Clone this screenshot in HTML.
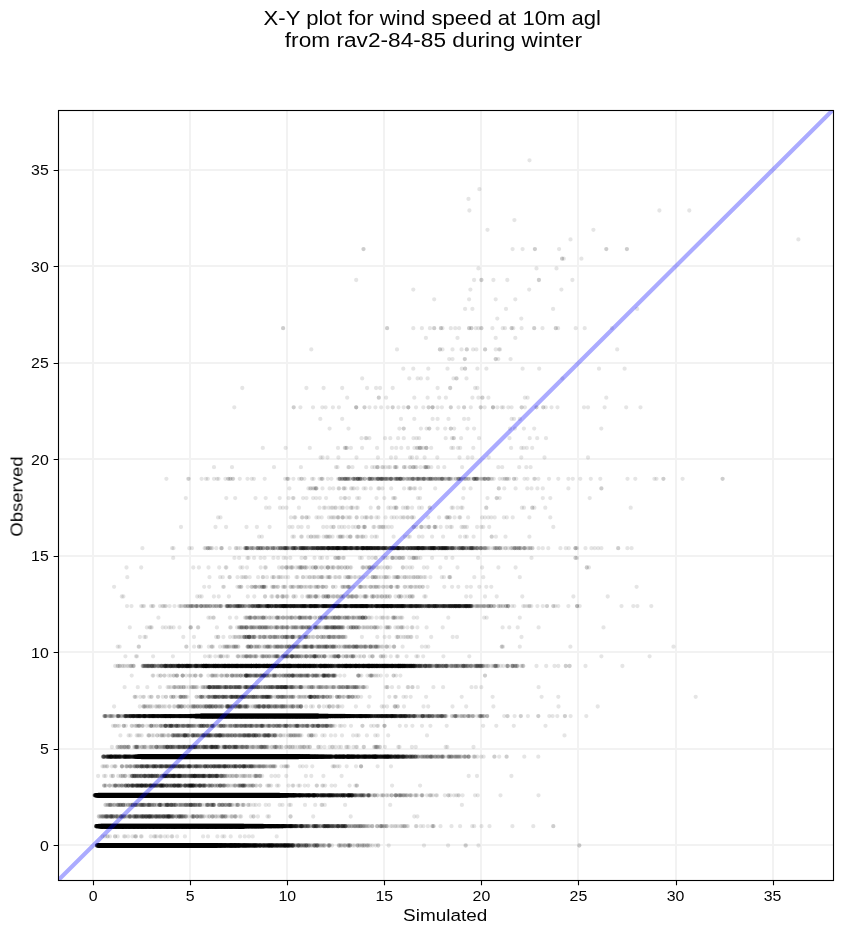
<!DOCTYPE html>
<html><head><meta charset="utf-8"><title>X-Y plot</title>
<style>html,body{margin:0;padding:0;background:#fff}svg{display:block}</style></head>
<body>
<svg width="843" height="934" viewBox="0 0 843 934">
<rect width="843" height="934" fill="#fff"/>
<clipPath id="c"><rect x="58.5" y="110.5" width="775.0" height="770.0"/></clipPath>
<g clip-path="url(#c)">
<path d="M93 110.5V880.5M190 110.5V880.5M287 110.5V880.5M384 110.5V880.5M481 110.5V880.5M578 110.5V880.5M676 110.5V880.5M773 110.5V880.5M58.5 845H833.5M58.5 749H833.5M58.5 652H833.5M58.5 556H833.5M58.5 459H833.5M58.5 363H833.5M58.5 266H833.5M58.5 170H833.5" stroke="#b0b0b0" stroke-opacity="0.16" stroke-width="2" fill="none"/>
<g fill="none" stroke="#000" stroke-linecap="round" stroke-width="4.3">
<path stroke-opacity="0.5" stroke-width="4.5" d="M97.1 845.5H238.6M96.3 826.2H282.3M96.2 795.3H295.0M136.2 756.7H328.5M190.4 716.1H344.9"/>
<path stroke-opacity="0.85" stroke-width="4.8" d="M99.4 845.5H216.1M98.8 826.2H263.0M97.2 795.3H287.2M139.0 756.7H308.5M195.7 716.1H327.9"/>
<path stroke-opacity="1" stroke-width="5.0" d="M101.6 845.5H193.1M101.3 826.2H243.3M98.5 795.3H279.2M141.5 756.7H298.2M201.4 716.1H317.7"/>
<g stroke-opacity="0.1">
<path d="M536.5 268.4h0m-55.1 59.8h0m-170.1 21.2h0m-69 38.6h0m150.4 19.3h0m-50.5 11.6h0m74.4 19.3h0m3.1 9.7h0m-23.9 9.6h0m-58.3 9.7h0m-135.9 11.6h0m143.7 0h0m27 0h0m24 0h0m27.3 0h0m29.5 0h0m37.7 0h0m-80.5 9.6h0m52.9 9.7h0m24.3 0h0m-131.1 9.6h0m55.6 9.7h0m-53.8 9.6h0m-30.4 9.7h0m-70.8 11.5h0m27.4 0h0m16.8 0h0m13.6 0h0m11.1 0h0m9.1 0h0m8.5 0h0m8.4 0h0m11 0h0m7.9 0h0m9.3 0h0m12.5 0h0m9.7 0h0m12.3 0h0m8.9 0h0m10.4 0h0m10.7 0h0m16 0h0m17.4 0h0m45.6 0h0m74.5 0h0m-333.5 9.7h0m151.6 0h0m-197 9.6h0m113.2 0h0m-11.4 9.7h0m83.6 0h0m-290.5 9.6h0m184.8 0h0m74.2 0h0m-63.8 9.7h0m55.4 0h0m-167.1 9.6h0m33.1 0h0m21.8 0h0m13.9 0h0m9.6 0h0m8.2 0h0m8.1 0h0m8.9 0h0m8 0h0m6.8 0h0m8.7 0h0m8.1 0h0m5.4 0h0m7.2 0h0m7.1 0h0m7 0h0m5.3 0h0m7.4 0h0m7.7 0h0m6.2 0h0m5.5 0h0m7.8 0h0m8.2 0h0m9.2 0h0m12.1 0h0m10.4 0h0m10.9 0h0m8.6 0h0m9.3 0h0m25.8 0h0m-249 11.6h0m44.6 0h0m38.7 0h0m34.7 0h0m-146 9.7h0m48.5 0h0m37.3 0h0m29.5 0h0m31.3 0h0m154.2 0h0m-273.2 9.6h0m32 0h0m34 0h0m93 0h0m-180.3 9.7h0m47.1 0h0m28.6 0h0m26.4 0h0m30.8 0h0m65.8 0h0m-157 9.6h0m27.2 0h0m25.1 0h0m41.8 0h0m-206.4 9.7h0m16.3 0h0m10.3 0h0m8.1 0h0m9.1 0h0m8 0h0m5.4 0h0m6.6 0h0m6.3 0h0m5.6 0h0m5.5 0h0m4.9 0h0m6.4 0h0m5.5 0h0m5.1 0h0m4.3 0h0m5.8 0h0m4.4 0h0m5 0h0m5.4 0h0m5.1 0h0m4.3 0h0m6.5 0h0m5.9 0h0m5.7 0h0m6.2 0h0m7.5 0h0m6.1 0h0m7.5 0h0m8.7 0h0m5.6 0h0m5.8 0h0m5 0h0m6.4 0h0m4 0h0m5 0h0m5.5 0h0m4.7 0h0m5.9 0h0m5.9 0h0m4.7 0h0m6 0h0m6.6 0h0m14.5 0h0m19.7 0h0m25.2 0h0m33.3 0h0m-312.7 9.6h0m51.4 0h0m18.3 0h0m27.4 0h0m24.2 0h0m41.5 0h0m-190.4 11.6h0m45.1 0h0m18.1 0h0m19.6 0h0m21.3 0h0m14.3 0h0m27.8 0h0m38.5 0h0m-189.5 9.6h0m50.8 0h0m18.6 0h0m15.6 0h0m19.2 0h0m26.5 0h0m30.2 0h0m-129.1 9.7h0m27.6 0h0m23 0h0m25.1 0h0m29.9 0h0m-191.2 9.6h0m20.5 0h0m8.1 0h0m6.6 0h0m7 0h0m6 0h0m6.1 0h0m4.9 0h0m4.9 0h0m6 0h0m4.8 0h0m5.1 0h0m5.3 0h0m3.4 0h0m5.2 0h0m4.9 0h0m4.3 0h0m4.4 0h0m5.5 0h0m5.4 0h0m5.1 0h0m4.4 0h0m4.8 0h0m4.4 0h0m4.9 0h0m4.9 0h0m5 0h0m4.8 0h0m7.1 0h0m4 0h0m4.7 0h0m5.1 0h0m4.3 0h0m5 0h0m3.7 0h0m5.3 0h0m5.2 0h0m4.8 0h0m5 0h0m5.6 0h0m4.4 0h0m4.7 0h0m4.6 0h0m4.6 0h0m4 0h0m3.9 0h0m5.6 0h0m4.9 0h0m5.6 0h0m8 0h0m7.6 0h0m7.8 0h0m8.5 0h0m9.4 0h0m18.6 0h0m26.9 0h0m-291.2 9.7h0m18.9 0h0m21.8 0h0m26.7 0h0m22.2 0h0m24.9 0h0m24.6 0h0m24.1 0h0m-206.2 9.6h0m63.5 0h0m19.5 0h0m16.5 0h0m23.9 0h0m19.5 0h0m30.9 0h0m270.3 0h0m-428.2 11.6h0m33.3 0h0m18.4 0h0m16.9 0h0m17.5 0h0m19.2 0h0m33.1 0h0m100.2 0h0m-266.7 9.7h0m7 0h0m8.7 0h0m5.8 0h0m6.9 0h0m4.5 0h0m5.9 0h0m3.9 0h0m4.5 0h0m4.9 0h0m4.6 0h0m5.2 0h0m4.6 0h0m3.6 0h0m4.6 0h0m4.7 0h0m4.5 0h0m5.8 0h0m3.8 0h0m3.8 0h0m5.1 0h0m5 0h0m4.7 0h0m3.7 0h0m4.5 0h0m5.2 0h0m5.1 0h0m5.7 0h0m5.5 0h0m4.7 0h0m4.3 0h0m4.5 0h0m4.2 0h0m4.1 0h0m5.2 0h0m4.3 0h0m4.2 0h0m4.1 0h0m4.9 0h0m4.9 0h0m4.2 0h0m4.4 0h0m4.1 0h0m3.6 0h0m4.5 0h0m5.4 0h0m6.1 0h0m6.4 0h0m4.8 0h0m4.8 0h0m4.2 0h0m5.5 0h0m6.2 0h0m5.5 0h0m5.5 0h0m5.9 0h0m6.6 0h0m7.1 0h0m8.9 0h0m12.8 0h0m32.6 0h0m-336.6 9.6h0m34.3 0h0m15.6 0h0m15.4 0h0m15.5 0h0m18.4 0h0m14.8 0h0m17.5 0h0m21.6 0h0m-129.6 9.7h0m16.6 0h0m14.6 0h0m11.3 0h0m13.9 0h0m11.6 0h0m13.8 0h0m42.7 0h0m-144.3 9.6h0m20.7 0h0m10.2 0h0m12.9 0h0m13.1 0h0m14.8 0h0m11.6 0h0m21.3 0h0m31.9 0h0m-156.1 9.7h0m6 0h0m5.1 0h0m4.1 0h0m5.1 0h0m5.3 0h0m4.1 0h0m4.8 0h0m3.8 0h0m4.2 0h0m3.7 0h0m4.6 0h0m3.9 0h0m4.7 0h0m5.8 0h0m4.7 0h0m4.3 0h0m4.7 0h0m4.4 0h0m3.8 0h0m4.5 0h0m5.3 0h0m3.7 0h0m4.7 0h0m4.5 0h0m5.4 0h0m4.5 0h0m5.2 0h0m4.1 0h0m4 0h0m4.8 0h0m3.9 0h0m4.9 0h0m5.3 0h0m4.6 0h0m3.8 0h0m3.9 0h0m5.2 0h0m5.3 0h0m3.8 0h0m3.8 0h0m4.2 0h0m4.7 0h0m5 0h0m4.8 0h0m5.3 0h0m6.2 0h0m5.6 0h0m8.1 0h0m8.1 0h0m9.5 0h0m8.9 0h0m10.9 0h0m36.2 0h0m-262.9 9.6h0m22.5 0h0m20.4 0h0m24 0h0m29.9 0h0m-109.4 11.6h0m21 0h0m14.7 0h0m14.3 0h0m27 0h0m93.3 0h0m-191.9 9.7h0m3.9 0h0m4.3 0h0m4 0h0m4.7 0h0m4.9 0h0m3.1 0h0m5.3 0h0m4.9 0h0m4.8 0h0m4.5 0h0m5.9 0h0m4.7 0h0m5.2 0h0m4.7 0h0m4.7 0h0m4.6 0h0m3.2 0h0m5.8 0h0m4.8 0h0m5.4 0h0m6.5 0h0m4.7 0h0m4.7 0h0m4.6 0h0m4.2 0h0m5 0h0m5.4 0h0m4.5 0h0m5 0h0m4 0h0m3.7 0h0m4 0h0m5 0h0m4.6 0h0m4.9 0h0m4.7 0h0m3.7 0h0m4.6 0h0m6.1 0h0m5.3 0h0m6.5 0h0m11.5 0h0m18.2 0h0m13.5 0h0m17.4 0h0m48.4 0h0m-153.9 10.2h0m-146.9 9.1h0m5.1 0h0m5 0h0m3.6 0h0m5.1 0h0m5.2 0h0m4.5 0h0m5.1 0h0m5.3 0h0m5.2 0h0m4.1 0h0m4.3 0h0m4.7 0h0m5.5 0h0m4.5 0h0m5.1 0h0m5 0h0m5.8 0h0m4.7 0h0m5.3 0h0m4.8 0h0m4.4 0h0m3.9 0h0m4 0h0m4.5 0h0m3.6 0h0m4.4 0h0m4.7 0h0m3.9 0h0m4.5 0h0m4.7 0h0m4.6 0h0m5.4 0h0m5.9 0h0m7.6 0h0m6.2 0h0m8.2 0h0m7.2 0h0m11.1 0h0m24.1 0h0m55.6 0h0"/>
<path d="M556.5 268.4h0m-64.1 59.8h0m-95.4 21.2h0m-90.6 38.6h0m92 19.3h0m2.6 11.6h0m18.1 19.3h0m.6 9.7h0m-9.6 9.6h0m-61.8 9.7h0m-142.4 11.6h0m139.5 0h0m27.1 0h0m24.1 0h0m27.1 0h0m32 0h0m36.3 0h0m-81.5 9.6h0m86.2 9.7h0m-139 9.6h0m56.1 9.7h0m-55.2 9.6h0m-29.4 9.7h0m-71.3 11.5h0m26.6 0h0m17 0h0m13.5 0h0m11.2 0h0m9.1 0h0m8.3 0h0m9.1 0h0m10.2 0h0m8 0h0m9.4 0h0m12.4 0h0m9.9 0h0m12.3 0h0m8.8 0h0m10.5 0h0m10.9 0h0m15.8 0h0m19.5 0h0m43.6 0h0m77.4 0h0m-328 9.7h0m144.6 0h0m-192.3 9.6h0m107.7 0h0m-12 9.7h0m83.3 0h0m-200.5 9.6h0m96.2 0h0m73.8 0h0m-63.9 9.7h0m54.9 0h0m-167.2 9.6h0m33.5 0h0m21.1 0h0m14 0h0m9.4 0h0m8.3 0h0m8.7 0h0m8.3 0h0m8.1 0h0m6.8 0h0m8.6 0h0m8.2 0h0m5.5 0h0m6.9 0h0m7.6 0h0m6.6 0h0m5.2 0h0m7.7 0h0m7.4 0h0m6.3 0h0m5.5 0h0m7.9 0h0m8.6 0h0m8.7 0h0m12 0h0m10.5 0h0m11.1 0h0m8.5 0h0m9.2 0h0m26.2 0h0m-248.1 11.6h0m43.9 0h0m39.5 0h0m33.3 0h0m-132.9 9.7h0m36.4 0h0m36.6 0h0m29.6 0h0m32.2 0h0m173.7 0h0m-293.6 9.6h0m32.5 0h0m35.4 0h0m92.5 0h0m-180.9 9.7h0m46.6 0h0m28.1 0h0m26.2 0h0m30.8 0h0m69.5 0h0m-159.5 9.6h0m25.9 0h0m26.6 0h0m42.1 0h0m-245.6 9.7h0m38.6 0h0m15.6 0h0m10 0h0m8 0h0m9.1 0h0m8.4 0h0m4.9 0h0m6.8 0h0m6.8 0h0m4.9 0h0m5.7 0h0m5.2 0h0m6 0h0m5.4 0h0m5.1 0h0m4.3 0h0m6.1 0h0m4.4 0h0m4.7 0h0m5.5 0h0m5.5 0h0m4 0h0m7 0h0m5.2 0h0m5.7 0h0m6.2 0h0m7.5 0h0m6.3 0h0m8.5 0h0m7.6 0h0m5.6 0h0m5.7 0h0m5.7 0h0m5.8 0h0m4 0h0m4.9 0h0m5.5 0h0m4.8 0h0m5.9 0h0m6 0h0m4.5 0h0m6.1 0h0m6.7 0h0m14.5 0h0m20.7 0h0m24.1 0h0m36.6 0h0m-315.3 9.6h0m50.7 0h0m19.5 0h0m26.4 0h0m24.1 0h0m41.4 0h0m-189.1 11.6h0m43.9 0h0m18 0h0m20.1 0h0m21 0h0m14.1 0h0m29.9 0h0m36.9 0h0m-187 9.6h0m48.8 0h0m17.5 0h0m16.4 0h0m18.7 0h0m27.1 0h0m29.6 0h0m-128.9 9.7h0m27.5 0h0m22.8 0h0m25.4 0h0m30.1 0h0m-191 9.6h0m20.2 0h0m7.5 0h0m6.8 0h0m7.3 0h0m5.5 0h0m6.2 0h0m4.9 0h0m4.9 0h0m6 0h0m4.9 0h0m4.9 0h0m5.3 0h0m3.5 0h0m5.2 0h0m4.8 0h0m4.3 0h0m4.4 0h0m5.6 0h0m5.4 0h0m5.2 0h0m4.5 0h0m4.6 0h0m4.3 0h0m5 0h0m4.9 0h0m4.9 0h0m5.1 0h0m6.8 0h0m4.2 0h0m4.5 0h0m5.2 0h0m4.3 0h0m4.9 0h0m3.7 0h0m5.4 0h0m5.1 0h0m5.1 0h0m4.9 0h0m5.5 0h0m4.5 0h0m4.7 0h0m4.7 0h0m4.3 0h0m4 0h0m3.9 0h0m5.6 0h0m5 0h0m5.7 0h0m7.9 0h0m7.6 0h0m7.8 0h0m8.5 0h0m9.4 0h0m18.7 0h0m27.4 0h0m-290.4 9.7h0m18 0h0m21.2 0h0m27.6 0h0m21.6 0h0m25.8 0h0m23.8 0h0m24 0h0m156.3 0h0m-354.6 9.6h0m55.4 0h0m19.6 0h0m16.4 0h0m24 0h0m19.9 0h0m31.6 0h0m-158.6 11.6h0m33.4 0h0m17.9 0h0m17.1 0h0m18.4 0h0m18.5 0h0m32.9 0h0m100.7 0h0m-267.6 9.7h0m7.3 0h0m8.7 0h0m5.5 0h0m7 0h0m4.6 0h0m5.8 0h0m3.9 0h0m4.7 0h0m4.7 0h0m4.5 0h0m5.3 0h0m4.5 0h0m3.6 0h0m4.6 0h0m4.7 0h0m4.5 0h0m5.9 0h0m3.8 0h0m3.8 0h0m5 0h0m5 0h0m4.7 0h0m3.9 0h0m4.4 0h0m5.3 0h0m4.9 0h0m5.8 0h0m5.6 0h0m4.6 0h0m4.3 0h0m4.6 0h0m4.2 0h0m4 0h0m5.1 0h0m4.3 0h0m4.4 0h0m4 0h0m5 0h0m5 0h0m4 0h0m4.5 0h0m3.9 0h0m3.7 0h0m4.7 0h0m5.1 0h0m6.3 0h0m6.2 0h0m4.9 0h0m4.7 0h0m4.2 0h0m5.6 0h0m6.1 0h0m5.8 0h0m5.3 0h0m5.9 0h0m6.5 0h0m7.5 0h0m8.5 0h0m14.6 0h0m31.3 0h0m-334.8 9.6h0m32.5 0h0m15.3 0h0m15.3 0h0m16.1 0h0m17.7 0h0m15 0h0m17.6 0h0m22.1 0h0m-129.9 9.7h0m16.5 0h0m14.8 0h0m11 0h0m14.4 0h0m11.3 0h0m13.7 0h0m42.6 0h0m-144.3 9.6h0m20.5 0h0m10.2 0h0m13.3 0h0m13.7 0h0m13.9 0h0m11.7 0h0m21.4 0h0m32.4 0h0m-157 9.7h0m6 0h0m5.3 0h0m4.1 0h0m4.9 0h0m5.6 0h0m3.9 0h0m4.8 0h0m4 0h0m4 0h0m3.7 0h0m4.6 0h0m4 0h0m4.5 0h0m6 0h0m4.5 0h0m4.4 0h0m4.7 0h0m4.4 0h0m3.7 0h0m4.6 0h0m5.3 0h0m3.8 0h0m4.7 0h0m4.4 0h0m5.3 0h0m4.5 0h0m5.2 0h0m4.3 0h0m3.9 0h0m5 0h0m3.9 0h0m4.7 0h0m5.3 0h0m4.5 0h0m3.8 0h0m4 0h0m5.2 0h0m5.3 0h0m3.7 0h0m3.9 0h0m4.1 0h0m4.9 0h0m5 0h0m4.8 0h0m5.2 0h0m6.1 0h0m5.7 0h0m8.2 0h0m8 0h0m9.8 0h0m8.5 0h0m11.5 0h0m36.1 0h0m-261.6 9.6h0m22.1 0h0m19.3 0h0m23.8 0h0m30.1 0h0m-109.5 11.6h0m20.9 0h0m14.7 0h0m14.5 0h0m27.4 0h0m115.2 0h0m-214.5 9.7h0m3.9 0h0m4.5 0h0m4.2 0h0m4.5 0h0m4.8 0h0m3 0h0m5.3 0h0m4.9 0h0m4.8 0h0m4.7 0h0m6 0h0m4.4 0h0m5.4 0h0m4.5 0h0m4.7 0h0m4.7 0h0m3.2 0h0m5.8 0h0m4.8 0h0m5.4 0h0m6.5 0h0m4.6 0h0m4.7 0h0m4.6 0h0m4.2 0h0m5 0h0m5.5 0h0m4.5 0h0m4.9 0h0m4.4 0h0m3.3 0h0m4.1 0h0m5 0h0m4.7 0h0m4.7 0h0m4.7 0h0m3.9 0h0m4.6 0h0m6 0h0m5.4 0h0m7 0h0m10.9 0h0m18.2 0h0m13.7 0h0m17.9 0h0m48.9 0h0m-151.4 10.2h0m-155.6 9.1h0m4.9 0h0m5.1 0h0m5.2 0h0m3.4 0h0m5.1 0h0m5.3 0h0m4.5 0h0m5.1 0h0m5.2 0h0m5.3 0h0m4.1 0h0m4.3 0h0m4.7 0h0m5.4 0h0m4.6 0h0m5 0h0m5 0h0m5.9 0h0m4.6 0h0m5.4 0h0m4.7 0h0m4.4 0h0m4 0h0m4 0h0m4.5 0h0m3.7 0h0m4.2 0h0m4.7 0h0m4 0h0m4.7 0h0m4.4 0h0m4.6 0h0m5.7 0h0m5.9 0h0m7.4 0h0m6.4 0h0m7.9 0h0m7.3 0h0m11.9 0h0m24.4 0h0m64.7 0h0"/>
<path d="M356.2 280h0m146.5 48.2h0m-62.8 21.2h0m-116.3 38.6h0m80.1 19.3h0m10.6 11.6h0m31.4 19.3h0m-25.4 9.7h0m-8.2 9.6h0m-63.1 9.7h0m-141.2 11.6h0m138.6 0h0m27.2 0h0m23.6 0h0m26.6 0h0m32.2 0h0m37.8 0h0m-79.9 9.6h0m82.8 9.7h0m-126 9.6h0m-152.6 9.7h0m210.1 0h0m-69.3 9.6h0m-28.9 9.7h0m-71.9 11.5h0m26.6 0h0m16.9 0h0m13.6 0h0m12.2 0h0m8.5 0h0m7.7 0h0m9.1 0h0m10.3 0h0m7.9 0h0m9.5 0h0m12.8 0h0m9.8 0h0m12 0h0m8.8 0h0m10.7 0h0m10.8 0h0m16.4 0h0m18.7 0h0m44.1 0h0m93.7 0h0m-340.1 9.7h0m142.4 0h0m-194.1 9.6h0m107.5 0h0m-11.8 9.7h0m84.5 0h0m-197.4 9.6h0m91.9 0h0m74.7 0h0m-65 9.7h0m54.8 0h0m-165 9.6h0m31.6 0h0m20.5 0h0m14.1 0h0m9.7 0h0m8 0h0m8.6 0h0m8.3 0h0m8.5 0h0m6.3 0h0m8.8 0h0m8.1 0h0m5.6 0h0m7 0h0m7.4 0h0m6.5 0h0m5.4 0h0m7.5 0h0m7.6 0h0m6.2 0h0m5.5 0h0m7.9 0h0m8.6 0h0m8.8 0h0m12.1 0h0m10.4 0h0m10.9 0h0m8.6 0h0m9.2 0h0m30.1 0h0m-251.9 11.6h0m44.9 0h0m38.5 0h0m33.2 0h0m-132.2 9.7h0m35.9 0h0m37 0h0m29.3 0h0m33.7 0h0m236.7 0h0m-357.1 9.6h0m31.2 0h0m36.2 0h0m93.7 0h0m-182.2 9.7h0m48.4 0h0m25.7 0h0m26.1 0h0m31.1 0h0m71.7 0h0m-302.9 9.6h0m141.3 0h0m25.9 0h0m26.4 0h0m45 0h0m-246.4 9.7h0m36.3 0h0m15.6 0h0m10 0h0m7.9 0h0m9.2 0h0m8.3 0h0m5 0h0m6.8 0h0m6.7 0h0m4.9 0h0m5.7 0h0m5.5 0h0m5.7 0h0m5.5 0h0m5.3 0h0m4.1 0h0m6.3 0h0m4.4 0h0m4.5 0h0m5.4 0h0m5.5 0h0m4.1 0h0m7 0h0m5.3 0h0m6 0h0m5.9 0h0m7.4 0h0m6.2 0h0m8.5 0h0m7.8 0h0m5.5 0h0m5.7 0h0m5.6 0h0m5.8 0h0m4 0h0m5 0h0m5.8 0h0m4.5 0h0m5.9 0h0m6.1 0h0m4.3 0h0m6.1 0h0m6.7 0h0m14.5 0h0m21.1 0h0m24.6 0h0m36.6 0h0m-311.8 9.6h0m46.4 0h0m19.5 0h0m26.3 0h0m24.4 0h0m41.5 0h0m-187.7 11.6h0m42.4 0h0m17.8 0h0m20.1 0h0m21.3 0h0m13.8 0h0m31.8 0h0m35.6 0h0m-187.5 9.6h0m48.7 0h0m17.8 0h0m16.6 0h0m18.2 0h0m30.7 0h0m27 0h0m-129.4 9.7h0m30 0h0m19.9 0h0m26.1 0h0m29.2 0h0m-190.7 9.6h0m20.1 0h0m7.4 0h0m6.8 0h0m7.3 0h0m5.5 0h0m6.3 0h0m4.7 0h0m5 0h0m5.9 0h0m5 0h0m4.9 0h0m5.2 0h0m3.6 0h0m5.2 0h0m4.7 0h0m4.4 0h0m4.4 0h0m5.6 0h0m5.5 0h0m5.1 0h0m4.5 0h0m4.5 0h0m4.4 0h0m4.9 0h0m5 0h0m4.9 0h0m5.1 0h0m7 0h0m4.1 0h0m4.5 0h0m5 0h0m4.3 0h0m5 0h0m3.6 0h0m5.5 0h0m5.2 0h0m5 0h0m4.9 0h0m5.4 0h0m4.6 0h0m4.7 0h0m4.7 0h0m4.3 0h0m3.9 0h0m4 0h0m5.6 0h0m4.9 0h0m6 0h0m7.7 0h0m7.8 0h0m7.5 0h0m8.5 0h0m9.6 0h0m19.1 0h0m26.9 0h0m-290.3 9.7h0m17.9 0h0m21.4 0h0m27.9 0h0m22.5 0h0m24.5 0h0m24.9 0h0m22.8 0h0m169.3 0h0m-365.8 9.6h0m53.8 0h0m19.6 0h0m16.4 0h0m24 0h0m19.7 0h0m31.7 0h0m-158.4 11.6h0m33 0h0m18 0h0m17.6 0h0m17.9 0h0m18.5 0h0m33.1 0h0m100.9 0h0m-267.7 9.7h0m7 0h0m8.6 0h0m5.8 0h0m6.8 0h0m4.6 0h0m5.8 0h0m4 0h0m4.7 0h0m4.7 0h0m4.4 0h0m5.3 0h0m4.4 0h0m3.7 0h0m4.6 0h0m4.7 0h0m4.5 0h0m5.8 0h0m3.9 0h0m3.7 0h0m5 0h0m5.1 0h0m4.6 0h0m3.9 0h0m4.5 0h0m5.2 0h0m5 0h0m5.9 0h0m5.5 0h0m4.7 0h0m4.3 0h0m4.4 0h0m4.3 0h0m4 0h0m5.1 0h0m4.2 0h0m4.6 0h0m3.9 0h0m5 0h0m5 0h0m3.9 0h0m4.5 0h0m3.9 0h0m3.7 0h0m4.7 0h0m5.3 0h0m6.2 0h0m6.3 0h0m4.9 0h0m4.5 0h0m4.3 0h0m5.6 0h0m6.2 0h0m5.7 0h0m5.3 0h0m5.9 0h0m6.5 0h0m7.5 0h0m8.4 0h0m14.7 0h0m31.6 0h0m-334.2 9.6h0m31.5 0h0m15.5 0h0m15.6 0h0m15.6 0h0m18.1 0h0m14.7 0h0m17.6 0h0m22.8 0h0m-130.2 9.7h0m16.5 0h0m14.5 0h0m10.9 0h0m14.5 0h0m11.2 0h0m13.7 0h0m42.6 0h0m-144.4 9.6h0m20.7 0h0m10.5 0h0m12.9 0h0m13.9 0h0m13.9 0h0m11.8 0h0m21.2 0h0m32.5 0h0m-157.2 9.7h0m5.9 0h0m5.3 0h0m4.3 0h0m4.8 0h0m5.6 0h0m4 0h0m4.7 0h0m4.1 0h0m3.9 0h0m3.6 0h0m4.6 0h0m4.1 0h0m4.7 0h0m5.8 0h0m4.5 0h0m4.3 0h0m4.7 0h0m4.6 0h0m3.7 0h0m4.4 0h0m5.3 0h0m3.9 0h0m4.7 0h0m4.3 0h0m5.4 0h0m4.5 0h0m5.1 0h0m4.3 0h0m3.9 0h0m5.1 0h0m4.1 0h0m4.4 0h0m5.4 0h0m4.6 0h0m3.8 0h0m3.8 0h0m5.3 0h0m5.3 0h0m3.6 0h0m3.9 0h0m4.3 0h0m4.8 0h0m5 0h0m4.7 0h0m5.3 0h0m6.1 0h0m5.8 0h0m8.1 0h0m7.9 0h0m9.8 0h0m8.8 0h0m11.4 0h0m36 0h0m-291 9.6h0m29.9 0h0m21.7 0h0m19.2 0h0m23.7 0h0m30.5 0h0m-131.7 11.6h0m21.8 0h0m21 0h0m15 0h0m14.8 0h0m28.2 0h0m151.2 0h0m-251.9 9.7h0m3.9 0h0m4.4 0h0m4.2 0h0m4.6 0h0m4.7 0h0m3.1 0h0m5.4 0h0m4.8 0h0m4.7 0h0m4.8 0h0m6 0h0m4.3 0h0m5.6 0h0m4.6 0h0m4.5 0h0m4.6 0h0m3.3 0h0m5.9 0h0m4.8 0h0m5.5 0h0m6.2 0h0m4.7 0h0m4.7 0h0m4.7 0h0m4.1 0h0m4.9 0h0m5.6 0h0m4.5 0h0m4.9 0h0m4.3 0h0m3.3 0h0m4.1 0h0m5.1 0h0m4.6 0h0m4.8 0h0m4.6 0h0m4 0h0m4.5 0h0m6.4 0h0m5.3 0h0m6.8 0h0m11 0h0m18.1 0h0m13.7 0h0m17.9 0h0m48.9 0h0m-127.5 10.2h0m-179.5 9.1h0m5.2 0h0m5.2 0h0m4.8 0h0m3.5 0h0m5 0h0m5.2 0h0m4.7 0h0m5 0h0m5.2 0h0m5.2 0h0m4.1 0h0m4.4 0h0m4.6 0h0m5.4 0h0m4.7 0h0m5 0h0m5 0h0m5.8 0h0m4.7 0h0m5.3 0h0m4.8 0h0m4.7 0h0m3.7 0h0m3.9 0h0m4.5 0h0m3.7 0h0m4.2 0h0m4.8 0h0m4.1 0h0m4.5 0h0m4.7 0h0m4.4 0h0m5.8 0h0m6.1 0h0m7.3 0h0m6.1 0h0m8.1 0h0m7.2 0h0m11.8 0h0m24.9 0h0m99.5 0h0"/>
<path d="M474.1 280h0m30.9 48.2h0m-65.1 21.2h0m-97.7 38.6h0m66.1 19.3h0m24.3 11.6h0m19.3 19.3h0m-30.5 9.7h0m-4.6 9.6h0m-64.3 9.7h0m-138.5 11.6h0m132.4 0h0m28.5 0h0m22.7 0h0m26.8 0h0m33.2 0h0m42.1 0h0m-84.4 9.6h0m84.4 9.7h0m-121.3 9.6h0m-157.9 9.7h0m218.6 0h0m-75.7 9.6h0m-30.8 9.7h0m-74.5 11.5h0m27 0h0m17 0h0m13.5 0h0m11.8 0h0m8.6 0h0m8 0h0m8.7 0h0m10.4 0h0m8 0h0m9.8 0h0m12.4 0h0m9.8 0h0m12.6 0h0m8.6 0h0m10.3 0h0m10.7 0h0m16.6 0h0m18.7 0h0m44.1 0h0m93.5 0h0m-334.6 9.7h0m148.5 0h0m-191.7 9.6h0m97.2 0h0m-14.6 9.7h0m85.8 0h0m-185.7 9.6h0m78.5 0h0m74.3 0h0m-63.4 9.7h0m53.6 0h0m-165.4 9.6h0m32.6 0h0m19.5 0h0m14.2 0h0m9.8 0h0m7.9 0h0m8.4 0h0m8.4 0h0m8.6 0h0m6.1 0h0m8.8 0h0m8.3 0h0m5.5 0h0m6.9 0h0m7.7 0h0m6.2 0h0m5.8 0h0m7.2 0h0m8.3 0h0m5.5 0h0m5.4 0h0m8.1 0h0m8.6 0h0m9.1 0h0m11.9 0h0m10.2 0h0m10.9 0h0m8.6 0h0m9.3 0h0m30 0h0m-250.8 11.6h0m43.8 0h0m40.3 0h0m33.2 0h0m-128 9.7h0m30.4 0h0m36.7 0h0m29.6 0h0m34.1 0h0m-121.4 9.6h0m32.8 0h0m38.3 0h0m90.9 0h0m113.1 0h0m-295 9.7h0m48.2 0h0m26.6 0h0m25.1 0h0m30.3 0h0m-220.7 9.6h0m131 0h0m25.9 0h0m26.2 0h0m45 0h0m-246.1 9.7h0m36.4 0h0m15.8 0h0m9.3 0h0m8 0h0m9.3 0h0m8.1 0h0m5.3 0h0m6.6 0h0m6.6 0h0m5 0h0m5.9 0h0m5.3 0h0m5.6 0h0m5.7 0h0m5.2 0h0m4.1 0h0m6.2 0h0m4.5 0h0m4.4 0h0m5.5 0h0m5.5 0h0m4.1 0h0m7 0h0m5.2 0h0m6.3 0h0m5.6 0h0m7.5 0h0m6.1 0h0m8.7 0h0m7.9 0h0m5.2 0h0m5.8 0h0m5.8 0h0m5.5 0h0m4.3 0h0m4.8 0h0m5.7 0h0m4.5 0h0m6.1 0h0m5.9 0h0m4.4 0h0m6.1 0h0m7.3 0h0m14.3 0h0m20.9 0h0m24.4 0h0m37 0h0m-312.1 9.6h0m46.7 0h0m19.3 0h0m26.1 0h0m24.7 0h0m41.3 0h0m-185.2 11.6h0m39.8 0h0m17.7 0h0m20.5 0h0m21 0h0m13.9 0h0m31.8 0h0m36.2 0h0m-183.4 9.6h0m43.9 0h0m18.2 0h0m16.2 0h0m18.6 0h0m30.9 0h0m27.9 0h0m-212.6 9.7h0m83.2 0h0m29.5 0h0m19.2 0h0m25.8 0h0m29.4 0h0m-190.9 9.6h0m20.1 0h0m7.7 0h0m6.5 0h0m7.2 0h0m5.7 0h0m6.2 0h0m4.7 0h0m4.9 0h0m6 0h0m4.9 0h0m5.1 0h0m5 0h0m3.7 0h0m5.2 0h0m4.7 0h0m4.3 0h0m4.6 0h0m5.5 0h0m5.5 0h0m5 0h0m4.6 0h0m4.5 0h0m4.5 0h0m4.9 0h0m4.8 0h0m4.9 0h0m5.1 0h0m7 0h0m4.2 0h0m4.5 0h0m5.1 0h0m4.6 0h0m4.5 0h0m3.7 0h0m5.6 0h0m5.2 0h0m4.9 0h0m4.9 0h0m5.3 0h0m4.6 0h0m4.7 0h0m4.9 0h0m4.2 0h0m3.8 0h0m4.2 0h0m5.5 0h0m4.9 0h0m5.9 0h0m7.7 0h0m8 0h0m7.4 0h0m8.5 0h0m9.9 0h0m19.2 0h0m26.5 0h0m-290.4 9.7h0m18 0h0m22.5 0h0m26.9 0h0m23.1 0h0m24 0h0m24.6 0h0m22.8 0h0m186.8 0h0m-377.1 9.6h0m47.9 0h0m19.4 0h0m16.6 0h0m24 0h0m19.6 0h0m32.5 0h0m-159.4 11.6h0m33.3 0h0m17.9 0h0m17.4 0h0m18 0h0m18.4 0h0m34.1 0h0m99.9 0h0m-267.4 9.7h0m6.7 0h0m8.6 0h0m6.3 0h0m6.4 0h0m4.5 0h0m5.8 0h0m4 0h0m4.8 0h0m4.8 0h0m4.2 0h0m5.6 0h0m4.2 0h0m3.7 0h0m4.7 0h0m4.6 0h0m4.7 0h0m5.5 0h0m3.9 0h0m3.8 0h0m5 0h0m5 0h0m4.7 0h0m4.1 0h0m4.3 0h0m5.2 0h0m4.9 0h0m6 0h0m5.4 0h0m4.9 0h0m4.2 0h0m4.4 0h0m4.3 0h0m4 0h0m5.4 0h0m3.9 0h0m4.7 0h0m3.8 0h0m5.1 0h0m4.9 0h0m3.8 0h0m4.9 0h0m3.6 0h0m3.7 0h0m4.8 0h0m5.4 0h0m6 0h0m6.2 0h0m5.1 0h0m4.5 0h0m4.2 0h0m5.5 0h0m6.5 0h0m5.6 0h0m5.2 0h0m5.8 0h0m6.6 0h0m7.5 0h0m8.4 0h0m14.7 0h0m31.9 0h0m-334.2 9.6h0m31.5 0h0m15.3 0h0m15.8 0h0m15.3 0h0m18.4 0h0m14.7 0h0m17.3 0h0m23.8 0h0m-130.9 9.7h0m16.1 0h0m14.6 0h0m10.9 0h0m14.4 0h0m11.3 0h0m13.9 0h0m44.2 0h0m-145.3 9.6h0m19.9 0h0m11 0h0m12.6 0h0m13.6 0h0m13.8 0h0m12 0h0m21.8 0h0m31.7 0h0m-157.2 9.7h0m6 0h0m5.2 0h0m4.3 0h0m4.9 0h0m5.7 0h0m3.8 0h0m4.8 0h0m4.1 0h0m3.8 0h0m3.8 0h0m4.5 0h0m4.1 0h0m4.7 0h0m5.7 0h0m4.6 0h0m4.4 0h0m4.6 0h0m4.7 0h0m3.5 0h0m4.4 0h0m5.3 0h0m3.9 0h0m4.7 0h0m4.5 0h0m5.4 0h0m4.3 0h0m5.3 0h0m4.2 0h0m3.9 0h0m5.3 0h0m3.9 0h0m4.3 0h0m5.5 0h0m4.7 0h0m3.6 0h0m3.9 0h0m5.3 0h0m5.2 0h0m3.8 0h0m3.9 0h0m4.4 0h0m4.5 0h0m5 0h0m4.8 0h0m5.3 0h0m6.1 0h0m5.9 0h0m8.4 0h0m7.6 0h0m9.8 0h0m8.7 0h0m11.5 0h0m38.1 0h0m-293.1 9.6h0m29.7 0h0m23.7 0h0m19.5 0h0m21.5 0h0m30.7 0h0m-131.7 11.6h0m22 0h0m20.6 0h0m15.2 0h0m14.7 0h0m28.4 0h0m214.4 0h0m-315.5 9.7h0m4 0h0m4.3 0h0m4.2 0h0m4.7 0h0m4.6 0h0m3.1 0h0m5.4 0h0m5 0h0m4.6 0h0m4.7 0h0m6 0h0m4.4 0h0m5.5 0h0m4.7 0h0m4.4 0h0m4.6 0h0m3.4 0h0m5.8 0h0m5 0h0m5.4 0h0m6.3 0h0m4.6 0h0m4.6 0h0m4.8 0h0m4 0h0m5.1 0h0m5.4 0h0m4.6 0h0m4.8 0h0m4.3 0h0m3.4 0h0m4 0h0m5.4 0h0m4.4 0h0m4.7 0h0m4.7 0h0m3.9 0h0m4.6 0h0m6.4 0h0m5.3 0h0m6.7 0h0m11.7 0h0m18 0h0m13.1 0h0m18.7 0h0m48.9 0h0m-307.7 19.3h0m5.1 0h0m5.3 0h0m4.9 0h0m3.4 0h0m4.9 0h0m5.5 0h0m4.5 0h0m4.9 0h0m5.5 0h0m5 0h0m4.1 0h0m4.5 0h0m4.5 0h0m5.5 0h0m4.6 0h0m4.9 0h0m5 0h0m5.8 0h0m4.8 0h0m5.3 0h0m4.7 0h0m4.8 0h0m3.6 0h0m3.9 0h0m4.7 0h0m3.6 0h0m4.2 0h0m4.8 0h0m4 0h0m4.6 0h0m4.8 0h0m4.2 0h0m5.9 0h0m6 0h0m7.7 0h0m5.8 0h0m8.1 0h0m7.2 0h0m12.6 0h0m24.2 0h0m123.4 0h0"/>
<path d="M481.4 280h0m30.2 48.2h0m-69.1 21.2h0m-75.4 38.6h0m41.2 19.3h0m29.3 11.6h0m16 19.3h0m-30.1 9.7h0m1.1 9.6h0m-58.4 9.7h0m-149.2 11.6h0m130.4 0h0m27.8 0h0m22.7 0h0m26.8 0h0m33.5 0h0m44.4 0h0m-82.4 9.6h0m122.6 9.7h0m-164.4 9.6h0m-87.5 9.7h0m155.4 0h0m-82 9.6h0m-26.1 9.7h0m-195.8 11.5h0m115.9 0h0m26.8 0h0m17 0h0m13.6 0h0m11.9 0h0m8.7 0h0m7.8 0h0m9 0h0m10 0h0m8.1 0h0m9.8 0h0m12.5 0h0m9.7 0h0m12.8 0h0m8.6 0h0m10 0h0m10.8 0h0m16.8 0h0m18.4 0h0m44.7 0h0m102.1 0h0m-341.2 9.7h0m159.9 0h0m-203.5 9.6h0m95.5 0h0m-11.2 9.7h0m83.7 0h0m-186.6 9.6h0m79.9 0h0m73.1 0h0m-61.7 9.7h0m51.7 0h0m-166 9.6h0m32.6 0h0m19.3 0h0m14.2 0h0m9.7 0h0m8.2 0h0m8.2 0h0m8.4 0h0m8.5 0h0m6.3 0h0m8.8 0h0m8.2 0h0m5.4 0h0m7 0h0m7.6 0h0m6.3 0h0m5.7 0h0m7.4 0h0m8.3 0h0m5.4 0h0m5.8 0h0m8 0h0m8.2 0h0m9.1 0h0m12.1 0h0m10.6 0h0m10.8 0h0m8.4 0h0m9 0h0m31.9 0h0m-251.1 11.6h0m42.6 0h0m40.3 0h0m32.9 0h0m-126.3 9.7h0m29.4 0h0m37.9 0h0m27.7 0h0m35.6 0h0m-122.9 9.6h0m33.2 0h0m37.8 0h0m93.2 0h0m-183.6 9.7h0m47.7 0h0m27.9 0h0m24.1 0h0m29.9 0h0m145.1 0h0m-364.8 9.6h0m131.7 0h0m24.2 0h0m28.2 0h0m48.6 0h0m-250.3 9.7h0m35 0h0m16 0h0m9.3 0h0m8.1 0h0m9.2 0h0m8 0h0m5.5 0h0m6.3 0h0m6.7 0h0m5.3 0h0m5.6 0h0m5.5 0h0m5.4 0h0m5.6 0h0m5.2 0h0m4.2 0h0m6.2 0h0m4.7 0h0m4.1 0h0m5.6 0h0m5.6 0h0m3.9 0h0m7 0h0m5.6 0h0m5.9 0h0m5.9 0h0m7.2 0h0m6.1 0h0m9.2 0h0m7.5 0h0m5.2 0h0m5.8 0h0m5.8 0h0m5.4 0h0m4.3 0h0m5 0h0m5.5 0h0m4.8 0h0m5.8 0h0m6 0h0m4.4 0h0m6.1 0h0m7.3 0h0m14.8 0h0m20.7 0h0m24.7 0h0m36.4 0h0m-311.5 9.6h0m46 0h0m19.9 0h0m25.9 0h0m25.1 0h0m41.4 0h0m-185.2 11.6h0m39.4 0h0m18.4 0h0m19.8 0h0m20.9 0h0m13.5 0h0m32.6 0h0m35.4 0h0m-183.2 9.6h0m43.8 0h0m18.1 0h0m16.2 0h0m18.7 0h0m31.9 0h0m27 0h0m-187.1 9.7h0m57.6 0h0m29.5 0h0m19.3 0h0m26.4 0h0m28.7 0h0m-190.3 9.6h0m19.4 0h0m7.7 0h0m6.5 0h0m7.5 0h0m5.5 0h0m6.2 0h0m4.6 0h0m4.9 0h0m6 0h0m5 0h0m5.1 0h0m5 0h0m3.7 0h0m5.2 0h0m4.6 0h0m4.4 0h0m4.5 0h0m5.6 0h0m5.4 0h0m5.1 0h0m4.6 0h0m4.4 0h0m4.6 0h0m4.9 0h0m4.8 0h0m4.8 0h0m5.3 0h0m6.8 0h0m4.3 0h0m4.5 0h0m5 0h0m4.6 0h0m4.5 0h0m3.8 0h0m5.7 0h0m5 0h0m5 0h0m4.9 0h0m5.3 0h0m4.5 0h0m4.8 0h0m4.8 0h0m4.3 0h0m3.9 0h0m4 0h0m5.7 0h0m4.8 0h0m5.8 0h0m7.7 0h0m8.4 0h0m7 0h0m8.6 0h0m10.2 0h0m18.9 0h0m26.6 0h0m-290.5 9.7h0m18.2 0h0m22.8 0h0m28.2 0h0m21.5 0h0m23.8 0h0m25.6 0h0m21.8 0h0m218.4 0h0m-407.3 9.6h0m46.7 0h0m19.7 0h0m16.1 0h0m24.2 0h0m19.8 0h0m33.4 0h0m-159.6 11.6h0m32.4 0h0m18.3 0h0m17.2 0h0m17.8 0h0m19 0h0m33.2 0h0m101.1 0h0m-268.5 9.7h0m6.7 0h0m8.6 0h0m6.2 0h0m6.4 0h0m4.6 0h0m5.7 0h0m4.2 0h0m4.6 0h0m5 0h0m4.1 0h0m5.5 0h0m4.2 0h0m3.8 0h0m4.7 0h0m4.5 0h0m4.7 0h0m5.6 0h0m4 0h0m3.6 0h0m5.1 0h0m4.9 0h0m4.8 0h0m4 0h0m4.3 0h0m5.3 0h0m5 0h0m5.9 0h0m5.3 0h0m5.2 0h0m4.2 0h0m4.2 0h0m4.2 0h0m4.1 0h0m5.4 0h0m3.8 0h0m4.8 0h0m3.8 0h0m5 0h0m4.9 0h0m3.8 0h0m5.1 0h0m3.4 0h0m3.7 0h0m4.8 0h0m5.6 0h0m6.2 0h0m5.8 0h0m5.2 0h0m4.5 0h0m4.4 0h0m5.2 0h0m6.5 0h0m5.6 0h0m5.4 0h0m5.8 0h0m6.5 0h0m7.6 0h0m8.4 0h0m15.4 0h0m32.2 0h0m-329.3 9.6h0m25.6 0h0m15.5 0h0m15.8 0h0m16.4 0h0m18 0h0m14.5 0h0m16.7 0h0m25.2 0h0m-132.2 9.7h0m15.7 0h0m14.6 0h0m10.9 0h0m14.4 0h0m11.3 0h0m14.7 0h0m52.6 0h0m-153.3 9.6h0m18.9 0h0m10.9 0h0m12.8 0h0m13.3 0h0m14.5 0h0m11.4 0h0m22.6 0h0m33.2 0h0m-159.5 9.7h0m6 0h0m5.3 0h0m4.2 0h0m4.8 0h0m5.8 0h0m4.1 0h0m4.4 0h0m4.2 0h0m3.8 0h0m3.8 0h0m4.5 0h0m4.2 0h0m4.6 0h0m5.6 0h0m4.6 0h0m4.4 0h0m4.7 0h0m4.6 0h0m3.5 0h0m4.4 0h0m5.4 0h0m3.9 0h0m4.7 0h0m4.4 0h0m5.5 0h0m4.3 0h0m5.4 0h0m4 0h0m4 0h0m5.6 0h0m3.5 0h0m4.3 0h0m5.5 0h0m4.7 0h0m3.7 0h0m3.9 0h0m5.3 0h0m5.1 0h0m3.8 0h0m3.9 0h0m4.4 0h0m4.6 0h0m4.9 0h0m4.9 0h0m5.2 0h0m6.3 0h0m5.7 0h0m8.9 0h0m7.5 0h0m9.5 0h0m8.6 0h0m12.2 0h0m37.5 0h0m-291.6 9.6h0m28.2 0h0m23.7 0h0m19.9 0h0m21.9 0h0m31 0h0m-131.5 11.6h0m20.7 0h0m21.3 0h0m14.5 0h0m15 0h0m28.7 0h0m216.8 0h0m-318.5 9.7h0m4 0h0m4.4 0h0m4.1 0h0m4.6 0h0m4.6 0h0m3.4 0h0m5.1 0h0m5 0h0m4.9 0h0m4.5 0h0m5.9 0h0m4.4 0h0m5.5 0h0m4.8 0h0m4.5 0h0m4.5 0h0m3.3 0h0m5.8 0h0m5.6 0h0m4.9 0h0m6.3 0h0m4.7 0h0m4.4 0h0m4.9 0h0m4.1 0h0m5.2 0h0m5.1 0h0m4.6 0h0m4.8 0h0m4.3 0h0m3.4 0h0m4 0h0m5.5 0h0m4.5 0h0m4.5 0h0m4.8 0h0m3.8 0h0m4.7 0h0m6.3 0h0m5.3 0h0m6.9 0h0m12.1 0h0m17.5 0h0m13.6 0h0m19.1 0h0m49.6 0h0m-309.4 19.3h0m5.3 0h0m5.1 0h0m5.1 0h0m3.5 0h0m4.8 0h0m5.5 0h0m4.4 0h0m4.8 0h0m5.5 0h0m5 0h0m4.1 0h0m4.5 0h0m4.6 0h0m5.6 0h0m4.7 0h0m4.7 0h0m5.3 0h0m5.5 0h0m4.7 0h0m5.3 0h0m4.9 0h0m4.7 0h0m3.5 0h0m3.9 0h0m4.8 0h0m3.5 0h0m4.2 0h0m5.1 0h0m3.8 0h0m4.5 0h0m4.9 0h0m4.5 0h0m5.8 0h0m5.8 0h0m7.6 0h0m5.8 0h0m8.5 0h0m6.8 0h0m13 0h0m27.4 0h0m137.1 0h0"/>
<path d="M481.4 280h0m30.2 48.2h0m-59.1 21.2h0m-76.4 38.6h0m32.2 19.3h0m40.2 11.6h0m5.4 19.3h0m-27.6 9.7h0m11 9.6h0m-65.2 9.7h0m-153.6 11.6h0m129.1 0h0m28.5 0h0m22.1 0h0m26.6 0h0m33.6 0h0m46.1 0h0m-69.3 9.6h0m115.1 9.7h0m-162 9.6h0m-93.9 9.7h0m152.8 0h0m-82.5 9.6h0m-24.8 9.7h0m-167.8 11.5h0m87.6 0h0m25.8 0h0m16.9 0h0m13.5 0h0m11.9 0h0m8.7 0h0m7.6 0h0m9.7 0h0m9.6 0h0m7.8 0h0m10.1 0h0m12.3 0h0m9.7 0h0m12.7 0h0m8.7 0h0m10.2 0h0m10.6 0h0m16.8 0h0m18.5 0h0m47.1 0h0m103.7 0h0m-341.3 9.7h0m162.1 0h0m-205.4 9.6h0m92.2 0h0m-11.2 9.7h0m85.3 0h0m-175.9 9.6h0m68 0h0m73 0h0m-63 9.7h0m56.2 0h0m-170.4 9.6h0m32.9 0h0m19.4 0h0m13.6 0h0m9.9 0h0m8.1 0h0m8.1 0h0m8.6 0h0m8.4 0h0m6.4 0h0m8.7 0h0m8.2 0h0m5.4 0h0m7 0h0m7.6 0h0m6.5 0h0m5.4 0h0m7.5 0h0m8.3 0h0m5.3 0h0m5.9 0h0m7.9 0h0m8.4 0h0m9.3 0h0m11.7 0h0m10.7 0h0m10.8 0h0m8.3 0h0m9.1 0h0m32 0h0m-251.2 11.6h0m43.1 0h0m40.5 0h0m32.3 0h0m-126.1 9.7h0m29.8 0h0m37.1 0h0m28.5 0h0m36.6 0h0m-124.5 9.6h0m35.3 0h0m35.7 0h0m93.7 0h0m-184 9.7h0m48 0h0m27.7 0h0m23.8 0h0m30.2 0h0m144.7 0h0m-348.7 9.6h0m116 0h0m25 0h0m27.6 0h0m50.3 0h0m-252.1 9.7h0m34.8 0h0m15.7 0h0m9.6 0h0m8 0h0m9.3 0h0m7.8 0h0m5.7 0h0m6.1 0h0m6.7 0h0m5.2 0h0m5.6 0h0m5.5 0h0m5.4 0h0m5.8 0h0m5.1 0h0m4.5 0h0m5.8 0h0m4.8 0h0m4 0h0m5.7 0h0m5.6 0h0m3.9 0h0m7 0h0m5.6 0h0m5.9 0h0m5.8 0h0m7.3 0h0m6 0h0m9.4 0h0m7.3 0h0m5.2 0h0m5.9 0h0m5.9 0h0m5.6 0h0m4 0h0m5 0h0m5.4 0h0m4.8 0h0m5.8 0h0m6.1 0h0m4.3 0h0m6.7 0h0m7.1 0h0m14.4 0h0m21.2 0h0m24.2 0h0m36.5 0h0m-304.6 9.6h0m39.1 0h0m20 0h0m25.8 0h0m26 0h0m42.2 0h0m-186.8 11.6h0m39.4 0h0m18.9 0h0m19.2 0h0m20.8 0h0m13.5 0h0m33 0h0m35.4 0h0m-181.7 9.6h0m42.1 0h0m18 0h0m17.1 0h0m18.2 0h0m32.4 0h0m26.7 0h0m-184.3 9.7h0m54.3 0h0m29.4 0h0m20.1 0h0m26.6 0h0m27.6 0h0m-189.4 9.6h0m18.6 0h0m7.6 0h0m6.8 0h0m7.3 0h0m5.7 0h0m5.9 0h0m4.7 0h0m5 0h0m5.8 0h0m5 0h0m5.1 0h0m5.2 0h0m3.6 0h0m5.5 0h0m4.3 0h0m4.4 0h0m4.5 0h0m5.6 0h0m5.3 0h0m5.3 0h0m4.4 0h0m4.5 0h0m4.6 0h0m4.8 0h0m5 0h0m4.8 0h0m5.2 0h0m6.9 0h0m4.3 0h0m4.8 0h0m4.6 0h0m4.6 0h0m4.4 0h0m4 0h0m5.8 0h0m4.8 0h0m4.9 0h0m5.1 0h0m5.1 0h0m4.6 0h0m4.7 0h0m4.8 0h0m4.4 0h0m3.9 0h0m4.1 0h0m5.5 0h0m5.1 0h0m5.5 0h0m7.9 0h0m8.2 0h0m7.2 0h0m8.7 0h0m10.4 0h0m18.8 0h0m26.3 0h0m48.4 0h0m-338.5 9.7h0m18.6 0h0m22.7 0h0m27.7 0h0m21.5 0h0m24.1 0h0m25.8 0h0m21.1 0h0m-187.7 9.6h0m45.4 0h0m19.9 0h0m16.5 0h0m23.6 0h0m19.8 0h0m33.6 0h0m-159.4 11.6h0m32.2 0h0m18.7 0h0m16.7 0h0m18.1 0h0m18.6 0h0m33.5 0h0m101 0h0m-268.6 9.7h0m7.1 0h0m8.2 0h0m6.2 0h0m6.4 0h0m4.5 0h0m5.9 0h0m4 0h0m4.9 0h0m4.7 0h0m4.1 0h0m5.5 0h0m4.2 0h0m3.8 0h0m4.7 0h0m4.5 0h0m4.9 0h0m5.5 0h0m3.9 0h0m3.7 0h0m5 0h0m5.1 0h0m4.6 0h0m4.1 0h0m4.2 0h0m5.3 0h0m5 0h0m5.9 0h0m5.4 0h0m5.2 0h0m4.2 0h0m4.3 0h0m4.4 0h0m3.9 0h0m5.2 0h0m3.9 0h0m4.8 0h0m3.9 0h0m5 0h0m4.8 0h0m3.7 0h0m5.2 0h0m3.5 0h0m3.5 0h0m4.9 0h0m5.7 0h0m6 0h0m5.9 0h0m5.1 0h0m4.5 0h0m4.4 0h0m5.3 0h0m6.4 0h0m5.7 0h0m5.4 0h0m5.7 0h0m6.5 0h0m7.6 0h0m8.7 0h0m16.5 0h0m31.1 0h0m-329.3 9.6h0m25.4 0h0m15.8 0h0m15.8 0h0m16.1 0h0m18.3 0h0m14.5 0h0m16.3 0h0m25.8 0h0m-132.8 9.7h0m15.7 0h0m14.7 0h0m11 0h0m14.2 0h0m11.7 0h0m15.9 0h0m54.8 0h0m-156.3 9.6h0m18.4 0h0m11.6 0h0m11.9 0h0m13.3 0h0m14.5 0h0m11.3 0h0m22.8 0h0m33.9 0h0m-160.4 9.7h0m6 0h0m5.5 0h0m4 0h0m4.9 0h0m5.8 0h0m4.1 0h0m4.3 0h0m4.3 0h0m3.7 0h0m3.9 0h0m4.4 0h0m4.2 0h0m4.7 0h0m5.8 0h0m4.4 0h0m4.3 0h0m4.7 0h0m4.6 0h0m3.6 0h0m4.5 0h0m5.2 0h0m3.9 0h0m4.7 0h0m4.5 0h0m5.4 0h0m4.3 0h0m5.6 0h0m4 0h0m3.8 0h0m5.6 0h0m3.5 0h0m4.4 0h0m5.6 0h0m4.5 0h0m3.8 0h0m3.9 0h0m5.2 0h0m5.1 0h0m4 0h0m3.7 0h0m4.4 0h0m4.7 0h0m4.8 0h0m5 0h0m5.2 0h0m6.4 0h0m5.6 0h0m8.8 0h0m7.5 0h0m9.6 0h0m8.5 0h0m12.3 0h0m38.1 0h0m-291.2 9.6h0m27.3 0h0m23.8 0h0m19.7 0h0m22.9 0h0m30.4 0h0m-131.7 11.6h0m20.5 0h0m21.3 0h0m14.9 0h0m14.8 0h0m29.1 0h0m-102.4 9.7h0m4.1 0h0m4.4 0h0m4.2 0h0m4.5 0h0m4.6 0h0m3.4 0h0m5.1 0h0m4.9 0h0m4.9 0h0m4.5 0h0m6 0h0m4.5 0h0m5.4 0h0m4.8 0h0m4.5 0h0m4.5 0h0m3.2 0h0m5.9 0h0m5.5 0h0m5.3 0h0m5.9 0h0m4.8 0h0m4.5 0h0m4.8 0h0m4.1 0h0m5.1 0h0m5.3 0h0m4.5 0h0m4.8 0h0m4.2 0h0m3.8 0h0m3.8 0h0m5.5 0h0m4.3 0h0m4.6 0h0m4.7 0h0m3.8 0h0m4.9 0h0m6.1 0h0m5.5 0h0m6.8 0h0m12.2 0h0m17.4 0h0m13.6 0h0m19.9 0h0m49.9 0h0m-310.6 19.3h0m5.5 0h0m5.1 0h0m4.9 0h0m3.6 0h0m4.8 0h0m5.5 0h0m4.7 0h0m4.6 0h0m5.4 0h0m4.9 0h0m4.3 0h0m4.4 0h0m4.5 0h0m5.6 0h0m4.7 0h0m4.9 0h0m5.2 0h0m5.5 0h0m4.7 0h0m5.2 0h0m4.9 0h0m4.8 0h0m3.6 0h0m4 0h0m4.5 0h0m3.6 0h0m4.2 0h0m5.2 0h0m3.7 0h0m4.5 0h0m4.9 0h0m4.5 0h0m5.7 0h0m6.1 0h0m7.4 0h0m6 0h0m8.3 0h0m7 0h0m12.9 0h0m27.2 0h0m137.7 0h0"/>
<path d="M493.4 280h0m19.9 48.2h0m-51.8 21.2h0m-81.4 38.6h0m35.9 19.3h0m48.1 11.6h0m-3 19.3h0m-34.8 9.7h0m33.2 9.6h0m-84.9 9.7h0m-149.2 11.6h0m122.7 0h0m29 0h0m21.6 0h0m27.6 0h0m32.6 0h0m46.5 0h0m-41.6 9.6h0m125.9 9.7h0m-199 9.6h0m-95.4 9.7h0m152.3 0h0m-82.7 9.6h0m-24.7 9.7h0m-166.7 11.5h0m86.7 0h0m25.5 0h0m17.1 0h0m14.1 0h0m10.9 0h0m8.7 0h0m8 0h0m9.6 0h0m9.4 0h0m8.1 0h0m10.7 0h0m11.3 0h0m9.9 0h0m12.6 0h0m8.6 0h0m10.4 0h0m10.6 0h0m17 0h0m19.1 0h0m46.9 0h0m-227.2 9.7h0m176.6 0h0m53.4 0h0m-270.8 9.6h0m80.8 0h0m-12.3 9.7h0m84.6 0h0m-174.4 9.6h0m67.6 0h0m72.4 0h0m-63.9 9.7h0m56.4 0h0m-170.2 9.6h0m32.8 0h0m19.6 0h0m13 0h0m10 0h0m8.1 0h0m8.2 0h0m8.6 0h0m8.4 0h0m6.3 0h0m8.7 0h0m8.2 0h0m5.3 0h0m7.1 0h0m7.5 0h0m6.7 0h0m5.3 0h0m7.5 0h0m8.3 0h0m5.4 0h0m5.9 0h0m7.8 0h0m8.9 0h0m8.8 0h0m11.7 0h0m10.8 0h0m10.8 0h0m8.2 0h0m9.3 0h0m33.8 0h0m-252.9 11.6h0m45.2 0h0m38.5 0h0m32.4 0h0m-125.8 9.7h0m30.7 0h0m35.7 0h0m28.3 0h0m36.8 0h0m-124.1 9.6h0m34.7 0h0m38.9 0h0m95.8 0h0m-188 9.7h0m47.6 0h0m26.6 0h0m24 0h0m30.8 0h0m145.1 0h0m-330.1 9.6h0m96.5 0h0m25.4 0h0m27.2 0h0m50.7 0h0m-250.7 9.7h0m33.3 0h0m15.3 0h0m9.4 0h0m8.1 0h0m9.3 0h0m7.7 0h0m5.8 0h0m6.4 0h0m6.6 0h0m5.1 0h0m5.5 0h0m5.5 0h0m5.5 0h0m5.6 0h0m5.1 0h0m4.6 0h0m5.8 0h0m4.7 0h0m4.1 0h0m5.9 0h0m5.3 0h0m3.9 0h0m7 0h0m5.7 0h0m5.8 0h0m5.9 0h0m7.3 0h0m6 0h0m9.6 0h0m7 0h0m5.3 0h0m5.8 0h0m6 0h0m5.5 0h0m4 0h0m5 0h0m5.5 0h0m4.9 0h0m5.6 0h0m6.2 0h0m4.4 0h0m6.5 0h0m8 0h0m14.2 0h0m21.2 0h0m23.8 0h0m36.4 0h0m-301.7 9.6h0m36.7 0h0m20.3 0h0m25.3 0h0m25.6 0h0m48.1 0h0m-191.9 11.6h0m39.3 0h0m18.9 0h0m18.5 0h0m20.8 0h0m14.3 0h0m32.7 0h0m35.8 0h0m-182.6 9.6h0m42.2 0h0m18.2 0h0m17.7 0h0m17.3 0h0m33.5 0h0m25.6 0h0m-184 9.7h0m54.8 0h0m28.6 0h0m20.2 0h0m27.1 0h0m31.7 0h0m-194.2 9.6h0m18.8 0h0m7.5 0h0m6.8 0h0m7.2 0h0m5.8 0h0m6 0h0m4.7 0h0m4.9 0h0m5.9 0h0m4.8 0h0m5.2 0h0m5.1 0h0m3.6 0h0m5.5 0h0m4.4 0h0m4.3 0h0m4.6 0h0m5.6 0h0m5.3 0h0m5.2 0h0m4.4 0h0m4.5 0h0m4.6 0h0m4.9 0h0m5 0h0m5 0h0m4.9 0h0m6.9 0h0m4.3 0h0m4.8 0h0m4.7 0h0m4.6 0h0m4.4 0h0m4 0h0m5.9 0h0m4.7 0h0m4.8 0h0m5.2 0h0m5 0h0m4.6 0h0m5 0h0m4.5 0h0m4.4 0h0m4 0h0m4.3 0h0m5.2 0h0m5.2 0h0m5.6 0h0m8 0h0m8.4 0h0m6.9 0h0m8.5 0h0m10.5 0h0m18.9 0h0m27.4 0h0m50.4 0h0m-341.7 9.7h0m18.6 0h0m22.7 0h0m27.7 0h0m22 0h0m23.7 0h0m26 0h0m21.9 0h0m-186.7 9.6h0m43.4 0h0m20.7 0h0m16.2 0h0m23.3 0h0m19.9 0h0m34.5 0h0m-158 11.6h0m29.5 0h0m19.1 0h0m16.5 0h0m18 0h0m19.1 0h0m35.4 0h0m100.3 0h0m-270.3 9.7h0m6.9 0h0m8.2 0h0m6.4 0h0m6.4 0h0m4.3 0h0m6 0h0m4.1 0h0m4.7 0h0m4.8 0h0m4.1 0h0m5.4 0h0m4.3 0h0m3.9 0h0m4.6 0h0m4.5 0h0m4.8 0h0m5.5 0h0m4 0h0m3.8 0h0m5 0h0m5 0h0m4.8 0h0m3.8 0h0m4.6 0h0m5.1 0h0m4.8 0h0m6.3 0h0m5 0h0m5.4 0h0m4 0h0m4.3 0h0m4.5 0h0m3.8 0h0m5.3 0h0m3.9 0h0m4.8 0h0m3.9 0h0m5 0h0m4.8 0h0m3.7 0h0m5.1 0h0m3.6 0h0m3.5 0h0m4.8 0h0m5.8 0h0m6.1 0h0m6.3 0h0m4.5 0h0m4.6 0h0m4.3 0h0m5.4 0h0m6.4 0h0m5.6 0h0m5.5 0h0m5.8 0h0m6.4 0h0m7.6 0h0m8.6 0h0m17.5 0h0m30.3 0h0m-329.5 9.6h0m25.4 0h0m16.4 0h0m15.4 0h0m16.3 0h0m18 0h0m14.9 0h0m16 0h0m26.5 0h0m-133 9.7h0m16.2 0h0m13.6 0h0m11.3 0h0m14.4 0h0m11.5 0h0m15.6 0h0m58.1 0h0m-159.5 9.6h0m18.3 0h0m11.5 0h0m12.1 0h0m13.3 0h0m14.5 0h0m11.4 0h0m23.4 0h0m36.6 0h0m-163.8 9.7h0m6 0h0m5.4 0h0m3.9 0h0m5.2 0h0m5.5 0h0m4.3 0h0m4.2 0h0m4.3 0h0m3.7 0h0m3.8 0h0m4.4 0h0m4.2 0h0m4.9 0h0m5.6 0h0m4.4 0h0m4.6 0h0m4.4 0h0m4.6 0h0m3.7 0h0m4.4 0h0m5.3 0h0m3.8 0h0m4.8 0h0m4.5 0h0m5.4 0h0m4.2 0h0m5.6 0h0m4.1 0h0m3.8 0h0m5.5 0h0m3.7 0h0m4.7 0h0m5.5 0h0m4.2 0h0m3.9 0h0m3.8 0h0m5.2 0h0m5.1 0h0m3.9 0h0m3.8 0h0m4.4 0h0m4.7 0h0m4.9 0h0m5.6 0h0m4.7 0h0m6.2 0h0m5.6 0h0m8.7 0h0m7.7 0h0m9.5 0h0m8.5 0h0m12.5 0h0m38.4 0h0m-291.7 9.6h0m27.8 0h0m23.4 0h0m20.7 0h0m24.6 0h0m30.5 0h0m-133.8 11.6h0m20.3 0h0m20.9 0h0m15.3 0h0m14.5 0h0m29 0h0m-102.6 9.7h0m4.1 0h0m4.3 0h0m4.2 0h0m4.5 0h0m4.6 0h0m3.4 0h0m5.1 0h0m5 0h0m4.8 0h0m4.5 0h0m6.2 0h0m4.3 0h0m5.5 0h0m4.8 0h0m4.5 0h0m4.5 0h0m3.3 0h0m5.7 0h0m5.6 0h0m5.2 0h0m5.9 0h0m5.1 0h0m4.2 0h0m4.9 0h0m4.2 0h0m5.1 0h0m5.1 0h0m4.5 0h0m4.8 0h0m4.3 0h0m3.7 0h0m3.8 0h0m5.5 0h0m4.3 0h0m4.7 0h0m4.6 0h0m3.9 0h0m5.1 0h0m5.9 0h0m5.5 0h0m6.8 0h0m12.6 0h0m17.4 0h0m13.3 0h0m19.7 0h0m57.9 0h0m-318.5 19.3h0m5.4 0h0m5.3 0h0m4.7 0h0m3.7 0h0m4.7 0h0m5.7 0h0m4.5 0h0m4.7 0h0m5.4 0h0m5.1 0h0m4.1 0h0m4.4 0h0m4.4 0h0m5.7 0h0m4.7 0h0m4.8 0h0m5.3 0h0m5.4 0h0m5 0h0m5 0h0m4.9 0h0m4.7 0h0m3.6 0h0m4 0h0m4.5 0h0m3.6 0h0m4.2 0h0m5.2 0h0m3.8 0h0m4.6 0h0m4.8 0h0m4.6 0h0m5.7 0h0m6.1 0h0m7.9 0h0m5.4 0h0m8.3 0h0m7.1 0h0m13.4 0h0m27.2 0h0m149.5 0h0"/>
<path d="M507.3 280h0m14.3 48.2h0m-54.8 21.2h0m-74.1 38.6h0m30.6 19.3h0m45.1 11.6h0m10.6 19.3h0m-52.6 9.7h0m41.4 9.6h0m-90.6 9.7h0m-149 11.6h0m119.9 0h0m29.5 0h0m22.1 0h0m28 0h0m31.5 0h0m47.8 0h0m-36.4 9.6h0m-76.5 19.3h0m92.2 0h0m-184.4 9.7h0m147.7 0h0m-76.2 9.6h0m-32.2 9.7h0m-151.9 11.5h0m71.3 0h0m25.1 0h0m17.4 0h0m13.8 0h0m11.2 0h0m8.6 0h0m7.8 0h0m9.9 0h0m9.5 0h0m8.4 0h0m10.2 0h0m11.3 0h0m9.9 0h0m12.5 0h0m9.1 0h0m9.8 0h0m11 0h0m16.6 0h0m19.6 0h0m47.9 0h0m-225.1 9.7h0m270.4 0h0m-310.5 9.6h0m76.9 0h0m-12.4 9.7h0m86 0h0m-175.9 9.6h0m69.8 0h0m73.4 0h0m-66.5 9.7h0m56.9 0h0m-170.9 9.6h0m32.6 0h0m19.8 0h0m12.5 0h0m10 0h0m8.2 0h0m8.1 0h0m8.8 0h0m8.4 0h0m6.3 0h0m8.5 0h0m8.2 0h0m5.3 0h0m7.3 0h0m7.7 0h0m6.3 0h0m5.3 0h0m7.4 0h0m8.3 0h0m5.5 0h0m6 0h0m7.9 0h0m8.7 0h0m8.8 0h0m12.1 0h0m10.7 0h0m10.6 0h0m8.1 0h0m9.3 0h0m34.2 0h0m-252.9 11.6h0m44.9 0h0m39.2 0h0m31.6 0h0m-125.6 9.7h0m30.5 0h0m35.8 0h0m28.1 0h0m39.3 0h0m-125.6 9.6h0m34.1 0h0m38.7 0h0m109.9 0h0m-202.1 9.7h0m47.7 0h0m27.2 0h0m23.3 0h0m31 0h0m161.5 0h0m-314.9 9.6h0m65.9 0h0m24.6 0h0m28.5 0h0m48.9 0h0m-249.5 9.7h0m32.1 0h0m15.3 0h0m9.5 0h0m8.1 0h0m9.1 0h0m7.9 0h0m6 0h0m6.1 0h0m6.6 0h0m5 0h0m5.7 0h0m5.6 0h0m5.2 0h0m5.7 0h0m5 0h0m4.6 0h0m5.8 0h0m5 0h0m3.8 0h0m6 0h0m5.2 0h0m3.9 0h0m7.2 0h0m5.5 0h0m5.9 0h0m6 0h0m7.4 0h0m5.7 0h0m9.6 0h0m7.3 0h0m5 0h0m5.9 0h0m6 0h0m5.4 0h0m4.1 0h0m5.1 0h0m5.3 0h0m5 0h0m5.5 0h0m6.3 0h0m4.3 0h0m6.7 0h0m7.8 0h0m14.5 0h0m21.6 0h0m23.4 0h0m37.8 0h0m-302.9 9.6h0m36.2 0h0m20.9 0h0m25.1 0h0m28 0h0m47.6 0h0m-192.1 11.6h0m37.3 0h0m18.9 0h0m18.8 0h0m21.7 0h0m13.1 0h0m33.2 0h0m35.3 0h0m-182.2 9.6h0m42.1 0h0m18.9 0h0m16.9 0h0m17.2 0h0m34.9 0h0m26.2 0h0m-185.8 9.7h0m56.1 0h0m27.1 0h0m20.2 0h0m27 0h0m36.4 0h0m-197.5 9.6h0m17.3 0h0m7.5 0h0m6.9 0h0m7.1 0h0m6 0h0m5.9 0h0m4.9 0h0m4.8 0h0m6 0h0m4.6 0h0m5.2 0h0m5 0h0m3.6 0h0m5.5 0h0m4.4 0h0m4.4 0h0m4.6 0h0m5.7 0h0m5.1 0h0m5.3 0h0m4.3 0h0m4.5 0h0m4.8 0h0m4.7 0h0m5.1 0h0m4.9 0h0m4.9 0h0m6.9 0h0m4.5 0h0m4.6 0h0m4.8 0h0m4.6 0h0m4.3 0h0m4.2 0h0m5.8 0h0m4.7 0h0m4.8 0h0m5.2 0h0m5 0h0m4.5 0h0m5.1 0h0m4.6 0h0m4.4 0h0m3.9 0h0m4.4 0h0m5.5 0h0m4.7 0h0m5.7 0h0m8.5 0h0m7.8 0h0m7.1 0h0m8.4 0h0m10.5 0h0m18.8 0h0m27.7 0h0m50.1 0h0m-341.7 9.7h0m18.9 0h0m22.7 0h0m27.7 0h0m21.8 0h0m24.3 0h0m25.9 0h0m22 0h0m-180.9 9.6h0m37 0h0m20.7 0h0m16.2 0h0m23.8 0h0m19.4 0h0m34.7 0h0m-158 11.6h0m30.2 0h0m18.1 0h0m16.9 0h0m17.9 0h0m20.4 0h0m34 0h0m100.5 0h0m-270.6 9.7h0m6.9 0h0m8.2 0h0m6.3 0h0m6.5 0h0m4.3 0h0m6.5 0h0m3.6 0h0m4.7 0h0m4.8 0h0m4.2 0h0m5.3 0h0m4.2 0h0m3.9 0h0m4.7 0h0m4.4 0h0m4.9 0h0m5.5 0h0m4 0h0m4 0h0m4.8 0h0m4.9 0h0m4.8 0h0m3.8 0h0m4.7 0h0m5 0h0m4.9 0h0m6.2 0h0m5.2 0h0m5.3 0h0m3.9 0h0m4.4 0h0m4.5 0h0m4 0h0m5 0h0m4.4 0h0m4.3 0h0m4 0h0m5.1 0h0m4.8 0h0m3.5 0h0m5.2 0h0m3.5 0h0m3.5 0h0m4.9 0h0m5.7 0h0m6.3 0h0m6.1 0h0m4.5 0h0m4.7 0h0m4.4 0h0m5.6 0h0m6 0h0m5.7 0h0m5.4 0h0m6.1 0h0m6.3 0h0m7.6 0h0m8.8 0h0m17.8 0h0m29.9 0h0m-329.6 9.6h0m25.3 0h0m17.4 0h0m14.7 0h0m16.1 0h0m18 0h0m14.8 0h0m16.7 0h0m26.1 0h0m-133.2 9.7h0m16.2 0h0m13.6 0h0m11.1 0h0m14.5 0h0m11.6 0h0m15.5 0h0m65.7 0h0m-166.4 9.6h0m17.7 0h0m11.5 0h0m11.9 0h0m13.5 0h0m14.5 0h0m11.2 0h0m23.6 0h0m36.6 0h0m-164 9.7h0m6 0h0m5.5 0h0m4 0h0m5.2 0h0m5.4 0h0m4.3 0h0m4.2 0h0m4.4 0h0m3.5 0h0m3.8 0h0m4.4 0h0m4.4 0h0m4.7 0h0m5.7 0h0m4.3 0h0m4.7 0h0m4.6 0h0m4.3 0h0m3.7 0h0m4.8 0h0m4.9 0h0m3.9 0h0m4.7 0h0m4.8 0h0m5.1 0h0m4.3 0h0m5.5 0h0m4.2 0h0m3.8 0h0m5.5 0h0m3.7 0h0m4.9 0h0m5.4 0h0m4 0h0m4 0h0m4 0h0m5 0h0m5 0h0m4 0h0m3.8 0h0m4.4 0h0m4.6 0h0m5.2 0h0m5.4 0h0m4.6 0h0m6.2 0h0m5.7 0h0m8.6 0h0m7.8 0h0m9.6 0h0m8.4 0h0m12.6 0h0m38.3 0h0m-290.8 9.6h0m27 0h0m23.2 0h0m20.9 0h0m26.1 0h0m30.1 0h0m-134.6 11.6h0m20.2 0h0m20.8 0h0m15.2 0h0m14.7 0h0m29.3 0h0m-103.3 9.7h0m4.2 0h0m4.2 0h0m4.6 0h0m4.1 0h0m4.6 0h0m3.5 0h0m5 0h0m5 0h0m4.9 0h0m4.6 0h0m6.1 0h0m4.3 0h0m5.5 0h0m4.7 0h0m4.7 0h0m4.3 0h0m3.4 0h0m5.7 0h0m5.6 0h0m5.6 0h0m5.4 0h0m5.1 0h0m4.2 0h0m4.9 0h0m4.4 0h0m5.2 0h0m4.9 0h0m4.4 0h0m5.6 0h0m3.5 0h0m3.8 0h0m3.8 0h0m5.7 0h0m4 0h0m4.8 0h0m4.7 0h0m3.7 0h0m5.2 0h0m5.8 0h0m5.6 0h0m7.4 0h0m12 0h0m17.3 0h0m13.4 0h0m20.1 0h0m58 0h0m-318.9 19.3h0m5.3 0h0m5.4 0h0m4.6 0h0m3.6 0h0m4.9 0h0m5.7 0h0m4.3 0h0m4.7 0h0m5.4 0h0m5.1 0h0m4.3 0h0m4.3 0h0m4.4 0h0m5.6 0h0m4.8 0h0m4.9 0h0m5.2 0h0m5.4 0h0m5 0h0m5 0h0m4.8 0h0m4.8 0h0m3.7 0h0m3.8 0h0m4.8 0h0m3.4 0h0m4.2 0h0m5.1 0h0m4.1 0h0m4.4 0h0m4.8 0h0m4.6 0h0m5.8 0h0m6.1 0h0m7.7 0h0m5.6 0h0m8.3 0h0m7.1 0h0m13.5 0h0m27.3 0h0"/>
<path d="M538.9 280h0m-4.7 48.2h0m-67.4 21.2h0m-29.2 38.6h0m-9 19.3h0m83 11.6h0m-2.1 19.3h0m-78.3 9.7h0m41.1 9.6h0m-95 9.7h0m-148.9 11.6h0m120.7 0h0m28.6 0h0m22.2 0h0m28.1 0h0m31.8 0h0m47.5 0h0m-111.8 28.9h0m90.8 0h0m-183.9 9.7h0m147.3 0h0m-75.3 9.6h0m-32.1 9.7h0m-150.4 11.5h0m68.9 0h0m25.2 0h0m17.2 0h0m14 0h0m10.9 0h0m8.8 0h0m7.7 0h0m9.9 0h0m9.6 0h0m8.5 0h0m9.9 0h0m11.6 0h0m10.3 0h0m12.1 0h0m9.1 0h0m10 0h0m10.6 0h0m16.7 0h0m20.8 0h0m46.7 0h0m-224.9 9.7h0m270 0h0m-309.6 9.6h0m79.1 0h0m-14.5 9.7h0m87 0h0m-176.3 9.6h0m69.2 0h0m73.1 0h0m-67 9.7h0m56.9 0h0m-169.3 9.6h0m31 0h0m20.1 0h0m12.2 0h0m10.2 0h0m7.9 0h0m8.1 0h0m8.7 0h0m8.5 0h0m6.2 0h0m8.5 0h0m8.2 0h0m5.4 0h0m7.3 0h0m7.6 0h0m6.5 0h0m5.4 0h0m7.3 0h0m8.3 0h0m5.8 0h0m5.5 0h0m8 0h0m8.8 0h0m9 0h0m11.8 0h0m10.9 0h0m10.4 0h0m8.3 0h0m9.4 0h0m36.1 0h0m-255.2 11.6h0m45.8 0h0m38.8 0h0m33.5 0h0m-127.1 9.7h0m30.4 0h0m36.1 0h0m27.1 0h0m39.3 0h0m-125.4 9.6h0m34 0h0m38.7 0h0m131.2 0h0m-221.6 9.7h0m46.2 0h0m27.2 0h0m23.3 0h0m31.9 0h0m210.7 0h0m-361.7 9.6h0m63.5 0h0m23.4 0h0m28.6 0h0m56.4 0h0m-255.7 9.7h0m32 0h0m13.8 0h0m10.7 0h0m6.9 0h0m9.9 0h0m7.1 0h0m6.1 0h0m6.2 0h0m6.4 0h0m5.1 0h0m5.6 0h0m5.8 0h0m5.2 0h0m5.6 0h0m4.9 0h0m4.8 0h0m5.7 0h0m5 0h0m4 0h0m5.9 0h0m5 0h0m4.1 0h0m7.3 0h0m5.5 0h0m5.6 0h0m6 0h0m7.8 0h0m5.3 0h0m9.7 0h0m7.3 0h0m4.9 0h0m5.9 0h0m6 0h0m5.5 0h0m4.1 0h0m5 0h0m5.5 0h0m5.3 0h0m5.1 0h0m6.2 0h0m4.5 0h0m6.5 0h0m7.9 0h0m14.8 0h0m22.1 0h0m22.9 0h0m37.8 0h0m-302.6 9.6h0m35.9 0h0m21 0h0m25.3 0h0m28 0h0m47.6 0h0m-191.7 11.6h0m36.3 0h0m19.2 0h0m19.2 0h0m21.5 0h0m14.1 0h0m32.4 0h0m35 0h0m-180.6 9.6h0m40.1 0h0m19.2 0h0m16.5 0h0m17.4 0h0m35.4 0h0m25.7 0h0m-185.2 9.7h0m55.6 0h0m27.4 0h0m20 0h0m27 0h0m38 0h0m-199.4 9.6h0m17.3 0h0m8 0h0m6.4 0h0m7.3 0h0m5.8 0h0m6 0h0m4.9 0h0m4.6 0h0m6 0h0m4.6 0h0m5.3 0h0m5.1 0h0m3.5 0h0m5.5 0h0m4.4 0h0m4.4 0h0m4.5 0h0m5.9 0h0m5.2 0h0m5.1 0h0m4.4 0h0m4.4 0h0m4.7 0h0m4.8 0h0m5 0h0m5.1 0h0m4.8 0h0m6.8 0h0m4.6 0h0m4.7 0h0m4.7 0h0m4.8 0h0m4.1 0h0m4.2 0h0m5.8 0h0m4.6 0h0m4.8 0h0m5.2 0h0m5.1 0h0m4.6 0h0m4.9 0h0m4.8 0h0m4.3 0h0m3.8 0h0m4.4 0h0m5.5 0h0m4.8 0h0m5.7 0h0m8.4 0h0m7.9 0h0m7 0h0m8.8 0h0m10.3 0h0m18.9 0h0m29.8 0h0m54.8 0h0m-348.7 9.7h0m20.1 0h0m21.5 0h0m28.2 0h0m21.4 0h0m25.8 0h0m24.4 0h0m23.3 0h0m-181.7 9.6h0m36.5 0h0m20.8 0h0m16.5 0h0m24 0h0m18.8 0h0m36 0h0m-158.5 11.6h0m29.6 0h0m17.9 0h0m16.7 0h0m18 0h0m20.4 0h0m35.7 0h0m103.6 0h0m-275.3 9.7h0m6.7 0h0m8.3 0h0m6.6 0h0m6.2 0h0m4.3 0h0m6.4 0h0m3.6 0h0m4.7 0h0m4.8 0h0m4.4 0h0m5.2 0h0m4.1 0h0m3.9 0h0m4.7 0h0m4.4 0h0m5 0h0m5.4 0h0m4 0h0m4.1 0h0m4.8 0h0m4.8 0h0m4.8 0h0m3.9 0h0m4.8 0h0m4.9 0h0m4.8 0h0m6.3 0h0m5.2 0h0m5.2 0h0m4 0h0m4.3 0h0m4.5 0h0m4.3 0h0m5 0h0m4.1 0h0m4.6 0h0m3.8 0h0m5 0h0m4.9 0h0m3.5 0h0m5.2 0h0m3.5 0h0m3.4 0h0m5 0h0m5.8 0h0m6.1 0h0m6.2 0h0m4.5 0h0m4.6 0h0m4.4 0h0m5.6 0h0m6.1 0h0m5.7 0h0m5.3 0h0m6.3 0h0m6.1 0h0m7.7 0h0m8.9 0h0m18 0h0m30.7 0h0m-327.2 9.6h0m22.3 0h0m16.8 0h0m14.7 0h0m16.4 0h0m17.8 0h0m14.8 0h0m16.7 0h0m27.5 0h0m-134.1 9.7h0m15.9 0h0m14.2 0h0m10.5 0h0m15.1 0h0m10.8 0h0m16.1 0h0m84.6 0h0m-184.6 9.6h0m16.7 0h0m11.8 0h0m11.2 0h0m13.6 0h0m14.7 0h0m11 0h0m23.7 0h0m43.2 0h0m-170.8 9.7h0m6.1 0h0m5.4 0h0m4 0h0m5.3 0h0m5.3 0h0m4.5 0h0m4 0h0m4.5 0h0m3.4 0h0m4 0h0m4.4 0h0m4.3 0h0m5 0h0m5.3 0h0m4.4 0h0m4.6 0h0m4.6 0h0m4.3 0h0m3.7 0h0m5 0h0m4.9 0h0m3.7 0h0m4.8 0h0m4.8 0h0m5.1 0h0m4.2 0h0m5.7 0h0m4 0h0m3.9 0h0m5.4 0h0m3.7 0h0m5.1 0h0m5.2 0h0m4 0h0m4.1 0h0m4.1 0h0m4.9 0h0m4.9 0h0m4.1 0h0m3.7 0h0m4.4 0h0m4.7 0h0m5.2 0h0m5.3 0h0m4.7 0h0m6.3 0h0m5.6 0h0m8.7 0h0m7.6 0h0m10.1 0h0m8.1 0h0m12.7 0h0m38.7 0h0m-290.9 9.6h0m27.1 0h0m22.7 0h0m21.4 0h0m25.7 0h0m30.6 0h0m-134.6 11.6h0m19.8 0h0m20.7 0h0m15.2 0h0m14.8 0h0m29.9 0h0m-104 9.7h0m3.9 0h0m4.2 0h0m4.6 0h0m4.1 0h0m4.6 0h0m3.6 0h0m4.9 0h0m5 0h0m5 0h0m4.5 0h0m6.2 0h0m4.2 0h0m5.5 0h0m5 0h0m4.5 0h0m4.2 0h0m3.5 0h0m5.8 0h0m5.7 0h0m5.4 0h0m5.5 0h0m4.9 0h0m4.3 0h0m4.8 0h0m4.4 0h0m5.4 0h0m4.7 0h0m4.5 0h0m5.6 0h0m3.4 0h0m3.9 0h0m3.8 0h0m5.8 0h0m3.8 0h0m4.8 0h0m4.8 0h0m3.6 0h0m5.3 0h0m5.7 0h0m5.7 0h0m7.4 0h0m12.2 0h0m17.1 0h0m13.3 0h0m20.9 0h0m61.4 0h0m-323.1 19.3h0m5.4 0h0m5.4 0h0m4.5 0h0m3.6 0h0m5 0h0m5.7 0h0m4.3 0h0m4.7 0h0m5.4 0h0m5 0h0m4.3 0h0m4.6 0h0m4.2 0h0m5.5 0h0m5 0h0m4.7 0h0m5.2 0h0m5.5 0h0m5.1 0h0m5 0h0m4.7 0h0m4.8 0h0m3.6 0h0m3.9 0h0m4.9 0h0m3.2 0h0m4.4 0h0m5 0h0m4.5 0h0m3.9 0h0m4.9 0h0m4.5 0h0m5.8 0h0m6.2 0h0m7.8 0h0m5.6 0h0m8.3 0h0m6.9 0h0m13.7 0h0m27.2 0h0"/>
<path d="M538.9 280h0m-4.7 48.2h0m-61.1 21.2h0m-22.9 38.6h0m-21.6 19.3h0m85.4 11.6h0m15.7 19.3h0m-78.4 9.7h0m37.4 9.6h0m-110.7 9.7h0m-147.8 11.6h0m119.6 0h0m28 0h0m22.2 0h0m28.5 0h0m32.3 0h0m48.3 0h0m-112.9 28.9h0m125.7 0h0m-215.6 9.7h0m148.3 0h0m-75.9 9.6h0m-35.3 9.7h0m-138.8 11.5h0m56.2 0h0m25.5 0h0m16.9 0h0m14.1 0h0m10.9 0h0m8.8 0h0m7.7 0h0m10.4 0h0m9.1 0h0m8.5 0h0m9.9 0h0m11.6 0h0m10.4 0h0m12.2 0h0m9 0h0m9.9 0h0m10.6 0h0m16.7 0h0m21.5 0h0m47.7 0h0m-217.7 9.7h0m262.6 0h0m-298.1 9.6h0m66.1 0h0m-10.3 9.7h0m83.1 0h0m-176.6 9.6h0m70.1 0h0m74.8 0h0m-67.6 9.7h0m55.2 0h0m-169.6 9.6h0m31.4 0h0m19.6 0h0m12.8 0h0m9.6 0h0m8.1 0h0m7.9 0h0m8.8 0h0m8.4 0h0m6.5 0h0m8.4 0h0m8 0h0m5.4 0h0m7.5 0h0m7.7 0h0m6.3 0h0m5.7 0h0m8 0h0m7.6 0h0m5.5 0h0m5.5 0h0m7.9 0h0m9.1 0h0m8.8 0h0m11.9 0h0m11.3 0h0m9.9 0h0m8.2 0h0m9.5 0h0m36.7 0h0m-255 11.6h0m47.6 0h0m36.5 0h0m34.3 0h0m-128.2 9.7h0m32.4 0h0m34.9 0h0m26.2 0h0m40.4 0h0m-126.4 9.6h0m35.6 0h0m38.9 0h0m133.6 0h0m-224 9.7h0m44.7 0h0m27 0h0m24.7 0h0m31.1 0h0m313 0h0m-463.1 9.6h0m63.1 0h0m22.5 0h0m28.4 0h0m56.7 0h0m-254.1 9.7h0m30.6 0h0m13.2 0h0m10.6 0h0m7 0h0m9.8 0h0m7.4 0h0m5.8 0h0m6.3 0h0m6.4 0h0m5.1 0h0m5.7 0h0m5.6 0h0m5.5 0h0m5.3 0h0m5 0h0m4.7 0h0m5.8 0h0m4.9 0h0m4.1 0h0m5.9 0h0m5.1 0h0m4.1 0h0m7.1 0h0m5.5 0h0m5.6 0h0m6.2 0h0m7.9 0h0m5.1 0h0m9.6 0h0m7.3 0h0m4.9 0h0m5.9 0h0m6.3 0h0m5.3 0h0m4.1 0h0m5 0h0m5.5 0h0m5.2 0h0m5.2 0h0m6.2 0h0m4.6 0h0m6.3 0h0m8 0h0m15.5 0h0m21.4 0h0m23.2 0h0m37.4 0h0m-302.1 9.6h0m36.6 0h0m19.9 0h0m25.8 0h0m27.5 0h0m48.1 0h0m-191.8 11.6h0m36.6 0h0m18.5 0h0m19.6 0h0m21.8 0h0m13.5 0h0m32.7 0h0m34.8 0h0m-177.3 9.6h0m37 0h0m18.8 0h0m16.7 0h0m17.5 0h0m36.6 0h0m24.2 0h0m-184.6 9.7h0m54.9 0h0m27.5 0h0m22.1 0h0m25.2 0h0m43.6 0h0m-202.7 9.6h0m14.7 0h0m7.9 0h0m6.6 0h0m7.5 0h0m5.5 0h0m5.9 0h0m4.9 0h0m4.8 0h0m5.8 0h0m4.8 0h0m5.2 0h0m5 0h0m3.6 0h0m5.4 0h0m4.5 0h0m4.3 0h0m4.6 0h0m5.9 0h0m5.1 0h0m5.2 0h0m4.4 0h0m4.3 0h0m4.8 0h0m4.7 0h0m5.3 0h0m5 0h0m4.6 0h0m7.3 0h0m4.3 0h0m4.6 0h0m4.9 0h0m4.6 0h0m4 0h0m4.2 0h0m5.9 0h0m4.5 0h0m5.2 0h0m5 0h0m4.9 0h0m4.7 0h0m4.8 0h0m4.8 0h0m4.3 0h0m3.8 0h0m4.6 0h0m5.5 0h0m4.6 0h0m5.7 0h0m8.8 0h0m7.8 0h0m6.7 0h0m8.8 0h0m11.7 0h0m17.8 0h0m30.6 0h0m59.9 0h0m-407.9 9.7h0m53.2 0h0m20.6 0h0m21 0h0m28 0h0m22.3 0h0m25.7 0h0m23.8 0h0m23.2 0h0m-181.4 9.6h0m36.1 0h0m20.9 0h0m16.6 0h0m24.1 0h0m18.8 0h0m42.8 0h0m-164.2 11.6h0m28.3 0h0m17.8 0h0m17.3 0h0m17.7 0h0m20.3 0h0m36 0h0m116.5 0h0m-288.7 9.7h0m7 0h0m8 0h0m6.7 0h0m6.2 0h0m4.4 0h0m6.4 0h0m3.5 0h0m4.9 0h0m4.6 0h0m4.4 0h0m5.1 0h0m4.1 0h0m4 0h0m5.1 0h0m4.2 0h0m4.9 0h0m5.3 0h0m3.9 0h0m4.3 0h0m4.6 0h0m5 0h0m4.6 0h0m4.4 0h0m4.5 0h0m4.8 0h0m5 0h0m6.1 0h0m5.1 0h0m5.3 0h0m4 0h0m4.3 0h0m4.4 0h0m4.5 0h0m5 0h0m4 0h0m4.5 0h0m3.8 0h0m5.1 0h0m4.8 0h0m3.6 0h0m5.2 0h0m3.4 0h0m3.9 0h0m4.5 0h0m5.8 0h0m6.4 0h0m5.9 0h0m4.5 0h0m4.7 0h0m4.4 0h0m5.5 0h0m6.3 0h0m5.6 0h0m5.3 0h0m6.2 0h0m6.3 0h0m7.6 0h0m8.9 0h0m18.4 0h0m31.4 0h0m-327.6 9.6h0m22 0h0m16.6 0h0m14.4 0h0m16.5 0h0m17.9 0h0m14.7 0h0m16.8 0h0m27.4 0h0m-134 9.7h0m15.9 0h0m14 0h0m10.6 0h0m15 0h0m10.9 0h0m16.2 0h0m89.8 0h0m-190 9.6h0m16.9 0h0m11.7 0h0m11.4 0h0m13.4 0h0m14.7 0h0m11.4 0h0m23.6 0h0m44.1 0h0m-172 9.7h0m6 0h0m5.5 0h0m4 0h0m5.4 0h0m5.2 0h0m4.4 0h0m4.1 0h0m4.5 0h0m3.4 0h0m4 0h0m4.3 0h0m4.4 0h0m5.3 0h0m5 0h0m4.3 0h0m4.7 0h0m4.6 0h0m4.4 0h0m3.6 0h0m5.1 0h0m4.8 0h0m3.6 0h0m4.8 0h0m5 0h0m4.9 0h0m4.3 0h0m5.7 0h0m4 0h0m3.8 0h0m5.5 0h0m3.8 0h0m5 0h0m5.3 0h0m3.9 0h0m4 0h0m4.2 0h0m4.9 0h0m5.1 0h0m3.9 0h0m3.8 0h0m4.2 0h0m5.3 0h0m4.7 0h0m5.2 0h0m4.7 0h0m6.3 0h0m5.7 0h0m8.6 0h0m8 0h0m10.3 0h0m7.5 0h0m13.2 0h0m38.6 0h0m-291.2 9.6h0m27 0h0m23 0h0m21.7 0h0m25.4 0h0m30.7 0h0m-134.9 11.6h0m20.5 0h0m20.1 0h0m15.1 0h0m14.8 0h0m30.9 0h0m-104.8 9.7h0m3.7 0h0m4.2 0h0m4.6 0h0m4.4 0h0m4.3 0h0m3.6 0h0m4.8 0h0m5.1 0h0m5.2 0h0m4.3 0h0m6.1 0h0m4.3 0h0m5.4 0h0m5 0h0m4.6 0h0m4.2 0h0m3.5 0h0m5.7 0h0m6 0h0m5.1 0h0m5.6 0h0m5.2 0h0m4 0h0m4.8 0h0m4.4 0h0m5.3 0h0m4.7 0h0m4.5 0h0m5.8 0h0m3.3 0h0m4 0h0m3.8 0h0m5.6 0h0m3.9 0h0m4.8 0h0m5 0h0m3.4 0h0m5.4 0h0m5.6 0h0m5.9 0h0m7.1 0h0m12.3 0h0m17 0h0m13.3 0h0m21.9 0h0m63.1 0h0m-325.8 19.3h0m5.5 0h0m5.4 0h0m4.4 0h0m3.7 0h0m5.3 0h0m5.4 0h0m4.2 0h0m4.7 0h0m5.4 0h0m5.1 0h0m4.2 0h0m4.6 0h0m4.5 0h0m5.2 0h0m5.1 0h0m4.9 0h0m5.1 0h0m5.5 0h0m5 0h0m5 0h0m4.7 0h0m4.7 0h0m3.7 0h0m4.1 0h0m4.6 0h0m3.2 0h0m4.4 0h0m5 0h0m4.5 0h0m4 0h0m4.9 0h0m4.4 0h0m5.9 0h0m6.1 0h0m7.9 0h0m5.5 0h0m8.4 0h0m7.2 0h0m14.3 0h0m26.4 0h0"/>
<path d="M572.4 280h0m-29.9 48.2h0m-66.1 21.2h0m-26.2 38.6h0m-17.6 19.3h0m87.3 11.6h0m17.3 19.3h0m-83.9 9.7h0m68 9.6h0m-139.2 9.7h0m-151.6 11.6h0m119.7 0h0m28 0h0m22 0h0m28.9 0h0m31.7 0h0m53.2 0h0m-117.4 28.9h0m127.4 0h0m-217.5 9.7h0m152.9 0h0m-79.7 9.6h0m-32.2 9.7h0m-141.8 11.5h0m55.5 0h0m25.8 0h0m16.5 0h0m14 0h0m10.8 0h0m9 0h0m7.8 0h0m10.2 0h0m9.2 0h0m8.3 0h0m10.2 0h0m11.3 0h0m10.4 0h0m12.3 0h0m8.9 0h0m9.9 0h0m10.9 0h0m16.6 0h0m21.4 0h0m47.9 0h0m-212.5 9.7h0m-38.2 9.6h0m65.5 0h0m134.7 0h0m-146.2 9.7h0m84 0h0m-172.2 9.6h0m66.7 0h0m73.2 0h0m-64.8 9.7h0m53.9 0h0m-249.7 9.6h0m77.6 0h0m31.8 0h0m18.9 0h0m12.9 0h0m10.2 0h0m7.3 0h0m8.1 0h0m8.7 0h0m8.4 0h0m7 0h0m8.1 0h0m8 0h0m5.5 0h0m7.3 0h0m7.6 0h0m6.2 0h0m5.7 0h0m8 0h0m7.6 0h0m5.6 0h0m6.3 0h0m7.4 0h0m8.8 0h0m9 0h0m12 0h0m11.2 0h0m9.6 0h0m8.3 0h0m9.6 0h0m36.5 0h0m-254.7 11.6h0m47.4 0h0m36.7 0h0m36.1 0h0m-129.8 9.7h0m33.3 0h0m33.8 0h0m27.2 0h0m39.2 0h0m-126.3 9.6h0m36 0h0m38.6 0h0m-90.3 9.7h0m44.7 0h0m26.7 0h0m25.3 0h0m31 0h0m-145.8 9.6h0m59 0h0m22.2 0h0m27.9 0h0m58.4 0h0m218.6 0h0m-472.8 9.7h0m29.1 0h0m13.4 0h0m10.4 0h0m7 0h0m9.7 0h0m7.4 0h0m6 0h0m6.1 0h0m6.5 0h0m5.1 0h0m5.8 0h0m5.5 0h0m5.4 0h0m5.5 0h0m4.9 0h0m4.9 0h0m5.6 0h0m4.8 0h0m4.3 0h0m5.9 0h0m4.9 0h0m4.2 0h0m7.2 0h0m5.4 0h0m5.6 0h0m6.3 0h0m7.7 0h0m5.1 0h0m9.6 0h0m7.4 0h0m4.9 0h0m5.8 0h0m6.4 0h0m5.4 0h0m4 0h0m5 0h0m5.6 0h0m5 0h0m5.3 0h0m6.1 0h0m4.7 0h0m6.4 0h0m8 0h0m16.5 0h0m21.2 0h0m22.3 0h0m38.4 0h0m-301.8 9.6h0m35.2 0h0m22.4 0h0m24.2 0h0m27.2 0h0m48 0h0m-190.5 11.6h0m34.9 0h0m19.3 0h0m18.7 0h0m21.9 0h0m13.6 0h0m33.7 0h0m34 0h0m-177 9.6h0m36.9 0h0m18.3 0h0m17.7 0h0m16.7 0h0m36.6 0h0m25.9 0h0m-185 9.7h0m55.1 0h0m25.7 0h0m24.3 0h0m23.5 0h0m43.4 0h0m-201.9 9.6h0m13.6 0h0m8 0h0m6.5 0h0m7.5 0h0m5.6 0h0m5.8 0h0m5.1 0h0m4.9 0h0m5.6 0h0m5.1 0h0m4.8 0h0m5.1 0h0m3.6 0h0m5.3 0h0m4.7 0h0m4.1 0h0m4.6 0h0m6.1 0h0m4.9 0h0m5.4 0h0m4.4 0h0m4.5 0h0m4.4 0h0m4.7 0h0m5.5 0h0m5 0h0m4.6 0h0m7.1 0h0m4.3 0h0m4.7 0h0m5 0h0m4.4 0h0m4.1 0h0m4.2 0h0m5.8 0h0m4.7 0h0m5.1 0h0m5 0h0m4.9 0h0m4.6 0h0m4.9 0h0m4.8 0h0m4.3 0h0m3.7 0h0m4.6 0h0m5.6 0h0m4.5 0h0m5.8 0h0m8.9 0h0m7.7 0h0m6.6 0h0m8.9 0h0m11.9 0h0m18.9 0h0m30.1 0h0m59 0h0m-406 9.7h0m51.5 0h0m21 0h0m21 0h0m28.1 0h0m22.1 0h0m25.7 0h0m23.4 0h0m23.2 0h0m-178.7 9.6h0m33.5 0h0m21.6 0h0m16.1 0h0m23.9 0h0m19.5 0h0m42.4 0h0m-164.7 11.6h0m28.3 0h0m18 0h0m17.9 0h0m17 0h0m21 0h0m39.5 0h0m113.4 0h0m-289.5 9.7h0m6.6 0h0m8.1 0h0m6.7 0h0m6.1 0h0m4.5 0h0m6.4 0h0m3.4 0h0m4.9 0h0m4.7 0h0m4.6 0h0m4.8 0h0m4.2 0h0m4 0h0m5 0h0m4.4 0h0m4.8 0h0m5.3 0h0m3.9 0h0m4.3 0h0m4.5 0h0m5.1 0h0m4.6 0h0m4.3 0h0m4.6 0h0m4.8 0h0m4.9 0h0m6.1 0h0m5.2 0h0m5.3 0h0m4.1 0h0m4.3 0h0m4.3 0h0m4.4 0h0m5.1 0h0m3.9 0h0m4.5 0h0m4 0h0m4.9 0h0m4.8 0h0m3.7 0h0m5.1 0h0m3.6 0h0m4 0h0m4.4 0h0m5.7 0h0m6.4 0h0m5.9 0h0m4.6 0h0m4.6 0h0m4.5 0h0m5.4 0h0m6.4 0h0m5.5 0h0m5.3 0h0m6.8 0h0m5.6 0h0m7.6 0h0m9.2 0h0m19.1 0h0m31 0h0m-328.1 9.6h0m22.4 0h0m16.5 0h0m14.2 0h0m16.4 0h0m17.9 0h0m15.2 0h0m16.5 0h0m27.8 0h0m-134.4 9.7h0m16.1 0h0m13.8 0h0m10.4 0h0m14.9 0h0m11.5 0h0m15.8 0h0m101.7 0h0m-201.5 9.6h0m16.6 0h0m11.5 0h0m11.5 0h0m13.9 0h0m14.4 0h0m11.1 0h0m24 0h0m44.5 0h0m-172.7 9.7h0m6 0h0m5.3 0h0m4.1 0h0m5.3 0h0m5.3 0h0m4.4 0h0m4.2 0h0m4.4 0h0m3.3 0h0m4 0h0m4.4 0h0m4.3 0h0m5.3 0h0m5 0h0m4.4 0h0m4.8 0h0m4.5 0h0m4.3 0h0m3.8 0h0m5 0h0m4.7 0h0m3.7 0h0m4.9 0h0m4.9 0h0m4.8 0h0m4.6 0h0m5.4 0h0m4.2 0h0m3.7 0h0m5.4 0h0m3.9 0h0m4.9 0h0m5.3 0h0m4.1 0h0m3.8 0h0m4.3 0h0m4.8 0h0m5.3 0h0m3.8 0h0m3.7 0h0m4.3 0h0m5.2 0h0m4.8 0h0m5.2 0h0m4.8 0h0m6.1 0h0m5.8 0h0m8.9 0h0m7.7 0h0m10.3 0h0m7.5 0h0m13.3 0h0m39.5 0h0m-291.8 9.6h0m27.8 0h0m21.9 0h0m22.5 0h0m24.4 0h0m30.7 0h0m-134.4 11.6h0m20.3 0h0m19.8 0h0m15.6 0h0m14.8 0h0m33.3 0h0m-107.6 9.7h0m3.6 0h0m4.2 0h0m4.6 0h0m4.5 0h0m4.2 0h0m3.6 0h0m4.9 0h0m5.2 0h0m5.1 0h0m4.3 0h0m6.1 0h0m4.3 0h0m5.4 0h0m5.2 0h0m4.3 0h0m4.3 0h0m3.6 0h0m5.6 0h0m5.9 0h0m5.2 0h0m5.5 0h0m5.3 0h0m3.9 0h0m4.9 0h0m4.3 0h0m5.4 0h0m4.6 0h0m4.9 0h0m5.6 0h0m3.1 0h0m4 0h0m3.8 0h0m5.6 0h0m3.9 0h0m4.9 0h0m5.2 0h0m3.2 0h0m5.3 0h0m5.7 0h0m5.9 0h0m7 0h0m12.7 0h0m16.9 0h0m13.3 0h0m21.7 0h0m67.5 0h0m-330.3 19.3h0m5.6 0h0m5.6 0h0m4.1 0h0m3.7 0h0m5.3 0h0m5.5 0h0m4.2 0h0m4.7 0h0m5.3 0h0m5.2 0h0m4.4 0h0m4.3 0h0m4.5 0h0m5.3 0h0m5.1 0h0m4.9 0h0m5.1 0h0m5.8 0h0m4.8 0h0m5 0h0m4.7 0h0m4.7 0h0m3.6 0h0m4.1 0h0m4.5 0h0m3.3 0h0m4.3 0h0m5.1 0h0m4.5 0h0m3.9 0h0m5.1 0h0m4.2 0h0m5.9 0h0m6.1 0h0m7.9 0h0m6.1 0h0m7.8 0h0m7.3 0h0m14.9 0h0m28.1 0h0"/>
<path d="M413.3 289.6h0m142.5 38.6h0m-70.7 21.2h0m-10 38.6h0m-42.5 19.3h0m-103 21.3h0m216.4 9.6h0m-88 9.7h0m86.5 9.6h0m-161.5 9.7h0m-150.3 11.6h0m120.3 0h0m25.5 0h0m21.9 0h0m29.1 0h0m32.4 0h0m52.1 0h0m-111.1 28.9h0m129.4 0h0m-223.6 9.7h0m151.5 0h0m-78.9 9.6h0m-31.4 9.7h0m-142.2 11.5h0m55 0h0m24.5 0h0m16.4 0h0m13.9 0h0m10.9 0h0m8.9 0h0m7.8 0h0m10.3 0h0m9.5 0h0m7.9 0h0m10.3 0h0m11.4 0h0m10.5 0h0m12.1 0h0m9.5 0h0m9.4 0h0m10.9 0h0m16.7 0h0m21.5 0h0m-162.9 9.7h0m-39.3 9.6h0m64.7 0h0m150.8 0h0m-371.1 9.7h0m211.7 0h0m82.1 0h0m-169.5 9.6h0m64.3 0h0m74.4 0h0m-66.9 9.7h0m53.9 0h0m-245.8 9.6h0m74.4 0h0m30.6 0h0m19.3 0h0m12.5 0h0m10.6 0h0m6.9 0h0m8.2 0h0m8.9 0h0m8 0h0m7.1 0h0m8.1 0h0m8 0h0m5.4 0h0m7.3 0h0m7.6 0h0m6.2 0h0m5.7 0h0m8.7 0h0m7 0h0m5.6 0h0m6.3 0h0m7.4 0h0m8.8 0h0m9.4 0h0m11.6 0h0m11.2 0h0m9.8 0h0m8.1 0h0m9.7 0h0m38.1 0h0m-254 11.6h0m45.3 0h0m36.4 0h0m40.8 0h0m-134.5 9.7h0m33.4 0h0m33.6 0h0m27.4 0h0m41 0h0m-128.3 9.6h0m36.1 0h0m39.2 0h0m-90.3 9.7h0m44.3 0h0m26.9 0h0m24.8 0h0m31.2 0h0m-142.4 9.6h0m56 0h0m22 0h0m27.9 0h0m58.5 0h0m266.3 0h0m-519.2 9.7h0m28.1 0h0m12.8 0h0m10.6 0h0m7.1 0h0m9.3 0h0m7.3 0h0m6.1 0h0m6.1 0h0m6.6 0h0m5.1 0h0m5.7 0h0m5.4 0h0m5.6 0h0m5.3 0h0m5 0h0m4.9 0h0m5.6 0h0m4.7 0h0m4.3 0h0m6.1 0h0m5.3 0h0m3.9 0h0m6.9 0h0m5.4 0h0m5.6 0h0m7.1 0h0m7 0h0m5.2 0h0m9.7 0h0m7.3 0h0m4.9 0h0m5.7 0h0m6.3 0h0m5.5 0h0m4 0h0m5 0h0m5.6 0h0m4.9 0h0m5.4 0h0m6 0h0m5 0h0m6.2 0h0m8.6 0h0m16.4 0h0m20.7 0h0m22.9 0h0m38.3 0h0m-301.7 9.6h0m34.7 0h0m22.5 0h0m24.8 0h0m26.3 0h0m48.1 0h0m-190.4 11.6h0m35.2 0h0m18.8 0h0m18.9 0h0m22.4 0h0m13.5 0h0m33.6 0h0m34.6 0h0m-177.4 9.6h0m36.8 0h0m17.8 0h0m17.7 0h0m17.1 0h0m38.8 0h0m27.8 0h0m-188.6 9.7h0m55.4 0h0m24.4 0h0m25.6 0h0m23 0h0m47.1 0h0m-206 9.6h0m13.3 0h0m8.2 0h0m6.3 0h0m7.4 0h0m5.6 0h0m6.1 0h0m5 0h0m4.7 0h0m5.6 0h0m5.3 0h0m4.6 0h0m5.2 0h0m3.6 0h0m5.3 0h0m4.6 0h0m4.2 0h0m4.8 0h0m5.9 0h0m4.9 0h0m5.4 0h0m4.3 0h0m4.5 0h0m4.6 0h0m4.9 0h0m5.2 0h0m4.9 0h0m4.7 0h0m7.1 0h0m4.3 0h0m4.7 0h0m4.9 0h0m4.4 0h0m4.4 0h0m4 0h0m5.7 0h0m5 0h0m4.9 0h0m5.1 0h0m4.8 0h0m4.7 0h0m4.8 0h0m4.8 0h0m4.5 0h0m3.6 0h0m4.6 0h0m5.6 0h0m4.5 0h0m5.7 0h0m8.9 0h0m7.7 0h0m6.6 0h0m9.1 0h0m11.7 0h0m19.1 0h0m30.6 0h0m65.3 0h0m-412.6 9.7h0m52.8 0h0m19.3 0h0m21.7 0h0m27.9 0h0m22.7 0h0m24.6 0h0m23.4 0h0m23.9 0h0m-177.9 9.6h0m32.7 0h0m21.4 0h0m16.2 0h0m23.4 0h0m19.6 0h0m44 0h0m-165.8 11.6h0m28.2 0h0m17.3 0h0m18.7 0h0m16.2 0h0m21.3 0h0m39.3 0h0m125.7 0h0m-301.6 9.7h0m6.6 0h0m8.1 0h0m6.8 0h0m5.8 0h0m4.7 0h0m6.2 0h0m3.6 0h0m4.8 0h0m4.7 0h0m4.6 0h0m4.9 0h0m3.9 0h0m4.1 0h0m5 0h0m4.6 0h0m4.5 0h0m5.4 0h0m4.1 0h0m4 0h0m4.7 0h0m5 0h0m4.6 0h0m4.2 0h0m4.7 0h0m4.8 0h0m5.1 0h0m5.9 0h0m5.3 0h0m5.1 0h0m4.1 0h0m4.3 0h0m4.4 0h0m4.3 0h0m5.2 0h0m3.8 0h0m4.6 0h0m4.1 0h0m4.9 0h0m4.7 0h0m4.5 0h0m4.3 0h0m3.5 0h0m4.2 0h0m4.4 0h0m5.5 0h0m7 0h0m5.3 0h0m4.6 0h0m4.8 0h0m4.5 0h0m5.4 0h0m6.3 0h0m5.4 0h0m5.4 0h0m6.7 0h0m5.6 0h0m7.7 0h0m9.2 0h0m19.7 0h0m30.9 0h0m-327.9 9.6h0m21.8 0h0m16.3 0h0m14.7 0h0m16.2 0h0m18.1 0h0m15.5 0h0m16.1 0h0m28.1 0h0m-134.3 9.7h0m15.6 0h0m14.3 0h0m9.7 0h0m14.9 0h0m12.8 0h0m14.4 0h0m119.9 0h0m-219.4 9.6h0m16.5 0h0m11.4 0h0m11.4 0h0m14.1 0h0m14.2 0h0m12.1 0h0m23.7 0h0m45.5 0h0m-174.3 9.7h0m6 0h0m5.3 0h0m4.2 0h0m5.3 0h0m5.2 0h0m4.4 0h0m4.1 0h0m4.4 0h0m3.3 0h0m4 0h0m4.4 0h0m4.4 0h0m5.2 0h0m5.1 0h0m4.3 0h0m4.8 0h0m4.6 0h0m4.3 0h0m4 0h0m4.7 0h0m4.7 0h0m3.7 0h0m5 0h0m4.8 0h0m4.9 0h0m4.7 0h0m5.2 0h0m4.2 0h0m3.8 0h0m5.4 0h0m3.8 0h0m5.1 0h0m5.2 0h0m4 0h0m3.8 0h0m4.4 0h0m4.7 0h0m5.4 0h0m3.8 0h0m3.7 0h0m4.2 0h0m5.3 0h0m4.7 0h0m5.3 0h0m5 0h0m6 0h0m5.7 0h0m8.9 0h0m7.8 0h0m10.1 0h0m7.6 0h0m14 0h0m39.6 0h0m-292.5 9.6h0m27.8 0h0m22.1 0h0m22.4 0h0m24.8 0h0m30.4 0h0m-134.1 11.6h0m20.1 0h0m19.3 0h0m16.2 0h0m16.3 0h0m33.2 0h0m-109.6 9.7h0m3.8 0h0m4 0h0m4.7 0h0m4.4 0h0m4.2 0h0m3.7 0h0m4.9 0h0m5.3 0h0m4.9 0h0m4.5 0h0m6.1 0h0m4.1 0h0m5.5 0h0m5.2 0h0m4.3 0h0m4.4 0h0m3.4 0h0m5.7 0h0m5.9 0h0m5.1 0h0m5.8 0h0m5.1 0h0m4 0h0m4.8 0h0m4.5 0h0m5.2 0h0m4.6 0h0m4.8 0h0m5.6 0h0m3.1 0h0m4.1 0h0m3.8 0h0m5.6 0h0m4 0h0m4.9 0h0m5 0h0m3.2 0h0m5.6 0h0m5.5 0h0m5.8 0h0m7.3 0h0m12.6 0h0m16.9 0h0m13.1 0h0m21.8 0h0m71.7 0h0m-329.7 10.2h0m-4.5 9.1h0m5.4 0h0m5.4 0h0m4.1 0h0m4.2 0h0m4.9 0h0m5.4 0h0m4.6 0h0m4.4 0h0m5.3 0h0m5.1 0h0m4.4 0h0m4.7 0h0m4.2 0h0m5.3 0h0m5.2 0h0m4.9 0h0m4.9 0h0m5.8 0h0m4.8 0h0m5 0h0m4.7 0h0m4.7 0h0m3.8 0h0m4 0h0m4.4 0h0m3.3 0h0m4.4 0h0m5.1 0h0m4.4 0h0m4.1 0h0m4.9 0h0m4.5 0h0m5.7 0h0m6 0h0m7.9 0h0m6.3 0h0m7.9 0h0m7 0h0m15 0h0m34.5 0h0"/>
<path d="M470.4 289.6h0m85.4 38.6h0m-70.7 21.2h0m-7.7 38.6h0m-44.8 19.3h0m-84.1 21.3h0m111.7 19.3h0m127.8 9.6h0m-202.4 9.7h0m-152.4 11.6h0m120 0h0m25.6 0h0m22 0h0m29.3 0h0m34 0h0m52.2 0h0m-110.7 28.9h0m126.7 0h0m-215.9 9.7h0m151.7 0h0m-85.3 9.6h0m-32.3 9.7h0m-142.7 11.5h0m55 0h0m24.4 0h0m16.5 0h0m14 0h0m10.8 0h0m8.8 0h0m7.8 0h0m10.6 0h0m9.2 0h0m7.9 0h0m10.4 0h0m11.5 0h0m10.9 0h0m11.9 0h0m9.4 0h0m10.1 0h0m10.3 0h0m16.4 0h0m22.1 0h0m-158.6 9.7h0m-41.1 9.6h0m64 0h0m165.5 0h0m-306.1 9.7h0m130.5 0h0m83.9 0h0m-172.2 9.6h0m64.8 0h0m74.8 0h0m-67.4 9.7h0m54.9 0h0m-237.6 9.6h0m64.9 0h0m30.8 0h0m18.9 0h0m12.5 0h0m10.7 0h0m6.9 0h0m8.2 0h0m9 0h0m7.9 0h0m7.1 0h0m8.1 0h0m8 0h0m5.7 0h0m7 0h0m7.6 0h0m6.2 0h0m5.7 0h0m9 0h0m6.7 0h0m5.6 0h0m6.2 0h0m7.6 0h0m8.9 0h0m9.1 0h0m12.2 0h0m10.7 0h0m9.9 0h0m8 0h0m9.9 0h0m37.8 0h0m-253.2 11.6h0m45 0h0m37.8 0h0m42.9 0h0m-137.6 9.7h0m33.5 0h0m33.4 0h0m26.8 0h0m40.8 0h0m-128.1 9.6h0m36.1 0h0m40.3 0h0m-90.8 9.7h0m44.5 0h0m26.2 0h0m25.2 0h0m31.4 0h0m-141.9 9.6h0m55.4 0h0m22.3 0h0m27.5 0h0m60 0h0m-254.5 9.7h0m27.6 0h0m12.8 0h0m10.5 0h0m7.2 0h0m9.3 0h0m7.4 0h0m6.1 0h0m6.4 0h0m6.1 0h0m5.2 0h0m5.7 0h0m5.5 0h0m5.7 0h0m5.1 0h0m4.9 0h0m5.3 0h0m5.3 0h0m4.7 0h0m4.2 0h0m6.2 0h0m5.3 0h0m4.1 0h0m6.6 0h0m5.5 0h0m5.6 0h0m7.1 0h0m6.9 0h0m5.5 0h0m9.8 0h0m7 0h0m4.9 0h0m5.6 0h0m6.7 0h0m5.1 0h0m4.3 0h0m4.7 0h0m5.6 0h0m5 0h0m5.5 0h0m5.9 0h0m4.9 0h0m6.4 0h0m8.6 0h0m16.8 0h0m20.4 0h0m22.7 0h0m38.5 0h0m19.3 0h0m-319.9 9.6h0m33.4 0h0m22.9 0h0m24.3 0h0m26.3 0h0m48.9 0h0m-189.1 11.6h0m33.4 0h0m19 0h0m18.7 0h0m22.2 0h0m13.8 0h0m35 0h0m33.7 0h0m-178.2 9.6h0m36.7 0h0m18.1 0h0m17.7 0h0m17 0h0m39 0h0m27.4 0h0m-187 9.7h0m53.9 0h0m24.4 0h0m26.8 0h0m22 0h0m50.1 0h0m-209.2 9.6h0m13.6 0h0m7.9 0h0m6.4 0h0m7.2 0h0m5.7 0h0m6.2 0h0m4.9 0h0m4.6 0h0m5.7 0h0m5.3 0h0m4.7 0h0m5.1 0h0m3.8 0h0m5.1 0h0m4.6 0h0m4.2 0h0m4.8 0h0m6 0h0m4.7 0h0m5.6 0h0m4.4 0h0m4.3 0h0m4.6 0h0m4.8 0h0m5.3 0h0m4.9 0h0m4.6 0h0m7.1 0h0m4.3 0h0m4.7 0h0m4.9 0h0m4.5 0h0m4.3 0h0m4 0h0m5.9 0h0m4.8 0h0m4.9 0h0m5.1 0h0m4.9 0h0m4.6 0h0m4.8 0h0m4.8 0h0m4.5 0h0m3.7 0h0m4.6 0h0m5.6 0h0m4.6 0h0m5.5 0h0m9.2 0h0m7.4 0h0m6.8 0h0m9 0h0m12 0h0m18.8 0h0m32 0h0m74.2 0h0m-420.8 9.7h0m50.8 0h0m19.3 0h0m22.7 0h0m26.9 0h0m22.7 0h0m24.9 0h0m23.9 0h0m23.4 0h0m-174.9 9.6h0m29.6 0h0m21 0h0m16.5 0h0m23.5 0h0m19.4 0h0m44.2 0h0m-165.1 11.6h0m27.3 0h0m18 0h0m18.8 0h0m16.1 0h0m20.9 0h0m41.3 0h0m127.1 0h0m-305.4 9.7h0m6.5 0h0m8.2 0h0m7 0h0m5.6 0h0m4.7 0h0m6.1 0h0m3.6 0h0m4.8 0h0m4.9 0h0m4.4 0h0m5.1 0h0m3.7 0h0m4.1 0h0m5.2 0h0m4.4 0h0m4.5 0h0m5.4 0h0m4.2 0h0m4 0h0m4.6 0h0m5.2 0h0m4.5 0h0m4.2 0h0m4.7 0h0m4.8 0h0m5.1 0h0m5.8 0h0m5.3 0h0m5.2 0h0m4.1 0h0m4.3 0h0m4.3 0h0m4.4 0h0m5.1 0h0m3.8 0h0m4.9 0h0m3.9 0h0m4.8 0h0m4.9 0h0m4.3 0h0m4.4 0h0m3.5 0h0m4.1 0h0m4.6 0h0m5.6 0h0m6.8 0h0m5.4 0h0m4.5 0h0m4.7 0h0m4.7 0h0m5.2 0h0m6.3 0h0m5.8 0h0m5 0h0m6.8 0h0m5.6 0h0m7.9 0h0m9.7 0h0m19.2 0h0m31.3 0h0m-326.6 9.6h0m20.3 0h0m16.2 0h0m14.4 0h0m16.6 0h0m18.1 0h0m15.7 0h0m15.9 0h0m28.2 0h0m-134.2 9.7h0m15.2 0h0m14.1 0h0m9.9 0h0m14.8 0h0m12.8 0h0m14.8 0h0m246.4 0h0m-345.6 9.6h0m15.6 0h0m11.8 0h0m11.1 0h0m14 0h0m14.4 0h0m12.5 0h0m25 0h0m49.4 0h0m-180.1 9.7h0m6.2 0h0m5.1 0h0m4.2 0h0m5.6 0h0m4.9 0h0m4.7 0h0m3.9 0h0m4.3 0h0m3.8 0h0m3.6 0h0m4.5 0h0m4.6 0h0m5.1 0h0m4.9 0h0m4.4 0h0m4.6 0h0m4.6 0h0m4.4 0h0m3.9 0h0m4.7 0h0m4.8 0h0m3.6 0h0m5.1 0h0m4.8 0h0m5.1 0h0m4.5 0h0m5.4 0h0m3.9 0h0m3.9 0h0m5.6 0h0m3.5 0h0m5.3 0h0m5 0h0m4.1 0h0m3.8 0h0m4.4 0h0m4.9 0h0m5.1 0h0m3.8 0h0m3.8 0h0m4.2 0h0m5.3 0h0m4.7 0h0m5.3 0h0m5 0h0m6.1 0h0m5.5 0h0m8.9 0h0m8 0h0m10 0h0m7.9 0h0m13.8 0h0m39.7 0h0m-292 9.6h0m28.5 0h0m21 0h0m22.6 0h0m24.4 0h0m33.7 0h0m-136.8 11.6h0m19.7 0h0m20 0h0m15.2 0h0m16.3 0h0m33.2 0h0m-109.7 9.7h0m3.8 0h0m4 0h0m4.8 0h0m4.5 0h0m4.1 0h0m3.6 0h0m5.1 0h0m5.2 0h0m4.9 0h0m4.7 0h0m5.8 0h0m4.2 0h0m5.5 0h0m5.1 0h0m4.3 0h0m4.4 0h0m3.4 0h0m5.7 0h0m6 0h0m5 0h0m5.8 0h0m5.3 0h0m3.9 0h0m4.8 0h0m4.5 0h0m5.2 0h0m4.5 0h0m5.1 0h0m5.3 0h0m3.2 0h0m4 0h0m3.8 0h0m5.7 0h0m4.1 0h0m4.7 0h0m5 0h0m3.5 0h0m5.3 0h0m5.6 0h0m6 0h0m7 0h0m13.4 0h0m16.2 0h0m14.6 0h0m20.9 0h0m71.3 0h0m-327.5 10.2h0m-6.8 9.1h0m5.2 0h0m5.4 0h0m4.2 0h0m4.1 0h0m4.9 0h0m5.4 0h0m4.7 0h0m4.4 0h0m5.3 0h0m5 0h0m4.4 0h0m5 0h0m4 0h0m5.4 0h0m5.2 0h0m4.8 0h0m5 0h0m5.6 0h0m4.8 0h0m5.1 0h0m4.9 0h0m4.5 0h0m3.9 0h0m3.8 0h0m4.5 0h0m3.5 0h0m4.1 0h0m5.2 0h0m4.4 0h0m4.1 0h0m4.9 0h0m4.5 0h0m5.7 0h0m5.9 0h0m7.9 0h0m6.6 0h0m7.7 0h0m7 0h0m15 0h0m35 0h0"/>
<path d="M529.2 289.6h0m28.9 38.6h0m-62.4 21.2h0m-148.5 48.3h0m90.4 9.6h0m-38.2 21.3h0m73.9 19.3h0m-84.8 19.3h0m-148.7 11.6h0m113.5 0h0m25.9 0h0m21.7 0h0m29.6 0h0m34 0h0m60 0h0m-117.1 28.9h0m127 0h0m-215.8 9.7h0m64.8 9.6h0m-32.8 9.7h0m-142.7 11.5h0m55.4 0h0m24 0h0m16.5 0h0m14 0h0m10.7 0h0m8.9 0h0m7.8 0h0m10.9 0h0m8.9 0h0m8 0h0m10.6 0h0m11.3 0h0m11.9 0h0m10.9 0h0m9.6 0h0m10.6 0h0m9.5 0h0m16.8 0h0m22.3 0h0m-151.4 9.7h0m-48.7 9.6h0m64.8 0h0m235.6 0h0m-366.7 9.7h0m124.9 0h0m80.5 0h0m-171.9 9.6h0m64.2 0h0m73.5 0h0m-65.5 9.7h0m55.2 0h0m-238.3 9.6h0m64.3 0h0m30.2 0h0m19 0h0m12.1 0h0m10.8 0h0m7.4 0h0m7.7 0h0m9.1 0h0m7.7 0h0m7.3 0h0m8 0h0m7.9 0h0m5.8 0h0m6.9 0h0m7.8 0h0m6 0h0m5.7 0h0m9.1 0h0m6.8 0h0m5.4 0h0m6.5 0h0m7.4 0h0m8.8 0h0m9.2 0h0m12.6 0h0m10.2 0h0m10.6 0h0m8 0h0m9.4 0h0m37.7 0h0m-253.2 11.6h0m45 0h0m38.2 0h0m44.3 0h0m-138.7 9.7h0m33.1 0h0m33.5 0h0m27.4 0h0m43 0h0m-131.3 9.6h0m36.8 0h0m41.4 0h0m-92.1 9.7h0m44.4 0h0m26 0h0m25.6 0h0m32.1 0h0m-142.6 9.6h0m54.7 0h0m22.3 0h0m31.1 0h0m61.7 0h0m-259.2 9.7h0m27.2 0h0m13.4 0h0m9.9 0h0m7.2 0h0m9.3 0h0m7.2 0h0m6.2 0h0m6.3 0h0m6.1 0h0m5.3 0h0m5.7 0h0m5.5 0h0m5.8 0h0m4.9 0h0m5 0h0m5.3 0h0m5.3 0h0m4.8 0h0m4.2 0h0m6.1 0h0m5.2 0h0m4.2 0h0m6.7 0h0m5.3 0h0m5.7 0h0m7.1 0h0m7.2 0h0m5.6 0h0m9.4 0h0m6.9 0h0m5 0h0m5.5 0h0m6.8 0h0m5.3 0h0m4 0h0m4.8 0h0m5.6 0h0m5 0h0m5.4 0h0m5.9 0h0m4.9 0h0m6.5 0h0m8.7 0h0m16.7 0h0m20.4 0h0m23.6 0h0m37.7 0h0m28.8 0h0m-328.6 9.6h0m33.2 0h0m23 0h0m23.9 0h0m25.9 0h0m50.7 0h0m-190.9 11.6h0m33.5 0h0m19.2 0h0m18.6 0h0m22.3 0h0m14.1 0h0m34.8 0h0m34.4 0h0m-179.4 9.6h0m37.3 0h0m17.9 0h0m17.3 0h0m17.5 0h0m38.6 0h0m27.4 0h0m-186.3 9.7h0m53.6 0h0m24.4 0h0m26.9 0h0m21.6 0h0m52.1 0h0m-211.2 9.6h0m13.9 0h0m7.5 0h0m6.4 0h0m7.1 0h0m5.7 0h0m6.3 0h0m5 0h0m4.6 0h0m5.6 0h0m5.3 0h0m4.7 0h0m5.1 0h0m3.8 0h0m5.1 0h0m4.5 0h0m4.2 0h0m4.9 0h0m6.1 0h0m4.6 0h0m5.6 0h0m4.8 0h0m4 0h0m4.4 0h0m4.8 0h0m5.5 0h0m4.8 0h0m4.6 0h0m7.1 0h0m4.2 0h0m4.8 0h0m4.9 0h0m4.4 0h0m4.4 0h0m4 0h0m6 0h0m5 0h0m4.7 0h0m4.9 0h0m4.9 0h0m4.6 0h0m4.9 0h0m4.8 0h0m4.6 0h0m3.5 0h0m4.7 0h0m5.9 0h0m4.4 0h0m5.4 0h0m9.1 0h0m7.5 0h0m7.2 0h0m8.8 0h0m11.8 0h0m18.8 0h0m32.2 0h0m73.9 0h0m-419.2 9.7h0m49.7 0h0m18.8 0h0m23.7 0h0m26 0h0m23.4 0h0m24.4 0h0m24.1 0h0m23.9 0h0m-175.8 9.6h0m30.3 0h0m20.3 0h0m17.5 0h0m23.3 0h0m19.3 0h0m43.5 0h0m-162.3 11.6h0m25.1 0h0m17.9 0h0m18.6 0h0m16.1 0h0m20.6 0h0m42.3 0h0m155.9 0h0m-335.3 9.7h0m6.7 0h0m8.1 0h0m7.3 0h0m5.3 0h0m4.6 0h0m6.1 0h0m3.6 0h0m5 0h0m4.7 0h0m4.5 0h0m5 0h0m3.8 0h0m4.1 0h0m5.1 0h0m4.6 0h0m4.5 0h0m5.3 0h0m4.2 0h0m4 0h0m4.7 0h0m5 0h0m4.5 0h0m4.3 0h0m4.7 0h0m4.7 0h0m5.1 0h0m5.9 0h0m5.3 0h0m5.2 0h0m4.2 0h0m4.2 0h0m4.3 0h0m4.3 0h0m5.2 0h0m3.9 0h0m4.7 0h0m4.1 0h0m4.8 0h0m4.7 0h0m4.4 0h0m4.3 0h0m3.5 0h0m4.2 0h0m4.5 0h0m5.9 0h0m6.8 0h0m5.1 0h0m4.5 0h0m4.8 0h0m4.6 0h0m5.5 0h0m6.2 0h0m5.9 0h0m4.7 0h0m6.9 0h0m5.7 0h0m8.3 0h0m9.2 0h0m19.6 0h0m31.4 0h0m-326.6 9.6h0m20.1 0h0m16.1 0h0m14.3 0h0m16.8 0h0m17.8 0h0m15.8 0h0m15.8 0h0m28.7 0h0m-134.5 9.7h0m14.9 0h0m14.2 0h0m9.9 0h0m14.7 0h0m13.1 0h0m15.6 0h0m253.6 0h0m-353.1 9.6h0m15.4 0h0m11.3 0h0m11.4 0h0m14.2 0h0m13.9 0h0m12.5 0h0m25.2 0h0m50.8 0h0m-181.7 9.7h0m6.2 0h0m5.1 0h0m4.1 0h0m5.7 0h0m4.9 0h0m4.6 0h0m4.3 0h0m4.1 0h0m3.7 0h0m3.7 0h0m4.3 0h0m4.8 0h0m4.9 0h0m5.1 0h0m4.4 0h0m4.6 0h0m4.5 0h0m4.5 0h0m3.8 0h0m4.7 0h0m4.8 0h0m3.6 0h0m5 0h0m4.8 0h0m5.1 0h0m4.5 0h0m5.5 0h0m3.8 0h0m4 0h0m5.5 0h0m3.6 0h0m5.2 0h0m5.1 0h0m4 0h0m3.8 0h0m4.5 0h0m5.1 0h0m4.8 0h0m3.9 0h0m3.8 0h0m4.1 0h0m5.3 0h0m5 0h0m5.1 0h0m5 0h0m6.1 0h0m5.9 0h0m8.4 0h0m8.2 0h0m9.9 0h0m7.9 0h0m13.7 0h0m40.5 0h0m-291.7 9.6h0m27.4 0h0m21.2 0h0m23.7 0h0m23.3 0h0m34.6 0h0m-137.4 11.6h0m19.2 0h0m20.3 0h0m15.3 0h0m16.2 0h0m35.6 0h0m-112.3 9.7h0m4 0h0m3.8 0h0m4.7 0h0m4.6 0h0m4.5 0h0m3.3 0h0m5.1 0h0m5.1 0h0m4.9 0h0m4.6 0h0m6 0h0m4 0h0m5.6 0h0m5 0h0m4.4 0h0m4.4 0h0m3.4 0h0m5.7 0h0m6.1 0h0m4.8 0h0m5.9 0h0m5.3 0h0m3.9 0h0m5 0h0m4.3 0h0m5.3 0h0m4.3 0h0m5.1 0h0m5.4 0h0m3.1 0h0m4 0h0m4 0h0m5.6 0h0m4.1 0h0m4.6 0h0m5 0h0m3.5 0h0m5.3 0h0m5.7 0h0m6.1 0h0m6.8 0h0m13.8 0h0m16.7 0h0m13.9 0h0m21.8 0h0m71.2 0h0m-326.3 10.2h0m-8.9 9.1h0m5.2 0h0m5.3 0h0m4.2 0h0m4.2 0h0m4.9 0h0m5.4 0h0m4.7 0h0m4.4 0h0m5.4 0h0m4.8 0h0m4.5 0h0m5 0h0m3.9 0h0m5.4 0h0m5.5 0h0m4.6 0h0m5 0h0m5.6 0h0m4.7 0h0m5.3 0h0m4.8 0h0m4.4 0h0m3.9 0h0m4 0h0m4.4 0h0m3.4 0h0m4.3 0h0m5.1 0h0m4.3 0h0m4.2 0h0m4.9 0h0m4.6 0h0m5.6 0h0m5.9 0h0m8.3 0h0m6.1 0h0m8.4 0h0m6.8 0h0m15.1 0h0m34.5 0h0"/>
<path d="M561.4 289.6h0m14.3 38.6h0m-76.7 21.2h0m-120.2 48.3h0m63.1 9.6h0m-38.2 21.3h0m107.4 19.3h0m-121 19.3h0m-142.6 11.6h0m106.1 0h0m26.4 0h0m21.2 0h0m29.6 0h0m34.8 0h0m61.9 0h0m-119.5 28.9h0m137.3 0h0m-223.6 9.7h0m63.8 9.6h0m-28.7 9.7h0m-147.2 11.5h0m54.1 0h0m24.2 0h0m16.8 0h0m13.2 0h0m10.7 0h0m8.9 0h0m7.7 0h0m11.2 0h0m8.6 0h0m8.5 0h0m10.1 0h0m11.7 0h0m11.8 0h0m10.6 0h0m9.7 0h0m10.7 0h0m9.4 0h0m16.8 0h0m23.6 0h0m-152.3 9.7h0m-48.9 9.6h0m75.5 0h0m224.6 0h0m-364 9.7h0m124 0h0m83.6 0h0m-175.2 9.6h0m63 0h0m73.1 0h0m-65.5 9.7h0m56.2 0h0m-237.9 9.6h0m63.4 0h0m30 0h0m19.4 0h0m11.5 0h0m11.1 0h0m7.1 0h0m7.6 0h0m9.3 0h0m7.5 0h0m7.3 0h0m8.3 0h0m7.6 0h0m5.8 0h0m6.9 0h0m7.9 0h0m6 0h0m5.7 0h0m9.1 0h0m6.7 0h0m5.5 0h0m6.4 0h0m7.4 0h0m8.9 0h0m9.1 0h0m13 0h0m10.5 0h0m10 0h0m8 0h0m9.5 0h0m37.8 0h0m-253.5 11.6h0m45.2 0h0m38.4 0h0m44.9 0h0m-139.3 9.7h0m33 0h0m33.2 0h0m27.5 0h0m48 0h0m-136.3 9.6h0m37.1 0h0m41.2 0h0m-91.5 9.7h0m44.7 0h0m25.3 0h0m26 0h0m32.2 0h0m-143.2 9.6h0m55 0h0m22.4 0h0m32.4 0h0m65.7 0h0m-263.6 9.7h0m26.3 0h0m12.7 0h0m9.9 0h0m7.3 0h0m10.1 0h0m6.5 0h0m6.4 0h0m5.9 0h0m6.2 0h0m5.3 0h0m5.7 0h0m5.4 0h0m5.9 0h0m4.8 0h0m5.1 0h0m5.5 0h0m5 0h0m4.8 0h0m4.3 0h0m6.3 0h0m4.9 0h0m4.4 0h0m6.5 0h0m5.4 0h0m5.8 0h0m7 0h0m7.2 0h0m5.8 0h0m9.1 0h0m7 0h0m4.9 0h0m5.6 0h0m6.7 0h0m5.3 0h0m4 0h0m4.9 0h0m5.5 0h0m5.1 0h0m5.8 0h0m5.5 0h0m4.9 0h0m6.4 0h0m9 0h0m17.3 0h0m20.4 0h0m22.7 0h0m41.3 0h0m33.5 0h0m-333.5 9.6h0m30.1 0h0m22.9 0h0m24.9 0h0m24.8 0h0m52.4 0h0m-192.1 11.6h0m33.5 0h0m18.6 0h0m19.9 0h0m21.1 0h0m14.1 0h0m35.5 0h0m35.7 0h0m-180.7 9.6h0m37.3 0h0m17.3 0h0m17.3 0h0m17.4 0h0m38.6 0h0m28.1 0h0m-185.4 9.7h0m53.3 0h0m23.4 0h0m26.8 0h0m21.7 0h0m51.7 0h0m-211 9.6h0m14.3 0h0m6.9 0h0m6.5 0h0m7.1 0h0m5.6 0h0m6.5 0h0m4.8 0h0m4.7 0h0m5.7 0h0m5.3 0h0m4.7 0h0m5 0h0m3.8 0h0m5.1 0h0m4.4 0h0m4.3 0h0m4.8 0h0m6.2 0h0m5 0h0m5.4 0h0m4.6 0h0m4 0h0m4.4 0h0m4.7 0h0m5.6 0h0m4.7 0h0m4.6 0h0m7.2 0h0m4.4 0h0m4.6 0h0m4.8 0h0m4.5 0h0m4.4 0h0m3.9 0h0m6.1 0h0m4.9 0h0m4.7 0h0m5.1 0h0m4.8 0h0m4.6 0h0m4.9 0h0m4.7 0h0m4.7 0h0m3.5 0h0m4.7 0h0m5.9 0h0m4.6 0h0m5.3 0h0m9 0h0m7.4 0h0m7.3 0h0m9 0h0m11.7 0h0m19 0h0m32.4 0h0m84.3 0h0m-425.8 9.7h0m45.6 0h0m19.1 0h0m23.8 0h0m25.9 0h0m23.2 0h0m24.1 0h0m26.7 0h0m23 0h0m-174.9 9.6h0m28 0h0m19.9 0h0m17.9 0h0m22.9 0h0m19.5 0h0m43.9 0h0m-161.9 11.6h0m24.6 0h0m18.4 0h0m17.8 0h0m16 0h0m20.6 0h0m42.8 0h0m156.9 0h0m-336.8 9.7h0m6.6 0h0m8.2 0h0m7.3 0h0m5.2 0h0m4.6 0h0m6.1 0h0m3.6 0h0m5.1 0h0m4.6 0h0m4.6 0h0m5 0h0m4 0h0m3.8 0h0m5.1 0h0m4.7 0h0m4.5 0h0m5.2 0h0m4.2 0h0m4.1 0h0m4.9 0h0m4.8 0h0m4.4 0h0m4.3 0h0m4.9 0h0m4.6 0h0m5 0h0m6.2 0h0m5 0h0m5.4 0h0m4 0h0m4.3 0h0m4.2 0h0m4.5 0h0m5 0h0m3.9 0h0m4.7 0h0m4.1 0h0m5 0h0m4.6 0h0m4.4 0h0m4.3 0h0m3.6 0h0m4.1 0h0m4.4 0h0m6.1 0h0m6.7 0h0m5.1 0h0m4.4 0h0m4.9 0h0m4.7 0h0m5.3 0h0m6.3 0h0m5.9 0h0m4.7 0h0m6.9 0h0m5.6 0h0m8.5 0h0m9.6 0h0m19.8 0h0m31.1 0h0m-326.8 9.6h0m20.7 0h0m15.5 0h0m14.1 0h0m16.8 0h0m18.2 0h0m15.3 0h0m17.1 0h0m33.3 0h0m-140.4 9.7h0m15.8 0h0m13.3 0h0m9.9 0h0m14.7 0h0m13.6 0h0m15.3 0h0m-98.6 9.6h0m14.4 0h0m11.4 0h0m11.6 0h0m14.3 0h0m13.8 0h0m12.4 0h0m26.3 0h0m59.3 0h0m-191.5 9.7h0m6.2 0h0m5.1 0h0m4.1 0h0m5.6 0h0m5 0h0m4.7 0h0m4.1 0h0m4.2 0h0m3.7 0h0m3.6 0h0m4.4 0h0m4.7 0h0m4.9 0h0m5.2 0h0m4.5 0h0m4.5 0h0m4.6 0h0m4.3 0h0m3.9 0h0m4.6 0h0m4.9 0h0m3.5 0h0m5 0h0m4.9 0h0m5 0h0m4.6 0h0m5.4 0h0m3.9 0h0m4.1 0h0m5.3 0h0m3.6 0h0m5.3 0h0m5.2 0h0m4 0h0m3.7 0h0m4.4 0h0m5.2 0h0m4.7 0h0m4.3 0h0m3.5 0h0m4 0h0m5.4 0h0m4.9 0h0m5.3 0h0m5.3 0h0m5.6 0h0m6.6 0h0m7.9 0h0m8.1 0h0m10.2 0h0m8 0h0m13.3 0h0m41.3 0h0m-291.4 9.6h0m26.8 0h0m20.8 0h0m23.7 0h0m23.6 0h0m34.7 0h0m-137.8 11.6h0m20.4 0h0m19.4 0h0m14.9 0h0m16.6 0h0m35.2 0h0m-112.4 9.7h0m4.3 0h0m3.9 0h0m4.5 0h0m4.4 0h0m4.5 0h0m3.7 0h0m4.7 0h0m5.1 0h0m4.9 0h0m4.7 0h0m6 0h0m4 0h0m5.5 0h0m5.1 0h0m4.4 0h0m4.3 0h0m3.4 0h0m5.7 0h0m6.2 0h0m4.8 0h0m5.9 0h0m5.2 0h0m4 0h0m4.9 0h0m4.3 0h0m5.6 0h0m4.1 0h0m5.1 0h0m5.3 0h0m3.2 0h0m4 0h0m4.3 0h0m5.2 0h0m4.3 0h0m4.5 0h0m5 0h0m3.6 0h0m5.2 0h0m5.7 0h0m6.4 0h0m6.5 0h0m14.9 0h0m15.6 0h0m13.8 0h0m21.9 0h0m71.2 0h0m-325.8 10.2h0m-9.4 9.1h0m5.2 0h0m5.2 0h0m4.3 0h0m4.2 0h0m5 0h0m5.2 0h0m4.9 0h0m4.3 0h0m5.3 0h0m4.9 0h0m4.4 0h0m5.1 0h0m4.1 0h0m5.2 0h0m5.5 0h0m4.6 0h0m4.9 0h0m5.7 0h0m4.8 0h0m5.4 0h0m4.5 0h0m4.4 0h0m3.9 0h0m4 0h0m4.5 0h0m3.4 0h0m4.2 0h0m5.1 0h0m4.4 0h0m4.1 0h0m4.9 0h0m4.8 0h0m5.6 0h0m5.8 0h0m8.2 0h0m6.4 0h0m8.2 0h0m6.8 0h0m15.6 0h0m35.4 0h0"/>
<path d="M434.2 299.3h0m150.5 28.9h0m-84.7 21.2h0m-121.2 48.3h0m72 9.6h0m-47.1 21.3h0m117.6 19.3h0m-126.6 19.3h0m-143 11.6h0m102.3 0h0m26.8 0h0m21.1 0h0m28.9 0h0m35.2 0h0m68.1 0h0m-122 28.9h0m218.6 0h0m-301.8 9.7h0m59.6 9.6h0m-31.2 9.7h0m-147.7 11.5h0m55.7 0h0m23.1 0h0m16.5 0h0m13.2 0h0m10.7 0h0m8.9 0h0m7.7 0h0m11.2 0h0m8.8 0h0m8.4 0h0m9.8 0h0m12.2 0h0m11.4 0h0m10.9 0h0m9.3 0h0m10.7 0h0m9.4 0h0m18.3 0h0m23.7 0h0m-152 9.7h0m-49.1 9.6h0m74.7 0h0m225.8 0h0m-359.5 9.7h0m118.7 0h0m93.7 0h0m-186.5 9.6h0m63.4 0h0m77.4 0h0m-69.7 9.7h0m55.8 0h0m-231.2 9.6h0m56.8 0h0m29.7 0h0m20 0h0m11 0h0m11.2 0h0m7 0h0m8.3 0h0m8.6 0h0m7.6 0h0m7.2 0h0m8.4 0h0m7.7 0h0m5.8 0h0m6.9 0h0m7.7 0h0m6.5 0h0m5.2 0h0m9.1 0h0m6.6 0h0m5.7 0h0m6.2 0h0m7.7 0h0m8.9 0h0m8.9 0h0m12.9 0h0m10.5 0h0m10 0h0m8.3 0h0m9.2 0h0m41.4 0h0m-256.1 11.6h0m44.5 0h0m38.1 0h0m48.3 0h0m-142.2 9.7h0m33 0h0m37.1 0h0m23.7 0h0m48.3 0h0m-137 9.6h0m37.1 0h0m42.2 0h0m-92.7 9.7h0m45.2 0h0m25.1 0h0m25.8 0h0m32.1 0h0m-141.2 9.6h0m53.3 0h0m22.1 0h0m33.9 0h0m65.3 0h0m-264.6 9.7h0m27.4 0h0m11.9 0h0m9.6 0h0m7.5 0h0m9.9 0h0m6.4 0h0m6.5 0h0m5.8 0h0m6.2 0h0m5.3 0h0m5.7 0h0m5.4 0h0m5.9 0h0m4.8 0h0m5.1 0h0m5.7 0h0m4.8 0h0m4.9 0h0m4.2 0h0m6.4 0h0m5 0h0m4.2 0h0m6.6 0h0m5.3 0h0m6 0h0m6.9 0h0m7.2 0h0m5.9 0h0m9 0h0m6.9 0h0m5.2 0h0m5.5 0h0m6.7 0h0m5.1 0h0m4.2 0h0m4.7 0h0m5.8 0h0m5 0h0m5.7 0h0m5.5 0h0m4.9 0h0m6.5 0h0m9.3 0h0m16.8 0h0m21 0h0m22.3 0h0m42.3 0h0m36.1 0h0m-336.8 9.6h0m29.9 0h0m22.6 0h0m25.5 0h0m24.5 0h0m54 0h0m-192.1 11.6h0m31.7 0h0m18.8 0h0m19.8 0h0m21.4 0h0m13.9 0h0m35.4 0h0m36.3 0h0m-179.9 9.6h0m35.8 0h0m17.7 0h0m16.8 0h0m18.7 0h0m37.5 0h0m29.2 0h0m-183.4 9.7h0m50.1 0h0m24.2 0h0m26.4 0h0m22.3 0h0m51.2 0h0m-211.3 9.6h0m14.2 0h0m6.7 0h0m6.7 0h0m6.9 0h0m5.8 0h0m6.3 0h0m4.9 0h0m4.8 0h0m5.5 0h0m5.4 0h0m4.6 0h0m5 0h0m3.8 0h0m5.2 0h0m4.6 0h0m4 0h0m4.9 0h0m6.2 0h0m4.9 0h0m5.6 0h0m4.7 0h0m4 0h0m4.1 0h0m4.9 0h0m5.5 0h0m4.7 0h0m4.6 0h0m7.3 0h0m4.3 0h0m4.6 0h0m4.8 0h0m4.5 0h0m4.4 0h0m3.9 0h0m6.2 0h0m5.1 0h0m4.4 0h0m5 0h0m4.8 0h0m4.7 0h0m5 0h0m4.6 0h0m4.7 0h0m3.5 0h0m4.6 0h0m6 0h0m4.6 0h0m5.5 0h0m8.8 0h0m7.3 0h0m7.4 0h0m9.1 0h0m11.6 0h0m19.2 0h0m34.9 0h0m84.8 0h0m-428.7 9.7h0m45.7 0h0m19.1 0h0m23.3 0h0m26.7 0h0m22.6 0h0m24.9 0h0m25.9 0h0m27.5 0h0m-178.3 9.6h0m26.8 0h0m19.9 0h0m18.7 0h0m22.1 0h0m19.5 0h0m45.1 0h0m-162.4 11.6h0m24.4 0h0m18 0h0m17.6 0h0m16.6 0h0m21.6 0h0m43.3 0h0m181 0h0m-362.7 9.7h0m6.5 0h0m8.2 0h0m7.3 0h0m5.4 0h0m4.4 0h0m6 0h0m3.5 0h0m5.1 0h0m4.7 0h0m4.5 0h0m5 0h0m4.1 0h0m3.9 0h0m5 0h0m4.6 0h0m4.6 0h0m5.6 0h0m3.7 0h0m4.2 0h0m5 0h0m4.8 0h0m4.2 0h0m4.4 0h0m4.8 0h0m4.8 0h0m4.8 0h0m6.2 0h0m5 0h0m5.4 0h0m4 0h0m4.3 0h0m4.2 0h0m4.5 0h0m5.2 0h0m3.8 0h0m4.6 0h0m4.2 0h0m5 0h0m4.6 0h0m4.4 0h0m4.2 0h0m3.8 0h0m4 0h0m4.5 0h0m6.2 0h0m6.6 0h0m4.9 0h0m4.5 0h0m4.9 0h0m4.6 0h0m5.4 0h0m6.2 0h0m5.9 0h0m4.7 0h0m7 0h0m5.6 0h0m8.5 0h0m9.6 0h0m20.6 0h0m31 0h0m-327.4 9.6h0m20.8 0h0m15.3 0h0m15.1 0h0m15.9 0h0m18.4 0h0m15.1 0h0m17.4 0h0m35.3 0h0m-142.7 9.7h0m16 0h0m12.9 0h0m10.1 0h0m14.8 0h0m13.7 0h0m14.9 0h0m-98.1 9.6h0m14.2 0h0m11.1 0h0m11.7 0h0m14.6 0h0m13.5 0h0m12.8 0h0m27.5 0h0m61.7 0h0m-195.4 9.7h0m6 0h0m5.3 0h0m3.9 0h0m5.8 0h0m4.9 0h0m4.7 0h0m4 0h0m4.2 0h0m3.9 0h0m3.6 0h0m4.2 0h0m4.7 0h0m5.1 0h0m5 0h0m4.5 0h0m4.5 0h0m4.7 0h0m4.4 0h0m3.9 0h0m4.7 0h0m4.6 0h0m3.6 0h0m5.2 0h0m4.8 0h0m4.9 0h0m4.7 0h0m5.3 0h0m3.8 0h0m4.2 0h0m5.2 0h0m3.7 0h0m5.4 0h0m5 0h0m4.1 0h0m3.7 0h0m4.3 0h0m5.3 0h0m4.6 0h0m4.3 0h0m3.6 0h0m3.9 0h0m5.4 0h0m4.9 0h0m5.3 0h0m5.5 0h0m5.4 0h0m6.8 0h0m7.7 0h0m8.2 0h0m10.1 0h0m8.1 0h0m13.7 0h0m41.6 0h0m-291.6 9.6h0m26.3 0h0m23.3 0h0m21.3 0h0m25.3 0h0m33.2 0h0m-137.9 11.6h0m20.7 0h0m19 0h0m15.1 0h0m17.4 0h0m34.4 0h0m-112.7 9.7h0m4.3 0h0m3.9 0h0m4.4 0h0m4.4 0h0m4.5 0h0m3.9 0h0m4.7 0h0m5 0h0m5.2 0h0m4.6 0h0m5.8 0h0m4.1 0h0m5.5 0h0m5 0h0m4.3 0h0m4.4 0h0m3.4 0h0m5.9 0h0m5.9 0h0m4.8 0h0m5.9 0h0m5.3 0h0m4 0h0m5.2 0h0m3.9 0h0m5.6 0h0m4.1 0h0m5.2 0h0m5.2 0h0m3.2 0h0m4 0h0m4.4 0h0m5.2 0h0m4.4 0h0m4.3 0h0m5.1 0h0m3.7 0h0m5 0h0m5.8 0h0m6.3 0h0m6.9 0h0m14.8 0h0m15.6 0h0m14.2 0h0m22.2 0h0m77.1 0h0m-330.6 10.2h0m-11.4 9.1h0m5.3 0h0m5.1 0h0m4.3 0h0m4.2 0h0m5 0h0m5.3 0h0m4.7 0h0m4.3 0h0m5.5 0h0m4.9 0h0m4.3 0h0m5 0h0m4.4 0h0m4.9 0h0m5.5 0h0m4.6 0h0m5 0h0m5.7 0h0m4.8 0h0m5.4 0h0m4.5 0h0m4.4 0h0m3.9 0h0m4 0h0m4.7 0h0m3.2 0h0m4.1 0h0m5.3 0h0m4.2 0h0m4.2 0h0m4.9 0h0m4.7 0h0m5.7 0h0m5.9 0h0m8.3 0h0m6.2 0h0m8.1 0h0m7 0h0m16.1 0h0m35.1 0h0"/>
<path d="M469.1 299.3h0m142.8 28.9h0m5.3 21.2h0m-231.1 48.3h0m64.7 9.6h0m-29.9 21.3h0m102.7 19.3h0m-128.4 19.3h0m-141.3 11.6h0m100.9 0h0m26.1 0h0m22.2 0h0m28.5 0h0m36.3 0h0m67.1 0h0m-116 28.9h0m-87.8 9.7h0m150.9 0h0m-90.3 9.6h0m-33.4 9.7h0m-147.2 11.5h0m55.1 0h0m23.1 0h0m15.6 0h0m13.3 0h0m10.6 0h0m8.8 0h0m8.3 0h0m10.7 0h0m9.1 0h0m8.2 0h0m9.7 0h0m12.5 0h0m11.1 0h0m10.9 0h0m10.1 0h0m9.9 0h0m9.3 0h0m18.4 0h0m26.9 0h0m-154.5 9.7h0m-47.8 9.6h0m73 0h0m-133.7 9.7h0m118.5 0h0m95.6 0h0m39.4 0h0m-227.8 9.6h0m66.2 0h0m75.6 0h0m-69.9 9.7h0m57.7 0h0m-232.5 9.6h0m56.8 0h0m28.5 0h0m19.6 0h0m11.1 0h0m11.1 0h0m7 0h0m8.3 0h0m8.6 0h0m7.6 0h0m7.5 0h0m8.2 0h0m7.7 0h0m5.8 0h0m7.2 0h0m7.8 0h0m6.1 0h0m5.1 0h0m9.4 0h0m6.4 0h0m5.7 0h0m6.2 0h0m7.7 0h0m8.9 0h0m8.8 0h0m13 0h0m10.4 0h0m10.3 0h0m8.3 0h0m9.1 0h0m43.5 0h0m-256.9 11.6h0m44.2 0h0m37.6 0h0m49 0h0m-142.2 9.7h0m31.7 0h0m37.1 0h0m23.9 0h0m49.1 0h0m-136.7 9.6h0m36.2 0h0m41.9 0h0m-91.3 9.7h0m43.7 0h0m25.4 0h0m26 0h0m32.3 0h0m-138.8 9.6h0m50.5 0h0m22.1 0h0m34.5 0h0m73 0h0m-272.6 9.7h0m26.8 0h0m12.2 0h0m9.2 0h0m7.6 0h0m9.8 0h0m6.5 0h0m6.6 0h0m5.7 0h0m6.2 0h0m5.2 0h0m5.9 0h0m5.3 0h0m5.8 0h0m4.9 0h0m5.1 0h0m5.8 0h0m4.6 0h0m5.1 0h0m4.5 0h0m6.1 0h0m4.9 0h0m4.2 0h0m6.5 0h0m5.6 0h0m5.8 0h0m7 0h0m7 0h0m6 0h0m9.1 0h0m6.9 0h0m5 0h0m5.5 0h0m6.8 0h0m5 0h0m4.3 0h0m4.6 0h0m6.2 0h0m4.7 0h0m5.9 0h0m5.2 0h0m5 0h0m6.6 0h0m9.2 0h0m16.7 0h0m21.3 0h0m22.2 0h0m43.1 0h0m42.6 0h0m-343.6 9.6h0m30.2 0h0m22 0h0m25.4 0h0m24.3 0h0m56.7 0h0m-192 11.6h0m29.2 0h0m18.9 0h0m19.4 0h0m21.5 0h0m14 0h0m36.1 0h0m35.4 0h0m-179.8 9.6h0m35.7 0h0m17.7 0h0m18 0h0m20.3 0h0m34.6 0h0m29.4 0h0m-182.6 9.7h0m49.8 0h0m23.9 0h0m26.6 0h0m22.8 0h0m53 0h0m-214.1 9.6h0m14.1 0h0m6.9 0h0m7 0h0m6.6 0h0m5.8 0h0m6.1 0h0m4.9 0h0m4.9 0h0m5.6 0h0m5.2 0h0m4.7 0h0m5.1 0h0m3.8 0h0m5 0h0m4.9 0h0m3.7 0h0m5.1 0h0m6 0h0m4.9 0h0m5.6 0h0m4.9 0h0m3.8 0h0m4.2 0h0m5 0h0m5.4 0h0m4.7 0h0m4.6 0h0m7.3 0h0m4.2 0h0m4.7 0h0m4.8 0h0m4.4 0h0m4.4 0h0m4.1 0h0m6 0h0m5.1 0h0m4.4 0h0m5.2 0h0m4.6 0h0m4.8 0h0m5 0h0m4.7 0h0m4.5 0h0m3.7 0h0m4.5 0h0m6 0h0m4.8 0h0m5.6 0h0m8.5 0h0m7.4 0h0m7.2 0h0m9.4 0h0m12 0h0m19.4 0h0m34.2 0h0m89.3 0h0m-433.3 9.7h0m45.8 0h0m18.9 0h0m23.3 0h0m27.1 0h0m22.5 0h0m24.8 0h0m25.8 0h0m29.2 0h0m-179.4 9.6h0m26.1 0h0m21.1 0h0m18.1 0h0m21.8 0h0m19.3 0h0m47.4 0h0m-164.1 11.6h0m23.9 0h0m17.9 0h0m17.6 0h0m17.8 0h0m21.3 0h0m42.7 0h0m-182.1 9.7h0m6.6 0h0m8.2 0h0m7.2 0h0m5.4 0h0m4.5 0h0m6 0h0m3.5 0h0m5 0h0m4.7 0h0m5 0h0m4.7 0h0m3.9 0h0m3.9 0h0m5.2 0h0m4.4 0h0m4.8 0h0m5.4 0h0m3.7 0h0m4.3 0h0m4.9 0h0m4.8 0h0m4.2 0h0m4.5 0h0m4.8 0h0m4.7 0h0m4.8 0h0m6.4 0h0m4.9 0h0m5.4 0h0m3.9 0h0m4.3 0h0m4.3 0h0m4.8 0h0m4.9 0h0m3.8 0h0m4.7 0h0m4 0h0m5 0h0m4.6 0h0m4.4 0h0m4.2 0h0m3.9 0h0m3.9 0h0m4.7 0h0m6.1 0h0m7 0h0m4.4 0h0m4.6 0h0m4.9 0h0m4.6 0h0m5.3 0h0m6.3 0h0m6.4 0h0m4.2 0h0m6.9 0h0m5.8 0h0m8.5 0h0m9.4 0h0m21.1 0h0m31.1 0h0m-326.6 9.6h0m20.3 0h0m14.6 0h0m15.1 0h0m16.5 0h0m17.9 0h0m16.4 0h0m16 0h0m36.7 0h0m-144.3 9.7h0m16.2 0h0m13.2 0h0m9.6 0h0m14.8 0h0m13.7 0h0m16.1 0h0m-99 9.6h0m14.2 0h0m10.9 0h0m11.7 0h0m14.6 0h0m13.4 0h0m12.9 0h0m29.4 0h0m60.5 0h0m-195.9 9.7h0m5.7 0h0m5.4 0h0m3.9 0h0m5.8 0h0m4.8 0h0m4.8 0h0m3.9 0h0m4.4 0h0m3.7 0h0m3.6 0h0m4.2 0h0m4.8 0h0m5 0h0m5.1 0h0m4.4 0h0m4.5 0h0m4.8 0h0m4.3 0h0m3.9 0h0m4.7 0h0m4.7 0h0m3.6 0h0m5.1 0h0m5 0h0m5 0h0m4.5 0h0m5.2 0h0m3.9 0h0m4.1 0h0m5.3 0h0m3.6 0h0m5.4 0h0m5.1 0h0m4 0h0m3.7 0h0m4.6 0h0m5 0h0m4.6 0h0m4.3 0h0m3.7 0h0m3.9 0h0m5.4 0h0m4.9 0h0m5.2 0h0m5.5 0h0m5.6 0h0m6.6 0h0m8.3 0h0m7.9 0h0m9.8 0h0m8.2 0h0m14.9 0h0m41.1 0h0m-292.1 9.6h0m26.4 0h0m23.1 0h0m21.7 0h0m24.8 0h0m37.3 0h0m-141.9 11.6h0m21.7 0h0m18 0h0m15.4 0h0m17.4 0h0m34.7 0h0m-113.5 9.7h0m4.4 0h0m3.8 0h0m4.4 0h0m4.5 0h0m4.5 0h0m3.8 0h0m4.8 0h0m4.9 0h0m5.2 0h0m4.7 0h0m5.8 0h0m4.2 0h0m5.3 0h0m5.2 0h0m4.1 0h0m4.4 0h0m3.6 0h0m5.7 0h0m6.1 0h0m4.7 0h0m6.1 0h0m5.2 0h0m3.8 0h0m5.2 0h0m4.1 0h0m5.5 0h0m4.9 0h0m4.4 0h0m5.2 0h0m3.2 0h0m4 0h0m4.6 0h0m4.9 0h0m4.4 0h0m4.5 0h0m4.9 0h0m3.7 0h0m5.1 0h0m5.9 0h0m6.1 0h0m7 0h0m16.4 0h0m14 0h0m14.3 0h0m22.6 0h0m87.5 0h0m-336.5 10.2h0m-16.3 9.1h0m5.2 0h0m5 0h0m4.4 0h0m4.1 0h0m5.1 0h0m5.3 0h0m4.7 0h0m4.3 0h0m5.5 0h0m4.8 0h0m4.4 0h0m5.1 0h0m4.3 0h0m4.8 0h0m5.6 0h0m4.6 0h0m5 0h0m5.6 0h0m4.9 0h0m5.4 0h0m4.7 0h0m4.1 0h0m3.9 0h0m4 0h0m4.8 0h0m3.2 0h0m4.1 0h0m5.2 0h0m4.2 0h0m4.3 0h0m4.8 0h0m4.8 0h0m5.6 0h0m6.1 0h0m8.2 0h0m6.1 0h0m8.3 0h0m6.8 0h0m16.2 0h0m36.6 0h0"/>
<path d="M495.7 299.3h0m-69.8 38.6h0m23.3 21.2h0m-34.9 38.6h0m44.2 9.6h0m-31.9 21.3h0m100.2 19.3h0m-130.8 19.3h0m-131.3 11.6h0m90.6 0h0m25.7 0h0m22.6 0h0m29 0h0m35.4 0h0m70.4 0h0m-249 9.6h0m132.5 19.3h0m-89 9.7h0m152.1 0h0m-71.6 9.6h0m-52.2 9.7h0m-149 11.5h0m54.9 0h0m23 0h0m15 0h0m13.7 0h0m10.2 0h0m8.7 0h0m8.3 0h0m10.7 0h0m9.4 0h0m8 0h0m9.7 0h0m12.6 0h0m11 0h0m10.9 0h0m10.3 0h0m10.1 0h0m9.4 0h0m18.1 0h0m28.1 0h0m-155.4 9.7h0m-47.4 9.6h0m74.8 0h0m-128.8 9.7h0m111.3 0h0m100.4 0h0m70.6 0h0m-263 9.6h0m65.9 0h0m74.9 0h0m-69.5 9.7h0m57.1 0h0m-231.8 9.6h0m56.5 0h0m28.2 0h0m19.6 0h0m10.9 0h0m11.3 0h0m7 0h0m8.2 0h0m8.7 0h0m7.5 0h0m7.4 0h0m8.2 0h0m7.7 0h0m5.8 0h0m7.2 0h0m7.8 0h0m6.1 0h0m5.1 0h0m9.4 0h0m6.7 0h0m5.4 0h0m6.3 0h0m7.7 0h0m9 0h0m9.3 0h0m12.3 0h0m10.4 0h0m10.4 0h0m8.3 0h0m9.2 0h0m52.2 0h0m-265.1 11.6h0m43.8 0h0m37.6 0h0m53 0h0m-146.4 9.7h0m33.4 0h0m35.6 0h0m23.7 0h0m49 0h0m-136.1 9.6h0m35.8 0h0m41.7 0h0m-90.7 9.7h0m43.6 0h0m25.3 0h0m25.8 0h0m32.5 0h0m-137.7 9.6h0m49.4 0h0m22.7 0h0m34.2 0h0m82 0h0m-273.8 9.7h0m18.7 0h0m11.8 0h0m9.4 0h0m7.4 0h0m10.1 0h0m6.2 0h0m6.9 0h0m5.5 0h0m6.3 0h0m5.2 0h0m6 0h0m5.3 0h0m5.6 0h0m4.8 0h0m5.1 0h0m5.9 0h0m4.6 0h0m5.2 0h0m4.4 0h0m6 0h0m4.9 0h0m4.3 0h0m6.6 0h0m5.6 0h0m5.7 0h0m6.9 0h0m7.3 0h0m6 0h0m8.8 0h0m7 0h0m5.1 0h0m5.5 0h0m6.6 0h0m5 0h0m4.4 0h0m4.6 0h0m6.1 0h0m4.9 0h0m5.9 0h0m5.2 0h0m4.9 0h0m6.8 0h0m8.9 0h0m16.8 0h0m21.4 0h0m22.1 0h0m43.1 0h0m42.5 0h0m-341.3 9.6h0m28.8 0h0m21.4 0h0m25.1 0h0m24.7 0h0m62.4 0h0m-195.9 11.6h0m27.2 0h0m19.1 0h0m19.5 0h0m21.1 0h0m14.2 0h0m37.5 0h0m34 0h0m-179.9 9.6h0m35.5 0h0m18.3 0h0m17.6 0h0m20.5 0h0m34.7 0h0m29.4 0h0m-181.7 9.7h0m48.4 0h0m24 0h0m27.6 0h0m21.8 0h0m53.7 0h0m-214.7 9.6h0m14 0h0m6.9 0h0m7.1 0h0m6.5 0h0m5.8 0h0m6.1 0h0m4.9 0h0m5 0h0m5.6 0h0m5.1 0h0m4.6 0h0m5.1 0h0m3.8 0h0m5 0h0m5 0h0m3.7 0h0m5.3 0h0m5.8 0h0m5 0h0m5.4 0h0m5.1 0h0m3.7 0h0m4.2 0h0m5 0h0m5.3 0h0m4.8 0h0m4.8 0h0m7.1 0h0m4.1 0h0m4.7 0h0m4.9 0h0m4.3 0h0m4.5 0h0m4.1 0h0m5.9 0h0m5.1 0h0m4.6 0h0m5.1 0h0m4.6 0h0m4.7 0h0m5 0h0m4.7 0h0m4.7 0h0m3.6 0h0m4.4 0h0m6 0h0m5.2 0h0m5.4 0h0m8.5 0h0m7.7 0h0m6.8 0h0m9.3 0h0m12 0h0m19.4 0h0m34.2 0h0m96.9 0h0m-439 9.7h0m44.1 0h0m19.4 0h0m22.8 0h0m28.1 0h0m21.5 0h0m24.6 0h0m26.2 0h0m32 0h0m-181.9 9.6h0m25.6 0h0m20.9 0h0m18.6 0h0m21.5 0h0m19.1 0h0m53.9 0h0m-169.2 11.6h0m23.8 0h0m16.7 0h0m17.8 0h0m17.5 0h0m23.1 0h0m42.9 0h0m-184.1 9.7h0m6.6 0h0m8.3 0h0m7.3 0h0m5.3 0h0m4.6 0h0m5.9 0h0m3.5 0h0m5 0h0m5 0h0m4.7 0h0m4.7 0h0m3.9 0h0m3.9 0h0m5.2 0h0m4.3 0h0m5 0h0m5.4 0h0m3.6 0h0m4.2 0h0m5 0h0m4.8 0h0m4.2 0h0m4.9 0h0m4.4 0h0m4.9 0h0m4.7 0h0m6.2 0h0m5 0h0m5.3 0h0m4.3 0h0m4.2 0h0m4.1 0h0m4.8 0h0m4.9 0h0m3.9 0h0m4.6 0h0m4.2 0h0m4.8 0h0m4.6 0h0m4.3 0h0m4.3 0h0m3.9 0h0m3.9 0h0m4.6 0h0m6.2 0h0m7 0h0m4.5 0h0m4.4 0h0m5.1 0h0m4.5 0h0m5.2 0h0m6.3 0h0m6.4 0h0m4.3 0h0m7 0h0m5.9 0h0m8.4 0h0m9.3 0h0m21 0h0m32 0h0m-325.8 9.6h0m19 0h0m14.3 0h0m15.1 0h0m16.8 0h0m17.6 0h0m16.3 0h0m16 0h0m37.5 0h0m-144.6 9.7h0m16 0h0m13 0h0m10.1 0h0m14.3 0h0m14.3 0h0m15.5 0h0m-99 9.6h0m14.2 0h0m10.8 0h0m11.7 0h0m14.8 0h0m13.5 0h0m12.9 0h0m30.5 0h0m64 0h0m-200.7 9.7h0m5.9 0h0m5.1 0h0m4.1 0h0m5.6 0h0m4.9 0h0m4.8 0h0m3.9 0h0m4.3 0h0m3.8 0h0m3.8 0h0m4 0h0m5 0h0m4.7 0h0m5.4 0h0m4.3 0h0m4.4 0h0m5 0h0m4.1 0h0m3.8 0h0m4.7 0h0m4.8 0h0m3.7 0h0m5.1 0h0m4.8 0h0m5 0h0m4.5 0h0m5.3 0h0m3.8 0h0m4.3 0h0m5.2 0h0m3.7 0h0m5.5 0h0m4.9 0h0m4 0h0m3.7 0h0m4.7 0h0m4.9 0h0m4.6 0h0m4.3 0h0m3.7 0h0m3.9 0h0m5.4 0h0m4.9 0h0m5.3 0h0m5.4 0h0m5.6 0h0m6.7 0h0m8.3 0h0m7.8 0h0m9.9 0h0m8.1 0h0m16.7 0h0m39.6 0h0m-290.1 9.6h0m24.3 0h0m23.5 0h0m21.1 0h0m25.2 0h0m37.2 0h0m-142.1 11.6h0m22.5 0h0m17.1 0h0m15.9 0h0m17.1 0h0m36.5 0h0m-115.5 9.7h0m4.4 0h0m3.8 0h0m4.5 0h0m4.6 0h0m4.3 0h0m3.9 0h0m4.6 0h0m5 0h0m5.3 0h0m4.5 0h0m5.9 0h0m4.1 0h0m5.5 0h0m5.1 0h0m4.1 0h0m4.4 0h0m3.5 0h0m6.2 0h0m5.7 0h0m4.7 0h0m6.1 0h0m5.4 0h0m3.7 0h0m5 0h0m4.3 0h0m5.4 0h0m4.9 0h0m4.5 0h0m5.1 0h0m3.1 0h0m4 0h0m4.6 0h0m4.9 0h0m4.4 0h0m4.5 0h0m5 0h0m3.7 0h0m5.2 0h0m5.7 0h0m6.2 0h0m7.5 0h0m15.9 0h0m14.4 0h0m13.9 0h0m23 0h0m95.6 0h0m-345 10.2h0m-16.3 9.1h0m5.1 0h0m5.1 0h0m4.3 0h0m4.4 0h0m5 0h0m5.2 0h0m4.6 0h0m4.5 0h0m5.4 0h0m4.8 0h0m4.4 0h0m5.2 0h0m4.2 0h0m4.8 0h0m5.5 0h0m4.6 0h0m5 0h0m5.7 0h0m4.9 0h0m5.5 0h0m4.7 0h0m4 0h0m3.8 0h0m4.1 0h0m4.7 0h0m3.2 0h0m4.2 0h0m5.3 0h0m4 0h0m4.5 0h0m4.6 0h0m4.9 0h0m5.5 0h0m6.2 0h0m8.2 0h0m6.2 0h0m8.2 0h0m6.8 0h0m16.1 0h0m38.3 0h0"/>
<path d="M515.3 299.3h0m-57.8 38.6h0m-5 21.2h0m-24.9 38.6h0m36.5 9.6h0m-34.8 21.3h0m102.9 19.3h0m-135.4 19.3h0m-111.7 11.6h0m70.3 0h0m26 0h0m22.5 0h0m28.7 0h0m36.4 0h0m80 0h0m-240.6 9.6h0m121.1 19.3h0m-95.1 9.7h0m154 0h0m-74.6 9.6h0m-51.3 9.7h0m-146.2 11.5h0m51.1 0h0m23.3 0h0m14.4 0h0m13.9 0h0m10.2 0h0m8.6 0h0m8.4 0h0m10.6 0h0m9.5 0h0m7.9 0h0m9.9 0h0m12.7 0h0m10.6 0h0m10.9 0h0m10.5 0h0m9.9 0h0m9.5 0h0m18.2 0h0m28.5 0h0m-155.4 9.7h0m-47.6 9.6h0m75.1 0h0m-125.4 9.7h0m108.5 0h0m99.7 0h0m-190.6 9.6h0m63.5 0h0m75.6 0h0m88 0h0m-364.5 9.7h0m206.5 0h0m58.6 0h0m-226.9 9.6h0m50.1 0h0m28.3 0h0m19.6 0h0m10.8 0h0m11.5 0h0m6.7 0h0m8.3 0h0m8.6 0h0m7.7 0h0m7.2 0h0m8.4 0h0m7.5 0h0m5.7 0h0m7.4 0h0m7.9 0h0m5.8 0h0m5.3 0h0m9.3 0h0m7 0h0m5 0h0m6.4 0h0m7.6 0h0m9 0h0m9.3 0h0m12.5 0h0m10.7 0h0m10 0h0m8.5 0h0m9.1 0h0m53.6 0h0m-265.6 11.6h0m43.5 0h0m37.8 0h0m53 0h0m-147.2 9.7h0m34.7 0h0m34.2 0h0m24.2 0h0m50.1 0h0m-137.3 9.6h0m35.8 0h0m41.3 0h0m-81.8 9.7h0m35.3 0h0m24.7 0h0m26.1 0h0m32.4 0h0m-128.5 9.6h0m40.2 0h0m23.6 0h0m33.3 0h0m83.3 0h0m-275 9.7h0m18.6 0h0m11.8 0h0m9.2 0h0m7.3 0h0m10.5 0h0m6.1 0h0m6.7 0h0m5.7 0h0m6 0h0m5.3 0h0m6 0h0m5.2 0h0m5.7 0h0m4.7 0h0m5.2 0h0m5.8 0h0m4.6 0h0m5.3 0h0m4.6 0h0m5.9 0h0m4.8 0h0m4.2 0h0m6.7 0h0m5.6 0h0m5.7 0h0m7 0h0m7.3 0h0m5.8 0h0m8.9 0h0m7.3 0h0m4.7 0h0m5.6 0h0m6.5 0h0m5.1 0h0m4.3 0h0m4.6 0h0m6.2 0h0m4.9 0h0m6 0h0m5.1 0h0m4.8 0h0m6.9 0h0m8.8 0h0m16.9 0h0m21.6 0h0m22.7 0h0m88.5 0h0m-343.7 9.6h0m27.7 0h0m21.4 0h0m25.7 0h0m24.3 0h0m68.4 0h0m-201.3 11.6h0m26.3 0h0m19.5 0h0m19.6 0h0m20.4 0h0m14.7 0h0m38.3 0h0m33.8 0h0m-179.5 9.6h0m34.7 0h0m17.8 0h0m17.6 0h0m22.2 0h0m33.1 0h0m29.7 0h0m-180.9 9.7h0m47.2 0h0m24.9 0h0m26.5 0h0m23 0h0m56.5 0h0m-218.3 9.6h0m13.6 0h0m7.1 0h0m7 0h0m6.5 0h0m6.1 0h0m5.7 0h0m5 0h0m5 0h0m5.5 0h0m5.2 0h0m4.6 0h0m5 0h0m4 0h0m4.9 0h0m4.9 0h0m3.7 0h0m5.3 0h0m5.8 0h0m5.1 0h0m5.6 0h0m4.8 0h0m3.8 0h0m4.1 0h0m5 0h0m5.4 0h0m4.7 0h0m4.8 0h0m7.1 0h0m4.1 0h0m5 0h0m4.6 0h0m4.4 0h0m4.5 0h0m4.2 0h0m5.8 0h0m5 0h0m4.7 0h0m5.1 0h0m4.5 0h0m4.7 0h0m5 0h0m4.7 0h0m4.8 0h0m3.7 0h0m4.3 0h0m6 0h0m5.2 0h0m5.4 0h0m8.6 0h0m7.5 0h0m6.9 0h0m9.3 0h0m12 0h0m20.5 0h0m34.1 0h0m95.8 0h0m-433.3 9.7h0m38.9 0h0m19.3 0h0m22.4 0h0m28.2 0h0m21.6 0h0m24.5 0h0m26.2 0h0m38.3 0h0m-187 9.6h0m25.4 0h0m19.8 0h0m18.7 0h0m21.4 0h0m19.6 0h0m55.8 0h0m-171.1 11.6h0m23.9 0h0m16.1 0h0m17.9 0h0m17.8 0h0m22.8 0h0m45.4 0h0m-186.6 9.7h0m7 0h0m7.9 0h0m7.4 0h0m5.1 0h0m5 0h0m5.6 0h0m3.5 0h0m4.9 0h0m5 0h0m4.9 0h0m4.5 0h0m3.9 0h0m4.2 0h0m5.2 0h0m4.4 0h0m4.6 0h0m5.4 0h0m3.7 0h0m4.1 0h0m5.1 0h0m4.9 0h0m4.1 0h0m4.9 0h0m4.3 0h0m5.2 0h0m4.5 0h0m6.1 0h0m5 0h0m5.4 0h0m4.3 0h0m4.1 0h0m4.2 0h0m4.8 0h0m5 0h0m3.8 0h0m4.5 0h0m4.4 0h0m4.7 0h0m4.6 0h0m4.4 0h0m4.1 0h0m3.9 0h0m3.9 0h0m4.7 0h0m6.3 0h0m6.9 0h0m4.4 0h0m4.5 0h0m5.1 0h0m4.4 0h0m5.2 0h0m6.5 0h0m6.2 0h0m4.3 0h0m7.4 0h0m5.5 0h0m8.5 0h0m9.8 0h0m20.9 0h0m31.6 0h0m-325.1 9.6h0m18.3 0h0m14.4 0h0m15.4 0h0m16.9 0h0m17.3 0h0m16.7 0h0m15.7 0h0m38.1 0h0m-144.6 9.7h0m15 0h0m13.1 0h0m10.4 0h0m14 0h0m14.2 0h0m16.4 0h0m-99.7 9.6h0m14.2 0h0m10.7 0h0m11.9 0h0m14.9 0h0m13.1 0h0m13.3 0h0m30.8 0h0m64.9 0h0m-202.1 9.7h0m5.8 0h0m5 0h0m4.1 0h0m5.7 0h0m5.2 0h0m4.6 0h0m3.7 0h0m4.4 0h0m3.7 0h0m3.8 0h0m4 0h0m5.1 0h0m4.7 0h0m5.5 0h0m4.1 0h0m4.4 0h0m5 0h0m4.1 0h0m3.8 0h0m4.7 0h0m4.8 0h0m3.8 0h0m5 0h0m4.9 0h0m5 0h0m4.5 0h0m5.4 0h0m3.6 0h0m4.4 0h0m5.1 0h0m3.8 0h0m5.4 0h0m4.9 0h0m4.3 0h0m3.4 0h0m4.9 0h0m4.8 0h0m4.5 0h0m4.5 0h0m3.7 0h0m4 0h0m5.3 0h0m4.7 0h0m5.4 0h0m5.4 0h0m5.7 0h0m6.7 0h0m8.6 0h0m7.4 0h0m9.9 0h0m8 0h0m16.9 0h0m41.8 0h0m-292.4 9.6h0m24.7 0h0m23.1 0h0m21.7 0h0m24.9 0h0m38.7 0h0m-143.3 11.6h0m22.3 0h0m16.9 0h0m16.1 0h0m16.7 0h0m37 0h0m-116.1 9.7h0m4.6 0h0m3.6 0h0m4.5 0h0m4.8 0h0m4.1 0h0m4 0h0m4.8 0h0m4.9 0h0m5.5 0h0m4.3 0h0m5.8 0h0m4.1 0h0m5.5 0h0m5.1 0h0m4 0h0m4.4 0h0m3.7 0h0m6.2 0h0m5.6 0h0m4.9 0h0m5.9 0h0m5.3 0h0m3.9 0h0m4.9 0h0m4.2 0h0m5.5 0h0m4.9 0h0m4.4 0h0m5.1 0h0m3.3 0h0m3.9 0h0m4.9 0h0m4.5 0h0m4.6 0h0m4.4 0h0m4.9 0h0m4.1 0h0m4.8 0h0m5.8 0h0m6.3 0h0m7.3 0h0m16.3 0h0m14 0h0m14.2 0h0m23.8 0h0m106.6 0h0m-354.5 10.2h0m-18.9 9.1h0m5.5 0h0m4.7 0h0m4.4 0h0m4.3 0h0m5 0h0m5.3 0h0m4.7 0h0m4.3 0h0m5.5 0h0m4.8 0h0m4.3 0h0m5.2 0h0m4.2 0h0m4.8 0h0m5.6 0h0m4.6 0h0m5 0h0m5.6 0h0m5.1 0h0m5.4 0h0m4.8 0h0m3.8 0h0m3.8 0h0m4.2 0h0m4.7 0h0m3.4 0h0m4 0h0m5.2 0h0m4 0h0m4.6 0h0m4.6 0h0m4.9 0h0m5.6 0h0m6.2 0h0m8 0h0m6.3 0h0m8.2 0h0m6.7 0h0m16.4 0h0m38.2 0h0"/>
<path d="M465.1 308.9h0m30.6 29h0m-30.9 21.2h0m-25.6 38.6h0m24.9 9.6h0m-34.8 21.3h0m-25.3 38.6h0m-116.7 11.6h0m69.4 0h0m24.9 0h0m24.5 0h0m26.8 0h0m37.8 0h0m87.6 0h0m-248.2 9.6h0m119.9 19.3h0m-92.6 9.7h0m153.9 0h0m-74.8 9.6h0m-53.4 9.7h0m-141.8 11.5h0m46.3 0h0m24 0h0m13.7 0h0m13.8 0h0m10.4 0h0m8.4 0h0m8.3 0h0m10.8 0h0m9.4 0h0m7.8 0h0m10.2 0h0m12.6 0h0m10.4 0h0m10.9 0h0m10.8 0h0m9.6 0h0m10.2 0h0m18 0h0m28.6 0h0m-152.4 9.7h0m-50.3 9.6h0m76.4 0h0m-125.8 9.7h0m107.8 0h0m99 0h0m-190.7 9.6h0m64.1 0h0m80.9 0h0m86.8 0h0m-367.9 9.7h0m205 0h0m59.2 0h0m-225.2 9.6h0m48.2 0h0m28.2 0h0m19.2 0h0m10.8 0h0m11.5 0h0m6.7 0h0m8.5 0h0m8.6 0h0m7.5 0h0m7.5 0h0m8.3 0h0m7.4 0h0m6.1 0h0m7 0h0m7.8 0h0m5.9 0h0m5.3 0h0m9.2 0h0m7 0h0m5 0h0m6.6 0h0m7.4 0h0m9.3 0h0m9.8 0h0m11.7 0h0m11 0h0m9.9 0h0m8.7 0h0m8.8 0h0m55.9 0h0m-267.2 11.6h0m43.6 0h0m38.5 0h0m51.4 0h0m-146.7 9.7h0m34.8 0h0m34 0h0m24 0h0m50.1 0h0m-136.3 9.6h0m35.2 0h0m42 0h0m-83 9.7h0m36.4 0h0m24.9 0h0m24.8 0h0m32.5 0h0m-128.2 9.6h0m39.8 0h0m23.6 0h0m33.5 0h0m88.3 0h0m-280.2 9.7h0m18.5 0h0m11.8 0h0m9.2 0h0m7.4 0h0m10.8 0h0m5.8 0h0m6.7 0h0m5.7 0h0m6.1 0h0m5.2 0h0m5.9 0h0m5.3 0h0m5.6 0h0m4.9 0h0m5 0h0m6 0h0m4.5 0h0m5.2 0h0m4.8 0h0m5.7 0h0m5 0h0m4.5 0h0m6.2 0h0m5.6 0h0m5.8 0h0m7.1 0h0m7.2 0h0m5.8 0h0m9 0h0m7.1 0h0m4.8 0h0m5.6 0h0m6.6 0h0m5 0h0m4.4 0h0m4.5 0h0m6.1 0h0m4.9 0h0m6 0h0m5.3 0h0m4.9 0h0m6.6 0h0m8.9 0h0m17.5 0h0m22.1 0h0m21.7 0h0m88.3 0h0m-342.5 9.6h0m27 0h0m21.6 0h0m25.4 0h0m23.9 0h0m68.8 0h0m-201.2 11.6h0m26 0h0m19.5 0h0m19.7 0h0m20.2 0h0m14.8 0h0m39.4 0h0m34.7 0h0m-181.7 9.6h0m35.1 0h0m17.4 0h0m18.1 0h0m22 0h0m32.9 0h0m31.8 0h0m-183 9.7h0m47.3 0h0m24.8 0h0m26.6 0h0m23.1 0h0m56.3 0h0m-217.3 9.6h0m12.7 0h0m7.1 0h0m7.5 0h0m5.8 0h0m6.2 0h0m5.6 0h0m5 0h0m5 0h0m5.5 0h0m5.3 0h0m4.6 0h0m4.9 0h0m4.1 0h0m4.8 0h0m5 0h0m3.6 0h0m5.4 0h0m5.9 0h0m5 0h0m5.6 0h0m4.7 0h0m3.8 0h0m4.3 0h0m4.8 0h0m5.4 0h0m4.8 0h0m4.8 0h0m7.1 0h0m4.3 0h0m4.8 0h0m4.6 0h0m4.3 0h0m4.6 0h0m4.3 0h0m5.6 0h0m5.1 0h0m4.8 0h0m5.1 0h0m4.4 0h0m4.8 0h0m5.1 0h0m4.4 0h0m4.9 0h0m3.6 0h0m4.3 0h0m6.1 0h0m5.1 0h0m5.7 0h0m8.4 0h0m7.4 0h0m7.6 0h0m8.9 0h0m11.9 0h0m21.3 0h0m33.3 0h0m101.3 0h0m-438.6 9.7h0m38.9 0h0m18.9 0h0m23 0h0m28 0h0m21.3 0h0m24.5 0h0m26.6 0h0m49.2 0h0m-198 9.6h0m27.6 0h0m17.2 0h0m18.7 0h0m21.4 0h0m20 0h0m61.6 0h0m-174.9 11.6h0m21.6 0h0m16.8 0h0m17.2 0h0m17.8 0h0m23.7 0h0m46.7 0h0m-188.7 9.7h0m7.2 0h0m7.5 0h0m7.4 0h0m5.1 0h0m5 0h0m5.7 0h0m3.4 0h0m4.9 0h0m5.1 0h0m4.8 0h0m4.6 0h0m3.9 0h0m4.1 0h0m5.3 0h0m4.3 0h0m4.6 0h0m5.4 0h0m3.9 0h0m4.1 0h0m4.9 0h0m5 0h0m4 0h0m4.9 0h0m4.3 0h0m5.4 0h0m4.3 0h0m6.2 0h0m4.9 0h0m5.5 0h0m4.3 0h0m4.1 0h0m4.3 0h0m4.6 0h0m5 0h0m3.8 0h0m4.6 0h0m4.3 0h0m4.8 0h0m4.5 0h0m4.4 0h0m4.1 0h0m3.9 0h0m4 0h0m4.7 0h0m6.5 0h0m6.6 0h0m4.5 0h0m4.5 0h0m5.1 0h0m4.3 0h0m5.6 0h0m6.4 0h0m6 0h0m4.3 0h0m7.4 0h0m5.6 0h0m8.6 0h0m9.7 0h0m21.7 0h0m31.9 0h0m-326.2 9.6h0m18.5 0h0m14.4 0h0m15.2 0h0m16.7 0h0m18.1 0h0m16.1 0h0m16.1 0h0m38.3 0h0m-190 9.7h0m45.5 0h0m14.2 0h0m13.4 0h0m10.4 0h0m14.1 0h0m13.7 0h0m17.4 0h0m-100.6 9.6h0m14.6 0h0m10.7 0h0m11.6 0h0m14.9 0h0m13 0h0m13.3 0h0m30.8 0h0m69.6 0h0m-206.7 9.7h0m5.8 0h0m4.9 0h0m4.1 0h0m5.6 0h0m5.3 0h0m4.5 0h0m3.7 0h0m4.4 0h0m3.7 0h0m3.9 0h0m4 0h0m5.1 0h0m4.7 0h0m5.4 0h0m4.3 0h0m4.3 0h0m5 0h0m4.2 0h0m3.7 0h0m4.6 0h0m4.9 0h0m3.9 0h0m5 0h0m4.7 0h0m5 0h0m4.8 0h0m5.2 0h0m3.6 0h0m4.3 0h0m5.2 0h0m3.7 0h0m5.4 0h0m4.9 0h0m4.5 0h0m3.2 0h0m5 0h0m4.8 0h0m4.5 0h0m4.4 0h0m3.7 0h0m4.2 0h0m5.1 0h0m4.7 0h0m5.4 0h0m5.6 0h0m5.6 0h0m6.7 0h0m8.5 0h0m7.4 0h0m10 0h0m8.2 0h0m16.7 0h0m42 0h0m-292.4 9.6h0m24.6 0h0m23.9 0h0m20.8 0h0m25 0h0m41.7 0h0m-146.4 11.6h0m22.4 0h0m16.9 0h0m16.5 0h0m16.3 0h0m38.5 0h0m-117.8 9.7h0m4.6 0h0m3.7 0h0m4.4 0h0m4.9 0h0m4.2 0h0m3.9 0h0m4.8 0h0m5.2 0h0m5.1 0h0m4.3 0h0m5.9 0h0m4.1 0h0m5.4 0h0m5.3 0h0m3.9 0h0m4.4 0h0m3.7 0h0m6.1 0h0m5.7 0h0m4.9 0h0m5.9 0h0m5.3 0h0m4.3 0h0m4.7 0h0m3.9 0h0m5.6 0h0m5 0h0m4.5 0h0m4.8 0h0m3.5 0h0m3.9 0h0m4.7 0h0m4.5 0h0m4.8 0h0m4.3 0h0m5 0h0m3.9 0h0m5.1 0h0m5.7 0h0m6.2 0h0m7.5 0h0m16.1 0h0m14 0h0m14.3 0h0m24.1 0h0m108.1 0h0m-350.2 10.2h0m-25.2 9.1h0m5.6 0h0m4.6 0h0m4.4 0h0m4.5 0h0m4.9 0h0m5.3 0h0m4.7 0h0m4.3 0h0m5.5 0h0m4.7 0h0m4.4 0h0m5.1 0h0m4.3 0h0m4.7 0h0m5.6 0h0m4.8 0h0m4.8 0h0m5.7 0h0m5.1 0h0m5.3 0h0m4.8 0h0m4 0h0m3.7 0h0m4.4 0h0m4.4 0h0m3.5 0h0m4.2 0h0m5 0h0m4 0h0m4.6 0h0m4.5 0h0m5 0h0m5.6 0h0m6.2 0h0m8 0h0m6.3 0h0m8.1 0h0m7.2 0h0m15.9 0h0m38.7 0h0"/>
<path d="M472.4 308.9h0m42.9 29h0m-50.5 21.2h0m-18.9 38.6h0m24.9 9.6h0m-33.2 21.3h0m-33.6 38.6h0m-116.4 11.6h0m69.5 0h0m25 0h0m24.9 0h0m27.5 0h0m39 0h0m94.9 0h0m-257.4 9.6h0m-125.2 9.7h0m265.8 9.6h0m-113.4 9.7h0m156.5 0h0m-73.7 9.6h0m-55.2 9.7h0m-144.5 11.5h0m46.3 0h0m24.9 0h0m13.6 0h0m13.6 0h0m10.2 0h0m8.2 0h0m8.5 0h0m10.7 0h0m9.3 0h0m7.9 0h0m10.2 0h0m12.4 0h0m10.7 0h0m10.6 0h0m11.1 0h0m9.3 0h0m10.6 0h0m18.5 0h0m28.4 0h0m-152.4 9.7h0m-47.7 9.6h0m73 0h0m-123.7 9.7h0m108.9 0h0m119.9 0h0m-213 9.6h0m64.7 0h0m79.1 0h0m231.5 0h0m-439.4 9.7h0m131.6 0h0m60.8 0h0m-226.1 9.6h0m49.3 0h0m26.1 0h0m19.2 0h0m11.1 0h0m11.3 0h0m6.6 0h0m8.6 0h0m8.4 0h0m7.7 0h0m7.8 0h0m7.9 0h0m7.3 0h0m6.2 0h0m7.7 0h0m7 0h0m6 0h0m5.4 0h0m9.1 0h0m7 0h0m5.1 0h0m6.8 0h0m7.4 0h0m9 0h0m9.8 0h0m12.4 0h0m10.3 0h0m9.8 0h0m9.1 0h0m8.8 0h0m57.4 0h0m-267.7 11.6h0m42.9 0h0m37.9 0h0m51.8 0h0m-147.2 9.7h0m35 0h0m33.9 0h0m24.8 0h0m54.8 0h0m-141.7 9.6h0m36.5 0h0m40.7 0h0m-83 9.7h0m37.1 0h0m25.3 0h0m24.1 0h0m34 0h0m-129.7 9.6h0m39.4 0h0m23.8 0h0m33.7 0h0m107.9 0h0m-299.9 9.7h0m18.4 0h0m11.5 0h0m9.5 0h0m7 0h0m11 0h0m5.7 0h0m6.6 0h0m5.7 0h0m6.2 0h0m5.1 0h0m6.2 0h0m5 0h0m5.7 0h0m4.8 0h0m5 0h0m6 0h0m4.7 0h0m5 0h0m4.9 0h0m5.7 0h0m5 0h0m4.5 0h0m6.1 0h0m5.8 0h0m5.6 0h0m7.3 0h0m7 0h0m5.8 0h0m9.2 0h0m7 0h0m5.2 0h0m5.5 0h0m6.3 0h0m4.9 0h0m4.4 0h0m4.6 0h0m6.1 0h0m4.9 0h0m5.9 0h0m5.3 0h0m4.9 0h0m6.6 0h0m9.5 0h0m17.3 0h0m22.3 0h0m21.3 0h0m104 0h0m-358.3 9.6h0m27.6 0h0m21 0h0m25.4 0h0m24.1 0h0m70.8 0h0m-202.3 11.6h0m25.7 0h0m19.4 0h0m19.1 0h0m20.8 0h0m14.3 0h0m39.8 0h0m53 0h0m-199.7 9.6h0m35.6 0h0m16 0h0m18.3 0h0m21.8 0h0m32.8 0h0m33 0h0m-181.9 9.7h0m46.5 0h0m23.4 0h0m26.8 0h0m22.9 0h0m57.9 0h0m-218.1 9.6h0m11.9 0h0m7 0h0m7.7 0h0m5.7 0h0m6.5 0h0m5.2 0h0m5 0h0m5.2 0h0m5.5 0h0m5.2 0h0m4.5 0h0m4.9 0h0m4.3 0h0m4.8 0h0m4.8 0h0m3.7 0h0m5.3 0h0m6.1 0h0m4.8 0h0m5.7 0h0m4.7 0h0m3.7 0h0m4.3 0h0m5 0h0m5.2 0h0m5 0h0m4.7 0h0m7 0h0m4.6 0h0m4.5 0h0m4.7 0h0m4.3 0h0m4.5 0h0m4.3 0h0m5.7 0h0m5.1 0h0m4.8 0h0m5.1 0h0m4.6 0h0m4.5 0h0m5.2 0h0m4.3 0h0m5.1 0h0m3.5 0h0m4.4 0h0m6.1 0h0m5.1 0h0m5.6 0h0m8.4 0h0m7.6 0h0m7.3 0h0m9 0h0m11.8 0h0m21.8 0h0m33.7 0h0m116.1 0h0m-451.8 9.7h0m36.5 0h0m19.6 0h0m22.5 0h0m28.2 0h0m21 0h0m24.4 0h0m26.6 0h0m49.2 0h0m-194.8 9.6h0m24.4 0h0m17.6 0h0m19.3 0h0m21.2 0h0m19.2 0h0m65.9 0h0m-179 11.6h0m22 0h0m16.3 0h0m17.4 0h0m17.5 0h0m23.8 0h0m47.3 0h0m-189.5 9.7h0m7.3 0h0m7.4 0h0m7.5 0h0m5.2 0h0m4.8 0h0m5.7 0h0m3.6 0h0m4.7 0h0m5.1 0h0m5 0h0m4.5 0h0m3.9 0h0m4 0h0m5.3 0h0m4.5 0h0m4.4 0h0m5.5 0h0m3.8 0h0m4.1 0h0m5.1 0h0m5 0h0m3.8 0h0m4.9 0h0m4.4 0h0m5.3 0h0m4.6 0h0m6 0h0m4.9 0h0m5.4 0h0m4.3 0h0m4.2 0h0m4.3 0h0m4.5 0h0m5 0h0m3.9 0h0m4.6 0h0m4.2 0h0m4.8 0h0m4.5 0h0m4.4 0h0m4.1 0h0m4 0h0m3.9 0h0m4.7 0h0m6.6 0h0m6.6 0h0m4.7 0h0m4.6 0h0m4.7 0h0m4.5 0h0m5.4 0h0m6.4 0h0m6.1 0h0m4.2 0h0m7.6 0h0m5.5 0h0m8.6 0h0m9.8 0h0m22.6 0h0m31.3 0h0m-326.2 9.6h0m18.1 0h0m15.1 0h0m14.7 0h0m17 0h0m17.8 0h0m16.1 0h0m16.4 0h0m49.5 0h0m-195.9 9.7h0m40 0h0m14.2 0h0m13.3 0h0m10.6 0h0m14 0h0m13.4 0h0m17.7 0h0m-100.6 9.6h0m14.6 0h0m10.6 0h0m11.5 0h0m14.8 0h0m13.1 0h0m13.4 0h0m31.3 0h0m72.3 0h0m-210.2 9.7h0m5.9 0h0m4.9 0h0m4 0h0m5.7 0h0m5.2 0h0m4.6 0h0m3.7 0h0m4.4 0h0m3.7 0h0m4 0h0m4 0h0m4.9 0h0m5 0h0m5.1 0h0m4.5 0h0m4.2 0h0m5.2 0h0m4.1 0h0m3.6 0h0m5.1 0h0m4.4 0h0m4.1 0h0m4.9 0h0m4.5 0h0m5 0h0m4.8 0h0m5.2 0h0m3.7 0h0m4.2 0h0m5.2 0h0m3.7 0h0m5.7 0h0m4.7 0h0m4.4 0h0m3.5 0h0m4.7 0h0m4.9 0h0m4.4 0h0m4.4 0h0m3.7 0h0m4.6 0h0m4.8 0h0m4.6 0h0m5.5 0h0m5.5 0h0m5.7 0h0m6.8 0h0m8.4 0h0m7.4 0h0m10 0h0m8.1 0h0m16.7 0h0m43.1 0h0m-292.8 9.6h0m24 0h0m24.4 0h0m21.7 0h0m24.3 0h0m43.1 0h0m-148.5 11.6h0m22.4 0h0m17 0h0m16.3 0h0m16.9 0h0m39.9 0h0m-119.3 9.7h0m4.2 0h0m3.7 0h0m4.4 0h0m4.9 0h0m4.2 0h0m3.8 0h0m4.8 0h0m5.3 0h0m5 0h0m4.3 0h0m6 0h0m4 0h0m5.5 0h0m5.2 0h0m3.9 0h0m4.6 0h0m3.7 0h0m5.9 0h0m5.7 0h0m5 0h0m5.8 0h0m5.5 0h0m4.3 0h0m4.6 0h0m3.9 0h0m5.6 0h0m5 0h0m4.5 0h0m4.8 0h0m3.5 0h0m3.8 0h0m4.9 0h0m4.3 0h0m4.9 0h0m4.3 0h0m4.9 0h0m4 0h0m5.1 0h0m5.8 0h0m6 0h0m8.1 0h0m15.7 0h0m13.9 0h0m14.5 0h0m25.4 0h0m-242.6 10.2h0m-26.3 9.1h0m5.6 0h0m4.7 0h0m4.4 0h0m4.4 0h0m4.9 0h0m5.4 0h0m4.8 0h0m4.2 0h0m5.5 0h0m4.9 0h0m4.2 0h0m5.3 0h0m4 0h0m4.8 0h0m5.7 0h0m4.7 0h0m4.9 0h0m5.7 0h0m5 0h0m5.4 0h0m4.6 0h0m4 0h0m3.8 0h0m4.3 0h0m4.5 0h0m3.7 0h0m4 0h0m4.9 0h0m4 0h0m4.6 0h0m4.6 0h0m5.1 0h0m5.4 0h0m6.2 0h0m8 0h0m6.5 0h0m8 0h0m7.6 0h0m15.7 0h0m40.8 0h0"/>
<path d="M529.5 160.3h0m-23.5 148.6h0m-10.3 50.2h0m-23.3 38.6h0m8.3 9.6h0m-35.5 21.3h0m-39.5 38.6h0m-117.1 11.6h0m69 0h0m24.5 0h0m25.5 0h0m27.8 0h0m38.5 0h0m98.9 0h0m-260 9.6h0m-86.5 9.7h0m226.7 9.6h0m-114.5 9.7h0m165.4 0h0m-82.7 9.6h0m-49.5 9.7h0m-149.7 11.5h0m45.9 0h0m24.6 0h0m13.7 0h0m13.9 0h0m10 0h0m8 0h0m8.6 0h0m10.7 0h0m9.3 0h0m8.2 0h0m10.2 0h0m12 0h0m11.2 0h0m10.3 0h0m11.1 0h0m9.6 0h0m10.1 0h0m19.6 0h0m27.8 0h0m-137 9.7h0m-61.5 9.6h0m71.5 0h0m-123.5 9.7h0m109.3 0h0m-93.7 9.6h0m64.5 0h0m81.5 0h0m-208.2 9.7h0m130.9 0h0m59.4 0h0m95 0h0m-320.1 9.6h0m47.9 0h0m26.6 0h0m19 0h0m11 0h0m11.3 0h0m6.4 0h0m8.7 0h0m8.4 0h0m8.3 0h0m7.6 0h0m7.6 0h0m7.2 0h0m6.1 0h0m8.1 0h0m6.7 0h0m5.9 0h0m5.4 0h0m9.2 0h0m7 0h0m5 0h0m7.1 0h0m7.1 0h0m9.1 0h0m9.7 0h0m12.7 0h0m10.5 0h0m9.4 0h0m9.2 0h0m8.8 0h0m57.8 0h0m-267.8 11.6h0m43.2 0h0m39.3 0h0m50.6 0h0m-147.9 9.7h0m35.6 0h0m33.2 0h0m24.8 0h0m56.8 0h0m-143.5 9.6h0m36.9 0h0m41.7 0h0m-83.9 9.7h0m36.9 0h0m24.8 0h0m24.6 0h0m34.4 0h0m-128.1 9.6h0m37.7 0h0m24.7 0h0m32.1 0h0m133.5 0h0m-325.3 9.7h0m17.9 0h0m11.6 0h0m9.5 0h0m7.4 0h0m10.5 0h0m5.7 0h0m6.6 0h0m5.8 0h0m6.1 0h0m5.7 0h0m5.6 0h0m5.2 0h0m5.7 0h0m4.8 0h0m4.9 0h0m6.1 0h0m4.5 0h0m5.1 0h0m4.8 0h0m5.7 0h0m5.2 0h0m4.6 0h0m5.9 0h0m6.1 0h0m5.4 0h0m7.2 0h0m6.9 0h0m6.1 0h0m9.1 0h0m6.8 0h0m5.3 0h0m5.4 0h0m6.3 0h0m5.1 0h0m4.3 0h0m4.6 0h0m6.3 0h0m5 0h0m5.6 0h0m5.4 0h0m4.7 0h0m6.7 0h0m9.9 0h0m17.2 0h0m22.9 0h0m20.6 0h0m140.6 0h0m-395.1 9.6h0m27.6 0h0m21.8 0h0m25.1 0h0m24 0h0m74.6 0h0m-206.4 11.6h0m25.6 0h0m19.3 0h0m19.3 0h0m21.1 0h0m14.1 0h0m40.2 0h0m53.7 0h0m-199.9 9.6h0m34.9 0h0m16 0h0m18.5 0h0m21.3 0h0m32.6 0h0m33.5 0h0m-180.4 9.7h0m44.8 0h0m23.5 0h0m27.2 0h0m22.4 0h0m60.7 0h0m151 0h0m-371.9 9.6h0m11.7 0h0m7 0h0m7.6 0h0m5.9 0h0m6.4 0h0m5.2 0h0m5 0h0m5.3 0h0m5.4 0h0m5.3 0h0m4.4 0h0m4.9 0h0m4.2 0h0m4.8 0h0m4.9 0h0m3.7 0h0m5.4 0h0m6.1 0h0m4.8 0h0m5.5 0h0m4.7 0h0m3.8 0h0m4.3 0h0m5 0h0m5.1 0h0m5.1 0h0m5.2 0h0m6.5 0h0m4.5 0h0m4.9 0h0m4.3 0h0m4.5 0h0m4.4 0h0m4.7 0h0m5.3 0h0m5.2 0h0m4.7 0h0m5 0h0m4.8 0h0m4.8 0h0m4.8 0h0m4.3 0h0m5.2 0h0m3.3 0h0m4.6 0h0m5.9 0h0m5.1 0h0m5.6 0h0m8.8 0h0m7.2 0h0m7.3 0h0m9.1 0h0m12 0h0m21.8 0h0m35.8 0h0m-336.3 9.7h0m34.7 0h0m20.4 0h0m22 0h0m27.9 0h0m21.6 0h0m24.7 0h0m26.8 0h0m56.6 0h0m-202.7 9.6h0m24.2 0h0m17.5 0h0m19.7 0h0m21.2 0h0m18.5 0h0m72.6 0h0m-185.7 11.6h0m22.2 0h0m16.3 0h0m17.2 0h0m17.8 0h0m24.3 0h0m47.9 0h0m-190.8 9.7h0m7.3 0h0m7.3 0h0m7.6 0h0m5.1 0h0m4.8 0h0m5.8 0h0m3.5 0h0m4.8 0h0m5.2 0h0m4.8 0h0m4.5 0h0m3.9 0h0m4 0h0m5.4 0h0m4.4 0h0m4.6 0h0m5.4 0h0m3.8 0h0m4.1 0h0m5 0h0m5.1 0h0m3.8 0h0m5 0h0m4.3 0h0m5.3 0h0m4.7 0h0m5.9 0h0m5 0h0m5.3 0h0m4.2 0h0m4.2 0h0m4.3 0h0m4.7 0h0m4.9 0h0m3.9 0h0m4.5 0h0m4.3 0h0m4.9 0h0m4.4 0h0m4.4 0h0m4.1 0h0m4.1 0h0m3.7 0h0m4.8 0h0m6.5 0h0m6.7 0h0m4.7 0h0m4.5 0h0m4.7 0h0m4.5 0h0m5.7 0h0m6.1 0h0m6.3 0h0m4.3 0h0m7.4 0h0m5.5 0h0m8.8 0h0m9.5 0h0m22.9 0h0m33.9 0h0m-328.6 9.6h0m17.9 0h0m15.2 0h0m14.5 0h0m17 0h0m17.9 0h0m16 0h0m16.5 0h0m52.1 0h0m-197.2 9.7h0m38.6 0h0m15.3 0h0m12.1 0h0m10.7 0h0m13.8 0h0m13.5 0h0m19.9 0h0m-101.5 9.6h0m13.3 0h0m10.5 0h0m11.6 0h0m14.9 0h0m13 0h0m13.8 0h0m32.7 0h0m78.8 0h0m-218.5 9.7h0m5.9 0h0m4.8 0h0m4.1 0h0m5.6 0h0m5.6 0h0m4.2 0h0m4.1 0h0m4 0h0m3.7 0h0m4.1 0h0m4 0h0m4.9 0h0m5 0h0m5.3 0h0m4.3 0h0m4.2 0h0m5.2 0h0m4.1 0h0m3.7 0h0m5 0h0m4.4 0h0m4 0h0m4.9 0h0m4.6 0h0m5 0h0m4.8 0h0m5.2 0h0m3.6 0h0m4.5 0h0m4.9 0h0m3.8 0h0m5.7 0h0m4.8 0h0m4.3 0h0m3.5 0h0m4.6 0h0m5.1 0h0m4.3 0h0m4.4 0h0m3.8 0h0m4.5 0h0m4.7 0h0m4.7 0h0m5.4 0h0m6 0h0m6 0h0m6 0h0m8.6 0h0m7.4 0h0m9.9 0h0m8.2 0h0m17 0h0m42.8 0h0m-292.9 9.6h0m24.7 0h0m23.8 0h0m21.6 0h0m24.3 0h0m46.5 0h0m-152 11.6h0m22.6 0h0m17 0h0m16.5 0h0m16.5 0h0m41.4 0h0m-120.8 9.7h0m4.3 0h0m3.6 0h0m4.6 0h0m4.7 0h0m4.2 0h0m3.8 0h0m4.8 0h0m5.4 0h0m5 0h0m4.2 0h0m6.2 0h0m4.5 0h0m4.8 0h0m5.4 0h0m4.1 0h0m4.2 0h0m3.9 0h0m5.8 0h0m5.6 0h0m5.4 0h0m5.4 0h0m5.5 0h0m4.3 0h0m4.6 0h0m4.1 0h0m5.4 0h0m5.2 0h0m4.6 0h0m4.6 0h0m3.4 0h0m3.8 0h0m5.2 0h0m4.2 0h0m4.9 0h0m4.2 0h0m4.9 0h0m4 0h0m5.1 0h0m5.8 0h0m6.1 0h0m8.4 0h0m15.2 0h0m14 0h0m14.8 0h0m25.6 0h0m-240.2 10.2h0m-29.3 9.1h0m5.8 0h0m4.5 0h0m4.5 0h0m4.5 0h0m4.8 0h0m5.5 0h0m4.6 0h0m4.4 0h0m5.4 0h0m4.8 0h0m4.3 0h0m5.2 0h0m4 0h0m4.8 0h0m5.7 0h0m4.7 0h0m5.2 0h0m5.7 0h0m5 0h0m5.3 0h0m4.5 0h0m3.9 0h0m3.9 0h0m4.4 0h0m4.4 0h0m3.7 0h0m4.4 0h0m4.4 0h0m4.1 0h0m4.6 0h0m5 0h0m4.7 0h0m5.3 0h0m7.2 0h0m7.3 0h0m6.4 0h0m7.9 0h0m7.6 0h0m16.3 0h0m40.7 0h0"/>
<path d="M479.4 189.2h0m73.7 119.7h0m-57.4 50.2h0m-17.3 38.6h0m2.3 9.6h0m-29.9 21.3h0m-40.9 38.6h0m-116.5 11.6h0m64.4 0h0m24.5 0h0m26 0h0m27.2 0h0m38.5 0h0m106.3 0h0m-266.2 9.6h0m-78.9 9.7h0m222.3 9.6h0m-115 9.7h0m164.3 0h0m-84.9 9.6h0m-46.8 9.7h0m-145.4 11.5h0m40.1 0h0m23 0h0m13.7 0h0m14.1 0h0m9.8 0h0m7.7 0h0m8.8 0h0m10.8 0h0m9 0h0m8.2 0h0m10.3 0h0m12 0h0m11.1 0h0m10.4 0h0m11.3 0h0m9.6 0h0m10.5 0h0m18.9 0h0m27.9 0h0m-135.1 9.7h0m-62.3 9.6h0m70.7 0h0m-120.5 9.7h0m109.1 0h0m-96.4 9.6h0m70.5 0h0m77.1 0h0m-208.3 9.7h0m131.4 0h0m62.4 0h0m101.2 0h0m-330.7 9.6h0m48.2 0h0m25.3 0h0m18.9 0h0m11.5 0h0m11 0h0m6.4 0h0m8.6 0h0m8.3 0h0m8.3 0h0m7.6 0h0m7.6 0h0m7.4 0h0m6.5 0h0m7.7 0h0m6.8 0h0m5.7 0h0m5.4 0h0m9.3 0h0m6.8 0h0m5.2 0h0m7 0h0m7 0h0m9.3 0h0m9.7 0h0m12.7 0h0m10.3 0h0m9.5 0h0m9.3 0h0m9 0h0m59 0h0m-268.3 11.6h0m42.9 0h0m38.7 0h0m51.1 0h0m-146.7 9.7h0m34 0h0m33.9 0h0m24.1 0h0m57.7 0h0m-144.3 9.6h0m37.2 0h0m41.4 0h0m-84.3 9.7h0m37.9 0h0m24.6 0h0m24.5 0h0m34.3 0h0m-126.9 9.6h0m39 0h0m22.2 0h0m32.3 0h0m-192.6 9.7h0m18.5 0h0m11.7 0h0m8.8 0h0m7.5 0h0m10.8 0h0m5.3 0h0m6.8 0h0m5.7 0h0m6.2 0h0m5.8 0h0m5.4 0h0m5.1 0h0m5.8 0h0m4.9 0h0m5.1 0h0m6 0h0m4.2 0h0m5.2 0h0m4.8 0h0m5.6 0h0m5.2 0h0m4.6 0h0m6 0h0m6.2 0h0m5.4 0h0m7.1 0h0m6.9 0h0m6 0h0m9.2 0h0m6.7 0h0m5.5 0h0m5.7 0h0m5.9 0h0m5 0h0m4.4 0h0m4.9 0h0m6 0h0m4.9 0h0m5.9 0h0m5.2 0h0m4.7 0h0m6.7 0h0m10 0h0m17.5 0h0m22.6 0h0m21 0h0m-252.5 9.6h0m25.4 0h0m21.7 0h0m25.1 0h0m24.1 0h0m158.8 0h0m-289.7 11.6h0m24.3 0h0m19.4 0h0m19.5 0h0m21 0h0m15.1 0h0m39.2 0h0m53.7 0h0m-191 9.6h0m25.9 0h0m16.5 0h0m18.6 0h0m20.9 0h0m32.8 0h0m36.4 0h0m-182.1 9.7h0m43.3 0h0m24.5 0h0m26 0h0m22.8 0h0m73.8 0h0m202.6 0h0m-435.8 9.6h0m10.5 0h0m7.1 0h0m7.7 0h0m5.9 0h0m6.5 0h0m4.9 0h0m5 0h0m5.6 0h0m5.2 0h0m5.4 0h0m4.2 0h0m4.9 0h0m4.3 0h0m4.8 0h0m4.9 0h0m3.8 0h0m5.7 0h0m5.7 0h0m4.9 0h0m5.3 0h0m5.1 0h0m3.5 0h0m4.3 0h0m5 0h0m5.1 0h0m5 0h0m5.2 0h0m6.6 0h0m4.4 0h0m4.9 0h0m4.3 0h0m4.6 0h0m4.3 0h0m4.7 0h0m5.4 0h0m5.3 0h0m4.5 0h0m5.1 0h0m4.8 0h0m5 0h0m4.5 0h0m4.3 0h0m5.2 0h0m3.4 0h0m4.5 0h0m6 0h0m5 0h0m5.7 0h0m8.7 0h0m7.6 0h0m7.2 0h0m9 0h0m12.8 0h0m21.6 0h0m35 0h0m-336.3 9.7h0m35.1 0h0m20 0h0m22.4 0h0m28.2 0h0m20.9 0h0m26.1 0h0m25.9 0h0m58.9 0h0m-204.7 9.6h0m23.5 0h0m17.7 0h0m19.5 0h0m21.2 0h0m18.6 0h0m83.5 0h0m-196.6 11.6h0m22.1 0h0m16.4 0h0m17.4 0h0m17.5 0h0m26.3 0h0m47.2 0h0m-192.1 9.7h0m7.5 0h0m7.9 0h0m7.1 0h0m4.7 0h0m4.9 0h0m5.8 0h0m3.6 0h0m4.6 0h0m5.3 0h0m5 0h0m4.4 0h0m3.7 0h0m4.3 0h0m5.3 0h0m4.5 0h0m4.5 0h0m5.2 0h0m3.9 0h0m4 0h0m5.1 0h0m5.1 0h0m3.8 0h0m4.9 0h0m4.5 0h0m5.1 0h0m5 0h0m5.7 0h0m4.9 0h0m5.4 0h0m4.1 0h0m4.3 0h0m4.2 0h0m4.7 0h0m5 0h0m3.9 0h0m4.5 0h0m4.2 0h0m5.1 0h0m4.4 0h0m4.4 0h0m3.9 0h0m4.4 0h0m3.6 0h0m4.8 0h0m6.6 0h0m6.4 0h0m4.8 0h0m4.4 0h0m4.9 0h0m4.4 0h0m5.7 0h0m6.1 0h0m6.3 0h0m4.2 0h0m7.6 0h0m5.4 0h0m8.7 0h0m10.7 0h0m22 0h0m33.6 0h0m-328.1 9.6h0m17.4 0h0m15.4 0h0m14.3 0h0m17.6 0h0m17.5 0h0m15.9 0h0m16.5 0h0m55.6 0h0m-195.3 9.7h0m33.2 0h0m15.5 0h0m12.2 0h0m10.4 0h0m14.4 0h0m12.9 0h0m20.4 0h0m-102.1 9.6h0m13.4 0h0m11.1 0h0m11.2 0h0m14.9 0h0m12.7 0h0m13.9 0h0m33.5 0h0m78.3 0h0m-218.6 9.7h0m5.6 0h0m4.9 0h0m4 0h0m5.7 0h0m5.7 0h0m4.3 0h0m3.8 0h0m4 0h0m3.8 0h0m4 0h0m4 0h0m4.9 0h0m5.5 0h0m4.9 0h0m4.2 0h0m4.3 0h0m5.3 0h0m3.9 0h0m3.8 0h0m4.9 0h0m4.4 0h0m4.1 0h0m4.8 0h0m4.6 0h0m5 0h0m4.9 0h0m5.3 0h0m3.4 0h0m4.7 0h0m4.8 0h0m3.8 0h0m5.6 0h0m5.2 0h0m4 0h0m3.6 0h0m4.6 0h0m4.9 0h0m4.4 0h0m4.4 0h0m3.9 0h0m4.4 0h0m4.9 0h0m4.7 0h0m5.3 0h0m5.9 0h0m6.2 0h0m5.8 0h0m8.5 0h0m7.7 0h0m10.1 0h0m7.8 0h0m17.1 0h0m46 0h0m-295.6 9.6h0m24.4 0h0m23.4 0h0m21.7 0h0m24.7 0h0m52.4 0h0m-157.5 11.6h0m21.9 0h0m17.3 0h0m16.3 0h0m16.9 0h0m41.1 0h0m-125.6 9.7h0m4.4 0h0m4.4 0h0m3.5 0h0m4.7 0h0m4.7 0h0m4.1 0h0m3.9 0h0m5 0h0m5.3 0h0m5 0h0m4.2 0h0m6.1 0h0m4.4 0h0m4.8 0h0m5.7 0h0m3.8 0h0m4.3 0h0m4 0h0m5.7 0h0m5.5 0h0m5.5 0h0m5.4 0h0m5.5 0h0m4.3 0h0m4.5 0h0m4.4 0h0m5.2 0h0m5.2 0h0m4.7 0h0m4.4 0h0m3.5 0h0m4 0h0m5 0h0m4.4 0h0m4.6 0h0m4.3 0h0m4.9 0h0m4.1 0h0m5 0h0m5.8 0h0m6.1 0h0m8.5 0h0m15.1 0h0m14.3 0h0m14.6 0h0m26.5 0h0m-237 10.2h0m-33.6 9.1h0m5.8 0h0m4.5 0h0m4.6 0h0m4.5 0h0m4.8 0h0m5.4 0h0m4.7 0h0m4.5 0h0m5.3 0h0m4.9 0h0m4.2 0h0m5.1 0h0m4.2 0h0m4.8 0h0m5.6 0h0m4.7 0h0m5.1 0h0m5.9 0h0m5 0h0m5.1 0h0m4.6 0h0m3.9 0h0m4 0h0m4.6 0h0m4 0h0m3.9 0h0m4.2 0h0m4.7 0h0m4 0h0m4.4 0h0m5 0h0m4.8 0h0m5.4 0h0m7.1 0h0m7.2 0h0m6.7 0h0m8.2 0h0m7 0h0m17.5 0h0m39.9 0h0"/>
<path d="M468.5 198.9h0m168.7 110h0m-138.9 50.2h0m-15.9 38.6h0m2.3 9.6h0m-33.9 21.3h0m-40.7 38.6h0m-111 11.6h0m58.8 0h0m25.1 0h0m26.4 0h0m26.3 0h0m38.3 0h0m116.8 0h0m-275.4 9.6h0m-59.9 9.7h0m205.6 9.6h0m-118.5 9.7h0m170.1 0h0m-87.4 9.6h0m-48.4 9.7h0m-141.1 11.5h0m34.6 0h0m22.4 0h0m14 0h0m13.9 0h0m9.7 0h0m7.8 0h0m8.7 0h0m10.9 0h0m9 0h0m8.4 0h0m10.4 0h0m11.7 0h0m11.1 0h0m10.4 0h0m11.3 0h0m9.5 0h0m10.7 0h0m18.9 0h0m29.3 0h0m-129.8 9.7h0m-68.5 9.6h0m71.3 0h0m-113.4 9.7h0m102.3 0h0m-97.7 9.6h0m70.3 0h0m78.1 0h0m-197.2 9.7h0m119.3 0h0m65.3 0h0m123.8 0h0m-352.7 9.6h0m45.1 0h0m25.2 0h0m18.5 0h0m11.5 0h0m11 0h0m6.6 0h0m8.7 0h0m8.4 0h0m8.3 0h0m7.3 0h0m7.6 0h0m7.4 0h0m6.6 0h0m7.5 0h0m6.8 0h0m5.9 0h0m5.5 0h0m9 0h0m6.8 0h0m5.2 0h0m7.6 0h0m6.6 0h0m9.2 0h0m9.8 0h0m12.5 0h0m10.4 0h0m9.8 0h0m9.1 0h0m9.6 0h0m-210 11.6h0m43.3 0h0m38.9 0h0m52.3 0h0m-147.2 9.7h0m33.4 0h0m33.4 0h0m24.7 0h0m59.1 0h0m-146.1 9.6h0m37.4 0h0m41 0h0m-84.4 9.7h0m38 0h0m24.5 0h0m24.8 0h0m34.4 0h0m-126.8 9.6h0m39 0h0m22.7 0h0m32 0h0m-192.7 9.7h0m18.1 0h0m11.7 0h0m8.5 0h0m7.4 0h0m11.1 0h0m5.1 0h0m6.7 0h0m6.1 0h0m5.9 0h0m5.9 0h0m5.2 0h0m5.3 0h0m5.7 0h0m5.2 0h0m5 0h0m5.9 0h0m4.1 0h0m5.1 0h0m4.8 0h0m6 0h0m4.8 0h0m4.8 0h0m5.9 0h0m6.1 0h0m5.4 0h0m8.1 0h0m5.9 0h0m6.2 0h0m9.1 0h0m6.7 0h0m5.5 0h0m5.8 0h0m5.7 0h0m5.1 0h0m4.4 0h0m4.8 0h0m6 0h0m5 0h0m5.9 0h0m5.1 0h0m4.8 0h0m6.7 0h0m10.2 0h0m17.4 0h0m22.9 0h0m21.1 0h0m-351.3 9.6h0m100.1 0h0m24.2 0h0m23.3 0h0m23.7 0h0m23.4 0h0m158.6 0h0m-288.7 11.6h0m23.8 0h0m19.3 0h0m19.2 0h0m21.4 0h0m15.7 0h0m38.4 0h0m57.9 0h0m-195.4 9.6h0m25.9 0h0m16.4 0h0m18.7 0h0m21.6 0h0m32.2 0h0m36.3 0h0m-178.7 9.7h0m40.4 0h0m25.5 0h0m24.6 0h0m23.4 0h0m85.8 0h0m229 0h0m-473.6 9.6h0m9.2 0h0m7.1 0h0m7.8 0h0m5.8 0h0m6.4 0h0m5.2 0h0m5 0h0m5.3 0h0m5.2 0h0m5.4 0h0m4.2 0h0m5.2 0h0m4.1 0h0m4.8 0h0m4.8 0h0m3.8 0h0m5.8 0h0m5.7 0h0m4.9 0h0m5.4 0h0m4.9 0h0m3.5 0h0m4.4 0h0m4.9 0h0m5.1 0h0m5 0h0m5.2 0h0m6.6 0h0m4.4 0h0m4.9 0h0m4.6 0h0m4.3 0h0m4.4 0h0m4.6 0h0m5.4 0h0m5.4 0h0m4.5 0h0m5 0h0m4.9 0h0m4.9 0h0m4.6 0h0m4.5 0h0m4.9 0h0m3.5 0h0m4.6 0h0m5.8 0h0m5.2 0h0m5.6 0h0m9.1 0h0m7.4 0h0m7 0h0m9.1 0h0m12.8 0h0m21.9 0h0m34.7 0h0m-334.8 9.7h0m33.4 0h0m20.5 0h0m23.6 0h0m26.6 0h0m21 0h0m26.3 0h0m25.7 0h0m61.9 0h0m-204.7 9.6h0m20.4 0h0m18.1 0h0m19.7 0h0m21 0h0m20.1 0h0m85 0h0m-199.8 11.6h0m21.8 0h0m16.4 0h0m17.4 0h0m18.2 0h0m26.2 0h0m47.4 0h0m-192.8 9.7h0m7.4 0h0m7.9 0h0m7.3 0h0m4.6 0h0m4.8 0h0m5.8 0h0m3.7 0h0m4.8 0h0m5 0h0m5.1 0h0m4.4 0h0m3.9 0h0m4.3 0h0m5 0h0m4.5 0h0m4.6 0h0m5.1 0h0m4.1 0h0m4 0h0m4.9 0h0m5.3 0h0m3.7 0h0m5 0h0m4.3 0h0m5.1 0h0m5 0h0m5.8 0h0m5 0h0m5.3 0h0m4.1 0h0m4.4 0h0m4.1 0h0m4.8 0h0m5 0h0m3.9 0h0m4.4 0h0m4.2 0h0m5.4 0h0m4.2 0h0m4.2 0h0m4 0h0m4.3 0h0m3.6 0h0m4.8 0h0m6.8 0h0m6.3 0h0m4.9 0h0m4.3 0h0m4.8 0h0m4.4 0h0m6 0h0m5.8 0h0m6.3 0h0m4.6 0h0m7.4 0h0m5.5 0h0m8.4 0h0m10.7 0h0m22.1 0h0m33.6 0h0m-327.4 9.6h0m16.9 0h0m15.2 0h0m14.7 0h0m17.5 0h0m17.1 0h0m16.3 0h0m16.4 0h0m61.2 0h0m-199.6 9.7h0m31.7 0h0m17.1 0h0m11.1 0h0m10.8 0h0m13.6 0h0m13.5 0h0m20.9 0h0m-103.3 9.6h0m13.6 0h0m10.9 0h0m11.4 0h0m14.6 0h0m13.3 0h0m13.5 0h0m33.4 0h0m83.4 0h0m-223.8 9.7h0m6 0h0m4.6 0h0m4 0h0m5.7 0h0m5.6 0h0m4.3 0h0m3.9 0h0m3.9 0h0m3.8 0h0m4.1 0h0m3.9 0h0m5.3 0h0m5.2 0h0m4.8 0h0m4.3 0h0m4.3 0h0m5.2 0h0m4 0h0m3.8 0h0m4.8 0h0m4.5 0h0m4.1 0h0m4.8 0h0m4.6 0h0m5.1 0h0m4.8 0h0m5.3 0h0m3.4 0h0m4.6 0h0m4.9 0h0m4 0h0m5.3 0h0m5.4 0h0m3.9 0h0m3.6 0h0m4.6 0h0m4.9 0h0m4.4 0h0m4.4 0h0m4.1 0h0m4.2 0h0m4.9 0h0m4.6 0h0m5.3 0h0m6 0h0m6.2 0h0m5.7 0h0m8.8 0h0m7.8 0h0m9.9 0h0m7.7 0h0m17.1 0h0m46.8 0h0m-295.9 9.6h0m23.8 0h0m23.6 0h0m21.6 0h0m24.6 0h0m55.8 0h0m-160.4 11.6h0m21.8 0h0m17.5 0h0m15.7 0h0m17.3 0h0m40.7 0h0m-125.3 9.7h0m4.2 0h0m4.3 0h0m3.6 0h0m4.6 0h0m5 0h0m3.9 0h0m3.9 0h0m5.1 0h0m5.2 0h0m4.9 0h0m4.3 0h0m6.2 0h0m4.3 0h0m4.8 0h0m5.6 0h0m4 0h0m4.1 0h0m4.1 0h0m5.8 0h0m5.4 0h0m5.5 0h0m5.6 0h0m5.2 0h0m4.3 0h0m4.6 0h0m4.4 0h0m5.4 0h0m4.9 0h0m5 0h0m4.3 0h0m3.5 0h0m3.9 0h0m5 0h0m4.5 0h0m4.5 0h0m4.3 0h0m4.8 0h0m4.1 0h0m5 0h0m6.1 0h0m5.9 0h0m8.5 0h0m15.1 0h0m14.5 0h0m14.4 0h0m28.9 0h0m-237 10.2h0m-36.1 9.1h0m6 0h0m4.3 0h0m4.6 0h0m4.5 0h0m4.8 0h0m5.6 0h0m4.6 0h0m4.6 0h0m5.1 0h0m4.9 0h0m4.3 0h0m5 0h0m4.3 0h0m4.7 0h0m5.6 0h0m4.7 0h0m5.3 0h0m5.8 0h0m4.9 0h0m5.1 0h0m4.6 0h0m3.9 0h0m4.1 0h0m4.6 0h0m4.1 0h0m3.8 0h0m4.2 0h0m4.6 0h0m4.1 0h0m4.4 0h0m4.9 0h0m4.8 0h0m5.4 0h0m7.4 0h0m7 0h0m6.9 0h0m8 0h0m7.3 0h0m17.2 0h0m39.9 0h0"/>
<path d="M469.4 210.5h0m27.9 108.1h0m13.3 40.5h0m-28.2 38.6h0m10.6 9.6h0m-38.8 21.3h0m-41.2 38.6h0m-111.7 11.6h0m56.7 0h0m25.2 0h0m27 0h0m26.7 0h0m37.2 0h0m126.2 0h0m-284.5 9.6h0m-50.1 9.7h0m196.8 9.6h0m-119.4 9.7h0m186.3 0h0m-101 9.6h0m-34.8 9.7h0m-157.2 11.5h0m34.4 0h0m22.4 0h0m13.8 0h0m13.7 0h0m10.4 0h0m7.6 0h0m8.3 0h0m10.8 0h0m9 0h0m8.7 0h0m10.4 0h0m11.5 0h0m12.5 0h0m8.9 0h0m11.5 0h0m9.9 0h0m10.5 0h0m18.6 0h0m29.7 0h0m-126.7 9.7h0m-71.8 9.6h0m73.1 0h0m-110.7 9.7h0m100.7 0h0m-100.1 9.6h0m72.2 0h0m75.8 0h0m-192.8 9.7h0m115.8 0h0m64.6 0h0m174.3 0h0m-398.9 9.6h0m41.5 0h0m24 0h0m18.9 0h0m12.2 0h0m9.9 0h0m6.6 0h0m9 0h0m8.1 0h0m8.4 0h0m7.9 0h0m6.8 0h0m7.6 0h0m6.5 0h0m7.5 0h0m6.7 0h0m6 0h0m5.6 0h0m8.9 0h0m6.8 0h0m5.1 0h0m7.7 0h0m6.6 0h0m9.3 0h0m9.9 0h0m12.3 0h0m10.4 0h0m10.5 0h0m8.3 0h0m11.9 0h0m-212.1 11.6h0m43.7 0h0m38.8 0h0m54 0h0m-149.2 9.7h0m33.2 0h0m33.9 0h0m24.3 0h0m59.3 0h0m-146.3 9.6h0m37.3 0h0m41.9 0h0m-83.8 9.7h0m36.5 0h0m24.6 0h0m27.3 0h0m32 0h0m-125.7 9.6h0m37.8 0h0m23.4 0h0m31.8 0h0m-193.1 9.7h0m18.8 0h0m10.8 0h0m9 0h0m7.2 0h0m10.8 0h0m5.1 0h0m6.8 0h0m6.1 0h0m5.8 0h0m6 0h0m5.2 0h0m5.5 0h0m5.5 0h0m5.5 0h0m4.6 0h0m5.9 0h0m4.2 0h0m5.2 0h0m4.7 0h0m5.9 0h0m5 0h0m4.8 0h0m5.7 0h0m6.2 0h0m5.4 0h0m8.4 0h0m5.7 0h0m6.2 0h0m8.9 0h0m6.8 0h0m5.5 0h0m5.8 0h0m5.6 0h0m5.1 0h0m4.4 0h0m5 0h0m5.8 0h0m5 0h0m6.1 0h0m5 0h0m5.1 0h0m6.7 0h0m10.1 0h0m17.2 0h0m23.8 0h0m20.2 0h0m-330.5 9.6h0m79.3 0h0m24.2 0h0m23.3 0h0m24 0h0m23.7 0h0m-129.5 11.6h0m22.7 0h0m19.5 0h0m19.9 0h0m20.4 0h0m16.1 0h0m39.7 0h0m62.8 0h0m82.6 0h0m-282.5 9.6h0m24.1 0h0m16.2 0h0m18.9 0h0m21.8 0h0m31.7 0h0m36.4 0h0m-178.1 9.7h0m40.1 0h0m25.2 0h0m24.5 0h0m23.6 0h0m98.5 0h0m-257.4 9.6h0m9.2 0h0m6.9 0h0m8 0h0m5.6 0h0m6.5 0h0m5.1 0h0m5 0h0m5.4 0h0m5.2 0h0m5.3 0h0m4.4 0h0m5.2 0h0m4.1 0h0m4.8 0h0m4.9 0h0m3.7 0h0m5.6 0h0m5.7 0h0m5.2 0h0m5.2 0h0m4.9 0h0m3.8 0h0m4.2 0h0m4.8 0h0m5.1 0h0m5 0h0m5.2 0h0m6.6 0h0m4.5 0h0m4.7 0h0m4.7 0h0m4.4 0h0m4.2 0h0m4.7 0h0m5.4 0h0m5.3 0h0m4.5 0h0m5.5 0h0m4.4 0h0m5.1 0h0m4.6 0h0m4.3 0h0m5 0h0m3.5 0h0m4.7 0h0m5.6 0h0m5.2 0h0m5.9 0h0m8.8 0h0m7.5 0h0m6.9 0h0m9.5 0h0m13.5 0h0m20.8 0h0m35.9 0h0m-335.8 9.7h0m33.3 0h0m21 0h0m25 0h0m25.4 0h0m21.1 0h0m26.6 0h0m25.2 0h0m62.3 0h0m-205.6 9.6h0m20.4 0h0m18 0h0m20.5 0h0m21.2 0h0m19.3 0h0m86.7 0h0m-201.4 11.6h0m22.4 0h0m15.5 0h0m17.7 0h0m18.9 0h0m26.5 0h0m46.2 0h0m-201.6 9.7h0m8.8 0h0m7.2 0h0m8 0h0m7.4 0h0m4.4 0h0m4.8 0h0m5.8 0h0m3.8 0h0m4.9 0h0m4.9 0h0m5.1 0h0m4.4 0h0m3.8 0h0m4.5 0h0m4.8 0h0m4.6 0h0m4.6 0h0m5 0h0m4.1 0h0m4 0h0m5 0h0m5.2 0h0m3.8 0h0m5 0h0m4.4 0h0m5.3 0h0m4.6 0h0m5.9 0h0m5 0h0m5.3 0h0m4 0h0m4.4 0h0m4.2 0h0m4.9 0h0m4.8 0h0m4 0h0m4.4 0h0m4.3 0h0m5.2 0h0m4.4 0h0m4 0h0m4 0h0m4.5 0h0m3.4 0h0m5.2 0h0m6.5 0h0m6.3 0h0m4.9 0h0m4.3 0h0m4.8 0h0m4.4 0h0m5.9 0h0m6 0h0m6.4 0h0m4.4 0h0m7.4 0h0m5.5 0h0m8.4 0h0m11.5 0h0m21.3 0h0m34.3 0h0m-327.8 9.6h0m16.8 0h0m15.1 0h0m14.7 0h0m17.8 0h0m17.1 0h0m16.4 0h0m16.1 0h0m81.2 0h0m-219.5 9.7h0m31.5 0h0m17.2 0h0m10.9 0h0m10.7 0h0m13.8 0h0m13.4 0h0m22.2 0h0m-104.7 9.6h0m13.7 0h0m11.1 0h0m11.2 0h0m14.6 0h0m13.2 0h0m13.7 0h0m33.9 0h0m83.7 0h0m-224.6 9.7h0m5.9 0h0m4.5 0h0m4 0h0m5.9 0h0m5.5 0h0m4.3 0h0m4 0h0m3.7 0h0m3.9 0h0m4.1 0h0m4 0h0m5.2 0h0m5.1 0h0m4.9 0h0m4.2 0h0m4.5 0h0m5.1 0h0m4 0h0m3.9 0h0m4.7 0h0m4.5 0h0m4 0h0m4.8 0h0m4.7 0h0m5.4 0h0m4.4 0h0m5.4 0h0m3.4 0h0m4.5 0h0m4.9 0h0m4.1 0h0m5.3 0h0m5.4 0h0m3.9 0h0m3.5 0h0m4.6 0h0m5.2 0h0m4.3 0h0m4.2 0h0m4.2 0h0m4.2 0h0m5 0h0m4.5 0h0m5.3 0h0m6.2 0h0m6.1 0h0m5.5 0h0m8.9 0h0m7.9 0h0m9.9 0h0m7.7 0h0m17.3 0h0m47 0h0m-296.3 9.6h0m24 0h0m23.4 0h0m23.1 0h0m23.1 0h0m66.2 0h0m-170.6 11.6h0m21.7 0h0m17.8 0h0m15.3 0h0m17.1 0h0m41.6 0h0m-126.2 9.7h0m4.2 0h0m4.4 0h0m3.5 0h0m4.9 0h0m4.8 0h0m3.8 0h0m4 0h0m5.2 0h0m5.1 0h0m5 0h0m4.4 0h0m6.1 0h0m4.3 0h0m4.6 0h0m5.7 0h0m4 0h0m4 0h0m4.1 0h0m5.8 0h0m5.4 0h0m5.6 0h0m5.5 0h0m5.3 0h0m4.2 0h0m4.7 0h0m4.3 0h0m5.4 0h0m4.9 0h0m5 0h0m4.4 0h0m3.5 0h0m3.8 0h0m5.1 0h0m4.6 0h0m4.4 0h0m4.3 0h0m4.8 0h0m4.1 0h0m4.9 0h0m6.2 0h0m5.8 0h0m9 0h0m15.3 0h0m14.2 0h0m14 0h0m29.3 0h0m-236.4 10.2h0m-37 9.1h0m5.9 0h0m4.5 0h0m4.4 0h0m4.6 0h0m4.8 0h0m5.6 0h0m4.6 0h0m4.7 0h0m5.2 0h0m4.6 0h0m4.3 0h0m5.1 0h0m4.3 0h0m4.6 0h0m5.7 0h0m4.6 0h0m5.3 0h0m5.8 0h0m5 0h0m5.1 0h0m4.6 0h0m3.8 0h0m4.1 0h0m4.8 0h0m4.2 0h0m3.5 0h0m4.3 0h0m4.6 0h0m4 0h0m4.5 0h0m4.9 0h0m4.8 0h0m5.7 0h0m7.1 0h0m7 0h0m7 0h0m8 0h0m7.2 0h0m17.2 0h0m40.4 0h0"/>
<path d="M659.4 210.5h0m-138.1 108.1h0m-118 50.1h0m85.1 29h0m4.6 9.6h0m-25.6 21.3h0m-54 38.6h0m-111.6 11.6h0m56.2 0h0m26.4 0h0m26 0h0m27 0h0m37.2 0h0m152.9 0h0m-311.2 9.6h0m-36.6 9.7h0m67.1 19.3h0m203.5 0h0m-121.4 9.6h0m-24.1 9.7h0m-166.5 11.5h0m34.2 0h0m20.7 0h0m14.5 0h0m13 0h0m10.6 0h0m7.6 0h0m8.3 0h0m10.8 0h0m9 0h0m8.7 0h0m10.3 0h0m11.7 0h0m12.2 0h0m9 0h0m11.4 0h0m10.5 0h0m10.8 0h0m18.5 0h0m29.9 0h0m-124.3 9.7h0m-74.2 9.6h0m72.1 0h0m-110.6 9.7h0m104.9 0h0m-104.2 9.6h0m78.1 0h0m72.6 0h0m-185.5 9.7h0m108.1 0h0m62.3 0h0m208.4 0h0m-428.5 9.6h0m37.2 0h0m23.8 0h0m18.9 0h0m12 0h0m10.1 0h0m6.4 0h0m9.1 0h0m8.2 0h0m8.2 0h0m8.6 0h0m6.5 0h0m7.3 0h0m6.6 0h0m7.5 0h0m6.6 0h0m6 0h0m5.5 0h0m9.2 0h0m6.6 0h0m5.2 0h0m7.6 0h0m6.7 0h0m9.4 0h0m9.9 0h0m12 0h0m10.5 0h0m10.4 0h0m8.5 0h0m12.1 0h0m-212.2 11.6h0m45.6 0h0m37.6 0h0m54.3 0h0m-150.1 9.7h0m35 0h0m32.7 0h0m24 0h0m59.6 0h0m-143.5 9.6h0m33.6 0h0m42.1 0h0m-83.5 9.7h0m36.5 0h0m24 0h0m27.5 0h0m31.9 0h0m-124.9 9.6h0m37.2 0h0m23.1 0h0m32 0h0m-192.8 9.7h0m18.4 0h0m11.3 0h0m8.9 0h0m7.1 0h0m10.4 0h0m5.2 0h0m6.7 0h0m6.1 0h0m6 0h0m5.8 0h0m5.3 0h0m5.6 0h0m5.3 0h0m5.6 0h0m4.7 0h0m5.8 0h0m4.1 0h0m5.2 0h0m4.7 0h0m5.9 0h0m5 0h0m4.9 0h0m5.8 0h0m6 0h0m5.6 0h0m8.2 0h0m5.8 0h0m6.2 0h0m8.9 0h0m6.7 0h0m5.5 0h0m5.9 0h0m5.6 0h0m5 0h0m4.5 0h0m5.1 0h0m5.7 0h0m5 0h0m6.1 0h0m4.9 0h0m5.2 0h0m6.6 0h0m10.2 0h0m17.3 0h0m23.6 0h0m21.1 0h0m-330.6 9.6h0m78.6 0h0m24.8 0h0m23.2 0h0m24.3 0h0m23.2 0h0m-125.8 11.6h0m19.2 0h0m18.9 0h0m20.7 0h0m19.9 0h0m16.3 0h0m41.7 0h0m69.3 0h0m130.9 0h0m-338.3 9.6h0m22.7 0h0m17.6 0h0m17.8 0h0m22.4 0h0m30.8 0h0m37.3 0h0m-175.1 9.7h0m36.2 0h0m25.1 0h0m24.6 0h0m23.7 0h0m100.4 0h0m-259.4 9.6h0m9.2 0h0m7 0h0m7.8 0h0m5.6 0h0m6.5 0h0m5.2 0h0m4.9 0h0m5.4 0h0m5.4 0h0m5.2 0h0m4.4 0h0m5.1 0h0m4.3 0h0m4.8 0h0m4.8 0h0m3.6 0h0m5.6 0h0m5.8 0h0m5.3 0h0m5 0h0m5 0h0m3.9 0h0m4.2 0h0m4.6 0h0m5.2 0h0m5 0h0m5.2 0h0m6.5 0h0m4.6 0h0m4.7 0h0m4.7 0h0m4.5 0h0m4.1 0h0m4.7 0h0m5.4 0h0m5.2 0h0m4.6 0h0m5.6 0h0m4.4 0h0m4.9 0h0m4.6 0h0m4.4 0h0m4.9 0h0m3.5 0h0m4.8 0h0m5.5 0h0m5.2 0h0m5.9 0h0m9 0h0m7.4 0h0m7 0h0m9.6 0h0m13.7 0h0m20.8 0h0m38.9 0h0m-338.4 9.7h0m32.5 0h0m21.6 0h0m25.6 0h0m25.2 0h0m21 0h0m25.6 0h0m26.2 0h0m67.5 0h0m-211.7 9.6h0m20.4 0h0m18 0h0m20.9 0h0m21.1 0h0m19.3 0h0m94.6 0h0m-255 11.6h0m46.8 0h0m21 0h0m15.7 0h0m17.5 0h0m19.2 0h0m26.2 0h0m48.7 0h0m-203.7 9.7h0m8.3 0h0m7.4 0h0m7.8 0h0m7.5 0h0m4.5 0h0m4.6 0h0m5.9 0h0m3.7 0h0m5 0h0m4.8 0h0m5.1 0h0m4.4 0h0m3.9 0h0m4.4 0h0m4.8 0h0m4.6 0h0m4.6 0h0m5.2 0h0m4.1 0h0m3.9 0h0m5 0h0m5.2 0h0m3.7 0h0m5 0h0m4.4 0h0m5.3 0h0m5 0h0m5.7 0h0m5 0h0m5.1 0h0m4.2 0h0m4.2 0h0m4.5 0h0m4.6 0h0m5.1 0h0m3.9 0h0m4.3 0h0m4.2 0h0m5.3 0h0m4.3 0h0m4.1 0h0m4.4 0h0m4 0h0m3.6 0h0m5.1 0h0m6.4 0h0m6.3 0h0m4.9 0h0m4.4 0h0m4.7 0h0m4.4 0h0m6.1 0h0m5.9 0h0m6.4 0h0m4.5 0h0m7.3 0h0m5.5 0h0m8.6 0h0m11.4 0h0m22 0h0m34.1 0h0m-328.5 9.6h0m17 0h0m15.3 0h0m14.7 0h0m18.5 0h0m16.3 0h0m16.5 0h0m15.7 0h0m82.5 0h0m-215.7 9.7h0m26.7 0h0m16.9 0h0m11.1 0h0m11.3 0h0m13.1 0h0m13.4 0h0m22.5 0h0m-104.6 9.6h0m13.2 0h0m11.5 0h0m11.2 0h0m14.3 0h0m13.4 0h0m15.6 0h0m32 0h0m85.4 0h0m-226.6 9.7h0m6.1 0h0m4.3 0h0m4.2 0h0m5.7 0h0m5.5 0h0m4.4 0h0m4.1 0h0m3.6 0h0m3.8 0h0m4.1 0h0m4.2 0h0m5 0h0m5.1 0h0m5.3 0h0m3.9 0h0m4.4 0h0m5.1 0h0m4 0h0m4 0h0m4.7 0h0m4.4 0h0m4.5 0h0m4.4 0h0m4.7 0h0m5.4 0h0m4.6 0h0m5.2 0h0m3.5 0h0m4.3 0h0m4.9 0h0m4.2 0h0m5.3 0h0m5.3 0h0m4 0h0m3.8 0h0m4.2 0h0m5.3 0h0m4.3 0h0m4.2 0h0m4.1 0h0m4.2 0h0m5.1 0h0m4.4 0h0m5.4 0h0m6.2 0h0m6.1 0h0m5.6 0h0m8.9 0h0m7.8 0h0m9.8 0h0m7.9 0h0m17.1 0h0m48.1 0h0m-296.5 9.6h0m23.3 0h0m23.2 0h0m23.1 0h0m23.6 0h0m68.5 0h0m-172.2 11.6h0m21.5 0h0m16.8 0h0m15.6 0h0m17.6 0h0m41.1 0h0m-126.4 9.7h0m4.2 0h0m4.4 0h0m3.5 0h0m4.9 0h0m4.9 0h0m3.6 0h0m4.1 0h0m5.2 0h0m5 0h0m5 0h0m4.4 0h0m6.1 0h0m4.4 0h0m4.5 0h0m5.8 0h0m4 0h0m3.9 0h0m4.2 0h0m5.8 0h0m5.3 0h0m5.7 0h0m5.4 0h0m5.4 0h0m4.2 0h0m4.6 0h0m4.3 0h0m5.5 0h0m5 0h0m4.8 0h0m4.4 0h0m3.6 0h0m3.8 0h0m5.1 0h0m4.5 0h0m4.4 0h0m4.3 0h0m5.2 0h0m3.8 0h0m4.9 0h0m6.1 0h0m6 0h0m9.7 0h0m14.5 0h0m14.1 0h0m14.1 0h0m29.3 0h0m-236.5 10.2h0m-37 9.1h0m6.1 0h0m4.6 0h0m4.2 0h0m4.5 0h0m4.9 0h0m5.5 0h0m4.6 0h0m4.8 0h0m5.1 0h0m4.6 0h0m4.4 0h0m5 0h0m4.6 0h0m4.4 0h0m5.8 0h0m4.5 0h0m5.2 0h0m5.8 0h0m5.1 0h0m5.2 0h0m4.7 0h0m3.6 0h0m4.1 0h0m4.7 0h0m4.3 0h0m3.4 0h0m4.4 0h0m4.7 0h0m3.8 0h0m4.6 0h0m4.8 0h0m4.8 0h0m5.7 0h0m7.5 0h0m6.8 0h0m7 0h0m7.9 0h0m7.4 0h0m17.5 0h0m40.4 0h0"/>
<path d="M689.3 210.5h0m-406.2 117.7h0m130.2 40.5h0m111.6 29h0m-31.9 9.6h0m-18.9 21.3h0m-60.4 38.6h0m-109.3 11.6h0m54.3 0h0m26.1 0h0m27.3 0h0m26.2 0h0m36.9 0h0m179.2 0h0m-337.9 9.6h0m-27.9 9.7h0m60.4 19.3h0m-168 9.6h0m248.4 0h0m51.9 0h0m-73 9.7h0m-167.7 11.5h0m32.2 0h0m20.6 0h0m14.3 0h0m13.4 0h0m10.4 0h0m7.6 0h0m8.2 0h0m10.8 0h0m9.3 0h0m8.4 0h0m10.4 0h0m11.6 0h0m12.2 0h0m9 0h0m11.4 0h0m10.4 0h0m11.1 0h0m18.7 0h0m29.6 0h0m-124.5 9.7h0m-73.9 9.6h0m75 0h0m-109.8 9.7h0m105.4 0h0m-108.4 9.6h0m78.9 0h0m72.8 0h0m-167.9 9.7h0m89.7 0h0m63.6 0h0m-220.6 9.6h0m36.2 0h0m23.6 0h0m19.1 0h0m11.7 0h0m10.3 0h0m7 0h0m8.4 0h0m8.2 0h0m8.2 0h0m8.7 0h0m6.7 0h0m7.2 0h0m6.7 0h0m7.4 0h0m6.4 0h0m5.9 0h0m5.5 0h0m9.2 0h0m6.7 0h0m5.1 0h0m7.7 0h0m6.7 0h0m9.4 0h0m10.2 0h0m11.7 0h0m10.8 0h0m10 0h0m8.7 0h0m13 0h0m60.5 0h0m-273.1 11.6h0m45.2 0h0m37.6 0h0m55.2 0h0m-150.5 9.7h0m34.5 0h0m32.8 0h0m24.3 0h0m60 0h0m-144 9.6h0m33.1 0h0m42.9 0h0m-84.3 9.7h0m38.1 0h0m22.5 0h0m29.1 0h0m30.1 0h0m-124.5 9.6h0m37.1 0h0m22.8 0h0m32 0h0m-192.6 9.7h0m18.7 0h0m10.9 0h0m8.8 0h0m7.1 0h0m10.6 0h0m5 0h0m6.8 0h0m6.2 0h0m5.8 0h0m5.9 0h0m5.3 0h0m5.5 0h0m5.6 0h0m5.4 0h0m4.8 0h0m5.6 0h0m4.2 0h0m5.2 0h0m4.7 0h0m5.9 0h0m5 0h0m4.8 0h0m5.8 0h0m6 0h0m5.9 0h0m8 0h0m5.7 0h0m6.4 0h0m9.4 0h0m6 0h0m5.7 0h0m5.8 0h0m5.7 0h0m4.9 0h0m4.5 0h0m5.3 0h0m5.4 0h0m5.1 0h0m6 0h0m5.2 0h0m4.9 0h0m6.8 0h0m10.4 0h0m17.7 0h0m23.2 0h0m22.3 0h0m-327.4 9.6h0m74.2 0h0m24.5 0h0m24 0h0m23.8 0h0m23.4 0h0m-125 11.6h0m18.3 0h0m18.8 0h0m20.4 0h0m20 0h0m18 0h0m40.1 0h0m69.6 0h0m-207.6 9.6h0m22.4 0h0m17.8 0h0m19 0h0m21.2 0h0m30.8 0h0m37.1 0h0m143.6 0h0m-317.9 9.7h0m35.4 0h0m25.9 0h0m24.2 0h0m23.6 0h0m103.3 0h0m-261.9 9.6h0m8.5 0h0m6.9 0h0m7.9 0h0m5.8 0h0m6.6 0h0m4.9 0h0m5 0h0m5.6 0h0m5 0h0m5.3 0h0m4.5 0h0m4.9 0h0m4.3 0h0m4.8 0h0m5.2 0h0m3.3 0h0m6 0h0m5.5 0h0m5.1 0h0m5 0h0m5 0h0m3.9 0h0m4.4 0h0m4.7 0h0m5.1 0h0m4.8 0h0m5.2 0h0m6.5 0h0m4.7 0h0m4.6 0h0m4.9 0h0m4.4 0h0m4 0h0m4.8 0h0m5.9 0h0m4.7 0h0m4.5 0h0m5.6 0h0m4.4 0h0m5 0h0m4.5 0h0m4.4 0h0m5 0h0m3.4 0h0m4.9 0h0m5.6 0h0m5 0h0m5.9 0h0m9.2 0h0m7.4 0h0m7 0h0m9.8 0h0m13.8 0h0m20.4 0h0m40.6 0h0m-339.8 9.7h0m32.4 0h0m21.7 0h0m25.2 0h0m25.3 0h0m21.8 0h0m24.8 0h0m26.5 0h0m67.2 0h0m-211.3 9.6h0m20.4 0h0m18.8 0h0m19.7 0h0m21.2 0h0m19.8 0h0m102.2 0h0m-257.8 11.6h0m41.5 0h0m20.9 0h0m15.8 0h0m17.5 0h0m20 0h0m26.5 0h0m48.3 0h0m-204.5 9.7h0m8.2 0h0m7.6 0h0m7.6 0h0m7.5 0h0m4.6 0h0m4.5 0h0m5.9 0h0m3.7 0h0m5.1 0h0m4.8 0h0m5.1 0h0m4.5 0h0m3.7 0h0m4.5 0h0m4.8 0h0m4.6 0h0m4.6 0h0m5.2 0h0m4 0h0m4 0h0m4.9 0h0m5.4 0h0m3.6 0h0m5.1 0h0m4.3 0h0m5.3 0h0m5.2 0h0m5.4 0h0m5 0h0m5.2 0h0m4.1 0h0m4.3 0h0m4.6 0h0m4.5 0h0m5 0h0m3.9 0h0m4.4 0h0m4.3 0h0m5.3 0h0m4.1 0h0m4.3 0h0m4.2 0h0m4 0h0m3.7 0h0m5 0h0m6.5 0h0m6.3 0h0m4.8 0h0m4.5 0h0m4.8 0h0m4.4 0h0m6 0h0m6.1 0h0m6.1 0h0m4.6 0h0m7.3 0h0m5.5 0h0m8.5 0h0m11.6 0h0m21.8 0h0m36.3 0h0m-330.6 9.6h0m16.9 0h0m15.9 0h0m14.6 0h0m18.1 0h0m16.2 0h0m16.6 0h0m16.3 0h0m82.7 0h0m-214.1 9.7h0m24.2 0h0m17.1 0h0m11 0h0m11.3 0h0m13.5 0h0m13.4 0h0m23.9 0h0m-106.2 9.6h0m13 0h0m11.5 0h0m11.2 0h0m14.6 0h0m13.2 0h0m16.2 0h0m31.5 0h0m91.5 0h0m-232.9 9.7h0m6.2 0h0m4.3 0h0m4.1 0h0m5.8 0h0m5.4 0h0m4.4 0h0m4.1 0h0m3.7 0h0m3.9 0h0m3.8 0h0m4.3 0h0m5 0h0m5 0h0m5.5 0h0m4 0h0m4.2 0h0m5 0h0m4.1 0h0m4 0h0m4.6 0h0m4.5 0h0m4.5 0h0m4.3 0h0m4.8 0h0m5.4 0h0m4.6 0h0m5.2 0h0m3.4 0h0m4.4 0h0m4.8 0h0m4.3 0h0m5.3 0h0m5.2 0h0m4 0h0m3.9 0h0m4.2 0h0m5.2 0h0m4.3 0h0m4.3 0h0m4.1 0h0m4.1 0h0m5.1 0h0m4.4 0h0m5.4 0h0m6.3 0h0m6 0h0m5.6 0h0m9.2 0h0m7.8 0h0m9.8 0h0m7.6 0h0m17.3 0h0m51.9 0h0m-300.5 9.6h0m23.9 0h0m22.6 0h0m23.2 0h0m23.5 0h0m75.2 0h0m-178.7 11.6h0m22.8 0h0m15.4 0h0m15.6 0h0m17.5 0h0m41.4 0h0m-126.6 9.7h0m4.2 0h0m4.3 0h0m3.6 0h0m4.8 0h0m4.9 0h0m3.7 0h0m4.1 0h0m5.1 0h0m5.3 0h0m4.8 0h0m4.4 0h0m6.2 0h0m4.2 0h0m4.8 0h0m5.6 0h0m4.2 0h0m3.7 0h0m4.1 0h0m6 0h0m5.2 0h0m5.7 0h0m5.3 0h0m5.4 0h0m4.4 0h0m4.5 0h0m4.3 0h0m5.4 0h0m5 0h0m4.9 0h0m4.3 0h0m3.6 0h0m3.8 0h0m5.2 0h0m4.5 0h0m4.4 0h0m4.2 0h0m5.2 0h0m3.8 0h0m5 0h0m6 0h0m6 0h0m9.8 0h0m14.6 0h0m13.9 0h0m14.6 0h0m33.5 0h0m-236.2 10.2h0m-41.8 9.1h0m6 0h0m4.7 0h0m4 0h0m4.6 0h0m4.9 0h0m5.5 0h0m4.5 0h0m4.8 0h0m5.2 0h0m4.7 0h0m4.3 0h0m4.9 0h0m4.6 0h0m4.4 0h0m5.8 0h0m4.5 0h0m5.4 0h0m5.8 0h0m5 0h0m5.3 0h0m4.9 0h0m3.3 0h0m4 0h0m4.8 0h0m4.2 0h0m3.4 0h0m4.6 0h0m4.5 0h0m3.8 0h0m4.6 0h0m4.9 0h0m4.7 0h0m5.8 0h0m7.5 0h0m6.7 0h0m7.2 0h0m7.7 0h0m7.8 0h0m18.5 0h0m39.2 0h0"/>
<path d="M514.4 220.1h0m-231.3 108.1h0m145.2 40.5h0m99.3 29h0m-30.3 9.6h0m12.7 21.3h0m-94.5 38.6h0m-103.5 11.6h0m47.5 0h0m25.9 0h0m26.8 0h0m26.8 0h0m36.8 0h0m180.7 0h0m-334 9.6h0m-29.6 9.7h0m-26.8 9.6h0m84.3 9.7h0m-134.9 9.6h0m219.1 0h0m48.7 0h0m-73.5 9.7h0m-165.1 11.5h0m28.1 0h0m21.1 0h0m14.5 0h0m12.9 0h0m10.2 0h0m7.8 0h0m8.1 0h0m10.7 0h0m9.5 0h0m8.2 0h0m10.7 0h0m11.4 0h0m12.1 0h0m9.1 0h0m11.3 0h0m10.6 0h0m10.9 0h0m19 0h0m29.3 0h0m-116.9 9.7h0m-81 9.6h0m76 0h0m-106.2 9.7h0m100.5 0h0m-108.3 9.6h0m78.8 0h0m74.2 0h0m-163 9.7h0m83.7 0h0m63.2 0h0m-219.7 9.6h0m37.1 0h0m22.8 0h0m18.3 0h0m11.7 0h0m10.1 0h0m7.2 0h0m8.3 0h0m8 0h0m8.3 0h0m8.6 0h0m6.8 0h0m7.2 0h0m6.7 0h0m7.3 0h0m6.4 0h0m6 0h0m5.5 0h0m9.1 0h0m6.7 0h0m5.3 0h0m7.5 0h0m6.7 0h0m9.6 0h0m10 0h0m12 0h0m10.7 0h0m9.8 0h0m8.9 0h0m13.1 0h0m65.6 0h0m-276.9 11.6h0m44.1 0h0m38 0h0m65.7 0h0m-161.7 9.7h0m35.3 0h0m33 0h0m23.3 0h0m63.8 0h0m-147.6 9.6h0m32.9 0h0m43.8 0h0m-85.3 9.7h0m38 0h0m23.1 0h0m30.4 0h0m30 0h0m-126.3 9.6h0m37.9 0h0m22.4 0h0m31.6 0h0m-192 9.7h0m18.3 0h0m10.9 0h0m8.8 0h0m7.3 0h0m10.3 0h0m5 0h0m6.8 0h0m6.2 0h0m5.9 0h0m5.8 0h0m5.2 0h0m5.6 0h0m5.8 0h0m5.2 0h0m4.7 0h0m5.6 0h0m4.2 0h0m5.2 0h0m4.7 0h0m5.9 0h0m5 0h0m5.1 0h0m5.6 0h0m6 0h0m5.9 0h0m8.4 0h0m5.2 0h0m6.5 0h0m9.4 0h0m5.9 0h0m5.7 0h0m5.8 0h0m5.8 0h0m5 0h0m4.4 0h0m5.3 0h0m5.5 0h0m5.1 0h0m6 0h0m5 0h0m5 0h0m6.9 0h0m10.6 0h0m17.3 0h0m23.4 0h0m23.2 0h0m-326.2 9.6h0m72.9 0h0m23.6 0h0m25.5 0h0m23 0h0m22.8 0h0m-125.2 11.6h0m19.1 0h0m18.2 0h0m21.2 0h0m19.9 0h0m18 0h0m39.8 0h0m72.9 0h0m-211.4 9.6h0m22.8 0h0m17.5 0h0m18.9 0h0m21.6 0h0m32.1 0h0m35.8 0h0m192.1 0h0m-364.1 9.7h0m32.8 0h0m25.7 0h0m25.1 0h0m23.6 0h0m109.8 0h0m-269.2 9.6h0m8.4 0h0m7 0h0m7.9 0h0m5.8 0h0m6.6 0h0m5.1 0h0m4.7 0h0m5.8 0h0m5.1 0h0m5.1 0h0m4.6 0h0m4.9 0h0m4.1 0h0m5 0h0m5 0h0m3.3 0h0m6 0h0m5.6 0h0m5.1 0h0m5 0h0m4.9 0h0m4 0h0m4.4 0h0m4.6 0h0m5.3 0h0m4.9 0h0m5 0h0m6.4 0h0m4.8 0h0m4.7 0h0m4.7 0h0m4.4 0h0m4.1 0h0m4.7 0h0m5.9 0h0m4.7 0h0m4.7 0h0m5.5 0h0m4.4 0h0m4.9 0h0m4.5 0h0m4.5 0h0m4.9 0h0m3.4 0h0m5.1 0h0m5.4 0h0m5.1 0h0m5.8 0h0m9.2 0h0m7.5 0h0m7 0h0m9.8 0h0m15.4 0h0m19.9 0h0m39.8 0h0m-340.1 9.7h0m33.1 0h0m21.5 0h0m26.1 0h0m23.9 0h0m23.1 0h0m24.9 0h0m25.7 0h0m66.9 0h0m-211.6 9.6h0m20.6 0h0m18.8 0h0m19.8 0h0m20.9 0h0m20.7 0h0m103.7 0h0m-260.1 11.6h0m42.4 0h0m19.9 0h0m16 0h0m17.3 0h0m19.9 0h0m27.1 0h0m49.5 0h0m-206.3 9.7h0m8.4 0h0m7.6 0h0m7.5 0h0m7.6 0h0m4.6 0h0m4.4 0h0m5.9 0h0m3.7 0h0m5.1 0h0m4.9 0h0m4.9 0h0m4.5 0h0m3.8 0h0m4.4 0h0m5 0h0m4.4 0h0m4.7 0h0m5.1 0h0m4 0h0m4 0h0m5.3 0h0m5.1 0h0m3.5 0h0m5.1 0h0m4.3 0h0m5.3 0h0m5.3 0h0m5.4 0h0m4.9 0h0m5.2 0h0m4.2 0h0m4.3 0h0m4.5 0h0m4.6 0h0m4.9 0h0m4.2 0h0m4.1 0h0m4.3 0h0m5.3 0h0m4.2 0h0m4.3 0h0m4.2 0h0m3.9 0h0m3.7 0h0m5.1 0h0m6.4 0h0m6.5 0h0m4.7 0h0m4.9 0h0m4.3 0h0m4.7 0h0m6 0h0m5.8 0h0m6.2 0h0m4.8 0h0m7 0h0m5.8 0h0m8.3 0h0m11.6 0h0m22.1 0h0m36.4 0h0m-331.1 9.6h0m17.7 0h0m15.6 0h0m14.4 0h0m19.1 0h0m15.4 0h0m16.1 0h0m16.4 0h0m85.2 0h0m-216.3 9.7h0m24.4 0h0m16.8 0h0m10.8 0h0m11.4 0h0m13.6 0h0m13.3 0h0m25.2 0h0m-107.7 9.6h0m13 0h0m11.9 0h0m12.3 0h0m13.5 0h0m12.9 0h0m16.5 0h0m31.5 0h0m94.7 0h0m-236.2 9.7h0m5.9 0h0m4.4 0h0m4 0h0m5.8 0h0m5.4 0h0m4.5 0h0m4.1 0h0m3.7 0h0m3.9 0h0m3.7 0h0m4.6 0h0m4.7 0h0m5.1 0h0m5.4 0h0m4.1 0h0m4.4 0h0m4.7 0h0m4.2 0h0m3.9 0h0m4.8 0h0m4.3 0h0m4.6 0h0m4.3 0h0m4.9 0h0m5.4 0h0m4.6 0h0m5 0h0m3.5 0h0m4.3 0h0m4.8 0h0m4.5 0h0m5.3 0h0m5.2 0h0m3.8 0h0m3.9 0h0m4.2 0h0m5.2 0h0m4.4 0h0m4.4 0h0m4 0h0m4.1 0h0m5.1 0h0m4.6 0h0m5.2 0h0m6.2 0h0m6.2 0h0m6 0h0m9.4 0h0m7.1 0h0m9.8 0h0m7.5 0h0m18.4 0h0m51.4 0h0m-301 9.6h0m24 0h0m22.6 0h0m23.1 0h0m23.8 0h0m76.4 0h0m-180.3 11.6h0m23.1 0h0m15.3 0h0m16.5 0h0m16.7 0h0m42.1 0h0m-127.5 9.7h0m4.1 0h0m4.4 0h0m3.5 0h0m4.8 0h0m4.9 0h0m3.7 0h0m4.1 0h0m5.3 0h0m5.3 0h0m4.6 0h0m4.5 0h0m6.4 0h0m3.9 0h0m4.8 0h0m5.7 0h0m4.2 0h0m3.6 0h0m4.3 0h0m5.9 0h0m5.1 0h0m5.8 0h0m5.3 0h0m5.4 0h0m4.3 0h0m4.5 0h0m4.4 0h0m5.4 0h0m5.1 0h0m5 0h0m4.2 0h0m3.5 0h0m3.8 0h0m5.3 0h0m4.3 0h0m4.5 0h0m4.2 0h0m5.2 0h0m3.8 0h0m5 0h0m6 0h0m6 0h0m9.7 0h0m14.7 0h0m13.9 0h0m14.7 0h0m33.3 0h0m-235.4 10.2h0m-42.6 9.1h0m6 0h0m4.8 0h0m3.9 0h0m4.7 0h0m4.9 0h0m5.4 0h0m4.6 0h0m5 0h0m5.1 0h0m4.8 0h0m4 0h0m5.1 0h0m4.8 0h0m4.1 0h0m6 0h0m4.7 0h0m4.9 0h0m6.2 0h0m4.6 0h0m5.3 0h0m4.9 0h0m3.3 0h0m4.1 0h0m4.7 0h0m4.3 0h0m3.3 0h0m4.6 0h0m4.5 0h0m3.9 0h0m4.5 0h0m5 0h0m4.9 0h0m5.6 0h0m7.4 0h0m6.8 0h0m7.2 0h0m7.7 0h0m7.7 0h0m18.8 0h0m39.1 0h0"/>
<path d="M487.5 229.8h0m-100.4 98.4h0m60.4 40.5h0m158.8 29h0m-104.6 9.6h0m13.2 21.3h0m-98.4 38.6h0m-102.9 11.6h0m46.2 0h0m25.6 0h0m27 0h0m27.2 0h0m36.4 0h0m206.6 0h0m-353 9.6h0m-36 9.7h0m-24.1 9.6h0m87.1 9.7h0m-130.5 9.6h0m208.6 0h0m54.5 0h0m-70.3 9.7h0m-173.5 11.5h0m27.6 0h0m21 0h0m14.6 0h0m12.7 0h0m10.6 0h0m7.6 0h0m8 0h0m10.6 0h0m9.6 0h0m8.2 0h0m10.6 0h0m11.5 0h0m12.3 0h0m9.7 0h0m10.6 0h0m10.4 0h0m10.9 0h0m19 0h0m31.7 0h0m-117.2 9.7h0m-80.8 9.6h0m76.8 0h0m-107.6 9.7h0m98.9 0h0m-108 9.6h0m80 0h0m74.8 0h0m-154.6 9.7h0m76 0h0m63.9 0h0m-221.2 9.6h0m35.2 0h0m22.8 0h0m18.4 0h0m11.5 0h0m10.2 0h0m7.2 0h0m8.3 0h0m7.9 0h0m8.3 0h0m8.5 0h0m7.3 0h0m7.1 0h0m6.5 0h0m7.4 0h0m6.1 0h0m6.2 0h0m5.3 0h0m9.3 0h0m6.7 0h0m5.3 0h0m7.4 0h0m6.7 0h0m9.5 0h0m10.2 0h0m11.9 0h0m10.6 0h0m10 0h0m8.7 0h0m14.2 0h0m68.7 0h0m-280.8 11.6h0m44.1 0h0m38.2 0h0m68.7 0h0m-164.2 9.7h0m34.4 0h0m34.1 0h0m26.7 0h0m63.6 0h0m-271.9 9.6h0m120.7 0h0m32.6 0h0m44.8 0h0m-86.5 9.7h0m37.8 0h0m23.2 0h0m31.6 0h0m29 0h0m-126.1 9.6h0m37.6 0h0m22.4 0h0m31.7 0h0m-192.2 9.7h0m18.3 0h0m10.9 0h0m8.7 0h0m7.4 0h0m10.2 0h0m5.1 0h0m7.1 0h0m6 0h0m5.6 0h0m5.8 0h0m5.3 0h0m5.5 0h0m5.9 0h0m5.1 0h0m4.7 0h0m5.7 0h0m4.6 0h0m5 0h0m4.5 0h0m5.8 0h0m5.1 0h0m5 0h0m6.1 0h0m5.5 0h0m6.3 0h0m8.1 0h0m5.2 0h0m6.6 0h0m9.2 0h0m6 0h0m5.9 0h0m5.9 0h0m5.4 0h0m5.1 0h0m4.3 0h0m5.4 0h0m5.4 0h0m5.2 0h0m6 0h0m5 0h0m4.9 0h0m6.9 0h0m11 0h0m17.9 0h0m22.5 0h0m24.3 0h0m-327.3 9.6h0m73.9 0h0m22.8 0h0m25.4 0h0m23.1 0h0m22.7 0h0m-123.8 11.6h0m17.7 0h0m18.4 0h0m21.6 0h0m19.2 0h0m18 0h0m39.9 0h0m73.2 0h0m-211.8 9.6h0m23.1 0h0m17.3 0h0m19.6 0h0m21 0h0m32.2 0h0m36.1 0h0m208.1 0h0m-380.4 9.7h0m33.4 0h0m25.1 0h0m26.2 0h0m22.7 0h0m109.8 0h0m-269.8 9.6h0m8.5 0h0m7.4 0h0m7.5 0h0m5.7 0h0m6.6 0h0m5.4 0h0m4.4 0h0m5.8 0h0m5.2 0h0m5.1 0h0m4.5 0h0m4.9 0h0m4.2 0h0m5 0h0m4.9 0h0m3.4 0h0m6 0h0m5.5 0h0m5.1 0h0m5 0h0m5 0h0m3.9 0h0m4.5 0h0m4.5 0h0m5.3 0h0m5.2 0h0m4.8 0h0m6.5 0h0m4.7 0h0m4.7 0h0m4.7 0h0m4.5 0h0m4 0h0m4.9 0h0m5.6 0h0m5 0h0m4.6 0h0m5.5 0h0m4.3 0h0m4.9 0h0m4.8 0h0m4.2 0h0m4.9 0h0m3.4 0h0m5.1 0h0m5.3 0h0m5.2 0h0m5.9 0h0m9.4 0h0m7.2 0h0m7.3 0h0m9.5 0h0m15.4 0h0m19.9 0h0m40.4 0h0m-338.3 9.7h0m31.1 0h0m21.5 0h0m25.6 0h0m24.4 0h0m23 0h0m25.8 0h0m24.5 0h0m81.8 0h0m-226.1 9.6h0m20.6 0h0m18.5 0h0m19.6 0h0m21.2 0h0m20.7 0h0m113.9 0h0m-268.6 11.6h0m41.1 0h0m19.6 0h0m15.9 0h0m17.3 0h0m19.7 0h0m27.6 0h0m49.2 0h0m-206.6 9.7h0m8.5 0h0m7.5 0h0m7.5 0h0m7.7 0h0m4.5 0h0m4.6 0h0m5.7 0h0m3.8 0h0m5.1 0h0m5 0h0m4.8 0h0m4.5 0h0m3.9 0h0m4.3 0h0m4.9 0h0m4.5 0h0m4.8 0h0m5.1 0h0m3.8 0h0m4 0h0m5.4 0h0m5.1 0h0m3.4 0h0m5.2 0h0m4.5 0h0m5 0h0m5.4 0h0m5.6 0h0m4.8 0h0m5.2 0h0m4.1 0h0m4.3 0h0m4.5 0h0m4.6 0h0m4.9 0h0m4.2 0h0m4 0h0m4.3 0h0m5.3 0h0m4.3 0h0m4.8 0h0m3.7 0h0m3.8 0h0m3.7 0h0m5.2 0h0m6.4 0h0m6.4 0h0m4.8 0h0m5.1 0h0m4.1 0h0m4.6 0h0m6.3 0h0m5.5 0h0m6.3 0h0m4.7 0h0m7 0h0m5.9 0h0m8.4 0h0m11.5 0h0m22.8 0h0m35.6 0h0m-329.6 9.6h0m16.6 0h0m15.3 0h0m15.2 0h0m18.5 0h0m15.3 0h0m16.1 0h0m16.3 0h0m87.2 0h0m-216.8 9.7h0m22.9 0h0m17.8 0h0m9.8 0h0m11.8 0h0m13.2 0h0m14 0h0m24.4 0h0m-107.1 9.6h0m12.6 0h0m11.8 0h0m12.2 0h0m13.7 0h0m12.7 0h0m16.6 0h0m32.1 0h0m108.4 0h0m-250.4 9.7h0m5.8 0h0m4.3 0h0m4.1 0h0m5.8 0h0m5.4 0h0m4.4 0h0m4.1 0h0m3.8 0h0m3.8 0h0m3.8 0h0m4.5 0h0m4.8 0h0m5.1 0h0m5.3 0h0m4.2 0h0m4.4 0h0m4.7 0h0m4.1 0h0m4 0h0m4.8 0h0m4.3 0h0m4.5 0h0m4.6 0h0m4.6 0h0m5.5 0h0m4.7 0h0m5 0h0m3.3 0h0m4.5 0h0m4.7 0h0m4.4 0h0m5.3 0h0m5.3 0h0m3.9 0h0m3.8 0h0m4.3 0h0m5.2 0h0m4.3 0h0m4.3 0h0m4 0h0m4.1 0h0m5.3 0h0m4.5 0h0m5.2 0h0m6.3 0h0m6.3 0h0m5.9 0h0m9.3 0h0m7.3 0h0m9.7 0h0m7.4 0h0m20.3 0h0m49.7 0h0m-300.8 9.6h0m24.5 0h0m22.4 0h0m22.4 0h0m28 0h0m86.3 0h0m-194.4 11.6h0m23.4 0h0m15.4 0h0m16.3 0h0m17.1 0h0m42.4 0h0m-128.4 9.7h0m4.1 0h0m4.4 0h0m3.4 0h0m4.9 0h0m4.9 0h0m3.8 0h0m4 0h0m5.3 0h0m5.2 0h0m4.9 0h0m4.2 0h0m6.7 0h0m3.9 0h0m4.5 0h0m5.8 0h0m4.1 0h0m3.7 0h0m4.3 0h0m5.8 0h0m5.2 0h0m5.9 0h0m5.2 0h0m5.4 0h0m4.2 0h0m4.6 0h0m4.3 0h0m5.4 0h0m5.1 0h0m5 0h0m4.3 0h0m3.4 0h0m3.9 0h0m5.2 0h0m4.5 0h0m4.4 0h0m4.1 0h0m5.2 0h0m4 0h0m4.8 0h0m6.1 0h0m6 0h0m9.7 0h0m15.1 0h0m13.7 0h0m14.7 0h0m33.2 0h0m-226.6 10.2h0m-51.5 9.1h0m6.1 0h0m4.6 0h0m4 0h0m4.6 0h0m5.8 0h0m4.6 0h0m4.6 0h0m5 0h0m5 0h0m5 0h0m3.9 0h0m5.1 0h0m4.9 0h0m4 0h0m5.9 0h0m5 0h0m4.7 0h0m6.1 0h0m4.7 0h0m5.4 0h0m4.8 0h0m3.3 0h0m4.1 0h0m4.6 0h0m4.4 0h0m3.3 0h0m4.6 0h0m4.5 0h0m3.9 0h0m4.5 0h0m5.1 0h0m4.7 0h0m5.7 0h0m7.4 0h0m6.8 0h0m7.1 0h0m7.8 0h0m7.7 0h0m20 0h0m40.3 0h0"/>
<path d="M593.4 229.8h0m-206.3 98.4h0m74.7 40.5h0m-227.5 38.6h0m269 0h0m20.6 21.3h0m-103.3 38.6h0m-101 11.6h0m40.4 0h0m26.1 0h0m26.8 0h0m27.3 0h0m36.3 0h0m-143.2 9.6h0m-30.2 9.7h0m-23.1 9.6h0m76.7 9.7h0m-110.2 9.6h0m188.3 0h0m118.5 0h0m-130.8 9.7h0m-176.9 11.5h0m28.4 0h0m20.3 0h0m14.3 0h0m13 0h0m10.3 0h0m7.6 0h0m8.4 0h0m10.8 0h0m9 0h0m8.8 0h0m10.1 0h0m11.6 0h0m12.3 0h0m9.5 0h0m11.6 0h0m9.7 0h0m10.8 0h0m19.3 0h0m33.9 0h0m-117.7 9.7h0m-83 9.6h0m80.2 0h0m-111 9.7h0m100.8 0h0m-108.6 9.6h0m79 0h0m75 0h0m-154.8 9.7h0m75.8 0h0m66.2 0h0m-222.1 9.6h0m34.9 0h0m22.2 0h0m18 0h0m11.4 0h0m10.4 0h0m7.2 0h0m8.2 0h0m7.9 0h0m8.4 0h0m8.3 0h0m7.3 0h0m7.1 0h0m6.4 0h0m7.5 0h0m6.2 0h0m6.1 0h0m5.3 0h0m9.3 0h0m6.6 0h0m6.3 0h0m6.4 0h0m6.8 0h0m9.9 0h0m11 0h0m10.6 0h0m10.9 0h0m9.7 0h0m9.5 0h0m13.9 0h0m68.2 0h0m-277.5 11.6h0m41.1 0h0m38.1 0h0m99.6 0h0m-194.8 9.7h0m34 0h0m36 0h0m24.8 0h0m64.2 0h0m-268.1 9.6h0m116.8 0h0m32.1 0h0m45 0h0m-84.3 9.7h0m35.3 0h0m24 0h0m31.2 0h0m30.1 0h0m-127.4 9.6h0m37.7 0h0m24.3 0h0m29.6 0h0m-191.8 9.7h0m18 0h0m11.2 0h0m8.3 0h0m7.9 0h0m9.6 0h0m5.4 0h0m6.9 0h0m6.1 0h0m5.5 0h0m5.8 0h0m5.3 0h0m5.7 0h0m5.6 0h0m5.1 0h0m4.8 0h0m5.7 0h0m4.6 0h0m4.9 0h0m4.5 0h0m5.9 0h0m5 0h0m5.2 0h0m5.9 0h0m5.7 0h0m6.2 0h0m8.2 0h0m5.1 0h0m6.8 0h0m9.2 0h0m5.8 0h0m5.8 0h0m6 0h0m5.4 0h0m5 0h0m4.4 0h0m5.4 0h0m5.5 0h0m5.1 0h0m5.9 0h0m5 0h0m5.2 0h0m7.2 0h0m11.7 0h0m17.1 0h0m22.1 0h0m24.9 0h0m-324.5 9.6h0m71.5 0h0m22.3 0h0m25.7 0h0m22.7 0h0m22.4 0h0m-123.4 11.6h0m18.6 0h0m18.3 0h0m20.5 0h0m19.1 0h0m18.6 0h0m39.8 0h0m77.6 0h0m-215.8 9.6h0m22.5 0h0m17 0h0m20.1 0h0m20.5 0h0m32.2 0h0m37.9 0h0m343.5 0h0m-517.1 9.7h0m32.8 0h0m25.8 0h0m25.8 0h0m22.3 0h0m110.1 0h0m-269.9 9.6h0m8.5 0h0m7.6 0h0m7.6 0h0m5.3 0h0m6.6 0h0m5.3 0h0m4.5 0h0m5.8 0h0m5.1 0h0m5.1 0h0m4.5 0h0m5 0h0m4.2 0h0m4.9 0h0m5 0h0m3.5 0h0m5.9 0h0m5.5 0h0m5.1 0h0m4.9 0h0m5 0h0m4.1 0h0m4.4 0h0m4.4 0h0m5.4 0h0m5.1 0h0m4.8 0h0m6.7 0h0m4.5 0h0m4.8 0h0m4.6 0h0m4.5 0h0m4 0h0m5 0h0m5.6 0h0m5.1 0h0m4.4 0h0m5.6 0h0m4.2 0h0m5 0h0m4.9 0h0m4 0h0m5.1 0h0m3.3 0h0m5.2 0h0m5.4 0h0m5.1 0h0m6.3 0h0m9.1 0h0m7 0h0m7.4 0h0m9.5 0h0m15.3 0h0m20.6 0h0m39.8 0h0m-338.2 9.7h0m31.2 0h0m22.2 0h0m24.9 0h0m24.5 0h0m23.2 0h0m25.4 0h0m24.2 0h0m88 0h0m-231.3 9.6h0m20.2 0h0m18.7 0h0m20.7 0h0m19.3 0h0m21.2 0h0m152.2 0h0m-307.4 11.6h0m42 0h0m19.4 0h0m15.9 0h0m17.8 0h0m18.6 0h0m28 0h0m56.7 0h0m-214.5 9.7h0m8.4 0h0m7.6 0h0m7.5 0h0m7.7 0h0m4.5 0h0m4.6 0h0m5.6 0h0m3.8 0h0m5.1 0h0m5.1 0h0m4.8 0h0m4.4 0h0m4 0h0m4.2 0h0m5.1 0h0m4.4 0h0m4.7 0h0m5.1 0h0m3.9 0h0m4.3 0h0m5 0h0m5.2 0h0m3.6 0h0m5 0h0m4.4 0h0m5.1 0h0m5.3 0h0m5.9 0h0m4.5 0h0m5.4 0h0m4 0h0m4.4 0h0m4.5 0h0m4.6 0h0m4.7 0h0m4.2 0h0m4 0h0m4.3 0h0m5.3 0h0m4.3 0h0m4.8 0h0m3.7 0h0m3.9 0h0m3.7 0h0m5.2 0h0m6.4 0h0m6.4 0h0m4.7 0h0m5.2 0h0m4 0h0m4.7 0h0m6.3 0h0m5.7 0h0m6.5 0h0m4.2 0h0m7 0h0m6.3 0h0m8.2 0h0m11.6 0h0m24 0h0m34.1 0h0m-329.2 9.6h0m16.4 0h0m15.2 0h0m15.8 0h0m18 0h0m15.3 0h0m16.3 0h0m16.6 0h0m93.7 0h0m-223.9 9.7h0m22.9 0h0m18.1 0h0m9.7 0h0m12.2 0h0m12.6 0h0m14 0h0m24.6 0h0m-106.1 9.6h0m11.4 0h0m12.2 0h0m11.8 0h0m14.3 0h0m12.5 0h0m16.4 0h0m31.8 0h0m114.3 0h0m-256.2 9.7h0m5.7 0h0m4.4 0h0m4.1 0h0m5.7 0h0m5.4 0h0m4.5 0h0m4 0h0m3.9 0h0m3.7 0h0m3.9 0h0m4.5 0h0m4.7 0h0m5.3 0h0m5.2 0h0m4.2 0h0m4.3 0h0m4.7 0h0m4.3 0h0m3.9 0h0m4.9 0h0m4.3 0h0m4.4 0h0m4.6 0h0m4.7 0h0m5.4 0h0m4.7 0h0m4.9 0h0m3.5 0h0m4.3 0h0m4.9 0h0m4.4 0h0m5.4 0h0m5.2 0h0m3.7 0h0m3.9 0h0m4.2 0h0m5.4 0h0m4.1 0h0m4.3 0h0m4 0h0m4.2 0h0m5.3 0h0m4.8 0h0m4.9 0h0m6.2 0h0m6.3 0h0m6.1 0h0m9.2 0h0m7.5 0h0m9.4 0h0m7.5 0h0m21.3 0h0m49 0h0m-299.8 9.6h0m24.1 0h0m21.8 0h0m22 0h0m28.3 0h0m96.2 0h0m-204.1 11.6h0m23 0h0m15.3 0h0m16.5 0h0m17.4 0h0m42.3 0h0m-128.8 9.7h0m4.2 0h0m4.3 0h0m3.5 0h0m4.9 0h0m5 0h0m3.7 0h0m3.9 0h0m5.4 0h0m5.1 0h0m4.9 0h0m4.3 0h0m6.6 0h0m4.1 0h0m4.4 0h0m5.7 0h0m4.3 0h0m3.5 0h0m4.4 0h0m5.7 0h0m5.3 0h0m6.1 0h0m5.2 0h0m5.1 0h0m4.3 0h0m4.5 0h0m4.7 0h0m5 0h0m5.2 0h0m5 0h0m4.4 0h0m3.4 0h0m3.7 0h0m5.2 0h0m4.5 0h0m4.4 0h0m4.1 0h0m5.2 0h0m4.2 0h0m4.9 0h0m5.8 0h0m6.2 0h0m9.6 0h0m15.3 0h0m14.3 0h0m14.4 0h0m35.5 0h0m-226.1 10.2h0m-54.9 9.1h0m6.1 0h0m4.7 0h0m4.1 0h0m4.5 0h0m5.8 0h0m4.5 0h0m4.7 0h0m5 0h0m4.9 0h0m5.1 0h0m3.9 0h0m5 0h0m5.1 0h0m3.9 0h0m5.8 0h0m5.3 0h0m4.5 0h0m6 0h0m4.7 0h0m5.5 0h0m4.7 0h0m3.6 0h0m3.8 0h0m4.7 0h0m4.3 0h0m3.3 0h0m4.7 0h0m4.5 0h0m3.8 0h0m4.5 0h0m5.3 0h0m4.6 0h0m5.9 0h0m7.1 0h0m6.9 0h0m7 0h0m7.9 0h0m7.7 0h0m20.9 0h0m40.9 0h0"/>
<path d="M570.5 239.4h0m-157.2 88.8h0m51.8 40.5h0m-171.4 38.6h0m214.6 0h0m25.9 21.3h0m-271.4 19.3h0m161.6 19.3h0m-102.8 11.6h0m38.7 0h0m26.2 0h0m26.9 0h0m27.9 0h0m35.4 0h0m-138.1 9.6h0m-32.1 9.7h0m-23.5 9.6h0m79 9.7h0m-105.1 9.6h0m179.2 0h0m-4 9.7h0m59.6 0h0m-246 11.5h0m28.6 0h0m20.7 0h0m13.8 0h0m13.1 0h0m10.1 0h0m7.6 0h0m9.2 0h0m10.4 0h0m8.6 0h0m9 0h0m9.8 0h0m12 0h0m12.1 0h0m9.4 0h0m11.6 0h0m9.7 0h0m10.9 0h0m19.2 0h0m34.3 0h0m-113.8 9.7h0m-85.9 9.6h0m81.3 0h0m-109.4 9.7h0m97 0h0m-103.1 9.6h0m75.2 0h0m75.6 0h0m-151.4 9.7h0m70.9 0h0m67.5 0h0m-224.6 9.6h0m35.3 0h0m21.9 0h0m18 0h0m11.3 0h0m11.1 0h0m6.7 0h0m8.2 0h0m8 0h0m8.4 0h0m8.3 0h0m7.3 0h0m6.8 0h0m6.6 0h0m7.5 0h0m6.1 0h0m6.1 0h0m5.4 0h0m9.3 0h0m6.5 0h0m6.2 0h0m6.6 0h0m6.9 0h0m9.8 0h0m10.9 0h0m10.7 0h0m11.4 0h0m9.1 0h0m9.7 0h0m14.8 0h0m73.3 0h0m-283.7 11.6h0m41.8 0h0m38 0h0m-95.1 9.7h0m33.9 0h0m35.8 0h0m26.6 0h0m66.8 0h0m-271.5 9.6h0m117.7 0h0m31.1 0h0m44.2 0h0m-84.1 9.7h0m34.5 0h0m24.1 0h0m31.4 0h0m30.4 0h0m-126.7 9.6h0m36.8 0h0m24.6 0h0m28.9 0h0m-191.6 9.7h0m18 0h0m11.3 0h0m8 0h0m8 0h0m10.2 0h0m4.8 0h0m7 0h0m6 0h0m5.4 0h0m6 0h0m5.3 0h0m5.6 0h0m5.5 0h0m5.2 0h0m4.8 0h0m5.8 0h0m4.5 0h0m4.9 0h0m4.6 0h0m6 0h0m4.8 0h0m5.2 0h0m5.9 0h0m5.6 0h0m6.3 0h0m8.2 0h0m5.4 0h0m6.5 0h0m9.5 0h0m5.4 0h0m6.1 0h0m5.7 0h0m5.6 0h0m5 0h0m4.3 0h0m5.5 0h0m5.3 0h0m5.6 0h0m5.5 0h0m5 0h0m5.6 0h0m6.7 0h0m11.9 0h0m17.1 0h0m22 0h0m27.5 0h0m-326.5 9.6h0m71.5 0h0m22.6 0h0m24.8 0h0m23 0h0m22.4 0h0m-123 11.6h0m18.2 0h0m19.3 0h0m19.5 0h0m18.8 0h0m18.6 0h0m40.5 0h0m92.4 0h0m-231.3 9.6h0m22.5 0h0m17 0h0m20.3 0h0m20.4 0h0m32.2 0h0m37.8 0h0m-173.7 9.7h0m33.8 0h0m25.8 0h0m25 0h0m23 0h0m111.4 0h0m-272 9.6h0m8.5 0h0m8 0h0m7.1 0h0m5.4 0h0m6.6 0h0m5.3 0h0m4.4 0h0m5.8 0h0m5.2 0h0m5.3 0h0m4.3 0h0m5 0h0m4.2 0h0m4.8 0h0m5.1 0h0m3.5 0h0m6 0h0m5.4 0h0m5 0h0m4.9 0h0m5.1 0h0m4.1 0h0m4.6 0h0m4.2 0h0m5.4 0h0m5.1 0h0m4.9 0h0m6.6 0h0m4.5 0h0m4.7 0h0m4.6 0h0m4.8 0h0m3.8 0h0m5 0h0m5.8 0h0m4.8 0h0m4.4 0h0m5.6 0h0m4.4 0h0m4.9 0h0m5 0h0m3.8 0h0m5.1 0h0m3.3 0h0m5.3 0h0m5.4 0h0m5 0h0m6.3 0h0m9.2 0h0m6.9 0h0m7.5 0h0m9.4 0h0m16.6 0h0m19.7 0h0m39.6 0h0m-337.6 9.7h0m30.7 0h0m22.4 0h0m24.5 0h0m24.8 0h0m23 0h0m26.3 0h0m23.3 0h0m94.2 0h0m-237.6 9.6h0m20.3 0h0m19.3 0h0m20.3 0h0m19.1 0h0m21.1 0h0m-153.9 11.6h0m41.7 0h0m18.9 0h0m15.8 0h0m17.3 0h0m19.8 0h0m26.9 0h0m57.4 0h0m-215.3 9.7h0m8.6 0h0m7.6 0h0m7.4 0h0m7.6 0h0m4.6 0h0m4.6 0h0m5.6 0h0m3.8 0h0m5.3 0h0m4.9 0h0m4.7 0h0m4.4 0h0m4 0h0m4.5 0h0m5 0h0m4.3 0h0m4.8 0h0m4.9 0h0m4.1 0h0m4.2 0h0m5 0h0m5.4 0h0m3.5 0h0m4.8 0h0m4.5 0h0m5.2 0h0m5.1 0h0m5.9 0h0m4.7 0h0m5.3 0h0m3.9 0h0m4.4 0h0m4.5 0h0m4.6 0h0m4.7 0h0m4.3 0h0m4 0h0m4.2 0h0m5.4 0h0m4.2 0h0m4.9 0h0m3.7 0h0m3.8 0h0m3.7 0h0m5.2 0h0m6.7 0h0m6.1 0h0m4.9 0h0m5.2 0h0m3.9 0h0m4.7 0h0m6.5 0h0m5.5 0h0m6.4 0h0m4.3 0h0m7.4 0h0m5.9 0h0m8.1 0h0m11.8 0h0m24.5 0h0m33.9 0h0m-329.1 9.6h0m16.2 0h0m15.4 0h0m15.2 0h0m18.1 0h0m15.5 0h0m16.1 0h0m17.1 0h0m102.4 0h0m-231.3 9.7h0m21.5 0h0m17.8 0h0m9.6 0h0m12.1 0h0m13.3 0h0m13.6 0h0m27 0h0m-108.5 9.6h0m11.3 0h0m12.1 0h0m12 0h0m14 0h0m12.6 0h0m16.9 0h0m32.3 0h0m114.5 0h0m-262.5 9.7h0m5.1 0h0m5.7 0h0m4.3 0h0m4.3 0h0m5.6 0h0m5.4 0h0m4.4 0h0m4.1 0h0m4 0h0m3.6 0h0m4.1 0h0m4.4 0h0m4.5 0h0m5.5 0h0m5.1 0h0m4.3 0h0m4.1 0h0m4.7 0h0m4.4 0h0m3.9 0h0m5 0h0m4.2 0h0m4.4 0h0m4.5 0h0m4.9 0h0m5.5 0h0m4.4 0h0m5 0h0m3.4 0h0m4.8 0h0m4.4 0h0m4.6 0h0m5.3 0h0m5.1 0h0m3.8 0h0m3.8 0h0m4.3 0h0m5.3 0h0m4.4 0h0m4.3 0h0m3.8 0h0m4.1 0h0m5.4 0h0m4.7 0h0m4.9 0h0m6.3 0h0m6.3 0h0m6.6 0h0m8.6 0h0m7.8 0h0m9.3 0h0m7.5 0h0m22.1 0h0m52.4 0h0m-303.9 9.6h0m24 0h0m21.7 0h0m22.4 0h0m28.1 0h0m102.2 0h0m-210.1 11.6h0m22.7 0h0m15.6 0h0m16.4 0h0m17.4 0h0m42.3 0h0m-128.9 9.7h0m4.2 0h0m4.3 0h0m3.5 0h0m4.8 0h0m5.1 0h0m3.6 0h0m4.1 0h0m5.3 0h0m5.3 0h0m4.6 0h0m4.4 0h0m6.6 0h0m4.1 0h0m4.5 0h0m5.6 0h0m4.3 0h0m3.4 0h0m4.4 0h0m6.2 0h0m4.9 0h0m6 0h0m5.3 0h0m5.1 0h0m4.3 0h0m4.5 0h0m4.7 0h0m5.1 0h0m5 0h0m5 0h0m4.5 0h0m3.5 0h0m3.6 0h0m5.2 0h0m4.4 0h0m4.5 0h0m4.2 0h0m5.1 0h0m4.2 0h0m4.9 0h0m5.9 0h0m6 0h0m9.9 0h0m15.1 0h0m14.4 0h0m14.4 0h0m35.5 0h0m-225.2 10.2h0m-55.9 9.1h0m6.1 0h0m4.8 0h0m4.1 0h0m4.3 0h0m5.9 0h0m4.6 0h0m4.5 0h0m5.3 0h0m4.7 0h0m5 0h0m3.9 0h0m5.2 0h0m5 0h0m3.9 0h0m5.9 0h0m5.1 0h0m4.8 0h0m5.8 0h0m4.6 0h0m5.5 0h0m4.7 0h0m3.7 0h0m3.8 0h0m4.7 0h0m4.2 0h0m3.3 0h0m4.7 0h0m4.5 0h0m4.1 0h0m4.5 0h0m5 0h0m4.7 0h0m5.9 0h0m7.2 0h0m6.9 0h0m7.1 0h0m7.7 0h0m7.7 0h0m21.5 0h0m43.1 0h0m222 0h0"/>
<path d="M798.4 239.4h0m-376.5 88.8h0m43.2 40.5h0m-171.4 38.6h0m217.9 0h0m89.7 21.3h0m-315.7 19.3h0m139.6 19.3h0m-103.5 11.6h0m38.8 0h0m26.5 0h0m26.4 0h0m28 0h0m35.7 0h0m-138 9.6h0m-26 9.7h0m-26.6 9.6h0m78.5 9.7h0m-95.4 9.6h0m171.1 0h0m2.4 9.7h0m48.6 0h0m-245.3 11.5h0m28.4 0h0m20.3 0h0m13.7 0h0m13.3 0h0m10 0h0m7.9 0h0m8.9 0h0m10.5 0h0m8.5 0h0m9.3 0h0m10.3 0h0m11.1 0h0m12.2 0h0m9.4 0h0m11.5 0h0m9.7 0h0m11.2 0h0m18.9 0h0m36.6 0h0m-116 9.7h0m-85.6 9.6h0m81.1 0h0m-108.6 9.7h0m96.8 0h0m-102.7 9.6h0m74.6 0h0m75.2 0h0m-150.4 9.7h0m71.1 0h0m66.2 0h0m-223.4 9.6h0m34.4 0h0m21.6 0h0m18.1 0h0m11.3 0h0m11 0h0m6.7 0h0m8.3 0h0m7.8 0h0m8.5 0h0m8.3 0h0m7.3 0h0m6.8 0h0m6.6 0h0m7.8 0h0m5.7 0h0m6.4 0h0m5.3 0h0m9.4 0h0m6.2 0h0m6.3 0h0m6.6 0h0m7.2 0h0m9.6 0h0m10.9 0h0m10.7 0h0m11.5 0h0m8.9 0h0m9.7 0h0m15.6 0h0m72.4 0h0m-281.8 11.6h0m43.3 0h0m37.1 0h0m-97.5 9.7h0m37 0h0m33.6 0h0m26 0h0m75.6 0h0m-243.3 9.6h0m80.4 0h0m31.1 0h0m44.6 0h0m-83.6 9.7h0m34.8 0h0m25.3 0h0m29.8 0h0m30 0h0m-126 9.6h0m35.9 0h0m24.7 0h0m29.2 0h0m-191.8 9.7h0m17.5 0h0m11.4 0h0m8.2 0h0m7.9 0h0m10.1 0h0m4.7 0h0m7.3 0h0m6 0h0m5.3 0h0m5.8 0h0m5.3 0h0m5.6 0h0m5.7 0h0m5.1 0h0m4.7 0h0m5.8 0h0m4.6 0h0m5 0h0m4.5 0h0m5.9 0h0m4.9 0h0m5.4 0h0m5.8 0h0m5.6 0h0m6.2 0h0m8.1 0h0m5.5 0h0m6.4 0h0m9.8 0h0m5.2 0h0m6.2 0h0m5.5 0h0m5.8 0h0m4.9 0h0m4.8 0h0m4.9 0h0m5.4 0h0m5.5 0h0m5.6 0h0m5 0h0m5.5 0h0m7 0h0m11.8 0h0m17.5 0h0m22.4 0h0m28.1 0h0m-324.2 9.6h0m68.2 0h0m23 0h0m24.3 0h0m23.1 0h0m21.9 0h0m-121.4 11.6h0m16.6 0h0m20.4 0h0m19.9 0h0m17.3 0h0m18.5 0h0m41.6 0h0m101 0h0m-240.7 9.6h0m23.1 0h0m16.1 0h0m20.5 0h0m21.2 0h0m31.3 0h0m37.9 0h0m-173.8 9.7h0m33.7 0h0m25.8 0h0m25.4 0h0m23.9 0h0m110.3 0h0m-272.2 9.6h0m9.2 0h0m7.5 0h0m7.1 0h0m5.3 0h0m6.7 0h0m5.2 0h0m4.3 0h0m5.9 0h0m5.2 0h0m5.2 0h0m4.4 0h0m4.9 0h0m4.2 0h0m4.9 0h0m5.1 0h0m3.6 0h0m5.9 0h0m5.5 0h0m5.5 0h0m4.4 0h0m4.9 0h0m4.2 0h0m4.7 0h0m4 0h0m5.4 0h0m5.1 0h0m5.2 0h0m6.3 0h0m4.6 0h0m4.9 0h0m4.4 0h0m4.8 0h0m3.8 0h0m5 0h0m5.8 0h0m4.8 0h0m4.5 0h0m5.7 0h0m4.1 0h0m4.9 0h0m5.1 0h0m3.9 0h0m5 0h0m3.3 0h0m5.2 0h0m5.5 0h0m4.9 0h0m6.4 0h0m9.3 0h0m6.8 0h0m7.4 0h0m9.7 0h0m16.7 0h0m19.5 0h0m39.4 0h0m-333.9 9.7h0m28.1 0h0m23.1 0h0m22.8 0h0m24.8 0h0m23.2 0h0m26.5 0h0m22.8 0h0m103.8 0h0m-247 9.6h0m20.5 0h0m19.5 0h0m19.8 0h0m19.8 0h0m20.4 0h0m-153.6 11.6h0m41.8 0h0m19 0h0m15.7 0h0m17 0h0m19.9 0h0m26.8 0h0m59.2 0h0m-217 9.7h0m8.3 0h0m7.7 0h0m7.7 0h0m7.4 0h0m4.6 0h0m4.5 0h0m5.6 0h0m3.9 0h0m5.2 0h0m4.8 0h0m4.8 0h0m4.4 0h0m4.1 0h0m4.4 0h0m5 0h0m4.4 0h0m4.7 0h0m5.1 0h0m3.8 0h0m4.2 0h0m5.1 0h0m5.3 0h0m3.5 0h0m4.9 0h0m4.6 0h0m5.3 0h0m4.9 0h0m5.9 0h0m4.9 0h0m5 0h0m4 0h0m4.6 0h0m4.3 0h0m4.6 0h0m4.6 0h0m4.4 0h0m3.9 0h0m4.2 0h0m5.6 0h0m4.1 0h0m4.8 0h0m3.7 0h0m3.9 0h0m4 0h0m4.9 0h0m6.8 0h0m5.9 0h0m5.1 0h0m5.2 0h0m4 0h0m4.5 0h0m6.4 0h0m5.6 0h0m6.3 0h0m4.3 0h0m7.6 0h0m5.9 0h0m8.2 0h0m12.1 0h0m24 0h0m38.2 0h0m-333.4 9.6h0m16.1 0h0m15.4 0h0m15.8 0h0m17.6 0h0m15.5 0h0m16.1 0h0m17.5 0h0m106.9 0h0m-235.9 9.7h0m22 0h0m16.9 0h0m9.7 0h0m12.1 0h0m13.2 0h0m13.8 0h0m28.5 0h0m-110 9.6h0m11.1 0h0m12.2 0h0m12.2 0h0m13.9 0h0m12.4 0h0m17.7 0h0m31.8 0h0m114.4 0h0m-262.5 9.7h0m4.9 0h0m5.9 0h0m4.1 0h0m4.4 0h0m5.7 0h0m5.2 0h0m4.6 0h0m3.9 0h0m4.1 0h0m3.6 0h0m4.1 0h0m4.3 0h0m4.5 0h0m5.5 0h0m5.2 0h0m4.3 0h0m4.1 0h0m4.7 0h0m4.4 0h0m4.2 0h0m4.6 0h0m4.4 0h0m4.3 0h0m4.5 0h0m4.9 0h0m5.4 0h0m4.6 0h0m4.9 0h0m3.5 0h0m4.6 0h0m4.4 0h0m4.6 0h0m5.3 0h0m5.3 0h0m3.7 0h0m3.8 0h0m4.2 0h0m5.3 0h0m4.6 0h0m4.1 0h0m3.9 0h0m4.2 0h0m5.5 0h0m4.5 0h0m4.9 0h0m6.2 0h0m6.4 0h0m6.8 0h0m8.3 0h0m8.1 0h0m9.2 0h0m7.4 0h0m22.4 0h0m54.5 0h0m-306.4 9.6h0m25 0h0m20.8 0h0m22.7 0h0m27.8 0h0m102.8 0h0m-210.7 11.6h0m23.3 0h0m15 0h0m16.5 0h0m17.9 0h0m43.3 0h0m-130.5 9.7h0m4.1 0h0m4.4 0h0m3.5 0h0m4.8 0h0m5.2 0h0m3.5 0h0m4 0h0m5.3 0h0m5.5 0h0m4.4 0h0m4.5 0h0m6.6 0h0m4.2 0h0m4.3 0h0m5.7 0h0m4.4 0h0m3.4 0h0m4.5 0h0m6 0h0m4.9 0h0m6.5 0h0m4.8 0h0m5.1 0h0m4.3 0h0m4.5 0h0m4.7 0h0m5.1 0h0m5 0h0m5.1 0h0m4.3 0h0m3.6 0h0m3.5 0h0m5.2 0h0m4.5 0h0m4.5 0h0m4.2 0h0m5.1 0h0m4.2 0h0m4.8 0h0m5.9 0h0m6.2 0h0m9.9 0h0m15.1 0h0m14.7 0h0m14 0h0m36 0h0m-224.4 10.2h0m-57.1 9.1h0m6.1 0h0m4.7 0h0m4 0h0m4.4 0h0m5.9 0h0m4.6 0h0m5 0h0m4.8 0h0m4.6 0h0m5 0h0m4 0h0m5.1 0h0m5 0h0m3.9 0h0m6.1 0h0m5 0h0m4.9 0h0m5.7 0h0m4.5 0h0m5.5 0h0m4.8 0h0m3.7 0h0m3.7 0h0m4.8 0h0m4.1 0h0m3.3 0h0m4.7 0h0m4.5 0h0m4.4 0h0m4.3 0h0m4.9 0h0m5.1 0h0m5.6 0h0m7.3 0h0m6.8 0h0m7 0h0m7.9 0h0m7.6 0h0m21.6 0h0m43.3 0h0m221.6 0h0"/>
<path d="M363.5 249.1h0m66.4 79.1h0m47.5 40.5h0m-177 38.6h0m221.2 0h0m-211.8 40.6h0m116 19.3h0m-103 11.6h0m38.2 0h0m26.3 0h0m26.4 0h0m28.3 0h0m35.3 0h0m158 0h0m-291.6 9.6h0m-27.5 9.7h0m-17.3 9.6h0m67.4 9.7h0m-76.8 9.6h0m157.3 0h0m-187.7 9.7h0m201 0h0m35.8 0h0m-249.4 11.5h0m28.7 0h0m20.4 0h0m14.6 0h0m12.1 0h0m9.8 0h0m8.1 0h0m9.2 0h0m10.7 0h0m7.9 0h0m9.2 0h0m10.3 0h0m11.2 0h0m12.5 0h0m9.1 0h0m11.5 0h0m9.8 0h0m11.4 0h0m18.6 0h0m39.2 0h0m-118 9.7h0m-82.8 9.6h0m80.4 0h0m-109.9 9.7h0m95.9 0h0m-102.9 9.6h0m74.9 0h0m79.2 0h0m-150.5 9.7h0m66.5 0h0m67.9 0h0m-223.8 9.6h0m33.2 0h0m22.1 0h0m17.5 0h0m11.3 0h0m11.1 0h0m6.9 0h0m8.2 0h0m7.6 0h0m8.6 0h0m8.3 0h0m7.3 0h0m6.8 0h0m6.9 0h0m7.5 0h0m6 0h0m6 0h0m6 0h0m8.8 0h0m6.3 0h0m6.2 0h0m7 0h0m6.9 0h0m9.8 0h0m10.7 0h0m10.8 0h0m11.3 0h0m8.9 0h0m9.7 0h0m16.2 0h0m73.8 0h0m-281.7 11.6h0m41.4 0h0m37 0h0m-222.3 9.7h0m126.5 0h0m35.1 0h0m34.2 0h0m25.6 0h0m91.5 0h0m-248.7 9.6h0m70 0h0m33.7 0h0m42.2 0h0m-83 9.7h0m34.2 0h0m25.7 0h0m29.4 0h0m29.9 0h0m-126.2 9.6h0m36.2 0h0m24.3 0h0m32.6 0h0m-195.2 9.7h0m17.5 0h0m11.5 0h0m8.4 0h0m7.8 0h0m10 0h0m4.5 0h0m7.3 0h0m6.3 0h0m5.1 0h0m5.8 0h0m5.5 0h0m5.4 0h0m5.7 0h0m5 0h0m4.8 0h0m5.8 0h0m4.6 0h0m4.9 0h0m4.6 0h0m5.9 0h0m4.9 0h0m5.4 0h0m5.8 0h0m5.7 0h0m6.2 0h0m8 0h0m5.5 0h0m6.6 0h0m9.7 0h0m5.1 0h0m6.1 0h0m5.6 0h0m5.8 0h0m4.8 0h0m4.8 0h0m5 0h0m5.4 0h0m5.5 0h0m5.8 0h0m4.8 0h0m5.4 0h0m7 0h0m11.9 0h0m17.9 0h0m22 0h0m29.2 0h0m-323.4 9.6h0m67.4 0h0m22 0h0m25.5 0h0m21.9 0h0m22.1 0h0m-121.8 11.6h0m16.9 0h0m20.4 0h0m19.7 0h0m17.2 0h0m19 0h0m41.4 0h0m129.1 0h0m-269 9.6h0m23.1 0h0m16.5 0h0m20 0h0m21.3 0h0m31.3 0h0m38.3 0h0m-173.3 9.7h0m33.2 0h0m25.4 0h0m25.4 0h0m24.5 0h0m115.8 0h0m-278.2 9.6h0m9.1 0h0m7.5 0h0m7.1 0h0m5.4 0h0m6.6 0h0m5.2 0h0m4.3 0h0m5.9 0h0m5.1 0h0m5.3 0h0m4.4 0h0m4.9 0h0m4.1 0h0m4.9 0h0m5.1 0h0m3.6 0h0m6 0h0m5.4 0h0m5.5 0h0m4.4 0h0m5 0h0m4.2 0h0m4.6 0h0m4.1 0h0m5.4 0h0m5.1 0h0m5.3 0h0m6.2 0h0m4.5 0h0m4.9 0h0m4.5 0h0m4.8 0h0m3.8 0h0m5 0h0m5.7 0h0m4.9 0h0m4.6 0h0m5.6 0h0m4.2 0h0m4.8 0h0m5 0h0m4.1 0h0m4.9 0h0m3.2 0h0m5.2 0h0m5.5 0h0m5 0h0m6.8 0h0m8.9 0h0m6.7 0h0m7.4 0h0m9.9 0h0m17 0h0m19 0h0m40.7 0h0m-332.6 9.7h0m26.4 0h0m23 0h0m22.5 0h0m24.6 0h0m23.6 0h0m26 0h0m22.7 0h0m112.1 0h0m-254.4 9.6h0m19.8 0h0m19.8 0h0m19.6 0h0m19.4 0h0m20.4 0h0m-153.1 11.6h0m41.9 0h0m18.5 0h0m15.7 0h0m17.4 0h0m19.4 0h0m27 0h0m62.7 0h0m-220.6 9.7h0m8.5 0h0m7.5 0h0m7.7 0h0m7.5 0h0m4.4 0h0m4.8 0h0m5.4 0h0m3.9 0h0m5.2 0h0m4.8 0h0m4.9 0h0m4.2 0h0m4.1 0h0m4.4 0h0m5 0h0m4.4 0h0m4.7 0h0m5.2 0h0m3.7 0h0m4.3 0h0m5.2 0h0m5.2 0h0m3.5 0h0m5 0h0m4.5 0h0m5.2 0h0m5 0h0m5.8 0h0m5 0h0m5.2 0h0m3.7 0h0m5 0h0m3.9 0h0m4.7 0h0m4.6 0h0m4.4 0h0m4.1 0h0m3.9 0h0m5.7 0h0m4 0h0m4.9 0h0m3.7 0h0m3.9 0h0m3.9 0h0m4.9 0h0m6.8 0h0m6 0h0m5.2 0h0m5.4 0h0m3.7 0h0m4.6 0h0m6.2 0h0m5.7 0h0m6.2 0h0m4.5 0h0m7.4 0h0m5.9 0h0m8.5 0h0m12.3 0h0m24.1 0h0m38.4 0h0m-333.2 9.6h0m15.2 0h0m15.4 0h0m15.8 0h0m17.7 0h0m16.1 0h0m16 0h0m17.2 0h0m106.6 0h0m-235.8 9.7h0m22.6 0h0m16.2 0h0m9.7 0h0m13 0h0m12.4 0h0m13.6 0h0m30 0h0m-111.3 9.6h0m11.5 0h0m11.6 0h0m12.4 0h0m13.8 0h0m12.3 0h0m18.3 0h0m31.3 0h0m149.4 0h0m-297.3 9.7h0m5 0h0m5.5 0h0m4.3 0h0m4.6 0h0m5.3 0h0m5.3 0h0m4.5 0h0m4 0h0m4.2 0h0m3.5 0h0m4.2 0h0m4.2 0h0m4.6 0h0m5.4 0h0m5.1 0h0m4.4 0h0m4.1 0h0m4.6 0h0m4.5 0h0m4.1 0h0m4.9 0h0m4.2 0h0m4.4 0h0m4.3 0h0m5 0h0m5.4 0h0m4.6 0h0m4.8 0h0m3.5 0h0m4.7 0h0m4.3 0h0m4.9 0h0m5.2 0h0m5.1 0h0m3.7 0h0m3.8 0h0m4.2 0h0m5.4 0h0m4.6 0h0m4.1 0h0m4 0h0m4.1 0h0m5.4 0h0m4.5 0h0m5 0h0m6.3 0h0m6.4 0h0m6.7 0h0m8.3 0h0m8.3 0h0m9 0h0m7.5 0h0m22.2 0h0m55.4 0h0m-307.1 9.6h0m25.1 0h0m22.2 0h0m21.2 0h0m28.1 0h0m104.9 0h0m-213.1 11.6h0m23.6 0h0m14.7 0h0m16.5 0h0m18.8 0h0m45.2 0h0m-133.5 9.7h0m4.3 0h0m4.2 0h0m3.6 0h0m4.9 0h0m5 0h0m3.5 0h0m4.2 0h0m5.3 0h0m5.4 0h0m4.4 0h0m4.4 0h0m6.6 0h0m4.2 0h0m4.5 0h0m5.6 0h0m4.3 0h0m3.4 0h0m4.6 0h0m5.9 0h0m5.1 0h0m6.3 0h0m5 0h0m5 0h0m4.2 0h0m4.5 0h0m4.8 0h0m5.1 0h0m5 0h0m5.1 0h0m4.3 0h0m3.5 0h0m3.5 0h0m5.3 0h0m4.4 0h0m4.7 0h0m4.3 0h0m4.8 0h0m4.3 0h0m4.9 0h0m5.7 0h0m6.3 0h0m9.9 0h0m15.1 0h0m14.8 0h0m13.9 0h0m36.2 0h0m100.2 0h0m-321.5 10.2h0m-60.2 9.1h0m5.9 0h0m4.7 0h0m4 0h0m4.3 0h0m5.9 0h0m4.7 0h0m4.9 0h0m5 0h0m4.5 0h0m5 0h0m4.4 0h0m4.7 0h0m5 0h0m4 0h0m5.9 0h0m5.4 0h0m4.6 0h0m5.6 0h0m4.6 0h0m5.5 0h0m4.7 0h0m3.8 0h0m3.7 0h0m4.7 0h0m4.2 0h0m3.3 0h0m4.7 0h0m4.6 0h0m4.2 0h0m4.4 0h0m4.8 0h0m5.5 0h0m5.4 0h0m7.1 0h0m7.2 0h0m6.6 0h0m7.9 0h0m7.8 0h0m21.5 0h0m43.2 0h0"/>
<path d="M363.5 249.1h0m70.7 79.1h0m52.2 40.5h0m-173.4 38.6h0m208.6 0h0m-183.6 40.6h0m88.1 19.3h0m-98.3 11.6h0m34.2 0h0m26.1 0h0m26.5 0h0m27.5 0h0m35.6 0h0m185.7 0h0m-319.6 9.6h0m-24 9.7h0m-.3 9.6h0m47.6 9.7h0m-74.6 9.6h0m157.8 0h0m-188.4 9.7h0m203 0h0m40.6 0h0m-258.7 11.5h0m30.8 0h0m18 0h0m15.1 0h0m11.9 0h0m9.8 0h0m7.9 0h0m9.1 0h0m11.5 0h0m7.2 0h0m9.1 0h0m12.3 0h0m9.3 0h0m12.5 0h0m9.8 0h0m10.8 0h0m10 0h0m11.2 0h0m18.9 0h0m39.7 0h0m-118.7 9.7h0m-80.4 9.6h0m90.1 0h0m-120.1 9.7h0m96 0h0m-104.5 9.6h0m74.6 0h0m95.6 0h0m-166.9 9.7h0m70.3 0h0m64.6 0h0m-224 9.6h0m33.5 0h0m21.7 0h0m17.6 0h0m10.9 0h0m11 0h0m7.2 0h0m8.3 0h0m7.5 0h0m8.2 0h0m8.6 0h0m7.2 0h0m6.6 0h0m7.3 0h0m7.4 0h0m6 0h0m5.7 0h0m6.3 0h0m8.6 0h0m6.4 0h0m6.1 0h0m7 0h0m6.8 0h0m9.9 0h0m10.6 0h0m10.9 0h0m11.6 0h0m8.6 0h0m9.6 0h0m17.5 0h0m75.4 0h0m-282.1 11.6h0m41 0h0m35.9 0h0m-206.2 9.7h0m109.5 0h0m36 0h0m33.4 0h0m25.6 0h0m-135.3 9.6h0m48.5 0h0m34.3 0h0m42.2 0h0m-223.4 9.7h0m139.2 0h0m34.9 0h0m25.1 0h0m30.1 0h0m29.5 0h0m-125.8 9.6h0m35.8 0h0m25 0h0m32 0h0m-195 9.7h0m16.9 0h0m11.4 0h0m9.1 0h0m7.4 0h0m10 0h0m4.4 0h0m7.2 0h0m6.4 0h0m5.4 0h0m5.4 0h0m5.4 0h0m5.6 0h0m5.8 0h0m4.8 0h0m4.7 0h0m5.8 0h0m4.6 0h0m5 0h0m4.5 0h0m5.9 0h0m5 0h0m5.5 0h0m5.7 0h0m5.6 0h0m6.2 0h0m8 0h0m5.5 0h0m6.9 0h0m9.5 0h0m5 0h0m6.1 0h0m5.7 0h0m5.8 0h0m4.7 0h0m4.9 0h0m4.9 0h0m5.4 0h0m5.7 0h0m5.6 0h0m4.9 0h0m5.5 0h0m7 0h0m11.8 0h0m18 0h0m22 0h0m29.8 0h0m-321.5 9.6h0m64.8 0h0m22.1 0h0m25.5 0h0m22.1 0h0m23.1 0h0m-122.9 11.6h0m16.7 0h0m20.5 0h0m20.2 0h0m16.5 0h0m19.2 0h0m42 0h0m132.7 0h0m-271.3 9.6h0m21.5 0h0m16 0h0m20.2 0h0m21.5 0h0m31.2 0h0m39.9 0h0m-174.4 9.7h0m32.7 0h0m25.7 0h0m24.9 0h0m25.6 0h0m134.1 0h0m-297.6 9.6h0m9.1 0h0m7.4 0h0m7.2 0h0m5.6 0h0m6.5 0h0m5.1 0h0m4.3 0h0m5.9 0h0m5.5 0h0m4.8 0h0m4.7 0h0m4.7 0h0m4.2 0h0m4.8 0h0m5.1 0h0m3.6 0h0m5.9 0h0m5.5 0h0m5.4 0h0m4.6 0h0m4.9 0h0m4.2 0h0m4.7 0h0m3.9 0h0m5.4 0h0m5.1 0h0m5.9 0h0m5.6 0h0m4.8 0h0m4.7 0h0m4.6 0h0m4.7 0h0m3.8 0h0m5.1 0h0m5.5 0h0m4.9 0h0m4.8 0h0m5.4 0h0m4.3 0h0m4.9 0h0m4.8 0h0m4.3 0h0m4.8 0h0m3.1 0h0m5.3 0h0m5.6 0h0m5 0h0m6.7 0h0m9 0h0m6.5 0h0m7.5 0h0m9.9 0h0m17.1 0h0m19.2 0h0m40.4 0h0m-331.5 9.7h0m25.3 0h0m23.4 0h0m22.3 0h0m25 0h0m23.2 0h0m26.3 0h0m22.1 0h0m128.4 0h0m-270.2 9.6h0m20.1 0h0m19.3 0h0m19.4 0h0m19.9 0h0m20.9 0h0m-152.8 11.6h0m41.1 0h0m18.2 0h0m15.6 0h0m17.3 0h0m19.3 0h0m27.3 0h0m67.5 0h0m-225.2 9.7h0m8.4 0h0m7.4 0h0m7.5 0h0m7.4 0h0m4.5 0h0m5 0h0m5.2 0h0m3.9 0h0m5.2 0h0m4.7 0h0m4.9 0h0m4.4 0h0m4 0h0m4.5 0h0m5 0h0m4.2 0h0m4.8 0h0m5.2 0h0m3.8 0h0m4.1 0h0m5.3 0h0m5.2 0h0m3.5 0h0m5 0h0m4.9 0h0m4.9 0h0m4.8 0h0m6 0h0m5.3 0h0m4.7 0h0m3.8 0h0m5 0h0m3.9 0h0m4.6 0h0m4.6 0h0m4.5 0h0m4 0h0m4 0h0m5.6 0h0m4.1 0h0m4.8 0h0m3.8 0h0m3.8 0h0m4 0h0m4.9 0h0m7 0h0m5.9 0h0m5.1 0h0m5.3 0h0m3.7 0h0m4.6 0h0m6.2 0h0m5.8 0h0m6.1 0h0m4.6 0h0m7.3 0h0m5.9 0h0m8.6 0h0m12.3 0h0m25.3 0h0m37.9 0h0m-333.8 9.6h0m15.1 0h0m16.4 0h0m15.7 0h0m17 0h0m16.2 0h0m16.5 0h0m17.1 0h0m105.8 0h0m-232 9.7h0m19.1 0h0m16.2 0h0m9.4 0h0m13.2 0h0m12.6 0h0m13.7 0h0m30.3 0h0m-111.6 9.6h0m11.8 0h0m11.2 0h0m12 0h0m13.9 0h0m12.5 0h0m18 0h0m31.4 0h0m177.3 0h0m-325.3 9.7h0m5.3 0h0m5.3 0h0m4.3 0h0m4.6 0h0m5.3 0h0m5.2 0h0m4.6 0h0m3.9 0h0m4.4 0h0m3.5 0h0m4.1 0h0m4.1 0h0m4.9 0h0m5.1 0h0m5.1 0h0m4.5 0h0m4.1 0h0m4.7 0h0m4.3 0h0m4.2 0h0m5.1 0h0m3.9 0h0m4.5 0h0m4.3 0h0m5.1 0h0m5.5 0h0m4.5 0h0m4.7 0h0m3.5 0h0m4.8 0h0m4.3 0h0m4.8 0h0m5.2 0h0m5 0h0m3.8 0h0m3.8 0h0m4.2 0h0m5.3 0h0m4.7 0h0m4 0h0m4 0h0m4.1 0h0m5.5 0h0m4.5 0h0m5.2 0h0m6.1 0h0m6.3 0h0m7.1 0h0m8.4 0h0m7.8 0h0m9 0h0m8 0h0m23.8 0h0m54.1 0h0m-307.8 9.6h0m25 0h0m22.2 0h0m21.3 0h0m29.5 0h0m123.7 0h0m-233.2 11.6h0m23.5 0h0m14.8 0h0m17.1 0h0m18.4 0h0m46.1 0h0m-134.8 9.7h0m4.4 0h0m4.1 0h0m3.7 0h0m4.9 0h0m4.9 0h0m3.8 0h0m4 0h0m5.5 0h0m5.2 0h0m4.5 0h0m4.4 0h0m6.4 0h0m4.3 0h0m4.4 0h0m5.6 0h0m4.3 0h0m3.4 0h0m4.6 0h0m6.1 0h0m5 0h0m6.2 0h0m5.2 0h0m5 0h0m4 0h0m4.9 0h0m4.5 0h0m5.2 0h0m4.9 0h0m5.1 0h0m4.2 0h0m3.6 0h0m3.5 0h0m5.3 0h0m4.4 0h0m4.6 0h0m4.4 0h0m4.7 0h0m4.3 0h0m5 0h0m5.7 0h0m6.2 0h0m10 0h0m15.2 0h0m15 0h0m13.7 0h0m36.3 0h0m107.9 0h0m-328.4 10.2h0m-61.3 9.1h0m6 0h0m4.7 0h0m4 0h0m4.3 0h0m5.8 0h0m4.7 0h0m4.9 0h0m5.1 0h0m4.5 0h0m5 0h0m4.3 0h0m4.9 0h0m5 0h0m3.8 0h0m5.9 0h0m5.4 0h0m4.8 0h0m5.4 0h0m4.6 0h0m5.6 0h0m4.6 0h0m3.8 0h0m3.7 0h0m4.7 0h0m4.2 0h0m3.5 0h0m4.5 0h0m4.9 0h0m4 0h0m4.5 0h0m4.7 0h0m5.4 0h0m5.6 0h0m7 0h0m7.2 0h0m6.6 0h0m7.9 0h0m7.7 0h0m21.7 0h0m44.7 0h0"/>
<path d="M512.6 249.1h0m-78.4 79.1h0m88.4 40.5h0m-200.3 38.6h0m202.6 0h0m-180.1 40.6h0m81.9 19.3h0m-95.3 11.6h0m31 0h0m26.2 0h0m27.7 0h0m25.9 0h0m36.7 0h0m184.5 0h0m-318 9.6h0m-19.3 9.7h0m-2.3 9.6h0m47 9.7h0m-72.6 9.6h0m153.6 0h0m-159.3 9.7h0m174.3 0h0m62.6 0h0m-282.3 11.5h0m30.8 0h0m17.8 0h0m15.5 0h0m11.7 0h0m9.6 0h0m7.8 0h0m9.3 0h0m11.4 0h0m7.2 0h0m9.4 0h0m12 0h0m9.3 0h0m12.5 0h0m10.1 0h0m10.5 0h0m10.6 0h0m10.5 0h0m19.3 0h0m40.2 0h0m-116.9 9.7h0m-82.5 9.6h0m89.8 0h0m-117.4 9.7h0m95.4 0h0m-105.4 9.6h0m73.4 0h0m103.1 0h0m-174.1 9.7h0m70.2 0h0m64.9 0h0m-224.8 9.6h0m37.4 0h0m18.9 0h0m16.7 0h0m10.9 0h0m10.8 0h0m7.2 0h0m8.3 0h0m7.7 0h0m8.1 0h0m8.6 0h0m7.2 0h0m6.6 0h0m7.4 0h0m7.3 0h0m6 0h0m5.8 0h0m6.4 0h0m8.4 0h0m6.3 0h0m6.2 0h0m6.9 0h0m6.9 0h0m10.3 0h0m10.1 0h0m11.6 0h0m10.9 0h0m9 0h0m9.3 0h0m18.3 0h0m84.6 0h0m-291.6 11.6h0m42.9 0h0m34.2 0h0m-204.3 9.7h0m108.1 0h0m35.3 0h0m33.2 0h0m26.4 0h0m-134.6 9.6h0m46.9 0h0m34.2 0h0m42.8 0h0m-222.3 9.7h0m138.7 0h0m34.2 0h0m25.1 0h0m30 0h0m29.1 0h0m-125.8 9.6h0m35.7 0h0m25.8 0h0m33.5 0h0m-197.3 9.7h0m17 0h0m12.1 0h0m8.2 0h0m8.2 0h0m9.2 0h0m4.8 0h0m6.8 0h0m6.4 0h0m5.7 0h0m5.3 0h0m5.3 0h0m5.5 0h0m5.8 0h0m5 0h0m4.7 0h0m5.6 0h0m4.8 0h0m4.9 0h0m4.5 0h0m6.1 0h0m4.8 0h0m5.5 0h0m5.7 0h0m5.7 0h0m6 0h0m8.1 0h0m5.4 0h0m6.9 0h0m9.5 0h0m5.2 0h0m6.2 0h0m5.7 0h0m5.5 0h0m4.8 0h0m4.8 0h0m4.9 0h0m5.5 0h0m5.6 0h0m5.9 0h0m4.7 0h0m5.4 0h0m7.1 0h0m11.7 0h0m18.2 0h0m22.6 0h0m29.2 0h0m-321.2 9.6h0m66.1 0h0m20.7 0h0m25.2 0h0m22.5 0h0m23.4 0h0m-122.8 11.6h0m16.7 0h0m19.6 0h0m20.3 0h0m16.5 0h0m19.4 0h0m41.8 0h0m-138.3 9.6h0m21.5 0h0m16.3 0h0m20.3 0h0m21.4 0h0m31.6 0h0m39.7 0h0m-174.4 9.7h0m32 0h0m25.8 0h0m24.7 0h0m26.7 0h0m137.6 0h0m-302.1 9.6h0m8.9 0h0m7.7 0h0m6.9 0h0m5.6 0h0m6.5 0h0m5.1 0h0m4.8 0h0m5.7 0h0m5.2 0h0m4.8 0h0m4.7 0h0m4.7 0h0m4.4 0h0m4.8 0h0m4.9 0h0m3.7 0h0m6.2 0h0m5.2 0h0m5.4 0h0m4.6 0h0m4.9 0h0m4.1 0h0m4.8 0h0m3.9 0h0m5.5 0h0m5 0h0m6.3 0h0m5.1 0h0m4.9 0h0m4.8 0h0m4.5 0h0m4.6 0h0m4 0h0m5.2 0h0m5.2 0h0m5.1 0h0m4.7 0h0m5.4 0h0m4.2 0h0m5.2 0h0m4.6 0h0m4.3 0h0m4.7 0h0m3.4 0h0m5.3 0h0m5.3 0h0m5.2 0h0m6.9 0h0m8.7 0h0m6.6 0h0m7.9 0h0m9.3 0h0m17.2 0h0m19.2 0h0m41.2 0h0m-332 9.7h0m25.1 0h0m23.4 0h0m22.7 0h0m24.7 0h0m23.2 0h0m26.3 0h0m22.6 0h0m-142.2 9.6h0m20.6 0h0m18.6 0h0m19.9 0h0m19.7 0h0m21.2 0h0m-152.5 11.6h0m40.4 0h0m18.2 0h0m15.9 0h0m16.7 0h0m19.6 0h0m27.7 0h0m69.2 0h0m-227.6 9.7h0m9 0h0m6.7 0h0m7.7 0h0m7.3 0h0m4.6 0h0m4.8 0h0m5.3 0h0m3.8 0h0m5.2 0h0m4.8 0h0m5 0h0m4.4 0h0m3.8 0h0m4.6 0h0m4.9 0h0m4.4 0h0m4.7 0h0m5.1 0h0m3.9 0h0m4.5 0h0m4.8 0h0m5.2 0h0m3.6 0h0m5 0h0m4.8 0h0m5 0h0m4.8 0h0m6.2 0h0m5.4 0h0m4.4 0h0m4 0h0m4.8 0h0m3.9 0h0m4.6 0h0m4.5 0h0m4.5 0h0m4.1 0h0m4.4 0h0m5.1 0h0m4.3 0h0m4.6 0h0m4 0h0m3.7 0h0m3.9 0h0m5.2 0h0m6.7 0h0m6.2 0h0m4.9 0h0m5.3 0h0m3.6 0h0m5.2 0h0m5.9 0h0m5.7 0h0m6.2 0h0m4.6 0h0m7.1 0h0m6.3 0h0m8.7 0h0m11.7 0h0m26 0h0m39.4 0h0m-335.9 9.6h0m15.1 0h0m16.5 0h0m15.6 0h0m16.9 0h0m16.6 0h0m17.4 0h0m16.5 0h0m121.6 0h0m-246.8 9.7h0m17.4 0h0m16.3 0h0m9.7 0h0m13 0h0m12.5 0h0m13.7 0h0m31.3 0h0m-112.5 9.6h0m11.7 0h0m11.5 0h0m12 0h0m13.6 0h0m12.7 0h0m18.6 0h0m30.5 0h0m-147.9 9.7h0m5.3 0h0m5.2 0h0m4.4 0h0m4.5 0h0m5.3 0h0m5.3 0h0m4.5 0h0m3.9 0h0m4.4 0h0m3.6 0h0m4.1 0h0m4 0h0m4.9 0h0m5.3 0h0m5.1 0h0m4.3 0h0m4.1 0h0m4.7 0h0m4.4 0h0m4.1 0h0m5.3 0h0m3.8 0h0m4.5 0h0m4.5 0h0m4.9 0h0m5.5 0h0m4.4 0h0m4.8 0h0m3.4 0h0m4.8 0h0m4.4 0h0m4.8 0h0m5.4 0h0m4.8 0h0m3.7 0h0m3.9 0h0m4.2 0h0m5.4 0h0m4.6 0h0m3.9 0h0m4.3 0h0m3.8 0h0m5.5 0h0m4.5 0h0m5.2 0h0m6.3 0h0m6.2 0h0m7 0h0m8.5 0h0m8 0h0m8.7 0h0m8.6 0h0m23.8 0h0m55.3 0h0m-308.4 9.6h0m24.1 0h0m22.3 0h0m22.1 0h0m28.9 0h0m168.2 0h0m-278 11.6h0m23.5 0h0m14.7 0h0m17.2 0h0m18.1 0h0m46.5 0h0m-135.1 9.7h0m4.4 0h0m4.2 0h0m3.6 0h0m4.8 0h0m5 0h0m3.7 0h0m4 0h0m5.7 0h0m5.1 0h0m4.6 0h0m4.2 0h0m6.5 0h0m4.2 0h0m4.4 0h0m5.7 0h0m4.3 0h0m3.4 0h0m4.5 0h0m6.3 0h0m4.8 0h0m6.3 0h0m5.2 0h0m4.9 0h0m4.3 0h0m4.7 0h0m4.6 0h0m5.2 0h0m4.7 0h0m5.1 0h0m4.2 0h0m3.6 0h0m3.5 0h0m5.4 0h0m4.3 0h0m4.7 0h0m4.5 0h0m4.5 0h0m4.3 0h0m5.1 0h0m5.7 0h0m6.1 0h0m10.1 0h0m15.3 0h0m14.8 0h0m13.9 0h0m36.7 0h0m130.2 0h0m-347.5 10.2h0m-65 9.1h0m6.4 0h0m4.3 0h0m3.9 0h0m4.4 0h0m5.9 0h0m4.7 0h0m4.8 0h0m5.1 0h0m4.5 0h0m5.1 0h0m4.4 0h0m4.6 0h0m5 0h0m3.9 0h0m5.9 0h0m5.4 0h0m4.8 0h0m5.4 0h0m4.6 0h0m5.5 0h0m4.7 0h0m3.7 0h0m3.8 0h0m4.8 0h0m4.1 0h0m3.4 0h0m4.7 0h0m4.8 0h0m4 0h0m4.8 0h0m4.4 0h0m5.3 0h0m5.6 0h0m7.2 0h0m7.1 0h0m6.7 0h0m7.8 0h0m7.9 0h0m21.7 0h0m45.1 0h0"/>
<path d="M522.6 249.1h0m-81.7 79.1h0m98.3 40.5h0m-213.6 38.6h0m210.9 0h0m-191.2 40.6h0m82.8 19.3h0m-90 11.6h0m26.5 0h0m25.2 0h0m27 0h0m26 0h0m38 0h0m241.8 0h0m-371.6 9.6h0m-10.2 9.7h0m-15.6 9.6h0m46.4 9.7h0m-70 9.6h0m159.9 0h0m-167.4 9.7h0m179.5 0h0m-226.5 11.5h0m30.9 0h0m17.7 0h0m15.6 0h0m11.9 0h0m9.6 0h0m7.8 0h0m9 0h0m11.5 0h0m7.5 0h0m9.1 0h0m11.9 0h0m9.3 0h0m12.6 0h0m10.1 0h0m10.4 0h0m10.7 0h0m11.5 0h0m18.5 0h0m41.5 0h0m24.4 0h0m-142 9.7h0m-81.3 9.6h0m91.3 0h0m-118.4 9.7h0m95.7 0h0m-106.3 9.6h0m72.6 0h0m108.1 0h0m-176.3 9.7h0m66.4 0h0m75.9 0h0m-234.4 9.6h0m36.8 0h0m18.1 0h0m17 0h0m11.8 0h0m9.5 0h0m7.2 0h0m8.2 0h0m7.7 0h0m8.2 0h0m8.9 0h0m7 0h0m6.5 0h0m7.3 0h0m7.4 0h0m6 0h0m5.8 0h0m6.4 0h0m8.4 0h0m6.4 0h0m6 0h0m7.1 0h0m6.8 0h0m10.5 0h0m10.7 0h0m10.8 0h0m11.5 0h0m8.4 0h0m9.2 0h0m18.7 0h0m92.9 0h0m-300 11.6h0m42.7 0h0m34.2 0h0m-203.3 9.7h0m107.8 0h0m35.3 0h0m32.6 0h0m26.8 0h0m-134.8 9.6h0m48 0h0m33.5 0h0m42.9 0h0m-204.2 9.7h0m120.5 0h0m34 0h0m25.1 0h0m30.2 0h0m29.4 0h0m-126 9.6h0m35.6 0h0m25.6 0h0m33.2 0h0m-197.5 9.7h0m16.9 0h0m12.2 0h0m8.1 0h0m8.4 0h0m9.1 0h0m4.9 0h0m6.9 0h0m6.1 0h0m5.8 0h0m5.3 0h0m5.2 0h0m5.5 0h0m5.9 0h0m5.1 0h0m4.6 0h0m5.6 0h0m4.8 0h0m4.8 0h0m4.9 0h0m5.7 0h0m4.8 0h0m5.8 0h0m5.6 0h0m5.7 0h0m5.9 0h0m8 0h0m5.6 0h0m6.8 0h0m9.6 0h0m5.5 0h0m5.8 0h0m5.6 0h0m5.8 0h0m4.5 0h0m5 0h0m4.8 0h0m5.4 0h0m5.7 0h0m5.8 0h0m4.8 0h0m5.4 0h0m7 0h0m11.8 0h0m18.4 0h0m22.7 0h0m29 0h0m-319.5 9.6h0m64.7 0h0m20.6 0h0m25 0h0m22.3 0h0m23.8 0h0m-123.2 11.6h0m16.7 0h0m19.9 0h0m20.2 0h0m17 0h0m18.7 0h0m42 0h0m-135.8 9.6h0m18.9 0h0m16.5 0h0m20.2 0h0m22 0h0m31.4 0h0m41.1 0h0m-176.4 9.7h0m33.8 0h0m24.2 0h0m24.9 0h0m26.8 0h0m161.4 0h0m-326.2 9.6h0m8.8 0h0m8.2 0h0m6.3 0h0m5.9 0h0m6.2 0h0m5.1 0h0m4.8 0h0m5.9 0h0m5.2 0h0m4.6 0h0m4.7 0h0m4.7 0h0m4.5 0h0m5.2 0h0m4.5 0h0m3.6 0h0m6.4 0h0m5.2 0h0m5.3 0h0m4.6 0h0m4.8 0h0m4.3 0h0m4.7 0h0m3.8 0h0m5.7 0h0m4.8 0h0m6.4 0h0m5.1 0h0m4.9 0h0m4.8 0h0m4.4 0h0m4.8 0h0m3.8 0h0m5.3 0h0m5.2 0h0m5.1 0h0m4.6 0h0m5.4 0h0m4.4 0h0m5.3 0h0m4.3 0h0m4.3 0h0m4.7 0h0m3.5 0h0m5.5 0h0m5.1 0h0m5.3 0h0m6.8 0h0m8.7 0h0m6.9 0h0m7.6 0h0m9.2 0h0m17.2 0h0m19.4 0h0m41.6 0h0m-332.4 9.7h0m25.1 0h0m23.2 0h0m23.8 0h0m23.9 0h0m23.2 0h0m26.5 0h0m22.2 0h0m-142.1 9.6h0m20.4 0h0m18.6 0h0m20.4 0h0m19.4 0h0m23.7 0h0m-154.9 11.6h0m40.5 0h0m18.4 0h0m16.6 0h0m15.6 0h0m19.7 0h0m27.9 0h0m69.4 0h0m-228.1 9.7h0m9 0h0m6.9 0h0m7.3 0h0m7.4 0h0m4.5 0h0m5.6 0h0m4.7 0h0m3.8 0h0m5 0h0m4.9 0h0m4.9 0h0m4.6 0h0m3.7 0h0m4.5 0h0m5.1 0h0m4.3 0h0m5.1 0h0m4.6 0h0m4 0h0m4.4 0h0m4.9 0h0m5.3 0h0m3.4 0h0m5.1 0h0m4.7 0h0m5.2 0h0m5 0h0m6 0h0m5.4 0h0m4.3 0h0m4.1 0h0m4.8 0h0m3.7 0h0m4.6 0h0m4.6 0h0m4.4 0h0m4.1 0h0m4.5 0h0m5.1 0h0m4.2 0h0m4.7 0h0m4 0h0m3.8 0h0m4 0h0m5 0h0m6.7 0h0m6.1 0h0m4.9 0h0m5.3 0h0m3.8 0h0m5.2 0h0m6.1 0h0m5.6 0h0m6 0h0m4.6 0h0m7.1 0h0m6.3 0h0m8.6 0h0m11.9 0h0m25.9 0h0m43.2 0h0m-339.8 9.6h0m16 0h0m16 0h0m15.5 0h0m17 0h0m16.3 0h0m17.3 0h0m17.5 0h0m134 0h0m-259 9.7h0m16.3 0h0m16.4 0h0m9.5 0h0m14.2 0h0m11.4 0h0m14.8 0h0m30.6 0h0m-141.2 9.6h0m28.3 0h0m11.9 0h0m11.4 0h0m12.7 0h0m14.1 0h0m11.3 0h0m18.8 0h0m30.8 0h0m-148.2 9.7h0m5.2 0h0m5.2 0h0m4.4 0h0m4.5 0h0m5.4 0h0m5.1 0h0m4.5 0h0m3.9 0h0m4.4 0h0m3.7 0h0m4.1 0h0m4 0h0m4.9 0h0m5.3 0h0m5.1 0h0m4.2 0h0m4.4 0h0m4.5 0h0m4.3 0h0m4.1 0h0m5.4 0h0m3.7 0h0m4.6 0h0m4.6 0h0m4.9 0h0m5.3 0h0m4.4 0h0m4.8 0h0m3.4 0h0m4.9 0h0m4.4 0h0m4.7 0h0m5.4 0h0m4.9 0h0m3.8 0h0m3.7 0h0m4.2 0h0m5.5 0h0m4.6 0h0m3.9 0h0m4.4 0h0m3.9 0h0m5.2 0h0m4.5 0h0m5.3 0h0m6.4 0h0m6.2 0h0m7.1 0h0m8.3 0h0m7.9 0h0m10 0h0m7.5 0h0m26.9 0h0m55 0h0m-310.9 9.6h0m23.7 0h0m22.4 0h0m22 0h0m29 0h0m239.7 0h0m-348.8 11.6h0m22.8 0h0m15.1 0h0m16.6 0h0m18.9 0h0m47.9 0h0m-137.3 9.7h0m4.4 0h0m4.2 0h0m4 0h0m4.4 0h0m5.1 0h0m3.6 0h0m4.1 0h0m5.8 0h0m4.9 0h0m4.6 0h0m4.3 0h0m6.6 0h0m4.2 0h0m4.3 0h0m5.6 0h0m4.4 0h0m3.4 0h0m4.6 0h0m6.2 0h0m4.7 0h0m6.4 0h0m5.1 0h0m4.9 0h0m4.4 0h0m4.7 0h0m4.6 0h0m5.3 0h0m4.5 0h0m5.2 0h0m4.2 0h0m3.6 0h0m3.5 0h0m5.4 0h0m4.2 0h0m5 0h0m4.2 0h0m4.6 0h0m4.2 0h0m5.4 0h0m5.4 0h0m6.3 0h0m10 0h0m15.7 0h0m15.1 0h0m13.2 0h0m37.5 0h0m150.2 0h0m-365.6 10.2h0m-67.7 9.1h0m6.3 0h0m4.4 0h0m3.9 0h0m4.6 0h0m5.8 0h0m4.5 0h0m4.9 0h0m5 0h0m4.6 0h0m5.1 0h0m4.3 0h0m4.7 0h0m5 0h0m3.9 0h0m5.9 0h0m5.3 0h0m4.8 0h0m5.5 0h0m4.5 0h0m5.6 0h0m4.6 0h0m3.8 0h0m3.7 0h0m5 0h0m3.9 0h0m3.5 0h0m5 0h0m4.4 0h0m4.1 0h0m4.9 0h0m4.3 0h0m5.3 0h0m5.5 0h0m7.5 0h0m6.9 0h0m6.6 0h0m8.2 0h0m7.9 0h0m21.8 0h0m46.6 0h0"/>
<path d="M534.9 249.1h0m-94 79.1h0m158.1 40.5h0m-266.1 38.6h0m203.6 0h0m-189.9 40.6h0m81.9 19.3h0m-89 11.6h0m25.1 0h0m25.9 0h0m26.9 0h0m25.5 0h0m38.8 0h0m240.9 0h0m-370.1 9.6h0m-7.8 9.7h0m-15.9 9.6h0m47.5 9.7h0m-68.2 9.6h0m155.2 0h0m-162.2 9.7h0m-53.8 11.5h0m31.3 0h0m17.5 0h0m15.4 0h0m11.7 0h0m10 0h0m7.6 0h0m9.3 0h0m11 0h0m7.5 0h0m9.3 0h0m11.7 0h0m9.5 0h0m12.9 0h0m9.6 0h0m10.5 0h0m10.7 0h0m11.7 0h0m18.3 0h0m41.8 0h0m28.2 0h0m-143.9 9.7h0m-83.2 9.6h0m94.2 0h0m-113.5 9.7h0m89 0h0m-107.3 9.6h0m75.5 0h0m113.2 0h0m-184.3 9.7h0m67.4 0h0m75.8 0h0m-234.9 9.6h0m36.1 0h0m18.4 0h0m16.9 0h0m11.4 0h0m9.6 0h0m7.1 0h0m8.3 0h0m7.7 0h0m8.4 0h0m8.6 0h0m7.1 0h0m6.6 0h0m7.2 0h0m7.3 0h0m6.3 0h0m5.5 0h0m6.5 0h0m8.3 0h0m6.4 0h0m6.2 0h0m7.2 0h0m6.7 0h0m10.7 0h0m11.1 0h0m10.1 0h0m11.4 0h0m8.7 0h0m9.3 0h0m18.6 0h0m92.6 0h0m-299.6 11.6h0m42.7 0h0m35.5 0h0m-204 9.7h0m107.9 0h0m35 0h0m32.5 0h0m26.3 0h0m-130 9.6h0m43.8 0h0m33.1 0h0m42.8 0h0m-204.1 9.7h0m120.6 0h0m33.8 0h0m25.4 0h0m30.3 0h0m29.1 0h0m-124.6 9.6h0m33.8 0h0m26.6 0h0m32.4 0h0m-197.5 9.7h0m17 0h0m12 0h0m8.1 0h0m8.6 0h0m8.9 0h0m4.9 0h0m6.9 0h0m6.3 0h0m5.5 0h0m5.5 0h0m5 0h0m5.6 0h0m5.8 0h0m5.1 0h0m4.8 0h0m5.6 0h0m4.7 0h0m4.8 0h0m4.8 0h0m5.7 0h0m4.9 0h0m5.7 0h0m5.7 0h0m5.7 0h0m5.8 0h0m8.1 0h0m5.5 0h0m6.9 0h0m9.6 0h0m5.4 0h0m6.1 0h0m5.4 0h0m5.9 0h0m4.4 0h0m5 0h0m4.8 0h0m5.4 0h0m6.1 0h0m5.5 0h0m4.6 0h0m5.5 0h0m6.9 0h0m12.2 0h0m18.2 0h0m22.8 0h0m29.1 0h0m-318.7 9.6h0m63.9 0h0m20.4 0h0m25.8 0h0m21.4 0h0m24.5 0h0m-123.7 11.6h0m16.8 0h0m19.7 0h0m20 0h0m17.3 0h0m20.1 0h0m42.6 0h0m-137.8 9.6h0m18.9 0h0m16.3 0h0m20.6 0h0m21.8 0h0m31.5 0h0m41.2 0h0m-176.5 9.7h0m33.6 0h0m24.4 0h0m24.6 0h0m27.5 0h0m174.3 0h0m-339.6 9.6h0m8.6 0h0m8.1 0h0m6.5 0h0m5.8 0h0m6.3 0h0m5 0h0m4.9 0h0m5.8 0h0m5.2 0h0m4.8 0h0m4.6 0h0m4.5 0h0m4.5 0h0m5.2 0h0m4.8 0h0m3.5 0h0m6.2 0h0m5.2 0h0m5.4 0h0m4.6 0h0m5 0h0m4.1 0h0m4.7 0h0m4.4 0h0m5.2 0h0m4.7 0h0m6.6 0h0m4.8 0h0m5 0h0m4.7 0h0m4.4 0h0m4.9 0h0m3.7 0h0m5.6 0h0m4.9 0h0m5.2 0h0m4.5 0h0m5.5 0h0m4.4 0h0m5.3 0h0m4.2 0h0m4.5 0h0m4.6 0h0m3.5 0h0m5.5 0h0m5 0h0m5.4 0h0m6.9 0h0m8.6 0h0m7.2 0h0m7.2 0h0m9.3 0h0m17.1 0h0m19.7 0h0m42 0h0m-332.9 9.7h0m25 0h0m23.6 0h0m23.5 0h0m24.1 0h0m24.7 0h0m24.6 0h0m23.4 0h0m-142.7 9.6h0m20.3 0h0m18.4 0h0m21.3 0h0m18.4 0h0m24.5 0h0m-155.8 11.6h0m40.6 0h0m18.3 0h0m16.6 0h0m15.5 0h0m20.2 0h0m28.1 0h0m71.3 0h0m-229.6 9.7h0m8.1 0h0m6.8 0h0m7.5 0h0m7.1 0h0m4.5 0h0m5.8 0h0m4.5 0h0m4.1 0h0m4.8 0h0m4.9 0h0m4.8 0h0m4.9 0h0m3.4 0h0m4.5 0h0m5.3 0h0m4.2 0h0m5.1 0h0m4.5 0h0m4.1 0h0m4.4 0h0m4.8 0h0m5.3 0h0m3.7 0h0m4.8 0h0m4.7 0h0m5.3 0h0m5 0h0m5.9 0h0m5.4 0h0m4.4 0h0m4 0h0m4.8 0h0m3.8 0h0m4.6 0h0m4.6 0h0m4.4 0h0m4.1 0h0m4.7 0h0m4.8 0h0m4.3 0h0m4.6 0h0m4 0h0m3.8 0h0m4.2 0h0m4.8 0h0m6.7 0h0m6.1 0h0m5.1 0h0m5.2 0h0m4 0h0m4.9 0h0m6.2 0h0m5.6 0h0m5.9 0h0m4.7 0h0m7.1 0h0m6.2 0h0m8.7 0h0m12.2 0h0m26.5 0h0m44.6 0h0m-341.7 9.6h0m16.1 0h0m15.5 0h0m15.5 0h0m17.8 0h0m16.2 0h0m16.6 0h0m18.5 0h0m-126 9.7h0m16.2 0h0m16.4 0h0m9.7 0h0m14 0h0m12.1 0h0m14.2 0h0m32.6 0h0m-143.1 9.6h0m28.3 0h0m11.8 0h0m11.6 0h0m12.7 0h0m14.3 0h0m11.4 0h0m18.4 0h0m31.2 0h0m-148.8 9.7h0m5.2 0h0m5.3 0h0m4.3 0h0m4.5 0h0m5.6 0h0m5.1 0h0m4.6 0h0m3.8 0h0m4.3 0h0m3.7 0h0m4.1 0h0m4 0h0m4.8 0h0m5.3 0h0m5.3 0h0m4.1 0h0m4.4 0h0m4.4 0h0m4.3 0h0m4.2 0h0m5.4 0h0m3.7 0h0m4.5 0h0m4.8 0h0m4.7 0h0m5.4 0h0m4.3 0h0m4.8 0h0m3.4 0h0m5 0h0m4.3 0h0m4.8 0h0m5.4 0h0m4.9 0h0m3.7 0h0m3.8 0h0m4.3 0h0m5.4 0h0m4.5 0h0m3.9 0h0m4.4 0h0m3.9 0h0m5.3 0h0m4.5 0h0m5.3 0h0m6.3 0h0m6.2 0h0m7.2 0h0m8.3 0h0m7.9 0h0m10.8 0h0m7.1 0h0m27.5 0h0m54.9 0h0m-311.1 9.6h0m23.3 0h0m22.1 0h0m22 0h0m29.4 0h0m-109.5 11.6h0m23 0h0m15 0h0m16.6 0h0m20.6 0h0m46.8 0h0m-138.1 9.7h0m4.5 0h0m4.4 0h0m3.8 0h0m4.5 0h0m5 0h0m3.6 0h0m4.2 0h0m5.6 0h0m4.9 0h0m4.6 0h0m4.3 0h0m6.7 0h0m4.1 0h0m4.5 0h0m5.4 0h0m4.4 0h0m3.4 0h0m4.6 0h0m6.2 0h0m4.9 0h0m6.5 0h0m5 0h0m4.7 0h0m4.6 0h0m4.5 0h0m4.7 0h0m5.2 0h0m4.6 0h0m5.2 0h0m4.1 0h0m3.6 0h0m3.5 0h0m5.5 0h0m4.2 0h0m4.9 0h0m4.2 0h0m4.6 0h0m4.3 0h0m5.5 0h0m5.4 0h0m6.3 0h0m9.8 0h0m15.9 0h0m15 0h0m13.2 0h0m38.6 0h0m169 0h0m-381.6 10.2h0m-71.5 9.1h0m6.2 0h0m4.3 0h0m4 0h0m4.7 0h0m5.6 0h0m4.6 0h0m4.8 0h0m5.3 0h0m4.4 0h0m5.1 0h0m4.2 0h0m4.7 0h0m5.1 0h0m3.9 0h0m6.1 0h0m5.1 0h0m4.8 0h0m5.5 0h0m4.5 0h0m5.6 0h0m4.6 0h0m3.8 0h0m3.9 0h0m4.7 0h0m4.1 0h0m3.3 0h0m5.1 0h0m4.3 0h0m4.1 0h0m5 0h0m4.4 0h0m5.2 0h0m5.4 0h0m7.6 0h0m7 0h0m7.2 0h0m7.4 0h0m8 0h0m22.5 0h0m45.8 0h0"/>
<path d="M534.9 249.1h0m-92.4 79.1h0m182.1 40.5h0m-285.7 38.6h0m204.3 0h0m-196.4 40.6h0m84.5 19.3h0m-91.8 11.6h0m25.4 0h0m25.7 0h0m26.9 0h0m26.6 0h0m38.9 0h0m-129 9.6h0m144.8 0h0m-153.6 9.7h0m-13.9 9.6h0m47.1 9.7h0m-55.2 9.6h0m141.8 0h0m-163.1 9.7h0m-53.9 11.5h0m31.9 0h0m16.3 0h0m15.4 0h0m11.6 0h0m10 0h0m7.8 0h0m9.5 0h0m10.7 0h0m7.6 0h0m9.1 0h0m11.9 0h0m9.5 0h0m13.1 0h0m9.5 0h0m10.3 0h0m10.6 0h0m11.9 0h0m18.5 0h0m41.5 0h0m33.6 0h0m-148.7 9.7h0m-83.9 9.6h0m96.6 0h0m-114.8 9.7h0m88.3 0h0m-103.1 9.6h0m76.5 0h0m111.7 0h0m-188.2 9.7h0m68.8 0h0m114.7 0h0m-275.4 9.6h0m36.3 0h0m18.3 0h0m16.9 0h0m11.5 0h0m9.5 0h0m7.1 0h0m8.5 0h0m7.4 0h0m8.5 0h0m8.5 0h0m7.2 0h0m6.8 0h0m7 0h0m7.2 0h0m6.3 0h0m5.6 0h0m6.7 0h0m8.5 0h0m6 0h0m6.3 0h0m7 0h0m6.7 0h0m10.8 0h0m11.2 0h0m10 0h0m11.3 0h0m8.7 0h0m9.6 0h0m19.4 0h0m91.5 0h0m-299.4 11.6h0m42.8 0h0m36.7 0h0m-194.5 9.7h0m97.1 0h0m35 0h0m32.4 0h0m26.3 0h0m-123.5 9.6h0m39.7 0h0m30.9 0h0m43.2 0h0m-157.5 9.7h0m75.9 0h0m31.4 0h0m25.7 0h0m30 0h0m30.1 0h0m-125.1 9.6h0m33.2 0h0m26.7 0h0m33.3 0h0m-197.9 9.7h0m16.4 0h0m12.2 0h0m7.9 0h0m8.7 0h0m8.7 0h0m5 0h0m6.8 0h0m6.4 0h0m5.4 0h0m5.6 0h0m4.9 0h0m5.7 0h0m5.8 0h0m5.1 0h0m4.8 0h0m5.6 0h0m4.9 0h0m4.5 0h0m4.9 0h0m5.6 0h0m5.1 0h0m5.8 0h0m5.5 0h0m5.8 0h0m6.1 0h0m7.8 0h0m5.4 0h0m6.9 0h0m9.6 0h0m5.5 0h0m6 0h0m5.4 0h0m5.8 0h0m4.4 0h0m5 0h0m5.1 0h0m5.3 0h0m5.9 0h0m5.5 0h0m4.7 0h0m5.5 0h0m6.9 0h0m12.3 0h0m19.6 0h0m21.9 0h0m28.6 0h0m-318.9 9.6h0m64.1 0h0m20.6 0h0m26 0h0m21.7 0h0m23.6 0h0m-123.7 11.6h0m16.9 0h0m19.8 0h0m21.6 0h0m15.9 0h0m21.6 0h0m40.9 0h0m-211.4 9.6h0m73.9 0h0m18.7 0h0m16.8 0h0m19.9 0h0m22.2 0h0m31.4 0h0m43.7 0h0m-178.9 9.7h0m33.4 0h0m24.2 0h0m25.7 0h0m26.5 0h0m-165.1 9.6h0m8.9 0h0m7.6 0h0m6.4 0h0m5.8 0h0m6.3 0h0m5 0h0m4.8 0h0m5.8 0h0m5.3 0h0m4.9 0h0m4.9 0h0m4.1 0h0m4.5 0h0m5.3 0h0m4.8 0h0m3.3 0h0m6.2 0h0m5.3 0h0m5.4 0h0m4.7 0h0m4.9 0h0m4.1 0h0m4.7 0h0m4.6 0h0m4.9 0h0m4.8 0h0m6.8 0h0m4.5 0h0m5.1 0h0m4.8 0h0m4.6 0h0m4.5 0h0m4.1 0h0m5.3 0h0m4.9 0h0m5.2 0h0m4.9 0h0m5 0h0m4.5 0h0m5.2 0h0m4.2 0h0m4.5 0h0m4.7 0h0m3.5 0h0m5.6 0h0m4.9 0h0m5.4 0h0m6.8 0h0m8.7 0h0m7.3 0h0m7.2 0h0m9.6 0h0m16.6 0h0m20 0h0m44.4 0h0m-335.4 9.7h0m25 0h0m24.4 0h0m22.6 0h0m25.1 0h0m24.2 0h0m24.1 0h0m23.9 0h0m-142.8 9.6h0m19.8 0h0m18.5 0h0m22.2 0h0m17.4 0h0m24.8 0h0m-154.6 11.6h0m40.4 0h0m17.3 0h0m16.4 0h0m15.7 0h0m19.9 0h0m28.2 0h0m74.7 0h0m-232.9 9.7h0m8 0h0m6.8 0h0m7.6 0h0m7 0h0m4.5 0h0m5.8 0h0m4.4 0h0m4.1 0h0m5.1 0h0m4.6 0h0m4.9 0h0m4.8 0h0m3.5 0h0m4.5 0h0m5.2 0h0m4.2 0h0m5.3 0h0m4.4 0h0m4.1 0h0m4.6 0h0m4.5 0h0m5.5 0h0m3.6 0h0m4.7 0h0m4.7 0h0m5.5 0h0m4.9 0h0m5.9 0h0m5.4 0h0m4.3 0h0m4 0h0m4.9 0h0m3.8 0h0m4.6 0h0m4.7 0h0m4.3 0h0m4.1 0h0m4.7 0h0m4.8 0h0m4.4 0h0m4.4 0h0m4.3 0h0m3.6 0h0m4.1 0h0m4.9 0h0m6.8 0h0m6 0h0m5.2 0h0m5.2 0h0m3.8 0h0m4.9 0h0m6.3 0h0m5.6 0h0m5.8 0h0m5 0h0m7 0h0m6 0h0m9.1 0h0m12.2 0h0m26.4 0h0m-297.4 9.6h0m17.2 0h0m14.5 0h0m15.4 0h0m18.1 0h0m16.6 0h0m16.1 0h0m18.4 0h0m-125.9 9.7h0m16.4 0h0m16.1 0h0m9.7 0h0m14.5 0h0m11.6 0h0m14.2 0h0m34.2 0h0m-144.6 9.6h0m28.3 0h0m11.6 0h0m11.8 0h0m12.7 0h0m15.5 0h0m10 0h0m20.4 0h0m29.3 0h0m-148.9 9.7h0m5.2 0h0m5.4 0h0m4.4 0h0m4.3 0h0m6.1 0h0m4.7 0h0m4.6 0h0m3.8 0h0m4.2 0h0m3.8 0h0m4.1 0h0m3.9 0h0m4.8 0h0m5.3 0h0m5.3 0h0m4.1 0h0m4.7 0h0m4.1 0h0m4.3 0h0m4.2 0h0m5.5 0h0m3.7 0h0m4.7 0h0m4.5 0h0m4.8 0h0m5.4 0h0m4.2 0h0m5 0h0m3.3 0h0m4.9 0h0m4.4 0h0m4.8 0h0m5.5 0h0m4.7 0h0m3.9 0h0m3.6 0h0m4.3 0h0m5.5 0h0m4.4 0h0m4.1 0h0m4.2 0h0m4.3 0h0m5 0h0m4.5 0h0m5.3 0h0m6.4 0h0m6 0h0m7.2 0h0m8.3 0h0m8.5 0h0m10.2 0h0m7.4 0h0m28.2 0h0m61.7 0h0m-316.9 9.6h0m21.8 0h0m21.7 0h0m22.7 0h0m28.6 0h0m-109.3 11.6h0m23.2 0h0m15 0h0m16.7 0h0m23.3 0h0m44 0h0m-138.3 9.7h0m4.5 0h0m4.3 0h0m3.9 0h0m4.7 0h0m4.6 0h0m3.7 0h0m4.2 0h0m5.8 0h0m4.6 0h0m4.7 0h0m4.3 0h0m6.6 0h0m4.3 0h0m4.4 0h0m5.4 0h0m4.3 0h0m3.5 0h0m4.6 0h0m6.2 0h0m4.9 0h0m6.4 0h0m5 0h0m4.8 0h0m4.6 0h0m4.4 0h0m4.8 0h0m5.3 0h0m4.6 0h0m5.2 0h0m3.9 0h0m3.6 0h0m3.5 0h0m5.6 0h0m4.2 0h0m4.8 0h0m4.4 0h0m4.5 0h0m4.3 0h0m5.5 0h0m5.4 0h0m6.3 0h0m9.9 0h0m15.9 0h0m15.1 0h0m13 0h0m39 0h0m168.5 0h0m-381 10.2h0m-71.8 9.1h0m6 0h0m4.2 0h0m4 0h0m4.7 0h0m5.7 0h0m4.5 0h0m4.9 0h0m5.3 0h0m5.1 0h0m4.6 0h0m4 0h0m4.8 0h0m4.9 0h0m3.9 0h0m6.2 0h0m5.2 0h0m4.6 0h0m5.7 0h0m4.5 0h0m5.4 0h0m4.8 0h0m3.6 0h0m4 0h0m4.8 0h0m3.9 0h0m3.4 0h0m5.1 0h0m4.3 0h0m4.1 0h0m5 0h0m4.5 0h0m5.2 0h0m5.2 0h0m7.6 0h0m7.2 0h0m7.1 0h0m7.4 0h0m7.9 0h0m23.1 0h0m46.6 0h0"/>
<path d="M559.1 249.1h0m-108.3 79.1h0m-88.6 50.2h0m-6 28.9h0m187 0h0m-192.3 40.6h0m87.2 19.3h0m-98.3 11.6h0m28.4 0h0m22.8 0h0m26.7 0h0m27.6 0h0m38.6 0h0m-126.5 9.6h0m141.4 0h0m-149.7 9.7h0m-16.3 9.6h0m52.8 9.7h0m-58.7 9.6h0m140 0h0m-158.8 9.7h0m-59 11.5h0m31.1 0h0m18.2 0h0m13.3 0h0m12.2 0h0m9.7 0h0m7.6 0h0m9.3 0h0m11.5 0h0m7.2 0h0m8.9 0h0m11.8 0h0m9.6 0h0m13 0h0m9.6 0h0m10.3 0h0m10.4 0h0m13.1 0h0m17.4 0h0m41.6 0h0m45.5 0h0m-160.4 9.7h0m-84 9.6h0m107.9 0h0m-121 9.7h0m84.2 0h0m-103.3 9.6h0m76.3 0h0m119.2 0h0m-195.3 9.7h0m67.6 0h0m119.1 0h0m-279.3 9.6h0m35.9 0h0m19.7 0h0m16.3 0h0m10.7 0h0m9.3 0h0m7.1 0h0m8.6 0h0m7.6 0h0m8.2 0h0m8.6 0h0m7.3 0h0m6.9 0h0m6.9 0h0m7.1 0h0m6.3 0h0m5.5 0h0m6.7 0h0m8.7 0h0m6 0h0m6.2 0h0m7 0h0m6.6 0h0m10.9 0h0m11.2 0h0m9.9 0h0m11.5 0h0m8.8 0h0m9.3 0h0m21.3 0h0m92.2 0h0m-301.4 11.6h0m43.2 0h0m36 0h0m-191.8 9.7h0m94.2 0h0m36.1 0h0m31.5 0h0m26.7 0h0m-120.7 9.6h0m36.2 0h0m33.8 0h0m41.5 0h0m-158.6 9.7h0m78.1 0h0m29.2 0h0m25.6 0h0m30.6 0h0m31.7 0h0m-126.2 9.6h0m32.1 0h0m26.8 0h0m34 0h0m-198.4 9.7h0m16.2 0h0m12.1 0h0m8.2 0h0m8.8 0h0m8.5 0h0m4.8 0h0m6.9 0h0m6.4 0h0m5.6 0h0m5.3 0h0m5 0h0m6.1 0h0m5.4 0h0m5.4 0h0m4.5 0h0m5.5 0h0m4.9 0h0m4.8 0h0m4.6 0h0m5.7 0h0m5 0h0m5.9 0h0m5.4 0h0m5.9 0h0m6.2 0h0m7.7 0h0m5.3 0h0m7.4 0h0m9.3 0h0m5.3 0h0m6 0h0m5.5 0h0m5.8 0h0m4.4 0h0m5 0h0m5.1 0h0m5.5 0h0m5.8 0h0m5.8 0h0m4.2 0h0m6.1 0h0m6.3 0h0m12.6 0h0m19.3 0h0m22.4 0h0m28.5 0h0m-319 9.6h0m65.9 0h0m18.8 0h0m26.3 0h0m23.9 0h0m21 0h0m-123.8 11.6h0m16.8 0h0m20.3 0h0m21.5 0h0m15.9 0h0m23.1 0h0m39.1 0h0m-211.2 9.6h0m73.9 0h0m19.3 0h0m16 0h0m19.9 0h0m22.8 0h0m30.7 0h0m52.1 0h0m-185.1 9.7h0m31.3 0h0m24.1 0h0m26.3 0h0m26.9 0h0m-165.9 9.6h0m9 0h0m7.4 0h0m6.3 0h0m5.9 0h0m6.2 0h0m5.2 0h0m4.7 0h0m5.9 0h0m5.1 0h0m4.9 0h0m5 0h0m4.1 0h0m4.6 0h0m5.3 0h0m4.7 0h0m3.2 0h0m6.3 0h0m5.2 0h0m5.6 0h0m4.5 0h0m5 0h0m4.1 0h0m4.6 0h0m4.8 0h0m4.7 0h0m5 0h0m6.6 0h0m4.9 0h0m4.8 0h0m4.9 0h0m4.4 0h0m4.8 0h0m4 0h0m5.1 0h0m5.1 0h0m5 0h0m4.9 0h0m5.1 0h0m4.8 0h0m4.9 0h0m4.2 0h0m4.5 0h0m4.7 0h0m3.6 0h0m5.6 0h0m4.8 0h0m5.3 0h0m7 0h0m8.6 0h0m7.3 0h0m7.2 0h0m9.6 0h0m16.6 0h0m20.1 0h0m44.3 0h0m-333.4 9.7h0m23.1 0h0m24.4 0h0m22.5 0h0m25.8 0h0m24 0h0m23.7 0h0m24.8 0h0m-143.8 9.6h0m20.1 0h0m19 0h0m21.4 0h0m17.7 0h0m26.6 0h0m-156.2 11.6h0m39.9 0h0m17.6 0h0m16.3 0h0m15.9 0h0m19.6 0h0m28.5 0h0m76.4 0h0m-234.3 9.7h0m7.2 0h0m6.9 0h0m7.6 0h0m7.1 0h0m4.4 0h0m5.7 0h0m4.4 0h0m4.2 0h0m5.1 0h0m4.5 0h0m5 0h0m4.9 0h0m3.4 0h0m4.5 0h0m5.2 0h0m4.3 0h0m5.3 0h0m4.2 0h0m4.2 0h0m4.5 0h0m4.8 0h0m5.2 0h0m3.7 0h0m4.7 0h0m4.8 0h0m5.3 0h0m5.1 0h0m5.9 0h0m5.2 0h0m4.3 0h0m4.1 0h0m4.8 0h0m3.8 0h0m4.7 0h0m4.7 0h0m4.2 0h0m4.1 0h0m4.7 0h0m4.9 0h0m4.4 0h0m4.4 0h0m4.3 0h0m3.6 0h0m4 0h0m5 0h0m6.7 0h0m6.1 0h0m5.1 0h0m5.2 0h0m3.9 0h0m4.9 0h0m6.2 0h0m5.7 0h0m5.7 0h0m5.2 0h0m6.9 0h0m6 0h0m9 0h0m12.5 0h0m27.8 0h0m-298.8 9.6h0m17 0h0m14.6 0h0m15.4 0h0m18.2 0h0m16.4 0h0m16 0h0m19.4 0h0m-126.9 9.7h0m17.3 0h0m15.5 0h0m9.6 0h0m14.6 0h0m11.7 0h0m14.2 0h0m34.7 0h0m-144.2 9.6h0m27.2 0h0m11.5 0h0m12.1 0h0m12.5 0h0m15.6 0h0m9.8 0h0m20.6 0h0m29.2 0h0m-149 9.7h0m5.2 0h0m5.4 0h0m4.9 0h0m3.8 0h0m6.1 0h0m4.6 0h0m4.6 0h0m3.9 0h0m4.2 0h0m3.7 0h0m4.2 0h0m3.9 0h0m4.7 0h0m5.5 0h0m5.2 0h0m4.2 0h0m4.7 0h0m4.1 0h0m4.3 0h0m4.2 0h0m5.3 0h0m3.8 0h0m4.7 0h0m4.5 0h0m5 0h0m5.1 0h0m4.3 0h0m5 0h0m3.3 0h0m5 0h0m4.3 0h0m4.7 0h0m5.5 0h0m4.8 0h0m3.8 0h0m3.7 0h0m4.3 0h0m5.5 0h0m4.4 0h0m4 0h0m4.2 0h0m4.3 0h0m5.1 0h0m4.9 0h0m4.9 0h0m6.3 0h0m6.3 0h0m7.3 0h0m8.1 0h0m8.4 0h0m10.1 0h0m7.6 0h0m28.2 0h0m64.9 0h0m52.3 0h0m-372.3 9.6h0m21.8 0h0m21.5 0h0m23.3 0h0m28.2 0h0m-109.5 11.6h0m23.4 0h0m15 0h0m16.4 0h0m23.9 0h0m43.8 0h0m-138.7 9.7h0m4.5 0h0m4.3 0h0m3.9 0h0m4.7 0h0m4.7 0h0m3.6 0h0m4.3 0h0m5.9 0h0m4.4 0h0m4.8 0h0m4.3 0h0m6.5 0h0m4.3 0h0m4.7 0h0m5.1 0h0m4.4 0h0m3.6 0h0m4.4 0h0m6.3 0h0m5.1 0h0m6.5 0h0m4.6 0h0m4.8 0h0m4.6 0h0m4.4 0h0m4.9 0h0m5.2 0h0m4.7 0h0m5.1 0h0m4 0h0m3.6 0h0m3.8 0h0m5.2 0h0m4.3 0h0m4.7 0h0m4.5 0h0m4.7 0h0m4.3 0h0m5.5 0h0m5.2 0h0m6.4 0h0m9.8 0h0m16.3 0h0m14.8 0h0m13.8 0h0m39.5 0h0m-209.2 10.2h0m-76.5 9.1h0m5.9 0h0m4.3 0h0m3.9 0h0m4.8 0h0m5.6 0h0m4.7 0h0m5 0h0m5.3 0h0m4.9 0h0m4.6 0h0m4 0h0m4.8 0h0m5 0h0m3.8 0h0m6.1 0h0m5.3 0h0m4.6 0h0m5.6 0h0m5 0h0m5.1 0h0m4.8 0h0m3.6 0h0m3.9 0h0m4.7 0h0m4 0h0m3.3 0h0m5.2 0h0m4.2 0h0m4.1 0h0m5.1 0h0m4.5 0h0m5.2 0h0m5.2 0h0m7.6 0h0m7.1 0h0m7.2 0h0m7.4 0h0m9.2 0h0m21.7 0h0m47.1 0h0"/>
<path d="M606.3 249.1h0m-151.1 79.1h0m-45.9 50.2h0m-53.1 28.9h0m189.6 0h0m-184.3 30.9h0m.6 9.7h0m82.2 19.3h0m-104.3 11.6h0m28.4 0h0m22.7 0h0m27.1 0h0m27.5 0h0m39 0h0m-121.1 9.6h0m140.7 0h0m-147.1 9.7h0m-22.1 9.6h0m56.4 9.7h0m-60.5 9.6h0m146.1 0h0m-166.2 9.7h0m-61 11.5h0m30.4 0h0m18.2 0h0m14 0h0m11.5 0h0m9.6 0h0m8 0h0m9.1 0h0m11.5 0h0m7.1 0h0m9.1 0h0m11.8 0h0m9.4 0h0m13.2 0h0m9.5 0h0m10.6 0h0m10 0h0m13.4 0h0m17.4 0h0m42.5 0h0m49.6 0h0m-163.9 9.7h0m-83.6 9.6h0m109.1 0h0m-124.3 9.7h0m85.9 0h0m-104.4 9.6h0m75.8 0h0m-74 9.7h0m65.9 0h0m-160.3 9.6h0m35.6 0h0m20.8 0h0m15.1 0h0m10.8 0h0m9.1 0h0m7.2 0h0m8.9 0h0m7.8 0h0m7.7 0h0m8.5 0h0m7.5 0h0m6.7 0h0m6.9 0h0m7.1 0h0m6.4 0h0m5.4 0h0m7.2 0h0m8.1 0h0m6 0h0m6.2 0h0m7.1 0h0m6.9 0h0m10.5 0h0m11.3 0h0m10 0h0m11.5 0h0m8.7 0h0m9.3 0h0m21.5 0h0m133.7 0h0m-341.9 11.6h0m42.4 0h0m36.8 0h0m-189.7 9.7h0m90.8 0h0m36.1 0h0m32 0h0m27.5 0h0m-120.6 9.6h0m35 0h0m33.9 0h0m42 0h0m-151.7 9.7h0m70.5 0h0m30.2 0h0m25 0h0m30.3 0h0m32.6 0h0m-127.1 9.6h0m32.8 0h0m25.9 0h0m36.3 0h0m-200.3 9.7h0m16.5 0h0m11.4 0h0m8.2 0h0m8.9 0h0m8.4 0h0m4.9 0h0m6.9 0h0m6.4 0h0m5.5 0h0m5.5 0h0m4.9 0h0m6.1 0h0m5.3 0h0m5.6 0h0m4.6 0h0m5.5 0h0m4.6 0h0m5 0h0m4.5 0h0m5.6 0h0m5 0h0m5.9 0h0m5.5 0h0m5.9 0h0m6.3 0h0m7.5 0h0m5.5 0h0m7.4 0h0m9.1 0h0m5.5 0h0m6.5 0h0m4.9 0h0m5.8 0h0m4.3 0h0m5.1 0h0m5.2 0h0m5.6 0h0m5.7 0h0m5.6 0h0m4.3 0h0m6.3 0h0m6.4 0h0m12.8 0h0m18.9 0h0m22.5 0h0m29.1 0h0m-315 9.6h0m61.3 0h0m19.6 0h0m26.1 0h0m23 0h0m21.1 0h0m-123.8 11.6h0m17.2 0h0m20 0h0m21.4 0h0m16.3 0h0m24.2 0h0m38.3 0h0m-210.7 9.6h0m72.8 0h0m20.6 0h0m14.7 0h0m19.9 0h0m24.2 0h0m30 0h0m70.9 0h0m-204.6 9.7h0m31.9 0h0m23.5 0h0m26.3 0h0m26.8 0h0m-189.2 9.6h0m23.5 0h0m8.8 0h0m7.3 0h0m6.6 0h0m5.7 0h0m6.3 0h0m5 0h0m5.2 0h0m5.5 0h0m5.1 0h0m5.2 0h0m4.8 0h0m4 0h0m4.7 0h0m5.1 0h0m4.7 0h0m3.5 0h0m6 0h0m5.3 0h0m5.5 0h0m4.6 0h0m5 0h0m4 0h0m4.6 0h0m4.9 0h0m4.6 0h0m5.1 0h0m6.5 0h0m4.9 0h0m4.8 0h0m4.9 0h0m4.4 0h0m5 0h0m3.9 0h0m5 0h0m5.3 0h0m4.9 0h0m4.9 0h0m5.1 0h0m4.7 0h0m4.9 0h0m4.4 0h0m4.3 0h0m4.7 0h0m3.7 0h0m5.6 0h0m4.8 0h0m5.3 0h0m7.2 0h0m8.3 0h0m7.3 0h0m7.8 0h0m9 0h0m17.3 0h0m20.6 0h0m43.1 0h0m-333.3 9.7h0m23.7 0h0m23.7 0h0m22.9 0h0m25.5 0h0m24.2 0h0m23.7 0h0m24.7 0h0m-143.4 9.6h0m20.1 0h0m18.5 0h0m22 0h0m17.1 0h0m28.6 0h0m-157 11.6h0m38.7 0h0m17.8 0h0m17.3 0h0m15 0h0m19.5 0h0m28.4 0h0m81.2 0h0m-239.1 9.7h0m7 0h0m7 0h0m7.6 0h0m7.1 0h0m4.3 0h0m5.8 0h0m4.4 0h0m4.1 0h0m5.1 0h0m4.6 0h0m4.9 0h0m5 0h0m3.5 0h0m4.3 0h0m5.3 0h0m4.3 0h0m5.2 0h0m4.3 0h0m4.1 0h0m4.5 0h0m5 0h0m5 0h0m3.7 0h0m4.7 0h0m4.8 0h0m5.7 0h0m4.9 0h0m6 0h0m5 0h0m4.3 0h0m4.1 0h0m4.8 0h0m3.8 0h0m4.8 0h0m4.6 0h0m4.4 0h0m3.9 0h0m4.6 0h0m5 0h0m4.4 0h0m4.5 0h0m4.3 0h0m3.4 0h0m4.1 0h0m5.1 0h0m6.6 0h0m6 0h0m5.1 0h0m5.3 0h0m4 0h0m4.8 0h0m6.2 0h0m5.9 0h0m5.5 0h0m5.3 0h0m6.8 0h0m6 0h0m9.5 0h0m12 0h0m27.9 0h0m-298.7 9.6h0m17 0h0m14.7 0h0m15 0h0m18.4 0h0m16.3 0h0m16.2 0h0m19.2 0h0m-126.8 9.7h0m17.2 0h0m15.5 0h0m9.6 0h0m14.8 0h0m11.6 0h0m14.5 0h0m35.7 0h0m-145.5 9.6h0m27.2 0h0m11.7 0h0m12.1 0h0m12.9 0h0m15 0h0m10.7 0h0m19.7 0h0m29.7 0h0m-149.7 9.7h0m5.2 0h0m5.7 0h0m4.6 0h0m3.9 0h0m6.1 0h0m4.6 0h0m4.6 0h0m3.9 0h0m4.2 0h0m3.7 0h0m4.3 0h0m3.9 0h0m4.6 0h0m5.7 0h0m5 0h0m4.2 0h0m4.6 0h0m4.1 0h0m4.3 0h0m4.5 0h0m5.3 0h0m3.5 0h0m4.9 0h0m4.3 0h0m5.2 0h0m4.9 0h0m4.7 0h0m4.6 0h0m3.5 0h0m5 0h0m4.2 0h0m4.7 0h0m5.4 0h0m4.9 0h0m3.8 0h0m3.6 0h0m4.4 0h0m5.5 0h0m4.4 0h0m4.1 0h0m4 0h0m4.3 0h0m5.3 0h0m4.9 0h0m4.7 0h0m6.4 0h0m6.3 0h0m7.3 0h0m8 0h0m8.7 0h0m10 0h0m7.7 0h0m30.8 0h0m62.3 0h0m90 0h0m-410.2 9.6h0m21.8 0h0m21.4 0h0m23.4 0h0m29.9 0h0m-110.3 11.6h0m22.7 0h0m15 0h0m16.2 0h0m24.3 0h0m47.1 0h0m-142.4 9.7h0m4.4 0h0m4.3 0h0m4.2 0h0m4.6 0h0m4.5 0h0m3.7 0h0m4.4 0h0m5.7 0h0m4.6 0h0m4.6 0h0m4.4 0h0m6.4 0h0m4.4 0h0m4.6 0h0m5.2 0h0m4.4 0h0m3.5 0h0m4.4 0h0m6.4 0h0m5 0h0m6.6 0h0m4.6 0h0m4.7 0h0m4.7 0h0m4.3 0h0m5.1 0h0m5.1 0h0m4.7 0h0m5.1 0h0m3.9 0h0m3.6 0h0m4 0h0m5.2 0h0m4.4 0h0m4.5 0h0m4.4 0h0m4.7 0h0m4.4 0h0m5.6 0h0m5.1 0h0m6.4 0h0m9.8 0h0m16.7 0h0m14.3 0h0m14.8 0h0m38.7 0h0m-201.6 10.2h0m-84.3 9.1h0m5.9 0h0m4.5 0h0m3.8 0h0m4.9 0h0m5.4 0h0m4.7 0h0m5 0h0m5.3 0h0m4.9 0h0m4.7 0h0m4 0h0m4.7 0h0m5.1 0h0m3.8 0h0m6 0h0m5.3 0h0m4.6 0h0m5.8 0h0m4.9 0h0m5 0h0m4.9 0h0m3.5 0h0m4 0h0m4.6 0h0m4 0h0m3.8 0h0m4.8 0h0m4.2 0h0m4 0h0m5.1 0h0m4.5 0h0m5.4 0h0m5.3 0h0m7.6 0h0m7 0h0m7.1 0h0m7.3 0h0m9.9 0h0m21.2 0h0m47.6 0h0"/>
<path d="M606.3 249.1h0m-147.2 79.1h0m-41.5 50.2h0m-61.4 28.9h0m195.3 0h0m-185.9 30.9h0m11.5 9.7h0m85 19.3h0m-120.4 11.6h0m27.8 0h0m21.7 0h0m27.7 0h0m28.3 0h0m37.7 0h0m-119.2 9.6h0m149.9 0h0m-156.3 9.7h0m-23.3 9.6h0m58 9.7h0m-60.6 9.6h0m-22.3 9.7h0m-59.8 11.5h0m29.2 0h0m18.5 0h0m13.8 0h0m11.4 0h0m9.7 0h0m7.7 0h0m9.4 0h0m11.3 0h0m7.1 0h0m9.1 0h0m11.9 0h0m9.3 0h0m13.8 0h0m8.8 0h0m10.8 0h0m10 0h0m13.6 0h0m17.4 0h0m42.3 0h0m52.4 0h0m-165.5 9.7h0m-82 9.6h0m119 0h0m-133.7 9.7h0m87 0h0m-108.3 9.6h0m75.6 0h0m-73.4 9.7h0m65.1 0h0m-160.3 9.6h0m35.6 0h0m20.5 0h0m15.4 0h0m10.7 0h0m8.9 0h0m7.4 0h0m8.8 0h0m7.9 0h0m7.5 0h0m8.6 0h0m7.5 0h0m6.6 0h0m7.3 0h0m6.8 0h0m6.3 0h0m5.5 0h0m7.2 0h0m8.6 0h0m5.6 0h0m6.1 0h0m7.2 0h0m7.6 0h0m9.7 0h0m11.5 0h0m9.9 0h0m11.5 0h0m8.7 0h0m9.3 0h0m21.9 0h0m144.9 0h0m-353.5 11.6h0m43.2 0h0m36.2 0h0m-188.3 9.7h0m90.8 0h0m34.6 0h0m32.1 0h0m27.6 0h0m-120 9.6h0m34.7 0h0m34.4 0h0m56.8 0h0m-163 9.7h0m66.9 0h0m29 0h0m25.8 0h0m30.8 0h0m34.9 0h0m-130 9.6h0m32.9 0h0m25.2 0h0m36.5 0h0m-200 9.7h0m16 0h0m11.4 0h0m8.2 0h0m9 0h0m8.2 0h0m5 0h0m6.8 0h0m6.5 0h0m5.5 0h0m5.4 0h0m5 0h0m6.1 0h0m5.6 0h0m5.4 0h0m4.6 0h0m5.3 0h0m4.7 0h0m5 0h0m4.6 0h0m5.5 0h0m4.9 0h0m5.9 0h0m5.5 0h0m6.1 0h0m6.1 0h0m7.5 0h0m5.5 0h0m8 0h0m8.5 0h0m5.7 0h0m6.4 0h0m4.9 0h0m6.2 0h0m3.9 0h0m5 0h0m5.2 0h0m5.7 0h0m5.6 0h0m5.7 0h0m4.3 0h0m6.2 0h0m6.5 0h0m13 0h0m18.9 0h0m22.6 0h0m29.2 0h0m-315 9.6h0m62.8 0h0m17.6 0h0m26.1 0h0m23.3 0h0m21.7 0h0m-124.6 11.6h0m17.4 0h0m19.8 0h0m21.9 0h0m15.8 0h0m24.6 0h0m38.4 0h0m-207.3 9.6h0m69.1 0h0m21 0h0m14.5 0h0m20.4 0h0m23.9 0h0m29.8 0h0m76.1 0h0m-207.1 9.7h0m28.7 0h0m23.8 0h0m27.2 0h0m25.7 0h0m-188.7 9.6h0m22.9 0h0m9 0h0m7.3 0h0m6.5 0h0m5.7 0h0m6.3 0h0m4.9 0h0m5.3 0h0m5.6 0h0m4.9 0h0m5.2 0h0m4.9 0h0m4 0h0m4.7 0h0m5.2 0h0m4.6 0h0m3.4 0h0m6.1 0h0m5.2 0h0m5.6 0h0m4.6 0h0m4.9 0h0m4.1 0h0m4.6 0h0m4.9 0h0m4.8 0h0m4.9 0h0m6.6 0h0m4.8 0h0m4.7 0h0m4.9 0h0m4.4 0h0m5 0h0m4 0h0m4.9 0h0m5.5 0h0m4.7 0h0m5 0h0m5.3 0h0m4.5 0h0m4.9 0h0m4.4 0h0m4.5 0h0m4.4 0h0m3.8 0h0m5.8 0h0m4.5 0h0m5.4 0h0m7.1 0h0m8.3 0h0m7.7 0h0m7.5 0h0m9.2 0h0m17.1 0h0m20.8 0h0m-288.2 9.7h0m21.9 0h0m23.3 0h0m23.7 0h0m24.7 0h0m24.1 0h0m23.9 0h0m24.6 0h0m-143.4 9.6h0m21.1 0h0m18.1 0h0m21.5 0h0m18.1 0h0m30.8 0h0m-160.3 11.6h0m38.9 0h0m17.5 0h0m18.1 0h0m14.4 0h0m19.4 0h0m29.1 0h0m81.5 0h0m-240.2 9.7h0m7.1 0h0m7.2 0h0m7.4 0h0m7.2 0h0m4.1 0h0m6 0h0m4.3 0h0m4 0h0m5.3 0h0m4.5 0h0m5 0h0m4.8 0h0m3.5 0h0m4.3 0h0m5.3 0h0m4.5 0h0m5.1 0h0m4.2 0h0m4.2 0h0m4.6 0h0m5.2 0h0m4.8 0h0m3.6 0h0m4.7 0h0m4.8 0h0m5.7 0h0m4.9 0h0m6 0h0m4.9 0h0m4.4 0h0m4.1 0h0m4.7 0h0m3.8 0h0m4.9 0h0m4.5 0h0m4.5 0h0m3.8 0h0m4.6 0h0m5 0h0m4.7 0h0m4.3 0h0m4.2 0h0m3.5 0h0m4.1 0h0m5 0h0m6.7 0h0m6 0h0m5.1 0h0m5.3 0h0m3.9 0h0m4.8 0h0m6.3 0h0m5.9 0h0m5.6 0h0m5.3 0h0m6.6 0h0m6.2 0h0m9.6 0h0m12 0h0m28.7 0h0m-299.3 9.6h0m16.7 0h0m14.7 0h0m14.9 0h0m18.6 0h0m16.4 0h0m16 0h0m19.7 0h0m-126.9 9.7h0m16.7 0h0m15.5 0h0m9.8 0h0m14.8 0h0m12 0h0m13.9 0h0m38.9 0h0m256.7 0h0m-402.2 9.6h0m24 0h0m12.1 0h0m11.7 0h0m13.3 0h0m14.5 0h0m11 0h0m21.1 0h0m28 0h0m-149.6 9.7h0m5.1 0h0m5.7 0h0m4.7 0h0m4 0h0m6.1 0h0m4.4 0h0m4.7 0h0m3.8 0h0m4.3 0h0m3.6 0h0m4.6 0h0m3.6 0h0m4.7 0h0m5.6 0h0m5 0h0m4.2 0h0m4.7 0h0m4.2 0h0m4.1 0h0m4.7 0h0m5.2 0h0m3.4 0h0m5.1 0h0m4.2 0h0m5.1 0h0m5 0h0m4.6 0h0m4.7 0h0m3.5 0h0m5.3 0h0m3.9 0h0m4.6 0h0m5.4 0h0m4.9 0h0m3.8 0h0m3.7 0h0m4.3 0h0m5.6 0h0m4.3 0h0m4.1 0h0m4.3 0h0m4.1 0h0m5.3 0h0m5.1 0h0m4.5 0h0m7 0h0m5.6 0h0m7.7 0h0m7.7 0h0m8.8 0h0m9.9 0h0m7.9 0h0m31.4 0h0m63.3 0h0m-320.4 9.6h0m20.5 0h0m22.4 0h0m22 0h0m30.2 0h0m-109.4 11.6h0m21.7 0h0m15.2 0h0m16 0h0m24.2 0h0m48.3 0h0m-143.4 9.7h0m4.2 0h0m4.2 0h0m4.2 0h0m4.8 0h0m4.4 0h0m3.6 0h0m4.6 0h0m5.6 0h0m4.8 0h0m4.3 0h0m4.5 0h0m6.4 0h0m4.3 0h0m4.7 0h0m5.2 0h0m4.3 0h0m3.7 0h0m4.5 0h0m6.2 0h0m4.9 0h0m6.9 0h0m4.5 0h0m4.6 0h0m4.8 0h0m4.2 0h0m5.1 0h0m5.1 0h0m4.7 0h0m5 0h0m3.9 0h0m3.6 0h0m4 0h0m5.3 0h0m4.4 0h0m4.4 0h0m4.6 0h0m4.7 0h0m4.4 0h0m5.4 0h0m5.1 0h0m6.6 0h0m10 0h0m17.1 0h0m13.6 0h0m15.7 0h0m38.4 0h0m-184.1 10.2h0m-102.2 9.1h0m5.7 0h0m4.5 0h0m3.8 0h0m4.8 0h0m5.5 0h0m4.7 0h0m4.9 0h0m5.3 0h0m4.9 0h0m4.7 0h0m4 0h0m4.8 0h0m5 0h0m3.8 0h0m6.2 0h0m5.1 0h0m4.7 0h0m5.7 0h0m4.9 0h0m5.2 0h0m4.7 0h0m3.7 0h0m3.9 0h0m4.7 0h0m3.9 0h0m3.8 0h0m5 0h0m3.9 0h0m4.1 0h0m5 0h0m4.5 0h0m5.5 0h0m5.2 0h0m7.9 0h0m6.7 0h0m7.2 0h0m7.5 0h0m9.6 0h0m21.4 0h0m49.3 0h0"/>
<path d="M626.9 249.1h0m-157.8 79.1h0m-48.2 50.2h0m-56.4 28.9h0m193 0h0m-190.9 30.9h0m25.3 9.7h0m-71.3 9.6h0m177.7 9.7h0m-156.5 11.6h0m27.9 0h0m21.7 0h0m27.7 0h0m29.2 0h0m36.7 0h0m-114.2 9.6h0m156.5 0h0m-150.8 9.7h0m-36.6 9.6h0m57 9.7h0m-63.2 9.6h0m-20 9.7h0m-62.2 11.5h0m29.7 0h0m18 0h0m13.7 0h0m11.5 0h0m9.6 0h0m8.5 0h0m8.5 0h0m11.3 0h0m7.6 0h0m8.6 0h0m12.4 0h0m9.2 0h0m13.5 0h0m8.7 0h0m11 0h0m10.4 0h0m14.7 0h0m16.6 0h0m42.4 0h0m58.1 0h0m-402.3 9.7h0m230.2 0h0m-81.6 9.6h0m135.7 0h0m-148.2 9.7h0m85.8 0h0m-104.8 9.6h0m71.3 0h0m-68.3 9.7h0m60.2 0h0m-160.2 9.6h0m34.8 0h0m21.1 0h0m14.7 0h0m10.8 0h0m8.7 0h0m7.6 0h0m8.7 0h0m7.9 0h0m7.5 0h0m8.6 0h0m7.5 0h0m6.5 0h0m7.4 0h0m6.8 0h0m6.3 0h0m5.6 0h0m7 0h0m8.8 0h0m5.8 0h0m5.8 0h0m7.2 0h0m7.6 0h0m9.6 0h0m11.5 0h0m9.9 0h0m12.2 0h0m8.5 0h0m8.9 0h0m22.3 0h0m148.5 0h0m-479 11.6h0m124.3 0h0m41.6 0h0m35.7 0h0m-186.4 9.7h0m88.2 0h0m35.7 0h0m31.3 0h0m27.4 0h0m-118 9.6h0m33 0h0m34.1 0h0m72 0h0m-178.3 9.7h0m68 0h0m28.5 0h0m26.1 0h0m31.3 0h0m33.7 0h0m-129.7 9.6h0m33.2 0h0m24.4 0h0m37.2 0h0m-200.4 9.7h0m15.8 0h0m11.3 0h0m8.2 0h0m9 0h0m8.1 0h0m5.2 0h0m6.6 0h0m6.6 0h0m5.4 0h0m5.5 0h0m5.1 0h0m6 0h0m5.5 0h0m5.4 0h0m4.6 0h0m5.3 0h0m4.8 0h0m5 0h0m4.5 0h0m5.6 0h0m4.9 0h0m5.9 0h0m5.5 0h0m6.4 0h0m5.9 0h0m7.5 0h0m5.4 0h0m8.2 0h0m8.4 0h0m5.7 0h0m6.3 0h0m4.8 0h0m6.2 0h0m4 0h0m4.9 0h0m5.4 0h0m5.5 0h0m5.6 0h0m5.8 0h0m4.4 0h0m6 0h0m6.9 0h0m12.7 0h0m19.1 0h0m23.6 0h0m28.4 0h0m-315.4 9.6h0m62.7 0h0m17.6 0h0m26.3 0h0m23.4 0h0m21.4 0h0m-124.4 11.6h0m17.5 0h0m20 0h0m21.5 0h0m16.1 0h0m24.3 0h0m38.5 0h0m-204.6 9.6h0m67 0h0m20.3 0h0m14.6 0h0m20.7 0h0m23.6 0h0m30 0h0m76.6 0h0m-207.4 9.7h0m29.8 0h0m22.8 0h0m27 0h0m25.5 0h0m-188.8 9.6h0m23.1 0h0m8.6 0h0m7.4 0h0m6.5 0h0m5.8 0h0m6.2 0h0m4.9 0h0m5.2 0h0m5.7 0h0m4.9 0h0m5.1 0h0m5.3 0h0m3.6 0h0m4.8 0h0m5.2 0h0m4.5 0h0m3.5 0h0m6.1 0h0m5.2 0h0m5.6 0h0m4.5 0h0m5 0h0m4 0h0m4.9 0h0m4.6 0h0m4.9 0h0m4.9 0h0m6.9 0h0m4.5 0h0m4.7 0h0m4.9 0h0m4.3 0h0m5.2 0h0m3.9 0h0m4.8 0h0m5.5 0h0m4.8 0h0m5.2 0h0m5 0h0m4.7 0h0m4.9 0h0m4.2 0h0m4.5 0h0m4.4 0h0m3.8 0h0m5.8 0h0m4.6 0h0m5.5 0h0m7.4 0h0m7.9 0h0m7.9 0h0m7.5 0h0m9.3 0h0m17.5 0h0m20.7 0h0m-288.8 9.7h0m22.2 0h0m23 0h0m24 0h0m24.8 0h0m23.9 0h0m23.8 0h0m24.9 0h0m-143.1 9.6h0m20.7 0h0m17.7 0h0m21.8 0h0m18.6 0h0m30.1 0h0m-160 11.6h0m38.7 0h0m17.7 0h0m18.1 0h0m14.2 0h0m19.6 0h0m29.1 0h0m82.7 0h0m-241.7 9.7h0m7.1 0h0m7.6 0h0m7.3 0h0m6.8 0h0m4.2 0h0m5.9 0h0m4.4 0h0m4.2 0h0m5 0h0m4.5 0h0m5.1 0h0m4.7 0h0m3.6 0h0m4.6 0h0m4.9 0h0m4.6 0h0m5 0h0m4.2 0h0m4.3 0h0m4.6 0h0m5.1 0h0m4.9 0h0m3.8 0h0m4.4 0h0m5.2 0h0m5.4 0h0m4.9 0h0m6 0h0m5.1 0h0m4.1 0h0m4.4 0h0m4.5 0h0m3.7 0h0m4.9 0h0m4.5 0h0m4.5 0h0m3.8 0h0m4.6 0h0m5 0h0m4.7 0h0m4.3 0h0m4.2 0h0m3.5 0h0m4.2 0h0m5.1 0h0m6.6 0h0m5.9 0h0m5.1 0h0m5.4 0h0m3.8 0h0m5 0h0m6.3 0h0m5.7 0h0m5.8 0h0m5.1 0h0m6.8 0h0m6.1 0h0m9.5 0h0m12.7 0h0m28.2 0h0m51.9 0h0m-350.7 9.6h0m16 0h0m15.3 0h0m14.6 0h0m18.5 0h0m16.3 0h0m16.1 0h0m20 0h0m-126.7 9.7h0m16.3 0h0m15.3 0h0m10.3 0h0m14.5 0h0m11.8 0h0m14.3 0h0m38.4 0h0m-145.1 9.6h0m23.7 0h0m12.1 0h0m11.6 0h0m13.5 0h0m14.4 0h0m11 0h0m21.3 0h0m28 0h0m-149.8 9.7h0m5.2 0h0m5.7 0h0m4.5 0h0m4.2 0h0m6.1 0h0m4.2 0h0m4.7 0h0m3.8 0h0m4.3 0h0m3.6 0h0m4.8 0h0m3.5 0h0m4.7 0h0m5.6 0h0m5.1 0h0m4 0h0m4.7 0h0m4.2 0h0m4.3 0h0m4.5 0h0m5.4 0h0m3.3 0h0m5 0h0m4.2 0h0m5.2 0h0m4.9 0h0m4.7 0h0m4.7 0h0m3.4 0h0m5.4 0h0m3.8 0h0m4.9 0h0m5.2 0h0m4.8 0h0m3.9 0h0m3.6 0h0m4.4 0h0m5.7 0h0m4.3 0h0m4 0h0m4.3 0h0m4 0h0m5.5 0h0m4.9 0h0m4.7 0h0m6.8 0h0m5.6 0h0m7.8 0h0m7.7 0h0m8.7 0h0m9.9 0h0m8.1 0h0m32.9 0h0m65.1 0h0m-323.8 9.6h0m21.5 0h0m21.4 0h0m22.5 0h0m30 0h0m-109.4 11.6h0m21.4 0h0m15.3 0h0m15.8 0h0m24.9 0h0m57.4 0h0m-153 9.7h0m4.1 0h0m4.1 0h0m4.3 0h0m4.7 0h0m4.6 0h0m3.5 0h0m4.5 0h0m5.6 0h0m4.9 0h0m4.5 0h0m5 0h0m5.7 0h0m4.4 0h0m4.6 0h0m5.1 0h0m4.4 0h0m3.7 0h0m4.8 0h0m5.8 0h0m5.4 0h0m6.4 0h0m4.6 0h0m4.8 0h0m4.5 0h0m4.2 0h0m5.2 0h0m5 0h0m4.8 0h0m5 0h0m3.9 0h0m3.6 0h0m4.1 0h0m5.1 0h0m4.5 0h0m4.4 0h0m4.5 0h0m4.8 0h0m4.5 0h0m5.5 0h0m5.1 0h0m6.4 0h0m10 0h0m17.5 0h0m14.3 0h0m14.7 0h0m41.9 0h0m-182.9 10.2h0m-106.8 9.1h0m5.5 0h0m4.4 0h0m3.9 0h0m4.7 0h0m5.6 0h0m4.7 0h0m5 0h0m5.2 0h0m4.9 0h0m4.8 0h0m3.9 0h0m4.8 0h0m5 0h0m4 0h0m5.9 0h0m5.2 0h0m4.6 0h0m5.7 0h0m4.9 0h0m5.4 0h0m4.6 0h0m3.8 0h0m3.7 0h0m4.8 0h0m3.8 0h0m3.8 0h0m5.1 0h0m3.8 0h0m4.3 0h0m4.9 0h0m4.5 0h0m5.5 0h0m5.2 0h0m7.9 0h0m6.6 0h0m7.3 0h0m7.6 0h0m10.9 0h0m19.9 0h0m49.7 0h0"/>
<path d="M626.9 249.1h0m-157.8 79.1h0m-41.5 50.2h0m-63.1 28.9h0m219.5 0h0m-214.6 30.9h0m26.8 9.7h0m-73.6 9.6h0m179.6 9.7h0m-160.2 11.6h0m27.7 0h0m22 0h0m27.5 0h0m29.5 0h0m36.5 0h0m-106.9 9.6h0m153.2 0h0m-147.2 9.7h0m-42.1 9.6h0m58.4 9.7h0m-61.7 9.6h0m-23.6 9.7h0m-63.5 11.5h0m29.4 0h0m18.9 0h0m12.9 0h0m11.5 0h0m9.7 0h0m8.4 0h0m8.4 0h0m11.3 0h0m7.8 0h0m8.6 0h0m12.6 0h0m8.9 0h0m13.4 0h0m8.8 0h0m11 0h0m10.5 0h0m14.8 0h0m17 0h0m42.9 0h0m56.9 0h0m-341.1 9.7h0m174.9 0h0m-84.5 9.6h0m-14.9 9.7h0m86.5 0h0m-105.4 9.6h0m72.8 0h0m-70 9.7h0m62 0h0m-162.5 9.6h0m35 0h0m21.1 0h0m14.9 0h0m10.8 0h0m8.4 0h0m7.5 0h0m8.9 0h0m8.7 0h0m6.7 0h0m8.6 0h0m7.8 0h0m6 0h0m7.4 0h0m6.8 0h0m6.5 0h0m5.5 0h0m7.2 0h0m8.5 0h0m5.8 0h0m5.8 0h0m7.2 0h0m7.8 0h0m9.9 0h0m11.4 0h0m9.7 0h0m12.3 0h0m8.2 0h0m9 0h0m22.3 0h0m162.3 0h0m-442.9 11.6h0m74.5 0h0m42.4 0h0m35 0h0m-180.8 9.7h0m83 0h0m35.7 0h0m31.7 0h0m26.9 0h0m-117.6 9.6h0m33.8 0h0m32.8 0h0m78.8 0h0m-183.8 9.7h0m66.4 0h0m29.1 0h0m25.4 0h0m31.4 0h0m34 0h0m-126.3 9.6h0m30.6 0h0m23.3 0h0m37.8 0h0m-200.9 9.7h0m15.6 0h0m11.3 0h0m8.2 0h0m8.9 0h0m8.2 0h0m5.1 0h0m6.7 0h0m6.5 0h0m5.6 0h0m5.3 0h0m5.2 0h0m5.9 0h0m5.6 0h0m5.3 0h0m4.6 0h0m5.5 0h0m4.6 0h0m5.1 0h0m5.1 0h0m5.2 0h0m4.6 0h0m6.3 0h0m5.2 0h0m6.3 0h0m6.1 0h0m7.3 0h0m5.6 0h0m8 0h0m8.4 0h0m5.8 0h0m6.2 0h0m4.9 0h0m6.1 0h0m4.2 0h0m4.8 0h0m5.3 0h0m5.6 0h0m5.6 0h0m5.7 0h0m4.6 0h0m5.8 0h0m6.9 0h0m13.2 0h0m18.7 0h0m23.9 0h0m30.6 0h0m-318 9.6h0m62.9 0h0m17.8 0h0m25.9 0h0m24 0h0m20.9 0h0m-124.4 11.6h0m18.6 0h0m19 0h0m21.9 0h0m15.5 0h0m26.1 0h0m36.9 0h0m-203.9 9.6h0m66.6 0h0m20.2 0h0m14.3 0h0m20.6 0h0m25.1 0h0m28.7 0h0m84 0h0m-212 9.7h0m26.9 0h0m23 0h0m26.9 0h0m27.5 0h0m-191 9.6h0m23.5 0h0m8.2 0h0m7.4 0h0m6.8 0h0m5.5 0h0m6.3 0h0m4.9 0h0m5.2 0h0m5.6 0h0m4.9 0h0m5.2 0h0m5.3 0h0m3.6 0h0m4.7 0h0m5.3 0h0m4.4 0h0m3.5 0h0m6.3 0h0m5.1 0h0m5.7 0h0m4.3 0h0m5 0h0m4.1 0h0m4.8 0h0m4.8 0h0m4.9 0h0m4.7 0h0m7 0h0m4.6 0h0m4.5 0h0m5.1 0h0m4.7 0h0m4.6 0h0m3.9 0h0m4.9 0h0m5.4 0h0m5.1 0h0m5 0h0m4.9 0h0m4.7 0h0m5 0h0m4.2 0h0m4.4 0h0m4.5 0h0m3.7 0h0m5.8 0h0m4.7 0h0m5.5 0h0m7.6 0h0m7.7 0h0m8.1 0h0m7.3 0h0m10 0h0m17.2 0h0m20.6 0h0m-287.3 9.7h0m20.3 0h0m23.6 0h0m23.9 0h0m24.5 0h0m25.4 0h0m22.7 0h0m24.8 0h0m-143.1 9.6h0m21.4 0h0m17.1 0h0m21.6 0h0m18.4 0h0m31.6 0h0m-161.4 11.6h0m38.5 0h0m17.7 0h0m18.1 0h0m14.1 0h0m20.2 0h0m29.5 0h0m86.3 0h0m-246.2 9.7h0m7.2 0h0m7.6 0h0m7.2 0h0m6.7 0h0m4.3 0h0m6.1 0h0m4.2 0h0m4.3 0h0m5 0h0m4.6 0h0m5 0h0m4.6 0h0m3.5 0h0m4.7 0h0m4.9 0h0m4.6 0h0m5.2 0h0m3.9 0h0m4.3 0h0m5 0h0m4.9 0h0m4.7 0h0m3.9 0h0m4.4 0h0m5.1 0h0m5.5 0h0m5 0h0m5.9 0h0m5.1 0h0m4 0h0m4.5 0h0m4.4 0h0m3.8 0h0m4.9 0h0m4.4 0h0m4.5 0h0m3.9 0h0m4.6 0h0m5 0h0m4.7 0h0m4.3 0h0m4.1 0h0m3.5 0h0m4.3 0h0m5.2 0h0m6.4 0h0m6 0h0m5.1 0h0m5.4 0h0m4 0h0m5.2 0h0m6 0h0m5.7 0h0m5.8 0h0m5 0h0m6.7 0h0m6.8 0h0m9.1 0h0m12.9 0h0m27.7 0h0m51.9 0h0m-350.7 9.6h0m16.8 0h0m14.6 0h0m14.8 0h0m18.3 0h0m16.2 0h0m17.3 0h0m19.2 0h0m-126.7 9.7h0m16.8 0h0m14.7 0h0m10 0h0m14.6 0h0m12.1 0h0m14.2 0h0m39.2 0h0m-145.7 9.6h0m23.7 0h0m12.1 0h0m11.4 0h0m13.5 0h0m14.3 0h0m10.9 0h0m21.6 0h0m29 0h0m-151.1 9.7h0m5.1 0h0m5.7 0h0m4.5 0h0m4.2 0h0m6.2 0h0m4.2 0h0m4.7 0h0m3.8 0h0m4.2 0h0m3.6 0h0m4.8 0h0m3.5 0h0m4.7 0h0m5.7 0h0m5.1 0h0m4.3 0h0m4.3 0h0m4.2 0h0m4.4 0h0m4.4 0h0m5.4 0h0m3.5 0h0m4.9 0h0m4.2 0h0m5.2 0h0m4.9 0h0m4.7 0h0m4.7 0h0m3.4 0h0m5.4 0h0m3.8 0h0m4.8 0h0m5.2 0h0m4.9 0h0m3.8 0h0m3.9 0h0m4.5 0h0m5.6 0h0m4 0h0m4.1 0h0m4.2 0h0m4.2 0h0m5.3 0h0m4.9 0h0m4.8 0h0m6.7 0h0m5.6 0h0m7.9 0h0m8.1 0h0m8.3 0h0m10 0h0m8.6 0h0m34.8 0h0m64.9 0h0m-325 9.6h0m20.4 0h0m21.6 0h0m22.7 0h0m30.2 0h0m-109.9 11.6h0m22.4 0h0m14.8 0h0m15.4 0h0m24.8 0h0m59.6 0h0m-155.3 9.7h0m4.2 0h0m3.9 0h0m4.3 0h0m4.8 0h0m4.7 0h0m3.3 0h0m4.6 0h0m5.6 0h0m4.9 0h0m4.6 0h0m5.3 0h0m5.2 0h0m4.6 0h0m4.4 0h0m5.1 0h0m4.6 0h0m3.5 0h0m5.4 0h0m5.4 0h0m5.3 0h0m6.3 0h0m4.6 0h0m5 0h0m4.6 0h0m4.1 0h0m5.1 0h0m5.1 0h0m4.6 0h0m5.2 0h0m4 0h0m3.4 0h0m4 0h0m5.3 0h0m4.6 0h0m4.3 0h0m4.6 0h0m4.5 0h0m4.5 0h0m5.6 0h0m5.2 0h0m6.3 0h0m10.1 0h0m17.8 0h0m14 0h0m15 0h0m42.8 0h0m-174.9 10.2h0m-116.1 9.1h0m5.4 0h0m4.4 0h0m3.9 0h0m4.7 0h0m5.6 0h0m5 0h0m4.8 0h0m5.3 0h0m5 0h0m4.5 0h0m4 0h0m4.8 0h0m5.2 0h0m3.8 0h0m5.9 0h0m5.1 0h0m5.1 0h0m5.3 0h0m4.9 0h0m5.3 0h0m4.8 0h0m3.7 0h0m3.8 0h0m4.6 0h0m3.9 0h0m3.8 0h0m5.1 0h0m3.9 0h0m4.1 0h0m5 0h0m4.4 0h0m5.6 0h0m5.4 0h0m8 0h0m6.3 0h0m7.8 0h0m7.2 0h0m10.9 0h0m20 0h0m50.5 0h0"/>
<path d="M562.1 258.7h0m-90.7 69.5h0m-17.9 50.2h0m-84 28.9h0m218.5 0h0m-202.9 30.9h0m16.2 9.7h0m-73.8 9.6h0m-113.5 9.7h0m305.2 0h0m-176.4 11.6h0m27 0h0m23.7 0h0m27.1 0h0m28.2 0h0m38.9 0h0m-108.4 9.6h0m158.1 0h0m-144.4 9.7h0m-49.9 9.6h0m59.8 9.7h0m-61.1 9.6h0m-24.7 9.7h0m-63.8 11.5h0m28.8 0h0m18 0h0m13.2 0h0m11.4 0h0m9.5 0h0m8.6 0h0m8.3 0h0m11.3 0h0m7.8 0h0m8.6 0h0m12.5 0h0m9.9 0h0m12.5 0h0m8.9 0h0m10.9 0h0m10.4 0h0m14.9 0h0m17.7 0h0m42.4 0h0m56.6 0h0m-336.4 9.7h0m173.3 0h0m-285.9 9.6h0m201 0h0m-15.1 9.7h0m84.6 0h0m-104.6 9.6h0m72.7 0h0m-69.3 9.7h0m60.3 0h0m-160.7 9.6h0m34 0h0m20.2 0h0m14.9 0h0m10.7 0h0m8.4 0h0m7.7 0h0m9.1 0h0m8.4 0h0m6.7 0h0m8.5 0h0m7.8 0h0m6.1 0h0m7.3 0h0m6.8 0h0m6.5 0h0m5.5 0h0m7.1 0h0m8.5 0h0m5.9 0h0m5.7 0h0m7.6 0h0m7.5 0h0m9.9 0h0m11.8 0h0m9.5 0h0m12 0h0m8.3 0h0m8.9 0h0m24 0h0m-280.3 11.6h0m72.8 0h0m42.3 0h0m35.3 0h0m123.4 0h0m-293.9 9.7h0m72.6 0h0m37.2 0h0m29.9 0h0m27.3 0h0m-116.8 9.6h0m32.9 0h0m32.5 0h0m83.4 0h0m-180.5 9.7h0m59 0h0m28.6 0h0m26.1 0h0m30.9 0h0m36.4 0h0m-127.8 9.6h0m29.5 0h0m23.8 0h0m37.5 0h0m-201.2 9.7h0m15.9 0h0m11 0h0m8.4 0h0m9 0h0m7.9 0h0m5.4 0h0m6.5 0h0m6.5 0h0m5.7 0h0m5.1 0h0m5.3 0h0m5.8 0h0m5.7 0h0m5.5 0h0m4.3 0h0m5.6 0h0m4.6 0h0m5 0h0m5.1 0h0m5.3 0h0m4.5 0h0m6.3 0h0m5.3 0h0m6.2 0h0m6.2 0h0m7.3 0h0m5.7 0h0m7.9 0h0m8.5 0h0m5.6 0h0m6.3 0h0m4.8 0h0m6.4 0h0m3.9 0h0m5.1 0h0m5.1 0h0m5.5 0h0m5.6 0h0m5.7 0h0m4.8 0h0m5.7 0h0m6.8 0h0m13.8 0h0m18.5 0h0m24.2 0h0m32.4 0h0m-317.2 9.6h0m59.7 0h0m17.9 0h0m25.8 0h0m24.3 0h0m20.7 0h0m-124.6 11.6h0m18.9 0h0m19 0h0m21.8 0h0m15.3 0h0m26.5 0h0m36.9 0h0m-198.9 9.6h0m62.5 0h0m19.2 0h0m14.1 0h0m20.7 0h0m25.3 0h0m30.7 0h0m84.2 0h0m-214.6 9.7h0m28 0h0m22.4 0h0m26.7 0h0m28 0h0m-191.5 9.6h0m23.7 0h0m7.8 0h0m7.4 0h0m6.8 0h0m6 0h0m5.8 0h0m4.8 0h0m5.3 0h0m6 0h0m4.8 0h0m5.1 0h0m5 0h0m3.6 0h0m4.9 0h0m5.2 0h0m4.6 0h0m3.3 0h0m6.3 0h0m5 0h0m5.8 0h0m4.3 0h0m5 0h0m4.1 0h0m4.7 0h0m4.9 0h0m4.9 0h0m4.8 0h0m6.9 0h0m4.6 0h0m4.5 0h0m5 0h0m4.7 0h0m4.6 0h0m3.9 0h0m5 0h0m5.4 0h0m5 0h0m5.1 0h0m4.8 0h0m4.7 0h0m5 0h0m4.3 0h0m4.3 0h0m4.5 0h0m3.7 0h0m5.9 0h0m4.7 0h0m5.4 0h0m7.6 0h0m8 0h0m7.8 0h0m7.5 0h0m10.1 0h0m17 0h0m20.5 0h0m-285.4 9.7h0m18.4 0h0m23.6 0h0m25.9 0h0m23 0h0m25.2 0h0m23 0h0m24.3 0h0m-143.1 9.6h0m21.5 0h0m17.5 0h0m21.9 0h0m17.7 0h0m31.8 0h0m-156.7 11.6h0m33.4 0h0m18 0h0m18.1 0h0m14.5 0h0m20.3 0h0m28.8 0h0m88.9 0h0m-248.7 9.7h0m7.1 0h0m7.8 0h0m6.9 0h0m6.8 0h0m4.4 0h0m5.9 0h0m4.2 0h0m4.3 0h0m5 0h0m4.6 0h0m5.2 0h0m4.6 0h0m3.3 0h0m4.8 0h0m4.8 0h0m4.6 0h0m5.2 0h0m4 0h0m4.3 0h0m5.1 0h0m4.8 0h0m4.7 0h0m3.8 0h0m4.5 0h0m5.1 0h0m5.5 0h0m4.9 0h0m5.9 0h0m5.1 0h0m4.1 0h0m4.4 0h0m4.5 0h0m3.7 0h0m5.2 0h0m4.2 0h0m4.6 0h0m4.1 0h0m4.3 0h0m5.1 0h0m4.5 0h0m4.4 0h0m4.1 0h0m3.4 0h0m4.4 0h0m5.2 0h0m6.3 0h0m6.1 0h0m5.1 0h0m5.3 0h0m4 0h0m5.3 0h0m6 0h0m5.7 0h0m5.7 0h0m5.4 0h0m6.7 0h0m6.4 0h0m9.4 0h0m12.8 0h0m27.7 0h0m56.5 0h0m-396.8 9.6h0m41.9 0h0m16.3 0h0m14.6 0h0m15 0h0m18.3 0h0m16.1 0h0m17.6 0h0m19.9 0h0m-127.9 9.7h0m17 0h0m14.6 0h0m10.5 0h0m14.6 0h0m11.6 0h0m14.2 0h0m39.3 0h0m-143.2 9.6h0m21.5 0h0m11.7 0h0m11.7 0h0m13.2 0h0m14.5 0h0m10.8 0h0m21.8 0h0m30.2 0h0m-152.7 9.7h0m5.5 0h0m5.4 0h0m4.4 0h0m4.4 0h0m6 0h0m4.3 0h0m4.7 0h0m3.8 0h0m4.3 0h0m3.4 0h0m4.9 0h0m3.5 0h0m4.6 0h0m5.8 0h0m5.1 0h0m4.2 0h0m4.4 0h0m4.2 0h0m4.4 0h0m4.4 0h0m5.3 0h0m3.5 0h0m5 0h0m4.3 0h0m5.3 0h0m4.6 0h0m4.8 0h0m4.6 0h0m3.4 0h0m5.5 0h0m3.8 0h0m5 0h0m5 0h0m4.9 0h0m3.8 0h0m3.9 0h0m4.8 0h0m5.3 0h0m4 0h0m4 0h0m4.2 0h0m4.4 0h0m5.1 0h0m5 0h0m5.1 0h0m6.3 0h0m5.8 0h0m7.7 0h0m8.1 0h0m8.5 0h0m9.9 0h0m8.7 0h0m34.9 0h0m66.4 0h0m-326.6 9.6h0m20.7 0h0m21.5 0h0m23 0h0m29.7 0h0m-110.1 11.6h0m22.5 0h0m14.8 0h0m15.7 0h0m24.6 0h0m59.8 0h0m-155.5 9.7h0m4 0h0m4.2 0h0m4.1 0h0m4.7 0h0m5 0h0m3.1 0h0m4.7 0h0m5.5 0h0m4.8 0h0m4.6 0h0m5.3 0h0m5.2 0h0m4.8 0h0m4.5 0h0m4.9 0h0m4.6 0h0m3.4 0h0m5.6 0h0m5.4 0h0m5.2 0h0m6.3 0h0m4.6 0h0m5 0h0m4.5 0h0m4.1 0h0m5.2 0h0m5.1 0h0m4.5 0h0m5.3 0h0m3.9 0h0m3.5 0h0m4.2 0h0m5 0h0m4.6 0h0m4.3 0h0m4.7 0h0m4.6 0h0m4.3 0h0m5.6 0h0m5.4 0h0m6.3 0h0m10 0h0m18.1 0h0m13.6 0h0m16.6 0h0m43.7 0h0m-172.4 10.2h0m-121 9.1h0m5.5 0h0m4.3 0h0m3.8 0h0m4.9 0h0m5.6 0h0m4.8 0h0m4.8 0h0m5.5 0h0m4.8 0h0m4.5 0h0m4.3 0h0m4.7 0h0m5 0h0m4.1 0h0m5.7 0h0m5 0h0m5.3 0h0m5.5 0h0m4.5 0h0m5.5 0h0m4.6 0h0m3.8 0h0m3.7 0h0m4.7 0h0m3.8 0h0m3.9 0h0m5.1 0h0m3.8 0h0m4.4 0h0m5 0h0m4.2 0h0m5.5 0h0m5.6 0h0m7.9 0h0m6.3 0h0m7.9 0h0m7.4 0h0m11 0h0m20.5 0h0m49.9 0h0"/>
<path d="M562.1 258.7h0m-90.7 69.5h0m-14.9 50.2h0m-81.1 28.9h0m229.2 0h0m-214.3 30.9h0m17.7 9.7h0m-69.6 9.6h0m-106.4 9.7h0m294.3 0h0m-182.4 11.6h0m26 0h0m25 0h0m26.2 0h0m28.5 0h0m38.2 0h0m-105.3 9.6h0m160.3 0h0m-148.5 9.7h0m-47.2 9.6h0m57.1 9.7h0m-59.6 9.6h0m-26 9.7h0m-65.3 11.5h0m29.1 0h0m18.1 0h0m13 0h0m11.3 0h0m9.7 0h0m8.5 0h0m8.1 0h0m11.3 0h0m7.9 0h0m8.5 0h0m12.7 0h0m10 0h0m12.2 0h0m9.1 0h0m10.7 0h0m10.5 0h0m15.1 0h0m17.7 0h0m42.3 0h0m58 0h0m-329.7 9.7h0m165.9 0h0m-272.1 9.6h0m186.6 0h0m-13.6 9.7h0m83.8 0h0m-105 9.6h0m73.9 0h0m-64.7 9.7h0m54.3 0h0m-160.4 9.6h0m33.6 0h0m21 0h0m14.6 0h0m10.4 0h0m7.9 0h0m7.8 0h0m9.3 0h0m8.3 0h0m6.6 0h0m8.5 0h0m8 0h0m5.9 0h0m7.3 0h0m6.8 0h0m6.5 0h0m5.6 0h0m7.3 0h0m8.2 0h0m6 0h0m5.6 0h0m7.6 0h0m7.6 0h0m9.8 0h0m12 0h0m9.5 0h0m11.8 0h0m8.7 0h0m8.6 0h0m23.9 0h0m-277.5 11.6h0m70.8 0h0m41.6 0h0m36.4 0h0m124.6 0h0m-295.9 9.7h0m72.7 0h0m37.2 0h0m30.5 0h0m27.5 0h0m-116.6 9.6h0m32.4 0h0m31.4 0h0m90.7 0h0m-184.9 9.7h0m56.4 0h0m29.1 0h0m26 0h0m30.4 0h0m40.2 0h0m-131.3 9.6h0m29.1 0h0m24 0h0m37.5 0h0m-201.1 9.7h0m15.7 0h0m11 0h0m8.3 0h0m8.9 0h0m7.9 0h0m5.4 0h0m6.6 0h0m6.5 0h0m5.7 0h0m5.1 0h0m5.2 0h0m5.9 0h0m5.7 0h0m5.5 0h0m4.3 0h0m5.6 0h0m4.6 0h0m5 0h0m5.2 0h0m5.3 0h0m4.5 0h0m6.2 0h0m5.4 0h0m6.1 0h0m6.1 0h0m7.6 0h0m5.5 0h0m7.8 0h0m8.5 0h0m5.8 0h0m6.3 0h0m4.7 0h0m6.3 0h0m4 0h0m5.1 0h0m5.1 0h0m5.5 0h0m5.6 0h0m6 0h0m4.7 0h0m5.4 0h0m6.9 0h0m13.9 0h0m18.5 0h0m24.5 0h0m35.2 0h0m-317.4 9.6h0m56.7 0h0m18 0h0m27.1 0h0m24 0h0m20.3 0h0m-210.7 11.6h0m85.8 0h0m18.6 0h0m19 0h0m22.1 0h0m15.2 0h0m26.4 0h0m37.4 0h0m-197.9 9.6h0m61.1 0h0m18.9 0h0m15.1 0h0m20.1 0h0m24.9 0h0m30.8 0h0m88.6 0h0m-217.7 9.7h0m26.8 0h0m23 0h0m25.9 0h0m29.1 0h0m-192.1 9.6h0m23.2 0h0m8.1 0h0m7.1 0h0m6.9 0h0m5.8 0h0m6 0h0m4.8 0h0m5.1 0h0m6 0h0m4.9 0h0m5.1 0h0m5 0h0m3.7 0h0m4.7 0h0m5.3 0h0m4.6 0h0m3.4 0h0m6.2 0h0m5.1 0h0m5.6 0h0m4.5 0h0m4.8 0h0m4.2 0h0m4.8 0h0m4.8 0h0m5 0h0m4.7 0h0m7.1 0h0m4.3 0h0m4.5 0h0m5.1 0h0m4.6 0h0m4.7 0h0m3.9 0h0m4.9 0h0m5.5 0h0m4.9 0h0m5.1 0h0m5 0h0m4.7 0h0m4.9 0h0m4.4 0h0m4.5 0h0m4.3 0h0m3.5 0h0m6 0h0m4.6 0h0m5.5 0h0m7.9 0h0m7.9 0h0m8 0h0m7 0h0m10.2 0h0m17.8 0h0m20.7 0h0m-286 9.7h0m18.6 0h0m24.1 0h0m24.8 0h0m23.6 0h0m24.9 0h0m22.9 0h0m25.2 0h0m-143.4 9.6h0m21 0h0m17.1 0h0m22.1 0h0m17.9 0h0m31.5 0h0m-155.6 11.6h0m32.4 0h0m18.1 0h0m17.9 0h0m14.5 0h0m20.5 0h0m29.7 0h0m88.6 0h0m-249.4 9.7h0m7 0h0m8.4 0h0m6.2 0h0m7.2 0h0m4.1 0h0m5.8 0h0m4.3 0h0m4.4 0h0m5 0h0m4.6 0h0m5.1 0h0m4.6 0h0m3.5 0h0m4.6 0h0m4.8 0h0m4.6 0h0m5.1 0h0m4.2 0h0m4.2 0h0m5.1 0h0m4.7 0h0m4.7 0h0m3.9 0h0m4.4 0h0m5.1 0h0m5.5 0h0m5 0h0m5.8 0h0m5.1 0h0m4.1 0h0m4.4 0h0m4.5 0h0m3.8 0h0m5.1 0h0m4.3 0h0m4.5 0h0m4.2 0h0m4.4 0h0m4.9 0h0m4.6 0h0m4.4 0h0m4 0h0m3.6 0h0m4.3 0h0m5.2 0h0m6.3 0h0m6.1 0h0m5.2 0h0m5.1 0h0m4 0h0m5.6 0h0m5.8 0h0m5.6 0h0m5.8 0h0m5.4 0h0m6.6 0h0m6.5 0h0m9.3 0h0m13.3 0h0m27.6 0h0m63.5 0h0m-402.9 9.6h0m40.7 0h0m16.2 0h0m14.8 0h0m15.2 0h0m19.4 0h0m14.7 0h0m18 0h0m19.8 0h0m-128.2 9.7h0m17 0h0m14.6 0h0m10.7 0h0m14.5 0h0m11.6 0h0m14.1 0h0m39.3 0h0m-142.3 9.6h0m21 0h0m11.3 0h0m11.8 0h0m13.9 0h0m13.9 0h0m11.2 0h0m22.4 0h0m29.5 0h0m-153.2 9.7h0m5.4 0h0m5.7 0h0m4.1 0h0m4.6 0h0m5.8 0h0m4.3 0h0m4.8 0h0m3.7 0h0m4.3 0h0m3.6 0h0m4.8 0h0m3.4 0h0m4.7 0h0m5.7 0h0m5.2 0h0m4.2 0h0m4.3 0h0m4.5 0h0m4.2 0h0m4.3 0h0m5.5 0h0m3.4 0h0m4.9 0h0m4.3 0h0m5.3 0h0m4.7 0h0m4.8 0h0m4.6 0h0m3.4 0h0m5.4 0h0m3.8 0h0m5 0h0m5.3 0h0m4.7 0h0m3.7 0h0m4 0h0m4.7 0h0m5.5 0h0m3.8 0h0m4.1 0h0m4.1 0h0m4.4 0h0m5.3 0h0m4.9 0h0m5.1 0h0m6.4 0h0m5.7 0h0m7.9 0h0m7.8 0h0m8.8 0h0m9.7 0h0m9.3 0h0m34.2 0h0m67.3 0h0m-326.6 9.6h0m21.2 0h0m20.8 0h0m23.1 0h0m30.8 0h0m-111 11.6h0m21.8 0h0m15.9 0h0m14.5 0h0m24.6 0h0m63.8 0h0m-159.6 9.7h0m4.1 0h0m4.1 0h0m4 0h0m4.9 0h0m4.8 0h0m3.1 0h0m5 0h0m5.2 0h0m4.8 0h0m4.6 0h0m5.8 0h0m4.8 0h0m4.8 0h0m4.8 0h0m4.8 0h0m4.4 0h0m3.3 0h0m5.7 0h0m5.3 0h0m5.2 0h0m6.5 0h0m4.6 0h0m4.9 0h0m4.4 0h0m4.2 0h0m5.1 0h0m5.1 0h0m4.6 0h0m5.4 0h0m3.7 0h0m3.7 0h0m4.1 0h0m5.1 0h0m4.6 0h0m4.2 0h0m4.9 0h0m4.3 0h0m4.4 0h0m5.7 0h0m5.5 0h0m6.1 0h0m10.5 0h0m17.6 0h0m13.7 0h0m17 0h0m44.2 0h0m-171.5 10.2h0m-122.8 9.1h0m5.3 0h0m4.6 0h0m3.5 0h0m5.2 0h0m5.4 0h0m4.8 0h0m4.8 0h0m5.5 0h0m4.8 0h0m4.6 0h0m4.3 0h0m4.5 0h0m5.1 0h0m4.2 0h0m5.5 0h0m5.1 0h0m5.4 0h0m5.4 0h0m4.5 0h0m5.4 0h0m4.6 0h0m3.9 0h0m3.7 0h0m4.7 0h0m3.7 0h0m4.1 0h0m5 0h0m3.8 0h0m4.3 0h0m5 0h0m4.2 0h0m5.7 0h0m5.5 0h0m7.9 0h0m6.4 0h0m7.8 0h0m7.4 0h0m11 0h0m21 0h0m51.1 0h0"/>
<path d="M563.8 258.7h0m-88 69.5h0m-19.3 50.2h0m-75.4 28.9h0m245.1 0h0m-228.1 30.9h0m16.3 9.7h0m-57.9 9.6h0m-82.5 9.7h0m256.6 0h0m-364.2 11.6h0m178 0h0m26.7 0h0m23.8 0h0m26.5 0h0m28.6 0h0m38.2 0h0m-97 9.6h0m177.2 0h0m-173.1 9.7h0m-44.4 9.6h0m56.8 9.7h0m-59.1 9.6h0m-25 9.7h0m-70.2 11.5h0m29.5 0h0m17.8 0h0m13 0h0m11.2 0h0m9.7 0h0m8.5 0h0m8.3 0h0m11.1 0h0m8 0h0m8.8 0h0m12.8 0h0m9.6 0h0m12.5 0h0m8.6 0h0m10.9 0h0m10.5 0h0m15.5 0h0m17.4 0h0m43.2 0h0m65.2 0h0m-336.9 9.7h0m165.3 0h0m-220.6 9.6h0m134.8 0h0m-13.4 9.7h0m83.5 0h0m-104.2 9.6h0m75.9 0h0m-62.9 9.7h0m50.3 0h0m-161.1 9.6h0m33.9 0h0m20.9 0h0m14.6 0h0m10.3 0h0m8.1 0h0m7.4 0h0m9.4 0h0m8.2 0h0m6.9 0h0m8.2 0h0m8.1 0h0m5.9 0h0m7.2 0h0m6.9 0h0m6.5 0h0m5.6 0h0m7.2 0h0m8.2 0h0m6.2 0h0m5.5 0h0m7.7 0h0m7.7 0h0m9.6 0h0m11.9 0h0m10.1 0h0m11.2 0h0m8.7 0h0m8.6 0h0m24.4 0h0m-277.5 11.6h0m72.8 0h0m39.6 0h0m36.1 0h0m157.5 0h0m-328.9 9.7h0m73.5 0h0m37.1 0h0m29.8 0h0m27.6 0h0m-115.1 9.6h0m30.9 0h0m32.1 0h0m91.1 0h0m-186.2 9.7h0m56.7 0h0m28.9 0h0m26.4 0h0m30.2 0h0m40.2 0h0m-131.3 9.6h0m28.9 0h0m24 0h0m37.4 0h0m-200.7 9.7h0m15.5 0h0m11.1 0h0m8 0h0m9 0h0m8 0h0m5.5 0h0m6.3 0h0m6.7 0h0m5.6 0h0m5.1 0h0m5.2 0h0m6.2 0h0m5.7 0h0m5.2 0h0m4.2 0h0m5.9 0h0m4.4 0h0m5 0h0m5.2 0h0m5.2 0h0m4.5 0h0m6.3 0h0m5.3 0h0m6.2 0h0m6.4 0h0m7.4 0h0m5.6 0h0m8.2 0h0m8.3 0h0m5.6 0h0m6 0h0m5 0h0m6.1 0h0m4 0h0m5.3 0h0m4.8 0h0m5.5 0h0m5.9 0h0m5.8 0h0m4.7 0h0m5.4 0h0m7.2 0h0m13.8 0h0m18.4 0h0m24.4 0h0m35.9 0h0m-317.1 9.6h0m55.8 0h0m18.2 0h0m27.2 0h0m23.8 0h0m20.6 0h0m-198.1 11.6h0m74 0h0m18 0h0m18.9 0h0m21.9 0h0m14.8 0h0m26.5 0h0m38.1 0h0m-198.3 9.6h0m61.1 0h0m18.4 0h0m15.9 0h0m19.5 0h0m25.9 0h0m30.1 0h0m103.5 0h0m-232.8 9.7h0m27.3 0h0m23.1 0h0m25.1 0h0m29.3 0h0m-192.2 9.6h0m23.1 0h0m8.2 0h0m7 0h0m6.8 0h0m5.9 0h0m5.9 0h0m4.8 0h0m5.2 0h0m6 0h0m4.9 0h0m5.2 0h0m4.9 0h0m3.6 0h0m5.1 0h0m5.1 0h0m4.4 0h0m3.9 0h0m5.8 0h0m5.1 0h0m5.6 0h0m4.4 0h0m4.8 0h0m4.3 0h0m5 0h0m4.6 0h0m4.9 0h0m4.7 0h0m7.3 0h0m4.2 0h0m4.5 0h0m5.2 0h0m4.4 0h0m4.7 0h0m3.9 0h0m5.2 0h0m5.4 0h0m4.8 0h0m5 0h0m5.2 0h0m4.6 0h0m4.8 0h0m4.5 0h0m4.7 0h0m4.1 0h0m3.7 0h0m5.8 0h0m4.5 0h0m5.5 0h0m8.3 0h0m7.5 0h0m8.1 0h0m7.9 0h0m9.6 0h0m17.7 0h0m25.5 0h0m-290.8 9.7h0m19.5 0h0m23.1 0h0m26.3 0h0m21.9 0h0m25.1 0h0m24.5 0h0m23.9 0h0m-142.5 9.6h0m20.1 0h0m16.7 0h0m23.2 0h0m17.4 0h0m31.9 0h0m-156.7 11.6h0m32.7 0h0m19.2 0h0m16.7 0h0m14.7 0h0m21.3 0h0m31.6 0h0m92.2 0h0m-256 9.7h0m7.1 0h0m8.4 0h0m6.2 0h0m7 0h0m4.2 0h0m5.8 0h0m4.2 0h0m4.5 0h0m5 0h0m4.7 0h0m4.9 0h0m4.6 0h0m3.6 0h0m4.6 0h0m4.7 0h0m4.6 0h0m5.7 0h0m3.7 0h0m4.1 0h0m5.1 0h0m4.9 0h0m4.5 0h0m4 0h0m4.4 0h0m5.4 0h0m5.1 0h0m5 0h0m6.1 0h0m4.8 0h0m4.2 0h0m4.4 0h0m4.4 0h0m3.8 0h0m5.2 0h0m4.2 0h0m4.6 0h0m4.1 0h0m4.5 0h0m4.8 0h0m4.6 0h0m4.4 0h0m4 0h0m3.8 0h0m4.2 0h0m5.1 0h0m6.3 0h0m6.7 0h0m4.6 0h0m5.1 0h0m4.2 0h0m5.5 0h0m5.8 0h0m5.6 0h0m5.8 0h0m5.5 0h0m6.5 0h0m7.2 0h0m8.9 0h0m13.1 0h0m28.5 0h0m62.4 0h0m-401.6 9.6h0m39.4 0h0m16.8 0h0m15.1 0h0m14.4 0h0m19.6 0h0m14.6 0h0m18.3 0h0m20.4 0h0m-129.3 9.7h0m17.1 0h0m14.9 0h0m10.8 0h0m14.3 0h0m11.7 0h0m13.7 0h0m40.2 0h0m-142.2 9.6h0m20.7 0h0m10.7 0h0m12.5 0h0m13.1 0h0m14.1 0h0m11.3 0h0m22.7 0h0m30 0h0m-154.3 9.7h0m5.6 0h0m5.5 0h0m4.1 0h0m4.7 0h0m5.8 0h0m4.2 0h0m4.8 0h0m3.8 0h0m4.2 0h0m3.6 0h0m4.8 0h0m3.5 0h0m4.7 0h0m5.9 0h0m4.9 0h0m4.4 0h0m4.2 0h0m4.4 0h0m4.2 0h0m4.3 0h0m5.6 0h0m3.4 0h0m4.9 0h0m4.3 0h0m5.2 0h0m4.7 0h0m5.1 0h0m4.3 0h0m3.5 0h0m5.4 0h0m3.7 0h0m5.2 0h0m5.1 0h0m4.7 0h0m3.8 0h0m4 0h0m4.8 0h0m5.3 0h0m4 0h0m4 0h0m4.1 0h0m4.7 0h0m4.9 0h0m5 0h0m5.1 0h0m6.4 0h0m5.7 0h0m7.9 0h0m7.9 0h0m8.8 0h0m9.5 0h0m10 0h0m37 0h0m67.4 0h0m-330.1 9.6h0m21.3 0h0m20.9 0h0m23.2 0h0m30.9 0h0m-111.4 11.6h0m21.9 0h0m16 0h0m14.2 0h0m27.1 0h0m70.9 0h0m-169.1 9.7h0m4.1 0h0m4 0h0m4.1 0h0m4.9 0h0m4.8 0h0m3 0h0m5.1 0h0m5.3 0h0m4.8 0h0m4.5 0h0m5.7 0h0m4.8 0h0m4.8 0h0m4.9 0h0m4.8 0h0m4.5 0h0m3.2 0h0m5.7 0h0m5.3 0h0m5.2 0h0m6.4 0h0m4.7 0h0m4.8 0h0m4.5 0h0m4.1 0h0m5.2 0h0m5.1 0h0m4.7 0h0m5.2 0h0m3.7 0h0m3.8 0h0m4.1 0h0m5 0h0m4.7 0h0m4.2 0h0m4.9 0h0m4.2 0h0m4.5 0h0m5.7 0h0m5.4 0h0m6.3 0h0m11.2 0h0m18.9 0h0m12.4 0h0m16.3 0h0m46 0h0m-167.2 10.2h0m-129 9.1h0m5.2 0h0m4.8 0h0m3.6 0h0m5.1 0h0m5.3 0h0m4.7 0h0m4.8 0h0m5.6 0h0m4.8 0h0m4.5 0h0m4.3 0h0m4.7 0h0m5.1 0h0m4 0h0m5.8 0h0m4.9 0h0m5.4 0h0m5.3 0h0m4.6 0h0m5.5 0h0m4.5 0h0m3.9 0h0m3.8 0h0m4.5 0h0m3.8 0h0m4.1 0h0m4.9 0h0m4 0h0m4.2 0h0m4.9 0h0m4.2 0h0m5.7 0h0m5.7 0h0m7.9 0h0m6.3 0h0m7.8 0h0m7.6 0h0m10.7 0h0m22.4 0h0m51.9 0h0"/>
<path d="M581.4 258.7h0m-103 69.5h0m-11.9 50.2h0m-78.8 28.9h0m252.8 0h0m-236.7 30.9h0m13.2 9.7h0m-39.1 9.6h0m-77 9.7h0m-112.8 11.6h0m156.4 0h0m27.1 0h0m24.1 0h0m27 0h0m27.7 0h0m38.5 0h0m-84.8 9.6h0m197.3 0h0m-183.5 9.7h0m-66.5 9.6h0m56.5 9.7h0m-55.1 9.6h0m-26.9 9.7h0m-69.2 11.5h0m27.1 0h0m17.2 0h0m13 0h0m11.4 0h0m9.2 0h0m8.9 0h0m8 0h0m11.1 0h0m8.1 0h0m8.8 0h0m12.7 0h0m9.7 0h0m12.6 0h0m8.7 0h0m10.5 0h0m10.6 0h0m15.7 0h0m17.3 0h0m43.2 0h0m70.9 0h0m-337.3 9.7h0m160 0h0m-215.2 9.6h0m129.2 0h0m-10.4 9.7h0m80.8 0h0m-101.4 9.6h0m73.7 0h0m-62.8 9.7h0m52.4 0h0m-163.7 9.6h0m33.7 0h0m21.4 0h0m14.1 0h0m10.1 0h0m8.1 0h0m7.7 0h0m9.3 0h0m7.9 0h0m6.9 0h0m8.2 0h0m8.7 0h0m5.4 0h0m7.1 0h0m7.1 0h0m6.7 0h0m5.3 0h0m7.1 0h0m8.3 0h0m6.2 0h0m5.5 0h0m7.8 0h0m7.7 0h0m9.4 0h0m12 0h0m10.3 0h0m11.1 0h0m8.5 0h0m9.1 0h0m23.9 0h0m-261.4 11.6h0m56.7 0h0m39.7 0h0m36.5 0h0m-164.9 9.7h0m67.2 0h0m36.6 0h0m30.1 0h0m27.6 0h0m143.2 0h0m-258.3 9.6h0m30.6 0h0m33.5 0h0m89.6 0h0m-185 9.7h0m56.2 0h0m28.7 0h0m26.3 0h0m30.5 0h0m39.5 0h0m-130.7 9.6h0m28.3 0h0m24.1 0h0m37.9 0h0m-201.4 9.7h0m15.8 0h0m10.8 0h0m8.1 0h0m8.9 0h0m8.3 0h0m5.4 0h0m6.2 0h0m6.6 0h0m5.6 0h0m5.1 0h0m5.4 0h0m6.1 0h0m5.6 0h0m5.2 0h0m4.3 0h0m5.8 0h0m4.5 0h0m4.9 0h0m5.2 0h0m5.3 0h0m4.5 0h0m6.2 0h0m5.5 0h0m6.1 0h0m6.3 0h0m7.4 0h0m5.6 0h0m8.3 0h0m8.3 0h0m5.8 0h0m5.9 0h0m4.9 0h0m6.5 0h0m3.5 0h0m5.4 0h0m5.1 0h0m5.2 0h0m5.9 0h0m5.9 0h0m4.6 0h0m5.7 0h0m7 0h0m13.9 0h0m18.3 0h0m24.2 0h0m36 0h0m-314.7 9.6h0m53.3 0h0m18.4 0h0m27.6 0h0m23.3 0h0m24.6 0h0m-192.7 11.6h0m64.8 0h0m18.5 0h0m19.2 0h0m21 0h0m14.6 0h0m27.4 0h0m37.7 0h0m-192.6 9.6h0m55 0h0m18.5 0h0m16.2 0h0m19.1 0h0m26.1 0h0m30.4 0h0m138.5 0h0m-268.4 9.7h0m28 0h0m23.1 0h0m24.4 0h0m29.5 0h0m-192.4 9.6h0m23.1 0h0m8.2 0h0m7 0h0m6.9 0h0m6.1 0h0m6 0h0m4.9 0h0m4.7 0h0m6 0h0m4.9 0h0m5.2 0h0m4.9 0h0m3.7 0h0m5.1 0h0m5.2 0h0m4.2 0h0m4 0h0m5.8 0h0m5 0h0m5.6 0h0m4.5 0h0m4.8 0h0m4.2 0h0m5.1 0h0m4.7 0h0m5 0h0m4.7 0h0m7.2 0h0m4 0h0m4.6 0h0m5.3 0h0m4.2 0h0m4.9 0h0m3.8 0h0m5.2 0h0m5.3 0h0m4.8 0h0m5 0h0m5.5 0h0m4.4 0h0m4.7 0h0m4.6 0h0m4.7 0h0m4 0h0m3.7 0h0m5.8 0h0m4.7 0h0m5.9 0h0m7.8 0h0m7.6 0h0m7.9 0h0m7.9 0h0m9.9 0h0m18.4 0h0m25 0h0m-290.6 9.7h0m19.5 0h0m22.5 0h0m26.3 0h0m22 0h0m25.4 0h0m24.7 0h0m23.5 0h0m-142.8 9.6h0m20.5 0h0m16.4 0h0m23.1 0h0m18.2 0h0m32.5 0h0m-157.1 11.6h0m31.8 0h0m19.7 0h0m16.5 0h0m14.3 0h0m21.7 0h0m31.8 0h0m91.8 0h0m-255.9 9.7h0m6.9 0h0m8.4 0h0m6.1 0h0m7.1 0h0m4.2 0h0m5.7 0h0m4.2 0h0m4.7 0h0m4.9 0h0m4.7 0h0m4.9 0h0m4.5 0h0m3.6 0h0m4.6 0h0m4.7 0h0m4.7 0h0m5.8 0h0m3.5 0h0m4.1 0h0m5.2 0h0m4.9 0h0m4.6 0h0m3.9 0h0m4.3 0h0m5.4 0h0m5.1 0h0m5.1 0h0m6.1 0h0m4.8 0h0m4.2 0h0m4.5 0h0m4.2 0h0m3.9 0h0m5.3 0h0m4 0h0m4.6 0h0m4.2 0h0m4.7 0h0m4.7 0h0m4.4 0h0m4.5 0h0m4.1 0h0m3.6 0h0m4.2 0h0m5.6 0h0m6 0h0m6.6 0h0m4.6 0h0m5.1 0h0m4.1 0h0m5.5 0h0m6.1 0h0m5.6 0h0m5.5 0h0m5.7 0h0m6.4 0h0m7.1 0h0m8.9 0h0m13.2 0h0m31.5 0h0m77 0h0m-417.6 9.6h0m39.3 0h0m15.3 0h0m15.2 0h0m14.2 0h0m19.9 0h0m14.8 0h0m17.9 0h0m20.4 0h0m-128.6 9.7h0m16.4 0h0m15 0h0m10.8 0h0m14.2 0h0m11.6 0h0m13.9 0h0m40.9 0h0m-142.9 9.6h0m20.8 0h0m10.6 0h0m12.6 0h0m13 0h0m13.9 0h0m12.4 0h0m21.6 0h0m30.8 0h0m-155 9.7h0m5.7 0h0m5.6 0h0m4 0h0m4.7 0h0m5.7 0h0m4.3 0h0m4.7 0h0m3.7 0h0m4.2 0h0m3.8 0h0m4.6 0h0m3.9 0h0m4.5 0h0m5.9 0h0m4.8 0h0m4.4 0h0m4.2 0h0m4.8 0h0m3.8 0h0m4.4 0h0m5.4 0h0m3.5 0h0m4.8 0h0m4.6 0h0m5.3 0h0m4.6 0h0m4.8 0h0m4.4 0h0m3.4 0h0m5.6 0h0m3.7 0h0m5 0h0m5.2 0h0m4.7 0h0m3.7 0h0m4 0h0m5.1 0h0m5.4 0h0m3.6 0h0m4.1 0h0m4 0h0m4.7 0h0m5 0h0m5 0h0m5 0h0m6.4 0h0m5.7 0h0m8 0h0m8 0h0m8.9 0h0m9.3 0h0m10.1 0h0m37 0h0m79.6 0h0m-342.3 9.6h0m21.2 0h0m21.1 0h0m23.2 0h0m30.7 0h0m-111.3 11.6h0m22.7 0h0m15.1 0h0m14.2 0h0m27.1 0h0m72.4 0h0m-170.6 9.7h0m4 0h0m4.1 0h0m4.1 0h0m4.9 0h0m4.8 0h0m3.1 0h0m5 0h0m5.2 0h0m4.8 0h0m4.5 0h0m5.8 0h0m4.8 0h0m4.9 0h0m4.7 0h0m5.1 0h0m4.3 0h0m3.3 0h0m5.6 0h0m5.2 0h0m5.3 0h0m6.5 0h0m4.6 0h0m4.7 0h0m4.6 0h0m4.3 0h0m5 0h0m5.2 0h0m4.6 0h0m5.2 0h0m3.8 0h0m3.8 0h0m4 0h0m5.1 0h0m4.5 0h0m4.3 0h0m4.8 0h0m4.2 0h0m4.5 0h0m5.7 0h0m5.4 0h0m6.5 0h0m11.5 0h0m18.6 0h0m13 0h0m16.7 0h0m47.2 0h0m-160.2 10.2h0m-138.4 9.1h0m5.2 0h0m5.1 0h0m3.3 0h0m5.2 0h0m5.3 0h0m4.7 0h0m4.7 0h0m5.6 0h0m5.1 0h0m4.2 0h0m4.4 0h0m4.6 0h0m5.3 0h0m4.2 0h0m5.6 0h0m4.8 0h0m5.5 0h0m5.1 0h0m4.8 0h0m5.3 0h0m4.5 0h0m3.9 0h0m3.8 0h0m4.7 0h0m3.6 0h0m4.1 0h0m5 0h0m3.9 0h0m4.4 0h0m4.7 0h0m4.3 0h0m5.7 0h0m5.6 0h0m8 0h0m6.2 0h0m7.8 0h0m7.7 0h0m10.7 0h0m22.7 0h0m54.6 0h0"/>
<path d="M478.4 268.4h0m3 59.8h0m81 50.2h0m-169.7 28.9h0m-72.4 11.6h0m93.2 19.3h0m4.1 9.7h0m-26.6 9.6h0m-55 9.7h0m-147.1 11.6h0m156.2 0h0m26.8 0h0m24.4 0h0m26.8 0h0m28.1 0h0m37.8 0h0m-80.1 9.6h0m192.5 0h0m-181.3 9.7h0m-67.3 9.6h0m59 9.7h0m-56.2 9.6h0m-28.9 9.7h0m-69.9 11.5h0m27.1 0h0m17.2 0h0m13.4 0h0m11.4 0h0m8.9 0h0m8.7 0h0m8.3 0h0m11 0h0m7.9 0h0m9.1 0h0m12.8 0h0m9.7 0h0m12.2 0h0m9 0h0m10.3 0h0m10.6 0h0m15.7 0h0m17.4 0h0m43.2 0h0m74 0h0m-334.1 9.7h0m155.4 0h0m-207.5 9.6h0m122.4 0h0m-12 9.7h0m82.8 0h0m-103.5 9.6h0m72.8 0h0m-62.6 9.7h0m55.3 0h0m-166.9 9.6h0m33.7 0h0m21.7 0h0m14.1 0h0m9.7 0h0m8.2 0h0m7.6 0h0m9.3 0h0m8 0h0m6.8 0h0m8.5 0h0m8.4 0h0m5.4 0h0m7.1 0h0m7.1 0h0m6.7 0h0m5.5 0h0m7.6 0h0m7.6 0h0m6.2 0h0m5.5 0h0m7.9 0h0m7.8 0h0m9.4 0h0m12.1 0h0m10.3 0h0m11 0h0m8.5 0h0m9.3 0h0m26 0h0m-257.4 11.6h0m51.3 0h0m39.7 0h0m35.5 0h0m-164.6 9.7h0m67.1 0h0m36.9 0h0m29.7 0h0m30.6 0h0m146.7 0h0m-264.8 9.6h0m30.8 0h0m33.3 0h0m92.2 0h0m-180.8 9.7h0m50.1 0h0m27.9 0h0m26.7 0h0m30.1 0h0m47.8 0h0m-138.8 9.6h0m28 0h0m24.9 0h0m38.7 0h0m-202.9 9.7h0m16.2 0h0m10.4 0h0m8.1 0h0m9 0h0m8.2 0h0m5.4 0h0m6.2 0h0m6.7 0h0m5.5 0h0m5.5 0h0m5 0h0m6.4 0h0m5.3 0h0m5.2 0h0m4.4 0h0m5.7 0h0m4.5 0h0m5 0h0m5.1 0h0m5.2 0h0m4.5 0h0m6.3 0h0m5.5 0h0m6 0h0m6.4 0h0m7.5 0h0m5.5 0h0m8.2 0h0m8.7 0h0m5.5 0h0m5.8 0h0m4.9 0h0m6.6 0h0m3.9 0h0m4.9 0h0m5.5 0h0m4.9 0h0m5.8 0h0m6 0h0m4.6 0h0m5.9 0h0m6.7 0h0m14.5 0h0m18.4 0h0m25.3 0h0m34.6 0h0m-312.8 9.6h0m51.1 0h0m18.5 0h0m27.5 0h0m23.6 0h0m28.6 0h0m-184.5 11.6h0m52.8 0h0m17.9 0h0m19.3 0h0m21.5 0h0m14.5 0h0m27.3 0h0m39 0h0m-194.1 9.6h0m55.5 0h0m18 0h0m16 0h0m19.3 0h0m26 0h0m30.3 0h0m-129 9.7h0m27.9 0h0m22.8 0h0m25.1 0h0m29.5 0h0m-192 9.6h0m21.7 0h0m8.1 0h0m6.9 0h0m6.9 0h0m6.1 0h0m6 0h0m5 0h0m4.7 0h0m6 0h0m4.8 0h0m5.2 0h0m5.2 0h0m3.5 0h0m5.2 0h0m5 0h0m4.2 0h0m4.1 0h0m5.7 0h0m5.1 0h0m5.6 0h0m4.4 0h0m4.8 0h0m4.3 0h0m5 0h0m4.8 0h0m5 0h0m4.6 0h0m7.3 0h0m4 0h0m4.8 0h0m5.1 0h0m4.2 0h0m4.9 0h0m3.8 0h0m5.3 0h0m5.2 0h0m4.8 0h0m5 0h0m5.6 0h0m4.4 0h0m4.8 0h0m4.4 0h0m4.8 0h0m3.9 0h0m3.8 0h0m5.7 0h0m4.7 0h0m5.8 0h0m8.1 0h0m7.4 0h0m7.9 0h0m8.3 0h0m9.5 0h0m18.6 0h0m26.2 0h0m-291.2 9.7h0m18.7 0h0m22.5 0h0m26.7 0h0m21.7 0h0m25.7 0h0m24.6 0h0m23.3 0h0m-142.5 9.6h0m20.1 0h0m16.5 0h0m23.6 0h0m18.6 0h0m31.6 0h0m-157.3 11.6h0m33.2 0h0m18.5 0h0m16.6 0h0m16.5 0h0m20.1 0h0m33.1 0h0m99.8 0h0m-266 9.7h0m7 0h0m8.3 0h0m6.2 0h0m7 0h0m4.4 0h0m5.5 0h0m4.2 0h0m4.6 0h0m4.9 0h0m4.7 0h0m5.2 0h0m4.5 0h0m3.6 0h0m4.6 0h0m4.5 0h0m4.6 0h0m5.9 0h0m3.9 0h0m3.8 0h0m5.1 0h0m4.9 0h0m4.7 0h0m3.8 0h0m4.4 0h0m5.2 0h0m5.1 0h0m5.5 0h0m5.8 0h0m4.7 0h0m4.2 0h0m4.5 0h0m4.2 0h0m4 0h0m5.2 0h0m4.1 0h0m4.6 0h0m4.1 0h0m4.8 0h0m4.9 0h0m4.3 0h0m4.4 0h0m4 0h0m3.7 0h0m4.5 0h0m5.3 0h0m6 0h0m6.5 0h0m4.7 0h0m5 0h0m4.1 0h0m5.6 0h0m6.2 0h0m5.4 0h0m5.6 0h0m5.8 0h0m6.5 0h0m7.1 0h0m9 0h0m12.9 0h0m32.6 0h0m89.8 0h0m-430.8 9.6h0m38.6 0h0m15.5 0h0m15.5 0h0m15.4 0h0m18.3 0h0m14.7 0h0m17.9 0h0m20.4 0h0m-128.5 9.7h0m16.4 0h0m14.9 0h0m10.9 0h0m14.2 0h0m11.5 0h0m13.8 0h0m42.1 0h0m-143.9 9.6h0m21.1 0h0m10.1 0h0m13 0h0m13 0h0m13.8 0h0m12.4 0h0m21.6 0h0m31.4 0h0m-155.7 9.7h0m5.6 0h0m5.6 0h0m4.1 0h0m4.8 0h0m5.5 0h0m4.2 0h0m4.8 0h0m3.7 0h0m4.1 0h0m3.8 0h0m4.7 0h0m3.9 0h0m4.4 0h0m6.1 0h0m4.7 0h0m4.3 0h0m4.2 0h0m4.8 0h0m3.8 0h0m4.5 0h0m5.3 0h0m3.6 0h0m4.8 0h0m4.6 0h0m5.4 0h0m4.4 0h0m5 0h0m4.3 0h0m3.9 0h0m5 0h0m3.8 0h0m5 0h0m5.2 0h0m4.6 0h0m3.8 0h0m3.9 0h0m5.1 0h0m5.5 0h0m3.6 0h0m4 0h0m4.2 0h0m4.6 0h0m5 0h0m4.9 0h0m5.3 0h0m6.2 0h0m5.6 0h0m8.1 0h0m8.1 0h0m9.3 0h0m8.9 0h0m10.5 0h0m36.6 0h0m82.2 0h0m-345 9.6h0m21.6 0h0m20.8 0h0m24.2 0h0m29.6 0h0m-111.2 11.6h0m23.1 0h0m14.6 0h0m14.5 0h0m27.1 0h0m93.4 0h0m-192 9.7h0m4 0h0m4.3 0h0m4 0h0m4.8 0h0m4.9 0h0m3 0h0m5.4 0h0m4.9 0h0m4.7 0h0m4.5 0h0m5.9 0h0m4.7 0h0m4.9 0h0m5 0h0m4.8 0h0m4.4 0h0m3.3 0h0m5.9 0h0m4.8 0h0m5.3 0h0m6.5 0h0m4.8 0h0m4.6 0h0m4.6 0h0m4.2 0h0m5 0h0m5.4 0h0m4.6 0h0m5 0h0m3.9 0h0m3.7 0h0m4 0h0m5.1 0h0m4.6 0h0m4.5 0h0m4.7 0h0m4 0h0m4.6 0h0m6 0h0m5.3 0h0m6.7 0h0m11.5 0h0m18.1 0h0m13.2 0h0m17.5 0h0m47.5 0h0m-156.8 10.2h0m-142.9 9.1h0m5.1 0h0m5 0h0m3.5 0h0m5.3 0h0m5.2 0h0m4.5 0h0m4.9 0h0m5.4 0h0m5.2 0h0m4.2 0h0m4.3 0h0m4.7 0h0m5.2 0h0m4.2 0h0m5.7 0h0m4.8 0h0m6 0h0m4.6 0h0m4.9 0h0m5.2 0h0m4.5 0h0m3.9 0h0m3.9 0h0m4.6 0h0m3.5 0h0m4.3 0h0m4.8 0h0m3.9 0h0m4.4 0h0m4.8 0h0m4.5 0h0m5.6 0h0m5.6 0h0m7.9 0h0m6.2 0h0m8 0h0m7.4 0h0m11 0h0m23.9 0h0m55.5 0h0"/>
</g></g>
<path d="M34.97 903.35L869.60 73.45" stroke="#00f" stroke-opacity=".33" stroke-width="4.17" stroke-linecap="square" fill="none"/>
</g>
<rect x="58.5" y="110.5" width="775.0" height="770.0" fill="none" stroke="#000" stroke-width="1.11"/>
<path d="M93.5 880.5v4.86M58.5 845.5h-4.86M190.5 880.5v4.86M58.5 749.5h-4.86M287.5 880.5v4.86M58.5 652.5h-4.86M384.5 880.5v4.86M58.5 556.5h-4.86M481.5 880.5v4.86M58.5 459.5h-4.86M578.5 880.5v4.86M58.5 363.5h-4.86M676.5 880.5v4.86M58.5 266.5h-4.86M773.5 880.5v4.86M58.5 170.5h-4.86" stroke="#000" stroke-width="1.11" fill="none"/>
<g opacity=".99">
<g font-family="Liberation Sans, sans-serif" font-size="14.14" fill="#000">
<text transform="translate(93.20 901.2) scale(1.1239 1)" text-anchor="middle">0</text>
<text transform="translate(48.8 850.55) scale(1.1239 1)" text-anchor="end">0</text>
<text transform="translate(190.25 901.2) scale(1.1239 1)" text-anchor="middle">5</text>
<text transform="translate(48.8 754.05) scale(1.1239 1)" text-anchor="end">5</text>
<text transform="translate(287.30 901.2) scale(1.1239 1)" text-anchor="middle">10</text>
<text transform="translate(48.8 657.55) scale(1.1239 1)" text-anchor="end">10</text>
<text transform="translate(384.35 901.2) scale(1.1239 1)" text-anchor="middle">15</text>
<text transform="translate(48.8 561.05) scale(1.1239 1)" text-anchor="end">15</text>
<text transform="translate(481.40 901.2) scale(1.1239 1)" text-anchor="middle">20</text>
<text transform="translate(48.8 464.55) scale(1.1239 1)" text-anchor="end">20</text>
<text transform="translate(578.45 901.2) scale(1.1239 1)" text-anchor="middle">25</text>
<text transform="translate(48.8 368.05) scale(1.1239 1)" text-anchor="end">25</text>
<text transform="translate(675.50 901.2) scale(1.1239 1)" text-anchor="middle">30</text>
<text transform="translate(48.8 271.55) scale(1.1239 1)" text-anchor="end">30</text>
<text transform="translate(772.55 901.2) scale(1.1239 1)" text-anchor="middle">35</text>
<text transform="translate(48.8 175.05) scale(1.1239 1)" text-anchor="end">35</text>
</g>
<text font-family="Liberation Sans, sans-serif" font-size="16.97" transform="translate(445.2 920.5) scale(1.1164 1)" text-anchor="middle">Simulated</text>
<text font-family="Liberation Sans, sans-serif" font-size="16.97" transform="translate(22.5 496.5) rotate(-90) scale(1.0902 1)" text-anchor="middle">Observed</text>
<text font-family="Liberation Sans, sans-serif" font-size="19.79" transform="translate(432.3 24.8) scale(1.1178 1)" text-anchor="middle">X-Y plot for wind speed at 10m agl</text>
<text font-family="Liberation Sans, sans-serif" font-size="19.79" transform="translate(433.4 46.6) scale(1.1455 1)" text-anchor="middle">from rav2-84-85 during winter</text>
</g>
</svg>
</body></html>
